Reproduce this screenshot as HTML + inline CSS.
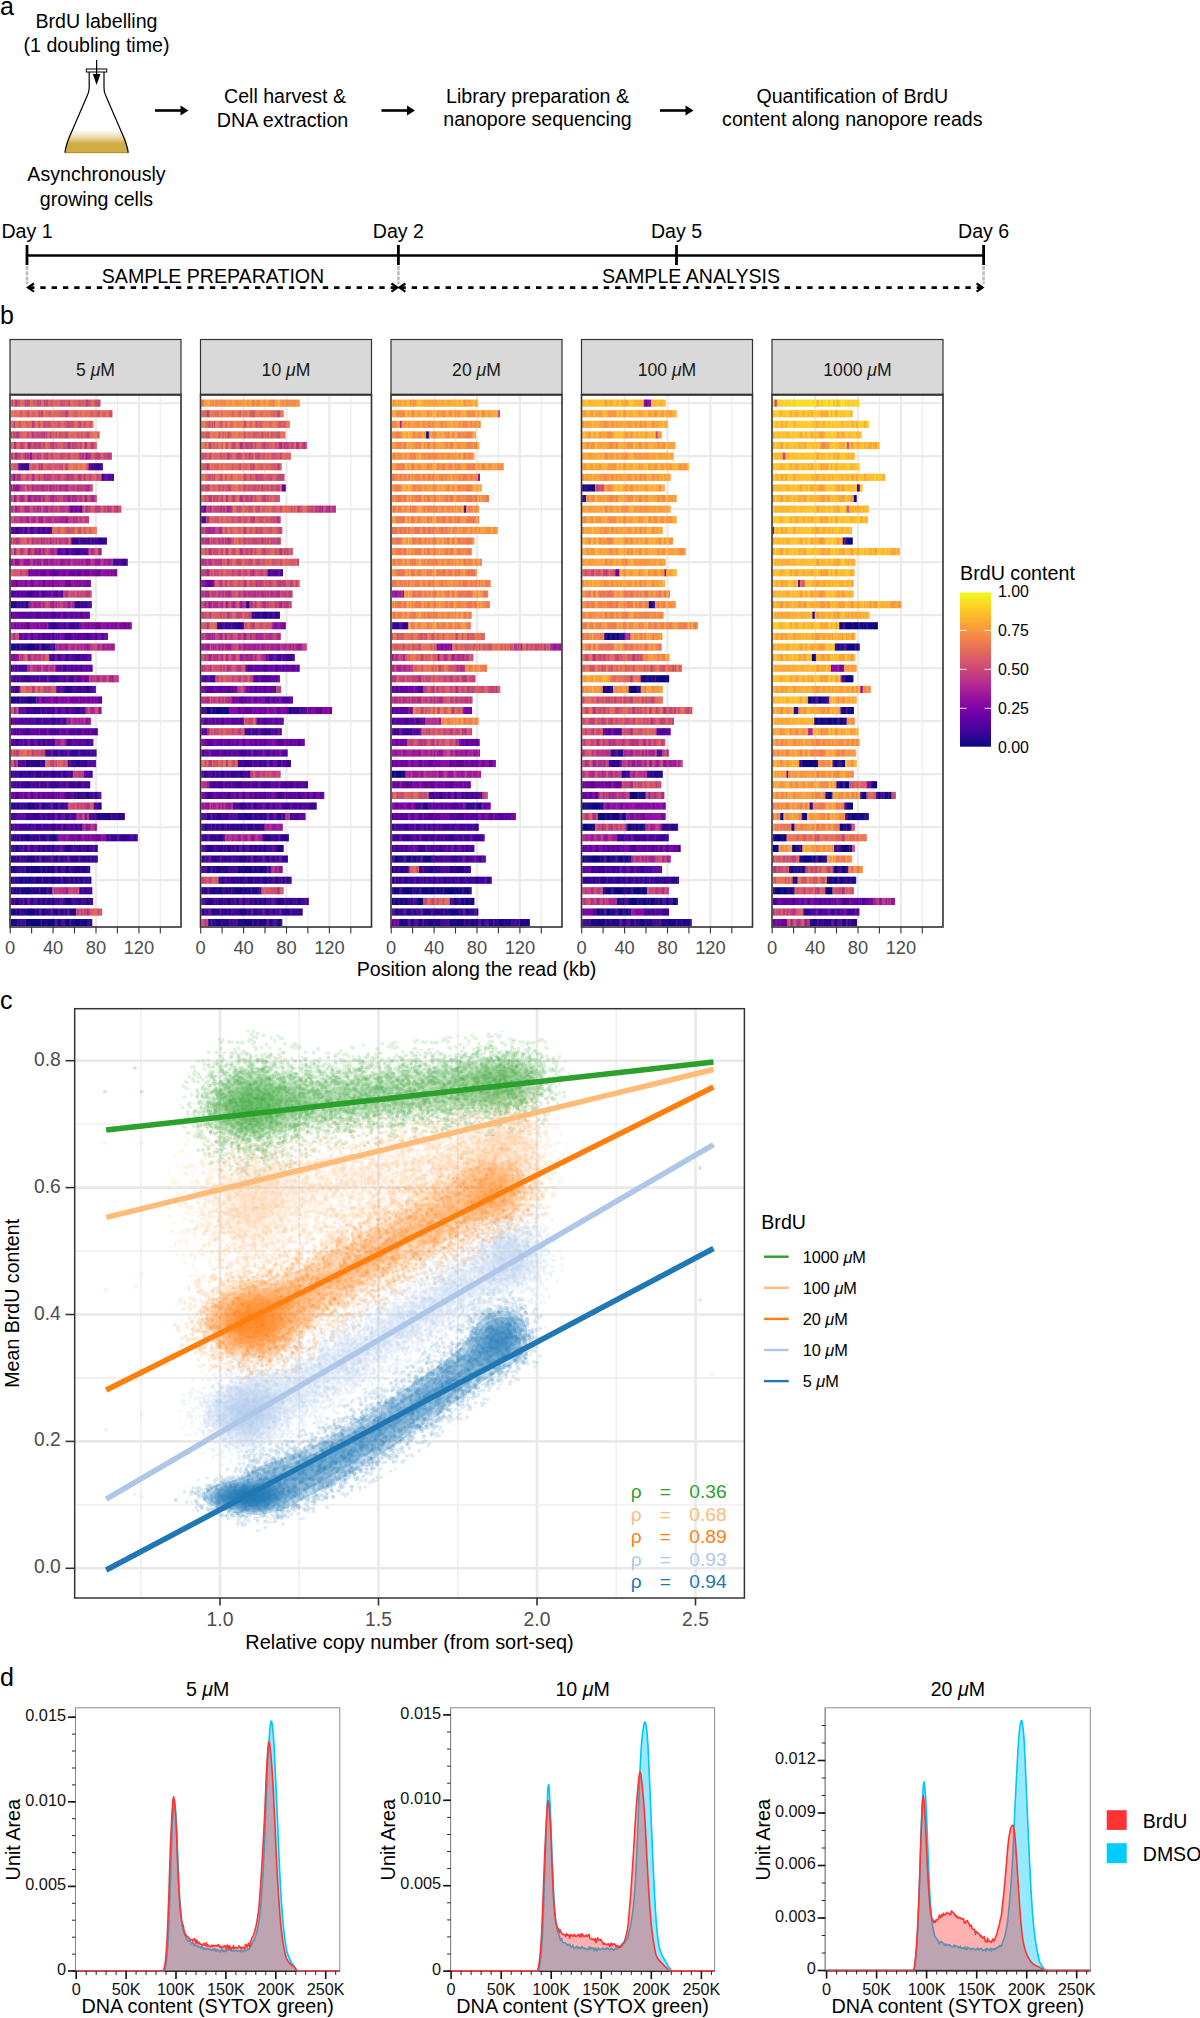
<!DOCTYPE html><html><head><meta charset="utf-8"><style>html,body{margin:0;padding:0;background:#fff;width:1200px;height:2018px;overflow:hidden}svg{display:block;font-family:"Liberation Sans",sans-serif}</style></head><body><svg width="1200" height="2018" viewBox="0 0 1200 2018" font-family="Liberation Sans, sans-serif"><text x="0.0" y="14.5" font-size="25" text-anchor="start" fill="#000" >a</text>
<text x="96.5" y="27.5" font-size="19.6" text-anchor="middle" fill="#000" >BrdU labelling</text>
<text x="96.5" y="51.9" font-size="19.6" text-anchor="middle" fill="#000" >(1 doubling time)</text>
<defs><linearGradient id="liq" x1="0" y1="0" x2="0" y2="1"><stop offset="0" stop-color="#fff" stop-opacity="1"/><stop offset="0.35" stop-color="#e9d7a6"/><stop offset="0.6" stop-color="#d0ac45"/><stop offset="1" stop-color="#d0ac45"/></linearGradient></defs>
<path d="M69.5 130 L123.6 130 Q127 142 128.2 152.7 L65 152.7 Q66 142 69.5 130 Z" fill="url(#liq)"/>
<path d="M65 152.7 L128.2 152.7" fill="none" stroke="#a88a30" stroke-width="1"/>
<path d="M89.2 71 L89.2 88 Q89 92 87.5 95 L69 138 Q65.5 147 65 152.7 M128.2 152.7 Q127.6 147 124 138 L105.5 95 Q104 92 104 88 L104 71" fill="none" stroke="#000" stroke-width="1.2"/>
<rect x="86.3" y="69" width="20.4" height="3" fill="#fff" stroke="#000" stroke-width="1"/>
<line x1="96.6" y1="60" x2="96.6" y2="80" stroke="#000" stroke-width="1.2"/>
<path d="M92.8 74 L100.4 74 L96.6 85 Z" fill="#000"/>
<text x="96.5" y="181.0" font-size="19.6" text-anchor="middle" fill="#000" >Asynchronously</text>
<text x="96.5" y="206.2" font-size="19.6" text-anchor="middle" fill="#000" >growing cells</text>
<line x1="155" y1="110.5" x2="182.5" y2="110.5" stroke="#000" stroke-width="2.6"/>
<path d="M180.5 105.5 L188.5 110.5 L180.5 115.5 Z" fill="#000"/>
<line x1="381.5" y1="110.5" x2="409" y2="110.5" stroke="#000" stroke-width="2.6"/>
<path d="M407 105.5 L415 110.5 L407 115.5 Z" fill="#000"/>
<line x1="660" y1="110.5" x2="687.5" y2="110.5" stroke="#000" stroke-width="2.6"/>
<path d="M685.5 105.5 L693.5 110.5 L685.5 115.5 Z" fill="#000"/>
<text x="285.0" y="102.5" font-size="19.6" text-anchor="middle" fill="#000" >Cell harvest &amp;</text>
<text x="282.6" y="126.5" font-size="19.6" text-anchor="middle" fill="#000" textLength="131.5" lengthAdjust="spacingAndGlyphs">DNA extraction</text>
<text x="537.5" y="102.5" font-size="19.6" text-anchor="middle" fill="#000" >Library preparation &amp;</text>
<text x="537.5" y="126.0" font-size="19.6" text-anchor="middle" fill="#000" >nanopore sequencing</text>
<text x="852.3" y="102.5" font-size="19.6" text-anchor="middle" fill="#000" >Quantification of BrdU</text>
<text x="852.3" y="126.0" font-size="19.6" text-anchor="middle" fill="#000" >content along nanopore reads</text>
<line x1="27" y1="255.5" x2="983.6" y2="255.5" stroke="#000" stroke-width="2.7"/>
<line x1="27" y1="245" x2="27" y2="265" stroke="#000" stroke-width="2.8"/>
<line x1="398.4" y1="245" x2="398.4" y2="265" stroke="#000" stroke-width="2.8"/>
<line x1="676.5" y1="245" x2="676.5" y2="265" stroke="#000" stroke-width="2.8"/>
<line x1="983.6" y1="245" x2="983.6" y2="265" stroke="#000" stroke-width="2.8"/>
<line x1="27" y1="266" x2="27" y2="284" stroke="#bdbdbd" stroke-width="2.6" stroke-dasharray="4 1.2"/>
<line x1="398.4" y1="266" x2="398.4" y2="284" stroke="#bdbdbd" stroke-width="2.6" stroke-dasharray="4 1.2"/>
<line x1="983.6" y1="266" x2="983.6" y2="284" stroke="#bdbdbd" stroke-width="2.6" stroke-dasharray="4 1.2"/>
<text x="27.0" y="238.0" font-size="19.6" text-anchor="middle" fill="#000" >Day 1</text>
<text x="398.4" y="238.0" font-size="19.6" text-anchor="middle" fill="#000" >Day 2</text>
<text x="676.5" y="238.0" font-size="19.6" text-anchor="middle" fill="#000" >Day 5</text>
<text x="983.6" y="238.0" font-size="19.6" text-anchor="middle" fill="#000" >Day 6</text>
<line x1="29" y1="287.6" x2="396.4" y2="287.6" stroke="#000" stroke-width="2.6" stroke-dasharray="5.4 5.9"/>
<path d="M34 283.5 L28 287.6 L34 291.7" fill="none" stroke="#000" stroke-width="2.2"/>
<path d="M391.4 283.5 L397.4 287.6 L391.4 291.7" fill="none" stroke="#000" stroke-width="2.2"/>
<line x1="400.4" y1="287.6" x2="981.6" y2="287.6" stroke="#000" stroke-width="2.6" stroke-dasharray="5.4 5.9"/>
<path d="M405.4 283.5 L399.4 287.6 L405.4 291.7" fill="none" stroke="#000" stroke-width="2.2"/>
<path d="M976.6 283.5 L982.6 287.6 L976.6 291.7" fill="none" stroke="#000" stroke-width="2.2"/>
<text x="213.0" y="282.5" font-size="19.6" text-anchor="middle" fill="#000" >SAMPLE PREPARATION</text>
<text x="691.0" y="282.5" font-size="19.6" text-anchor="middle" fill="#000" >SAMPLE ANALYSIS</text>
<text x="0.0" y="324.0" font-size="25" text-anchor="start" fill="#000" >b</text>
<defs><pattern id="texD" patternUnits="userSpaceOnUse" x="0" y="397.9" width="70.6" height="53"><path d="M0.0 0.0h2.1v10.6h-2.1zM30.0 0.0h1.1v10.6h-1.1zM54.6 0.0h1.1v10.6h-1.1zM65.3 0.0h1.1v10.6h-1.1zM8.6 10.6h1.1v10.6h-1.1zM17.1 10.6h2.1v10.6h-2.1zM9.6 21.2h1.1v10.6h-1.1zM15.0 21.2h1.1v10.6h-1.1zM20.3 21.2h1.1v10.6h-1.1zM65.3 21.2h2.1v10.6h-2.1zM67.4 21.2h1.1v10.6h-1.1zM68.5 21.2h2.1v10.6h-2.1zM27.8 31.8h1.1v10.6h-1.1zM36.4 31.8h2.1v10.6h-2.1zM1.1 42.4h1.1v10.6h-1.1zM7.5 42.4h2.1v10.6h-2.1zM25.7 42.4h2.1v10.6h-2.1zM35.3 42.4h2.1v10.6h-2.1zM52.4 42.4h2.1v10.6h-2.1z" fill="#08005a" fill-opacity="0.25"/><path d="M2.1 0.0h1.1v10.6h-1.1zM6.4 0.0h2.1v10.6h-2.1zM26.8 0.0h1.1v10.6h-1.1zM67.4 0.0h1.1v10.6h-1.1zM35.3 10.6h1.1v10.6h-1.1zM65.3 10.6h1.1v10.6h-1.1zM59.9 31.8h1.1v10.6h-1.1zM69.5 31.8h1.1v10.6h-1.1zM2.1 42.4h2.1v10.6h-2.1zM19.3 42.4h1.1v10.6h-1.1z" fill="#a828a8" fill-opacity="0.15"/><path d="M3.2 0.0h1.1v10.6h-1.1zM61.0 0.0h2.1v10.6h-2.1zM46.0 10.6h1.1v10.6h-1.1zM66.3 10.6h2.1v10.6h-2.1zM2.1 21.2h1.1v10.6h-1.1zM13.9 21.2h1.1v10.6h-1.1zM19.3 21.2h1.1v10.6h-1.1zM22.5 21.2h1.1v10.6h-1.1zM26.8 21.2h2.1v10.6h-2.1zM35.3 21.2h1.1v10.6h-1.1zM54.6 21.2h1.1v10.6h-1.1zM7.5 31.8h2.1v10.6h-2.1zM35.3 31.8h1.1v10.6h-1.1zM57.8 31.8h1.1v10.6h-1.1zM61.0 42.4h1.1v10.6h-1.1z" fill="#a828a8" fill-opacity="0.40"/><path d="M4.3 0.0h2.1v10.6h-2.1zM27.8 0.0h1.1v10.6h-1.1zM42.8 0.0h2.1v10.6h-2.1zM46.0 0.0h1.1v10.6h-1.1zM51.4 0.0h1.1v10.6h-1.1zM2.1 10.6h2.1v10.6h-2.1zM4.3 10.6h1.1v10.6h-1.1zM63.1 10.6h1.1v10.6h-1.1zM4.3 21.2h1.1v10.6h-1.1zM17.1 21.2h2.1v10.6h-2.1zM24.6 21.2h1.1v10.6h-1.1zM25.7 21.2h1.1v10.6h-1.1zM49.2 21.2h1.1v10.6h-1.1zM32.1 31.8h1.1v10.6h-1.1zM33.2 31.8h1.1v10.6h-1.1zM4.3 42.4h1.1v10.6h-1.1zM41.7 42.4h1.1v10.6h-1.1zM67.4 42.4h1.1v10.6h-1.1zM68.5 42.4h1.1v10.6h-1.1z" fill="#08005a" fill-opacity="0.15"/><path d="M8.6 0.0h1.1v10.6h-1.1zM23.5 0.0h1.1v10.6h-1.1zM55.6 0.0h1.1v10.6h-1.1zM58.9 10.6h2.1v10.6h-2.1zM10.7 21.2h2.1v10.6h-2.1zM23.5 21.2h1.1v10.6h-1.1zM58.9 21.2h1.1v10.6h-1.1zM58.9 31.8h1.1v10.6h-1.1zM66.3 31.8h1.1v10.6h-1.1zM17.1 42.4h2.1v10.6h-2.1z" fill="#a828a8" fill-opacity="0.25"/><path d="M9.6 0.0h1.1v10.6h-1.1zM24.6 0.0h1.1v10.6h-1.1zM36.4 0.0h2.1v10.6h-2.1zM52.4 0.0h2.1v10.6h-2.1zM63.1 0.0h2.1v10.6h-2.1zM1.1 10.6h1.1v10.6h-1.1zM15.0 10.6h1.1v10.6h-1.1zM23.5 10.6h1.1v10.6h-1.1zM25.7 10.6h2.1v10.6h-2.1zM27.8 10.6h2.1v10.6h-2.1zM43.9 10.6h1.1v10.6h-1.1zM44.9 10.6h1.1v10.6h-1.1zM53.5 10.6h1.1v10.6h-1.1zM54.6 10.6h1.1v10.6h-1.1zM6.4 21.2h1.1v10.6h-1.1zM12.8 21.2h1.1v10.6h-1.1zM16.1 21.2h1.1v10.6h-1.1zM31.0 21.2h2.1v10.6h-2.1zM42.8 21.2h2.1v10.6h-2.1zM6.4 31.8h1.1v10.6h-1.1zM28.9 31.8h1.1v10.6h-1.1zM30.0 31.8h1.1v10.6h-1.1zM49.2 31.8h1.1v10.6h-1.1zM55.6 31.8h2.1v10.6h-2.1zM62.1 31.8h1.1v10.6h-1.1zM48.2 42.4h1.1v10.6h-1.1z" fill="#08005a" fill-opacity="0.30"/><path d="M10.7 0.0h1.1v10.6h-1.1zM6.4 10.6h2.1v10.6h-2.1zM40.7 10.6h1.1v10.6h-1.1zM57.8 10.6h1.1v10.6h-1.1zM9.6 31.8h1.1v10.6h-1.1zM21.4 31.8h1.1v10.6h-1.1zM33.2 42.4h2.1v10.6h-2.1zM37.5 42.4h2.1v10.6h-2.1z" fill="#08005a" fill-opacity="0.35"/><path d="M11.8 0.0h1.1v10.6h-1.1zM16.1 10.6h1.1v10.6h-1.1zM38.5 10.6h2.1v10.6h-2.1zM47.1 10.6h2.1v10.6h-2.1zM62.1 21.2h2.1v10.6h-2.1zM19.3 31.8h2.1v10.6h-2.1zM22.5 31.8h1.1v10.6h-1.1zM48.2 31.8h1.1v10.6h-1.1zM64.2 31.8h1.1v10.6h-1.1zM20.3 42.4h2.1v10.6h-2.1zM62.1 42.4h2.1v10.6h-2.1z" fill="#a828a8" fill-opacity="0.30"/><path d="M13.9 0.0h1.1v10.6h-1.1zM34.2 0.0h1.1v10.6h-1.1zM41.7 0.0h1.1v10.6h-1.1zM36.4 21.2h1.1v10.6h-1.1zM59.9 21.2h2.1v10.6h-2.1zM39.6 31.8h2.1v10.6h-2.1zM50.3 31.8h2.1v10.6h-2.1zM24.6 42.4h1.1v10.6h-1.1zM54.6 42.4h2.1v10.6h-2.1zM64.2 42.4h1.1v10.6h-1.1z" fill="#a828a8" fill-opacity="0.45"/><path d="M15.0 0.0h1.1v10.6h-1.1zM21.4 0.0h1.1v10.6h-1.1zM22.5 0.0h1.1v10.6h-1.1zM28.9 0.0h1.1v10.6h-1.1zM40.7 0.0h1.1v10.6h-1.1zM0.0 10.6h1.1v10.6h-1.1zM9.6 10.6h1.1v10.6h-1.1zM20.3 10.6h2.1v10.6h-2.1zM36.4 10.6h1.1v10.6h-1.1zM37.5 10.6h1.1v10.6h-1.1zM49.2 10.6h2.1v10.6h-2.1zM51.4 10.6h2.1v10.6h-2.1zM53.5 21.2h1.1v10.6h-1.1zM2.1 31.8h1.1v10.6h-1.1zM17.1 31.8h2.1v10.6h-2.1zM31.0 31.8h1.1v10.6h-1.1zM34.2 31.8h1.1v10.6h-1.1zM41.7 31.8h1.1v10.6h-1.1zM42.8 31.8h2.1v10.6h-2.1zM5.4 42.4h2.1v10.6h-2.1zM27.8 42.4h1.1v10.6h-1.1zM65.3 42.4h2.1v10.6h-2.1z" fill="#08005a" fill-opacity="0.20"/><path d="M17.1 0.0h1.1v10.6h-1.1zM62.1 10.6h1.1v10.6h-1.1zM5.4 21.2h1.1v10.6h-1.1zM28.9 21.2h2.1v10.6h-2.1zM40.7 21.2h1.1v10.6h-1.1zM50.3 21.2h1.1v10.6h-1.1zM38.5 31.8h1.1v10.6h-1.1zM52.4 31.8h1.1v10.6h-1.1zM63.1 31.8h1.1v10.6h-1.1zM40.7 42.4h1.1v10.6h-1.1zM56.7 42.4h1.1v10.6h-1.1z" fill="#a828a8" fill-opacity="0.35"/><path d="M20.3 0.0h1.1v10.6h-1.1zM35.3 0.0h1.1v10.6h-1.1zM38.5 0.0h2.1v10.6h-2.1zM56.7 0.0h1.1v10.6h-1.1zM59.9 0.0h1.1v10.6h-1.1zM24.6 10.6h1.1v10.6h-1.1zM34.2 10.6h1.1v10.6h-1.1zM55.6 10.6h1.1v10.6h-1.1zM61.0 10.6h1.1v10.6h-1.1zM69.5 10.6h1.1v10.6h-1.1zM48.2 21.2h1.1v10.6h-1.1zM55.6 21.2h1.1v10.6h-1.1zM1.1 31.8h1.1v10.6h-1.1zM3.2 31.8h2.1v10.6h-2.1zM5.3 31.8h1.1v10.6h-1.1zM12.8 31.8h1.1v10.6h-1.1zM23.5 31.8h1.1v10.6h-1.1zM26.8 31.8h1.1v10.6h-1.1zM11.8 42.4h1.1v10.6h-1.1zM28.9 42.4h1.1v10.6h-1.1zM30.0 42.4h1.1v10.6h-1.1zM57.8 42.4h1.1v10.6h-1.1zM59.9 42.4h1.1v10.6h-1.1z" fill="#08005a" fill-opacity="0.05"/><path d="M31.0 0.0h1.1v10.6h-1.1zM48.2 0.0h1.1v10.6h-1.1zM66.3 0.0h1.1v10.6h-1.1zM5.4 10.6h1.1v10.6h-1.1zM10.7 10.6h2.1v10.6h-2.1zM3.2 21.2h1.1v10.6h-1.1zM21.4 21.2h1.1v10.6h-1.1zM44.9 21.2h2.1v10.6h-2.1zM10.7 31.8h1.1v10.6h-1.1zM16.1 31.8h1.1v10.6h-1.1zM46.0 31.8h1.1v10.6h-1.1zM0.0 42.4h1.1v10.6h-1.1zM9.6 42.4h1.1v10.6h-1.1zM22.5 42.4h2.1v10.6h-2.1zM46.0 42.4h1.1v10.6h-1.1z" fill="#a828a8" fill-opacity="0.20"/><path d="M32.1 0.0h1.1v10.6h-1.1zM49.2 0.0h2.1v10.6h-2.1zM12.8 10.6h2.1v10.6h-2.1zM22.5 10.6h1.1v10.6h-1.1zM42.8 10.6h1.1v10.6h-1.1zM0.0 21.2h1.1v10.6h-1.1zM7.5 21.2h2.1v10.6h-2.1zM41.7 21.2h1.1v10.6h-1.1zM10.7 42.4h1.1v10.6h-1.1zM43.9 42.4h2.1v10.6h-2.1zM51.4 42.4h1.1v10.6h-1.1z" fill="#a828a8" fill-opacity="0.05"/><path d="M33.2 0.0h1.1v10.6h-1.1zM47.1 0.0h1.1v10.6h-1.1zM68.5 0.0h1.1v10.6h-1.1zM56.7 10.6h1.1v10.6h-1.1zM64.2 10.6h1.1v10.6h-1.1zM68.5 10.6h1.1v10.6h-1.1zM1.1 21.2h1.1v10.6h-1.1zM51.4 21.2h2.1v10.6h-2.1zM57.8 21.2h1.1v10.6h-1.1zM0.0 31.8h1.1v10.6h-1.1zM11.8 31.8h1.1v10.6h-1.1zM47.1 31.8h1.1v10.6h-1.1zM53.5 31.8h1.1v10.6h-1.1zM65.3 31.8h1.1v10.6h-1.1zM39.6 42.4h1.1v10.6h-1.1zM42.8 42.4h1.1v10.6h-1.1zM47.1 42.4h1.1v10.6h-1.1z" fill="#08005a" fill-opacity="0.10"/><path d="M44.9 0.0h1.1v10.6h-1.1zM31.0 10.6h1.1v10.6h-1.1zM34.2 21.2h1.1v10.6h-1.1zM64.2 21.2h1.1v10.6h-1.1zM24.6 31.8h2.1v10.6h-2.1zM44.9 31.8h1.1v10.6h-1.1zM54.6 31.8h1.1v10.6h-1.1zM12.8 42.4h1.1v10.6h-1.1zM16.1 42.4h1.1v10.6h-1.1z" fill="#a828a8" fill-opacity="0.10"/><path d="M69.5 0.0h1.1v10.6h-1.1zM19.3 10.6h1.1v10.6h-1.1zM33.2 21.2h1.1v10.6h-1.1zM56.7 21.2h1.1v10.6h-1.1zM67.4 31.8h2.1v10.6h-2.1zM69.5 42.4h1.1v10.6h-1.1z" fill="#a828a8" fill-opacity="0.50"/></pattern><pattern id="texM" patternUnits="userSpaceOnUse" x="0" y="397.9" width="70.6" height="53"><path d="M0.0 0.0h1.1v10.6h-1.1zM48.2 0.0h1.1v10.6h-1.1zM6.4 10.6h1.1v10.6h-1.1zM7.5 10.6h2.1v10.6h-2.1zM19.3 10.6h1.1v10.6h-1.1zM20.3 21.2h2.1v10.6h-2.1zM35.3 21.2h1.1v10.6h-1.1zM39.6 21.2h1.1v10.6h-1.1zM52.4 21.2h1.1v10.6h-1.1zM5.4 31.8h1.1v10.6h-1.1z" fill="#f89050" fill-opacity="0.35"/><path d="M1.1 0.0h1.1v10.6h-1.1zM7.5 0.0h1.1v10.6h-1.1zM21.4 0.0h2.1v10.6h-2.1zM54.6 0.0h1.1v10.6h-1.1zM57.8 0.0h2.1v10.6h-2.1zM16.1 10.6h1.1v10.6h-1.1zM17.1 10.6h2.1v10.6h-2.1zM6.4 21.2h1.1v10.6h-1.1zM34.2 21.2h1.1v10.6h-1.1zM61.0 21.2h2.1v10.6h-2.1zM63.1 31.8h1.1v10.6h-1.1zM8.6 42.4h1.1v10.6h-1.1zM10.7 42.4h1.1v10.6h-1.1zM40.7 42.4h1.1v10.6h-1.1zM59.9 42.4h1.1v10.6h-1.1z" fill="#f89050" fill-opacity="0.20"/><path d="M2.1 0.0h1.1v10.6h-1.1zM40.7 0.0h1.1v10.6h-1.1zM56.7 0.0h1.1v10.6h-1.1zM0.0 10.6h1.1v10.6h-1.1zM13.9 10.6h2.1v10.6h-2.1zM22.5 10.6h2.1v10.6h-2.1zM24.6 10.6h1.1v10.6h-1.1zM31.0 10.6h1.1v10.6h-1.1zM42.8 10.6h1.1v10.6h-1.1zM40.7 21.2h1.1v10.6h-1.1zM0.0 31.8h1.1v10.6h-1.1zM19.3 31.8h1.1v10.6h-1.1zM31.0 31.8h1.1v10.6h-1.1zM34.2 31.8h1.1v10.6h-1.1zM56.7 31.8h2.1v10.6h-2.1zM32.1 42.4h1.1v10.6h-1.1zM57.8 42.4h1.1v10.6h-1.1zM58.9 42.4h1.1v10.6h-1.1z" fill="#f89050" fill-opacity="0.15"/><path d="M3.2 0.0h2.1v10.6h-2.1zM10.7 0.0h1.1v10.6h-1.1zM23.5 0.0h1.1v10.6h-1.1zM44.9 0.0h1.1v10.6h-1.1zM52.4 0.0h1.1v10.6h-1.1zM67.4 0.0h1.1v10.6h-1.1zM56.7 10.6h2.1v10.6h-2.1zM61.0 10.6h1.1v10.6h-1.1zM69.5 10.6h1.0v10.6h-1.0zM51.4 21.2h1.1v10.6h-1.1zM55.6 21.2h2.1v10.6h-2.1zM69.5 21.2h1.0v10.6h-1.0zM3.2 31.8h1.1v10.6h-1.1zM39.6 31.8h1.1v10.6h-1.1zM61.0 31.8h1.1v10.6h-1.1zM69.5 31.8h1.1v10.6h-1.1zM7.5 42.4h1.1v10.6h-1.1zM31.0 42.4h1.1v10.6h-1.1zM36.4 42.4h1.1v10.6h-1.1zM51.4 42.4h1.1v10.6h-1.1z" fill="#f89050" fill-opacity="0.05"/><path d="M5.3 0.0h2.1v10.6h-2.1zM38.5 0.0h1.1v10.6h-1.1zM42.8 0.0h1.1v10.6h-1.1zM53.5 0.0h1.1v10.6h-1.1zM21.4 10.6h1.1v10.6h-1.1zM35.3 10.6h1.1v10.6h-1.1zM46.0 10.6h1.1v10.6h-1.1zM1.1 21.2h1.1v10.6h-1.1zM41.7 21.2h1.1v10.6h-1.1zM59.9 21.2h1.1v10.6h-1.1zM16.1 42.4h1.1v10.6h-1.1zM19.3 42.4h1.1v10.6h-1.1zM43.9 42.4h1.1v10.6h-1.1z" fill="#f89050" fill-opacity="0.10"/><path d="M8.6 0.0h1.1v10.6h-1.1zM15.0 0.0h2.1v10.6h-2.1zM37.5 0.0h1.1v10.6h-1.1zM39.6 0.0h1.1v10.6h-1.1zM9.6 21.2h1.1v10.6h-1.1zM38.5 21.2h1.1v10.6h-1.1zM32.1 31.8h1.1v10.6h-1.1zM49.2 31.8h2.1v10.6h-2.1zM55.6 31.8h1.1v10.6h-1.1zM66.3 31.8h1.1v10.6h-1.1zM5.3 42.4h1.1v10.6h-1.1zM9.6 42.4h1.1v10.6h-1.1zM13.9 42.4h2.1v10.6h-2.1zM21.4 42.4h1.1v10.6h-1.1zM30.0 42.4h1.1v10.6h-1.1zM35.3 42.4h1.1v10.6h-1.1zM50.3 42.4h1.1v10.6h-1.1zM68.5 42.4h2.1v10.6h-2.1z" fill="#5800a0" fill-opacity="0.35"/><path d="M9.6 0.0h1.1v10.6h-1.1zM12.8 0.0h2.1v10.6h-2.1zM31.0 0.0h2.1v10.6h-2.1zM35.3 0.0h1.1v10.6h-1.1zM65.3 0.0h1.1v10.6h-1.1zM4.3 10.6h1.1v10.6h-1.1zM30.0 10.6h1.1v10.6h-1.1zM43.9 10.6h2.1v10.6h-2.1zM4.3 21.2h2.1v10.6h-2.1zM15.0 21.2h1.1v10.6h-1.1zM28.9 21.2h2.1v10.6h-2.1zM4.3 31.8h1.1v10.6h-1.1zM28.9 31.8h2.1v10.6h-2.1zM44.9 31.8h1.1v10.6h-1.1zM54.6 31.8h1.1v10.6h-1.1zM41.7 42.4h1.1v10.6h-1.1zM44.9 42.4h1.1v10.6h-1.1zM48.2 42.4h2.1v10.6h-2.1zM54.6 42.4h1.1v10.6h-1.1z" fill="#f89050" fill-opacity="0.25"/><path d="M11.8 0.0h1.1v10.6h-1.1zM19.3 0.0h1.1v10.6h-1.1zM27.8 0.0h1.1v10.6h-1.1zM28.9 0.0h1.1v10.6h-1.1zM36.4 0.0h1.1v10.6h-1.1zM51.4 0.0h1.1v10.6h-1.1zM62.1 10.6h1.1v10.6h-1.1zM7.5 21.2h2.1v10.6h-2.1zM6.4 31.8h1.1v10.6h-1.1zM17.1 31.8h2.1v10.6h-2.1zM40.7 31.8h2.1v10.6h-2.1zM46.0 31.8h2.1v10.6h-2.1zM58.9 31.8h1.1v10.6h-1.1zM67.4 31.8h1.1v10.6h-1.1zM1.1 42.4h2.1v10.6h-2.1zM33.2 42.4h1.1v10.6h-1.1z" fill="#5800a0" fill-opacity="0.20"/><path d="M17.1 0.0h1.1v10.6h-1.1zM25.7 0.0h1.1v10.6h-1.1zM33.2 0.0h2.1v10.6h-2.1zM59.9 0.0h2.1v10.6h-2.1zM49.2 10.6h1.1v10.6h-1.1zM59.9 10.6h1.1v10.6h-1.1zM57.8 21.2h2.1v10.6h-2.1zM66.3 21.2h1.1v10.6h-1.1zM12.8 31.8h1.1v10.6h-1.1zM33.2 31.8h1.1v10.6h-1.1zM65.3 31.8h1.1v10.6h-1.1zM63.1 42.4h2.1v10.6h-2.1z" fill="#5800a0" fill-opacity="0.15"/><path d="M18.2 0.0h1.1v10.6h-1.1zM50.3 0.0h1.1v10.6h-1.1zM66.3 0.0h1.1v10.6h-1.1zM69.5 0.0h1.1v10.6h-1.1zM2.1 10.6h2.1v10.6h-2.1zM25.7 10.6h2.1v10.6h-2.1zM32.1 10.6h2.1v10.6h-2.1zM34.2 10.6h1.1v10.6h-1.1zM53.5 10.6h1.1v10.6h-1.1zM58.9 10.6h1.1v10.6h-1.1zM63.1 10.6h2.1v10.6h-2.1zM12.8 21.2h1.1v10.6h-1.1zM17.1 21.2h1.1v10.6h-1.1zM44.9 21.2h1.1v10.6h-1.1zM9.6 31.8h1.1v10.6h-1.1zM13.9 31.8h2.1v10.6h-2.1zM26.8 31.8h2.1v10.6h-2.1zM35.3 31.8h1.1v10.6h-1.1zM3.2 42.4h2.1v10.6h-2.1zM37.5 42.4h1.1v10.6h-1.1zM53.5 42.4h1.1v10.6h-1.1zM66.3 42.4h1.1v10.6h-1.1z" fill="#5800a0" fill-opacity="0.05"/><path d="M20.3 0.0h1.1v10.6h-1.1zM36.4 10.6h2.1v10.6h-2.1zM52.4 10.6h1.1v10.6h-1.1zM16.1 21.2h1.1v10.6h-1.1zM23.5 21.2h2.1v10.6h-2.1zM11.8 31.8h1.1v10.6h-1.1zM24.6 31.8h2.1v10.6h-2.1zM68.5 31.8h1.1v10.6h-1.1zM11.8 42.4h2.1v10.6h-2.1zM24.6 42.4h2.1v10.6h-2.1z" fill="#f89050" fill-opacity="0.45"/><path d="M24.6 0.0h1.1v10.6h-1.1zM26.8 0.0h1.1v10.6h-1.1zM5.4 10.6h1.1v10.6h-1.1zM20.3 10.6h1.1v10.6h-1.1zM67.4 10.6h1.1v10.6h-1.1zM13.9 21.2h1.1v10.6h-1.1zM48.2 21.2h1.1v10.6h-1.1zM67.4 21.2h2.1v10.6h-2.1zM7.5 31.8h1.1v10.6h-1.1zM59.9 31.8h1.1v10.6h-1.1zM62.1 31.8h1.1v10.6h-1.1zM64.2 31.8h1.1v10.6h-1.1zM38.5 42.4h1.1v10.6h-1.1zM42.8 42.4h1.1v10.6h-1.1zM55.6 42.4h1.1v10.6h-1.1z" fill="#5800a0" fill-opacity="0.25"/><path d="M30.0 0.0h1.1v10.6h-1.1zM28.9 10.6h1.1v10.6h-1.1zM22.5 21.2h1.1v10.6h-1.1zM31.0 21.2h1.1v10.6h-1.1zM36.4 21.2h2.1v10.6h-2.1zM42.8 21.2h1.1v10.6h-1.1zM20.3 31.8h2.1v10.6h-2.1zM26.8 42.4h1.1v10.6h-1.1zM56.7 42.4h1.1v10.6h-1.1zM62.1 42.4h1.1v10.6h-1.1zM65.3 42.4h1.1v10.6h-1.1z" fill="#f89050" fill-opacity="0.30"/><path d="M41.7 0.0h1.1v10.6h-1.1zM1.1 10.6h1.1v10.6h-1.1zM10.7 10.6h2.1v10.6h-2.1zM12.8 10.6h1.1v10.6h-1.1zM68.5 10.6h1.1v10.6h-1.1zM3.2 21.2h1.1v10.6h-1.1zM10.7 21.2h2.1v10.6h-2.1zM18.2 21.2h1.1v10.6h-1.1zM63.1 21.2h1.1v10.6h-1.1zM8.6 31.8h1.1v10.6h-1.1zM22.5 31.8h2.1v10.6h-2.1zM48.2 31.8h1.1v10.6h-1.1zM0.0 42.4h1.1v10.6h-1.1zM6.4 42.4h1.1v10.6h-1.1zM17.1 42.4h2.1v10.6h-2.1zM46.0 42.4h2.1v10.6h-2.1zM61.0 42.4h1.1v10.6h-1.1z" fill="#f89050" fill-opacity="0.40"/><path d="M43.9 0.0h1.1v10.6h-1.1zM46.0 0.0h2.1v10.6h-2.1zM68.5 0.0h1.1v10.6h-1.1zM27.8 10.6h1.1v10.6h-1.1zM40.7 10.6h2.1v10.6h-2.1zM0.0 21.2h1.1v10.6h-1.1zM19.3 21.2h1.1v10.6h-1.1zM10.7 31.8h1.1v10.6h-1.1zM16.1 31.8h1.1v10.6h-1.1zM43.9 31.8h1.1v10.6h-1.1zM39.6 42.4h1.1v10.6h-1.1zM67.4 42.4h1.1v10.6h-1.1z" fill="#5800a0" fill-opacity="0.30"/><path d="M55.6 0.0h1.1v10.6h-1.1zM62.1 0.0h1.1v10.6h-1.1zM63.1 0.0h2.1v10.6h-2.1zM9.6 10.6h1.1v10.6h-1.1zM46.0 21.2h2.1v10.6h-2.1zM49.2 21.2h2.1v10.6h-2.1zM64.2 21.2h2.1v10.6h-2.1zM36.4 31.8h1.1v10.6h-1.1zM37.5 31.8h2.1v10.6h-2.1zM42.8 31.8h1.1v10.6h-1.1zM52.4 31.8h2.1v10.6h-2.1zM20.3 42.4h1.1v10.6h-1.1zM34.2 42.4h1.1v10.6h-1.1z" fill="#5800a0" fill-opacity="0.10"/><path d="M38.5 10.6h1.1v10.6h-1.1zM65.3 10.6h2.1v10.6h-2.1zM2.1 21.2h1.1v10.6h-1.1zM32.1 21.2h2.1v10.6h-2.1zM43.9 21.2h1.1v10.6h-1.1zM27.8 42.4h2.1v10.6h-2.1zM52.4 42.4h1.1v10.6h-1.1z" fill="#5800a0" fill-opacity="0.40"/></pattern><pattern id="texB" patternUnits="userSpaceOnUse" x="0" y="397.9" width="70.6" height="53"><path d="M0.0 0.0h1.1v10.6h-1.1zM11.8 0.0h2.1v10.6h-2.1zM26.8 10.6h1.1v10.6h-1.1zM48.2 10.6h1.1v10.6h-1.1zM21.4 21.2h1.1v10.6h-1.1zM41.7 21.2h2.1v10.6h-2.1zM51.4 21.2h1.1v10.6h-1.1zM58.9 21.2h1.1v10.6h-1.1zM63.1 21.2h1.1v10.6h-1.1zM5.4 31.8h1.1v10.6h-1.1zM11.8 31.8h1.1v10.6h-1.1zM28.9 31.8h1.1v10.6h-1.1zM35.3 31.8h2.1v10.6h-2.1zM47.1 31.8h1.1v10.6h-1.1zM48.2 31.8h1.1v10.6h-1.1zM0.0 42.4h2.1v10.6h-2.1zM10.7 42.4h2.1v10.6h-2.1zM13.9 42.4h1.1v10.6h-1.1zM41.7 42.4h1.1v10.6h-1.1zM55.6 42.4h1.1v10.6h-1.1zM58.9 42.4h1.1v10.6h-1.1zM64.2 42.4h1.1v10.6h-1.1z" fill="#e85a60" fill-opacity="0.10"/><path d="M1.1 0.0h1.1v10.6h-1.1zM3.2 0.0h1.1v10.6h-1.1zM16.1 0.0h1.1v10.6h-1.1zM40.7 0.0h2.1v10.6h-2.1zM59.9 0.0h2.1v10.6h-2.1zM68.5 0.0h1.1v10.6h-1.1zM12.8 10.6h2.1v10.6h-2.1zM20.3 10.6h1.1v10.6h-1.1zM34.2 10.6h1.1v10.6h-1.1zM35.3 10.6h1.1v10.6h-1.1zM58.9 10.6h2.1v10.6h-2.1zM18.2 21.2h1.1v10.6h-1.1zM39.6 21.2h2.1v10.6h-2.1zM46.0 21.2h1.1v10.6h-1.1zM52.4 21.2h1.1v10.6h-1.1zM69.5 21.2h1.1v10.6h-1.1zM61.0 31.8h2.1v10.6h-2.1zM9.6 42.4h1.1v10.6h-1.1zM17.1 42.4h1.1v10.6h-1.1zM47.1 42.4h1.1v10.6h-1.1zM62.1 42.4h2.1v10.6h-2.1z" fill="#e85a60" fill-opacity="0.25"/><path d="M2.1 0.0h1.1v10.6h-1.1zM37.5 0.0h2.1v10.6h-2.1zM55.6 0.0h1.1v10.6h-1.1zM2.1 10.6h1.1v10.6h-1.1zM55.6 10.6h2.1v10.6h-2.1zM69.5 10.6h1.0v10.6h-1.0zM10.7 21.2h1.1v10.6h-1.1zM13.9 21.2h1.1v10.6h-1.1zM59.9 21.2h1.1v10.6h-1.1zM3.2 31.8h1.1v10.6h-1.1zM7.5 31.8h1.1v10.6h-1.1zM13.9 31.8h1.1v10.6h-1.1zM18.2 31.8h2.1v10.6h-2.1zM12.8 42.4h1.1v10.6h-1.1zM15.0 42.4h2.1v10.6h-2.1zM24.6 42.4h1.1v10.6h-1.1zM30.0 42.4h2.1v10.6h-2.1zM53.5 42.4h2.1v10.6h-2.1zM56.7 42.4h1.1v10.6h-1.1zM69.5 42.4h1.1v10.6h-1.1z" fill="#ffe840" fill-opacity="0.40"/><path d="M4.3 0.0h1.1v10.6h-1.1zM24.6 0.0h2.1v10.6h-2.1zM36.4 0.0h1.1v10.6h-1.1zM57.8 0.0h2.1v10.6h-2.1zM6.4 10.6h2.1v10.6h-2.1zM21.4 10.6h1.1v10.6h-1.1zM41.7 10.6h1.1v10.6h-1.1zM64.2 10.6h2.1v10.6h-2.1zM15.0 21.2h1.1v10.6h-1.1zM28.9 21.2h1.1v10.6h-1.1zM8.6 31.8h2.1v10.6h-2.1zM10.7 31.8h1.1v10.6h-1.1zM58.9 31.8h2.1v10.6h-2.1zM21.4 42.4h1.1v10.6h-1.1zM42.8 42.4h1.1v10.6h-1.1z" fill="#e85a60" fill-opacity="0.05"/><path d="M5.4 0.0h1.1v10.6h-1.1zM9.6 0.0h1.1v10.6h-1.1zM3.2 10.6h2.1v10.6h-2.1zM18.2 10.6h2.1v10.6h-2.1zM25.7 21.2h1.1v10.6h-1.1zM36.4 21.2h1.1v10.6h-1.1zM55.6 21.2h1.1v10.6h-1.1zM19.3 42.4h1.1v10.6h-1.1zM23.5 42.4h1.1v10.6h-1.1zM48.2 42.4h1.1v10.6h-1.1zM65.3 42.4h2.1v10.6h-2.1z" fill="#e85a60" fill-opacity="0.20"/><path d="M6.4 0.0h1.1v10.6h-1.1zM9.6 10.6h1.1v10.6h-1.1zM32.1 10.6h1.1v10.6h-1.1zM33.2 10.6h1.1v10.6h-1.1zM51.4 10.6h1.1v10.6h-1.1zM61.0 10.6h1.1v10.6h-1.1zM66.3 10.6h2.1v10.6h-2.1zM48.2 21.2h1.1v10.6h-1.1zM49.2 21.2h2.1v10.6h-2.1zM0.0 31.8h2.1v10.6h-2.1zM20.3 31.8h1.1v10.6h-1.1zM21.4 31.8h1.1v10.6h-1.1zM27.8 31.8h1.1v10.6h-1.1zM64.2 31.8h1.1v10.6h-1.1z" fill="#ffe840" fill-opacity="0.10"/><path d="M7.5 0.0h1.1v10.6h-1.1zM18.2 0.0h1.1v10.6h-1.1zM31.0 0.0h1.1v10.6h-1.1zM48.2 0.0h1.1v10.6h-1.1zM51.4 0.0h2.1v10.6h-2.1zM25.7 10.6h1.1v10.6h-1.1zM27.8 10.6h1.1v10.6h-1.1zM1.1 21.2h1.1v10.6h-1.1zM35.3 21.2h1.1v10.6h-1.1zM2.1 31.8h1.1v10.6h-1.1zM30.0 31.8h1.1v10.6h-1.1zM41.7 31.8h1.1v10.6h-1.1zM66.3 31.8h2.1v10.6h-2.1zM36.4 42.4h1.1v10.6h-1.1zM39.6 42.4h1.1v10.6h-1.1zM43.9 42.4h1.1v10.6h-1.1z" fill="#e85a60" fill-opacity="0.15"/><path d="M8.6 0.0h1.1v10.6h-1.1zM22.5 0.0h2.1v10.6h-2.1zM27.8 0.0h2.1v10.6h-2.1zM54.6 0.0h1.1v10.6h-1.1zM15.0 10.6h2.1v10.6h-2.1zM23.5 10.6h2.1v10.6h-2.1zM0.0 21.2h1.1v10.6h-1.1zM43.9 21.2h1.1v10.6h-1.1zM64.2 21.2h1.1v10.6h-1.1zM37.5 31.8h1.1v10.6h-1.1zM40.7 31.8h1.1v10.6h-1.1zM35.3 42.4h1.1v10.6h-1.1z" fill="#ffe840" fill-opacity="0.05"/><path d="M13.9 0.0h1.1v10.6h-1.1zM34.2 0.0h2.1v10.6h-2.1zM64.2 0.0h1.1v10.6h-1.1zM17.1 10.6h1.1v10.6h-1.1zM38.5 10.6h1.1v10.6h-1.1zM42.8 10.6h1.1v10.6h-1.1zM11.8 21.2h2.1v10.6h-2.1zM22.5 21.2h1.1v10.6h-1.1zM33.2 21.2h1.1v10.6h-1.1zM4.3 31.8h1.1v10.6h-1.1zM17.1 31.8h1.1v10.6h-1.1zM56.7 31.8h1.1v10.6h-1.1zM68.5 31.8h1.1v10.6h-1.1zM59.9 42.4h2.1v10.6h-2.1z" fill="#ffe840" fill-opacity="0.15"/><path d="M15.0 0.0h1.1v10.6h-1.1zM65.3 0.0h1.1v10.6h-1.1zM69.5 0.0h1.1v10.6h-1.1zM2.1 21.2h2.1v10.6h-2.1zM16.1 21.2h1.1v10.6h-1.1zM56.7 21.2h2.1v10.6h-2.1zM15.0 31.8h1.1v10.6h-1.1zM22.5 31.8h1.1v10.6h-1.1zM25.7 31.8h1.1v10.6h-1.1zM6.4 42.4h2.1v10.6h-2.1zM20.3 42.4h1.1v10.6h-1.1zM57.8 42.4h1.1v10.6h-1.1z" fill="#ffe840" fill-opacity="0.25"/><path d="M17.1 0.0h1.1v10.6h-1.1zM21.4 0.0h1.1v10.6h-1.1zM30.0 0.0h1.1v10.6h-1.1zM49.2 0.0h2.1v10.6h-2.1zM53.5 0.0h1.1v10.6h-1.1zM63.1 0.0h1.1v10.6h-1.1zM28.9 10.6h2.1v10.6h-2.1zM39.6 10.6h2.1v10.6h-2.1zM62.1 10.6h2.1v10.6h-2.1zM7.5 21.2h1.1v10.6h-1.1zM37.5 21.2h1.1v10.6h-1.1zM44.9 21.2h1.1v10.6h-1.1zM53.5 21.2h1.1v10.6h-1.1zM68.5 21.2h1.1v10.6h-1.1zM2.1 42.4h1.1v10.6h-1.1z" fill="#ffe840" fill-opacity="0.35"/><path d="M20.3 0.0h1.1v10.6h-1.1zM26.8 0.0h1.1v10.6h-1.1zM42.8 0.0h2.1v10.6h-2.1zM0.0 10.6h2.1v10.6h-2.1zM5.3 10.6h1.1v10.6h-1.1zM36.4 10.6h1.1v10.6h-1.1zM37.5 10.6h1.1v10.6h-1.1zM68.5 10.6h1.1v10.6h-1.1zM19.3 21.2h2.1v10.6h-2.1zM30.0 21.2h2.1v10.6h-2.1zM32.1 21.2h1.1v10.6h-1.1zM34.2 21.2h1.1v10.6h-1.1zM66.3 21.2h2.1v10.6h-2.1zM16.1 31.8h1.1v10.6h-1.1zM33.2 31.8h1.1v10.6h-1.1zM63.1 31.8h1.1v10.6h-1.1zM8.6 42.4h1.1v10.6h-1.1zM32.1 42.4h1.1v10.6h-1.1zM37.5 42.4h2.1v10.6h-2.1z" fill="#ffe840" fill-opacity="0.20"/><path d="M32.1 0.0h2.1v10.6h-2.1zM6.4 31.8h1.1v10.6h-1.1zM12.8 31.8h1.1v10.6h-1.1zM51.4 31.8h1.1v10.6h-1.1zM69.5 31.8h1.1v10.6h-1.1zM40.7 42.4h1.1v10.6h-1.1zM49.2 42.4h1.1v10.6h-1.1z" fill="#ffe840" fill-opacity="0.30"/><path d="M39.6 0.0h1.1v10.6h-1.1zM44.9 0.0h1.1v10.6h-1.1zM62.1 0.0h1.1v10.6h-1.1zM31.0 10.6h1.1v10.6h-1.1zM47.1 10.6h1.1v10.6h-1.1zM49.2 10.6h2.1v10.6h-2.1zM4.3 21.2h2.1v10.6h-2.1zM8.6 21.2h2.1v10.6h-2.1zM38.5 21.2h1.1v10.6h-1.1zM47.1 21.2h1.1v10.6h-1.1zM23.5 31.8h2.1v10.6h-2.1zM34.2 31.8h1.1v10.6h-1.1zM42.8 31.8h2.1v10.6h-2.1zM65.3 31.8h1.1v10.6h-1.1zM3.2 42.4h2.1v10.6h-2.1zM25.7 42.4h1.1v10.6h-1.1zM27.8 42.4h2.1v10.6h-2.1zM44.9 42.4h1.1v10.6h-1.1zM46.0 42.4h1.1v10.6h-1.1zM50.3 42.4h1.1v10.6h-1.1zM51.4 42.4h2.1v10.6h-2.1zM67.4 42.4h1.1v10.6h-1.1z" fill="#e85a60" fill-opacity="0.30"/><path d="M56.7 0.0h1.1v10.6h-1.1zM43.9 10.6h2.1v10.6h-2.1zM54.6 10.6h1.1v10.6h-1.1zM17.1 21.2h1.1v10.6h-1.1zM65.3 21.2h1.1v10.6h-1.1zM44.9 31.8h2.1v10.6h-2.1zM5.3 42.4h1.1v10.6h-1.1zM22.5 42.4h1.1v10.6h-1.1z" fill="#e85a60" fill-opacity="0.35"/><path d="M66.3 0.0h2.1v10.6h-2.1zM22.5 10.6h1.1v10.6h-1.1zM52.4 10.6h2.1v10.6h-2.1zM24.6 21.2h1.1v10.6h-1.1zM26.8 21.2h2.1v10.6h-2.1zM31.0 31.8h2.1v10.6h-2.1zM49.2 31.8h2.1v10.6h-2.1zM52.4 31.8h1.1v10.6h-1.1zM57.8 31.8h1.1v10.6h-1.1zM18.2 42.4h1.1v10.6h-1.1zM68.5 42.4h1.1v10.6h-1.1z" fill="#ffe840" fill-opacity="0.45"/><path d="M8.6 10.6h1.1v10.6h-1.1zM10.7 10.6h2.1v10.6h-2.1zM26.8 31.8h1.1v10.6h-1.1zM54.6 31.8h1.1v10.6h-1.1zM55.6 31.8h1.1v10.6h-1.1z" fill="#ffe840" fill-opacity="0.50"/></pattern></defs>
<rect x="10.0" y="394.5" width="171" height="532.5" fill="#fff"/>
<line x1="31.6" y1="394.5" x2="31.6" y2="927" stroke="#eeeeee" stroke-width="1.3"/>
<line x1="74.5" y1="394.5" x2="74.5" y2="927" stroke="#eeeeee" stroke-width="1.3"/>
<line x1="117.4" y1="394.5" x2="117.4" y2="927" stroke="#eeeeee" stroke-width="1.3"/>
<line x1="160.3" y1="394.5" x2="160.3" y2="927" stroke="#eeeeee" stroke-width="1.3"/>
<line x1="53.1" y1="394.5" x2="53.1" y2="927" stroke="#ebebeb" stroke-width="2.3"/>
<line x1="96.0" y1="394.5" x2="96.0" y2="927" stroke="#ebebeb" stroke-width="2.3"/>
<line x1="138.9" y1="394.5" x2="138.9" y2="927" stroke="#ebebeb" stroke-width="2.3"/>
<line x1="10.0" y1="403.2" x2="181.0" y2="403.2" stroke="#ebebeb" stroke-width="2.2"/>
<line x1="10.0" y1="456.2" x2="181.0" y2="456.2" stroke="#ebebeb" stroke-width="2.2"/>
<line x1="10.0" y1="509.2" x2="181.0" y2="509.2" stroke="#ebebeb" stroke-width="2.2"/>
<line x1="10.0" y1="562.2" x2="181.0" y2="562.2" stroke="#ebebeb" stroke-width="2.2"/>
<line x1="10.0" y1="615.2" x2="181.0" y2="615.2" stroke="#ebebeb" stroke-width="2.2"/>
<line x1="10.0" y1="668.2" x2="181.0" y2="668.2" stroke="#ebebeb" stroke-width="2.2"/>
<line x1="10.0" y1="721.2" x2="181.0" y2="721.2" stroke="#ebebeb" stroke-width="2.2"/>
<line x1="10.0" y1="774.2" x2="181.0" y2="774.2" stroke="#ebebeb" stroke-width="2.2"/>
<line x1="10.0" y1="827.2" x2="181.0" y2="827.2" stroke="#ebebeb" stroke-width="2.2"/>
<line x1="10.0" y1="880.2" x2="181.0" y2="880.2" stroke="#ebebeb" stroke-width="2.2"/>
<rect x="10.7" y="399.6" width="89.8" height="7.1" fill="#dd5e66"/>
<rect x="10.7" y="410.2" width="101.7" height="7.1" fill="#e16462"/>
<rect x="10.7" y="420.8" width="82.7" height="7.1" fill="#dd5e66"/>
<rect x="10.7" y="431.4" width="37.1" height="7.1" fill="#d04d73"/>
<rect x="47.5" y="431.4" width="52.2" height="7.1" fill="#e16462"/>
<rect x="10.7" y="442.0" width="86.2" height="7.1" fill="#d24f71"/>
<rect x="10.7" y="452.6" width="19.7" height="7.1" fill="#cc4778"/>
<rect x="30.1" y="452.6" width="2.7" height="7.1" fill="#8f0da4"/>
<rect x="32.5" y="452.6" width="47.0" height="7.1" fill="#d6556d"/>
<rect x="79.2" y="452.6" width="13.0" height="7.1" fill="#b6308b"/>
<rect x="91.8" y="452.6" width="20.1" height="7.1" fill="#d04d73"/>
<rect x="10.7" y="463.2" width="7.8" height="7.1" fill="#cc4778"/>
<rect x="18.2" y="463.2" width="11.4" height="7.1" fill="#4903a0"/>
<rect x="29.3" y="463.2" width="34.3" height="7.1" fill="#d6556d"/>
<rect x="63.3" y="463.2" width="23.3" height="7.1" fill="#ea7457"/>
<rect x="86.3" y="463.2" width="2.7" height="7.1" fill="#bf3984"/>
<rect x="88.7" y="463.2" width="14.2" height="7.1" fill="#4903a0"/>
<rect x="10.7" y="473.8" width="10.2" height="7.1" fill="#a11b9b"/>
<rect x="20.6" y="473.8" width="81.0" height="7.1" fill="#cc4778"/>
<rect x="101.3" y="473.8" width="12.7" height="7.1" fill="#4903a0"/>
<rect x="10.7" y="484.4" width="14.9" height="7.1" fill="#a11b9b"/>
<rect x="25.3" y="484.4" width="67.6" height="7.1" fill="#bf3984"/>
<rect x="10.7" y="495.0" width="86.2" height="7.1" fill="#b6308b"/>
<rect x="10.7" y="505.6" width="59.3" height="7.1" fill="#bf3984"/>
<rect x="69.7" y="505.6" width="13.0" height="7.1" fill="#7e03a8"/>
<rect x="82.3" y="505.6" width="39.1" height="7.1" fill="#d04d73"/>
<rect x="10.7" y="516.2" width="78.4" height="7.1" fill="#b12a90"/>
<rect x="10.7" y="526.9" width="41.8" height="7.1" fill="#4903a0"/>
<rect x="52.2" y="526.9" width="44.6" height="7.1" fill="#e56a5d"/>
<rect x="10.7" y="537.5" width="60.8" height="7.1" fill="#cc4778"/>
<rect x="71.2" y="537.5" width="35.8" height="7.1" fill="#38049a"/>
<rect x="10.7" y="548.1" width="24.4" height="7.1" fill="#cc4778"/>
<rect x="34.8" y="548.1" width="22.5" height="7.1" fill="#b12a90"/>
<rect x="57.0" y="548.1" width="32.0" height="7.1" fill="#4903a0"/>
<rect x="88.7" y="548.1" width="13.0" height="7.1" fill="#bf3984"/>
<rect x="9.5" y="558.7" width="103.2" height="7.1" fill="#a11b9b"/>
<rect x="112.4" y="558.7" width="15.4" height="7.1" fill="#4903a0"/>
<rect x="10.7" y="569.2" width="18.1" height="7.1" fill="#cc4778"/>
<rect x="28.5" y="569.2" width="60.5" height="7.1" fill="#7e03a8"/>
<rect x="88.7" y="569.2" width="28.5" height="7.1" fill="#8f0da4"/>
<rect x="10.7" y="579.9" width="80.3" height="7.1" fill="#8f0da4"/>
<rect x="10.7" y="590.5" width="52.9" height="7.1" fill="#5801a4"/>
<rect x="63.3" y="590.5" width="28.5" height="7.1" fill="#cc4778"/>
<rect x="10.7" y="601.1" width="18.1" height="7.1" fill="#20068f"/>
<rect x="28.5" y="601.1" width="46.2" height="7.1" fill="#b12a90"/>
<rect x="74.4" y="601.1" width="17.4" height="7.1" fill="#38049a"/>
<rect x="10.7" y="611.7" width="79.2" height="7.1" fill="#6300a7"/>
<rect x="10.7" y="622.2" width="37.1" height="7.1" fill="#8f0da4"/>
<rect x="47.5" y="622.2" width="32.0" height="7.1" fill="#4903a0"/>
<rect x="79.2" y="622.2" width="52.6" height="7.1" fill="#8f0da4"/>
<rect x="10.7" y="632.9" width="8.6" height="7.1" fill="#bf3984"/>
<rect x="19.0" y="632.9" width="89.0" height="7.1" fill="#5801a4"/>
<rect x="10.7" y="643.5" width="45.0" height="7.1" fill="#20068f"/>
<rect x="55.4" y="643.5" width="59.4" height="7.1" fill="#ab2494"/>
<rect x="10.7" y="654.0" width="8.6" height="7.1" fill="#8f0da4"/>
<rect x="19.0" y="654.0" width="30.4" height="7.1" fill="#cc4778"/>
<rect x="49.1" y="654.0" width="42.4" height="7.1" fill="#4903a0"/>
<rect x="10.7" y="664.7" width="16.5" height="7.1" fill="#4903a0"/>
<rect x="26.9" y="664.7" width="28.8" height="7.1" fill="#b6308b"/>
<rect x="55.4" y="664.7" width="37.2" height="7.1" fill="#5801a4"/>
<rect x="10.7" y="675.2" width="64.0" height="7.1" fill="#4903a0"/>
<rect x="74.4" y="675.2" width="14.6" height="7.1" fill="#7e03a8"/>
<rect x="88.7" y="675.2" width="30.1" height="7.1" fill="#b6308b"/>
<rect x="10.7" y="685.9" width="9.4" height="7.1" fill="#4903a0"/>
<rect x="19.8" y="685.9" width="36.7" height="7.1" fill="#d6556d"/>
<rect x="56.2" y="685.9" width="39.6" height="7.1" fill="#38049a"/>
<rect x="10.7" y="696.5" width="26.0" height="7.1" fill="#20068f"/>
<rect x="36.4" y="696.5" width="65.7" height="7.1" fill="#7e03a8"/>
<rect x="10.7" y="707.0" width="7.8" height="7.1" fill="#bf3984"/>
<rect x="18.2" y="707.0" width="67.6" height="7.1" fill="#4903a0"/>
<rect x="85.5" y="707.0" width="16.1" height="7.1" fill="#b12a90"/>
<rect x="10.7" y="717.7" width="21.3" height="7.1" fill="#5801a4"/>
<rect x="31.7" y="717.7" width="35.1" height="7.1" fill="#4903a0"/>
<rect x="66.5" y="717.7" width="24.5" height="7.1" fill="#a11b9b"/>
<rect x="10.7" y="728.2" width="87.1" height="7.1" fill="#6300a7"/>
<rect x="10.7" y="738.9" width="45.0" height="7.1" fill="#4903a0"/>
<rect x="55.4" y="738.9" width="11.4" height="7.1" fill="#a11b9b"/>
<rect x="66.5" y="738.9" width="26.9" height="7.1" fill="#5302a3"/>
<rect x="10.7" y="749.5" width="34.7" height="7.1" fill="#d6556d"/>
<rect x="45.1" y="749.5" width="51.5" height="7.1" fill="#38049a"/>
<rect x="10.7" y="760.0" width="7.0" height="7.1" fill="#bf3984"/>
<rect x="17.4" y="760.0" width="28.0" height="7.1" fill="#38049a"/>
<rect x="45.1" y="760.0" width="23.3" height="7.1" fill="#d6556d"/>
<rect x="68.1" y="760.0" width="28.0" height="7.1" fill="#38049a"/>
<rect x="10.7" y="770.7" width="62.4" height="7.1" fill="#38049a"/>
<rect x="72.8" y="770.7" width="11.4" height="7.1" fill="#bf3984"/>
<rect x="83.9" y="770.7" width="8.7" height="7.1" fill="#4903a0"/>
<rect x="10.7" y="781.2" width="79.5" height="7.1" fill="#4903a0"/>
<rect x="10.7" y="791.9" width="62.4" height="7.1" fill="#6c00a8"/>
<rect x="72.8" y="791.9" width="28.5" height="7.1" fill="#2e0595"/>
<rect x="10.7" y="802.5" width="57.7" height="7.1" fill="#2e0595"/>
<rect x="68.1" y="802.5" width="25.6" height="7.1" fill="#cc4778"/>
<rect x="93.4" y="802.5" width="8.2" height="7.1" fill="#4903a0"/>
<rect x="10.7" y="813.0" width="65.6" height="7.1" fill="#4903a0"/>
<rect x="76.0" y="813.0" width="13.0" height="7.1" fill="#a11b9b"/>
<rect x="88.7" y="813.0" width="36.1" height="7.1" fill="#2e0595"/>
<rect x="10.7" y="823.7" width="71.9" height="7.1" fill="#4903a0"/>
<rect x="82.3" y="823.7" width="14.6" height="7.1" fill="#a11b9b"/>
<rect x="10.7" y="834.2" width="46.6" height="7.1" fill="#2e0595"/>
<rect x="57.0" y="834.2" width="49.4" height="7.1" fill="#8f0da4"/>
<rect x="106.1" y="834.2" width="31.7" height="7.1" fill="#38049a"/>
<rect x="10.7" y="844.9" width="87.1" height="7.1" fill="#38049a"/>
<rect x="10.7" y="855.5" width="87.1" height="7.1" fill="#2e0595"/>
<rect x="10.7" y="866.0" width="79.5" height="7.1" fill="#20068f"/>
<rect x="10.7" y="876.7" width="80.7" height="7.1" fill="#20068f"/>
<rect x="10.7" y="887.2" width="41.8" height="7.1" fill="#20068f"/>
<rect x="52.2" y="887.2" width="27.2" height="7.1" fill="#bf3984"/>
<rect x="79.2" y="887.2" width="13.1" height="7.1" fill="#38049a"/>
<rect x="10.7" y="897.9" width="82.4" height="7.1" fill="#2e0595"/>
<rect x="10.7" y="908.5" width="65.6" height="7.1" fill="#20068f"/>
<rect x="76.0" y="908.5" width="26.1" height="7.1" fill="#d04d73"/>
<rect x="10.7" y="919.0" width="81.6" height="7.1" fill="#100788"/>
<path d="M30.1 452.6h2.7v7.1h-2.7zM18.2 463.2h11.4v7.1h-11.4zM88.7 463.2h14.2v7.1h-14.2zM101.3 473.8h12.7v7.1h-12.7zM69.7 505.6h13.0v7.1h-13.0zM10.7 526.9h41.8v7.1h-41.8zM71.2 537.5h35.8v7.1h-35.8zM57.0 548.1h32.0v7.1h-32.0zM112.4 558.7h15.4v7.1h-15.4zM28.5 569.2h60.5v7.1h-60.5zM88.7 569.2h28.5v7.1h-28.5zM10.7 579.9h80.3v7.1h-80.3zM10.7 590.5h52.9v7.1h-52.9zM10.7 601.1h18.1v7.1h-18.1zM74.4 601.1h17.4v7.1h-17.4zM10.7 611.7h79.2v7.1h-79.2zM10.7 622.2h37.1v7.1h-37.1zM47.5 622.2h32.0v7.1h-32.0zM79.2 622.2h52.6v7.1h-52.6zM19.0 632.9h89.0v7.1h-89.0zM10.7 643.5h45.0v7.1h-45.0zM10.7 654.0h8.6v7.1h-8.6zM49.1 654.0h42.4v7.1h-42.4zM10.7 664.7h16.5v7.1h-16.5zM55.4 664.7h37.2v7.1h-37.2zM10.7 675.2h64.0v7.1h-64.0zM74.4 675.2h14.6v7.1h-14.6zM10.7 685.9h9.4v7.1h-9.4zM56.2 685.9h39.6v7.1h-39.6zM10.7 696.5h26.0v7.1h-26.0zM36.4 696.5h65.7v7.1h-65.7zM18.2 707.0h67.6v7.1h-67.6zM10.7 717.7h21.3v7.1h-21.3zM31.7 717.7h35.1v7.1h-35.1zM10.7 728.2h87.1v7.1h-87.1zM10.7 738.9h45.0v7.1h-45.0zM66.5 738.9h26.9v7.1h-26.9zM45.1 749.5h51.5v7.1h-51.5zM17.4 760.0h28.0v7.1h-28.0zM68.1 760.0h28.0v7.1h-28.0zM10.7 770.7h62.4v7.1h-62.4zM83.9 770.7h8.7v7.1h-8.7zM10.7 781.2h79.5v7.1h-79.5zM10.7 791.9h62.4v7.1h-62.4zM72.8 791.9h28.5v7.1h-28.5zM10.7 802.5h57.7v7.1h-57.7zM93.4 802.5h8.2v7.1h-8.2zM10.7 813.0h65.6v7.1h-65.6zM88.7 813.0h36.1v7.1h-36.1zM10.7 823.7h71.9v7.1h-71.9zM10.7 834.2h46.6v7.1h-46.6zM57.0 834.2h49.4v7.1h-49.4zM106.1 834.2h31.7v7.1h-31.7zM10.7 844.9h87.1v7.1h-87.1zM10.7 855.5h87.1v7.1h-87.1zM10.7 866.0h79.5v7.1h-79.5zM10.7 876.7h80.7v7.1h-80.7zM10.7 887.2h41.8v7.1h-41.8zM79.2 887.2h13.1v7.1h-13.1zM10.7 897.9h82.4v7.1h-82.4zM10.7 908.5h65.6v7.1h-65.6zM10.7 919.0h81.6v7.1h-81.6z" fill="url(#texD)"/>
<path d="M10.7 399.6h89.8v7.1h-89.8zM10.7 410.2h101.7v7.1h-101.7zM10.7 420.8h82.7v7.1h-82.7zM10.7 431.4h37.1v7.1h-37.1zM47.5 431.4h52.2v7.1h-52.2zM10.7 442.0h86.2v7.1h-86.2zM10.7 452.6h19.7v7.1h-19.7zM32.5 452.6h47.0v7.1h-47.0zM79.2 452.6h13.0v7.1h-13.0zM91.8 452.6h20.1v7.1h-20.1zM10.7 463.2h7.8v7.1h-7.8zM29.3 463.2h34.3v7.1h-34.3zM63.3 463.2h23.3v7.1h-23.3zM86.3 463.2h2.7v7.1h-2.7zM10.7 473.8h10.2v7.1h-10.2zM20.6 473.8h81.0v7.1h-81.0zM10.7 484.4h14.9v7.1h-14.9zM25.3 484.4h67.6v7.1h-67.6zM10.7 495.0h86.2v7.1h-86.2zM10.7 505.6h59.3v7.1h-59.3zM82.3 505.6h39.1v7.1h-39.1zM10.7 516.2h78.4v7.1h-78.4zM52.2 526.9h44.6v7.1h-44.6zM10.7 537.5h60.8v7.1h-60.8zM10.7 548.1h24.4v7.1h-24.4zM34.8 548.1h22.5v7.1h-22.5zM88.7 548.1h13.0v7.1h-13.0zM9.5 558.7h103.2v7.1h-103.2zM10.7 569.2h18.1v7.1h-18.1zM63.3 590.5h28.5v7.1h-28.5zM28.5 601.1h46.2v7.1h-46.2zM10.7 632.9h8.6v7.1h-8.6zM55.4 643.5h59.4v7.1h-59.4zM19.0 654.0h30.4v7.1h-30.4zM26.9 664.7h28.8v7.1h-28.8zM88.7 675.2h30.1v7.1h-30.1zM19.8 685.9h36.7v7.1h-36.7zM10.7 707.0h7.8v7.1h-7.8zM85.5 707.0h16.1v7.1h-16.1zM66.5 717.7h24.5v7.1h-24.5zM55.4 738.9h11.4v7.1h-11.4zM10.7 749.5h34.7v7.1h-34.7zM10.7 760.0h7.0v7.1h-7.0zM45.1 760.0h23.3v7.1h-23.3zM72.8 770.7h11.4v7.1h-11.4zM68.1 802.5h25.6v7.1h-25.6zM76.0 813.0h13.0v7.1h-13.0zM82.3 823.7h14.6v7.1h-14.6zM52.2 887.2h27.2v7.1h-27.2zM76.0 908.5h26.1v7.1h-26.1z" fill="url(#texM)"/>
<rect x="10.0" y="394.5" width="171" height="532.5" fill="none" stroke="#333" stroke-width="1.6"/>
<rect x="10.0" y="339.5" width="171" height="55.0" fill="#d9d9d9" stroke="#333" stroke-width="1.2"/>
<line x1="10.0" y1="394.8" x2="181.0" y2="394.8" stroke="#333" stroke-width="1.9"/>
<text x="95.5" y="375.8" font-size="17.6" text-anchor="middle" fill="#1a1a1a" >5 <tspan font-style="italic">μ</tspan>M</text>
<line x1="10.2" y1="927" x2="10.2" y2="933.5" stroke="#333" stroke-width="1.1"/>
<line x1="31.6" y1="927" x2="31.6" y2="933.5" stroke="#333" stroke-width="1.1"/>
<line x1="53.1" y1="927" x2="53.1" y2="933.5" stroke="#333" stroke-width="1.1"/>
<line x1="74.5" y1="927" x2="74.5" y2="933.5" stroke="#333" stroke-width="1.1"/>
<line x1="96.0" y1="927" x2="96.0" y2="933.5" stroke="#333" stroke-width="1.1"/>
<line x1="117.4" y1="927" x2="117.4" y2="933.5" stroke="#333" stroke-width="1.1"/>
<line x1="138.9" y1="927" x2="138.9" y2="933.5" stroke="#333" stroke-width="1.1"/>
<line x1="160.3" y1="927" x2="160.3" y2="933.5" stroke="#333" stroke-width="1.1"/>
<text x="10.2" y="953.7" font-size="18.3" text-anchor="middle" fill="#4d4d4d" >0</text>
<text x="53.1" y="953.7" font-size="18.3" text-anchor="middle" fill="#4d4d4d" >40</text>
<text x="96.0" y="953.7" font-size="18.3" text-anchor="middle" fill="#4d4d4d" >80</text>
<text x="138.9" y="953.7" font-size="18.3" text-anchor="middle" fill="#4d4d4d" >120</text>
<rect x="200.5" y="394.5" width="171" height="532.5" fill="#fff"/>
<line x1="222.1" y1="394.5" x2="222.1" y2="927" stroke="#eeeeee" stroke-width="1.3"/>
<line x1="265.0" y1="394.5" x2="265.0" y2="927" stroke="#eeeeee" stroke-width="1.3"/>
<line x1="307.9" y1="394.5" x2="307.9" y2="927" stroke="#eeeeee" stroke-width="1.3"/>
<line x1="350.8" y1="394.5" x2="350.8" y2="927" stroke="#eeeeee" stroke-width="1.3"/>
<line x1="243.6" y1="394.5" x2="243.6" y2="927" stroke="#ebebeb" stroke-width="2.3"/>
<line x1="286.5" y1="394.5" x2="286.5" y2="927" stroke="#ebebeb" stroke-width="2.3"/>
<line x1="329.4" y1="394.5" x2="329.4" y2="927" stroke="#ebebeb" stroke-width="2.3"/>
<line x1="200.5" y1="403.2" x2="371.5" y2="403.2" stroke="#ebebeb" stroke-width="2.2"/>
<line x1="200.5" y1="456.2" x2="371.5" y2="456.2" stroke="#ebebeb" stroke-width="2.2"/>
<line x1="200.5" y1="509.2" x2="371.5" y2="509.2" stroke="#ebebeb" stroke-width="2.2"/>
<line x1="200.5" y1="562.2" x2="371.5" y2="562.2" stroke="#ebebeb" stroke-width="2.2"/>
<line x1="200.5" y1="615.2" x2="371.5" y2="615.2" stroke="#ebebeb" stroke-width="2.2"/>
<line x1="200.5" y1="668.2" x2="371.5" y2="668.2" stroke="#ebebeb" stroke-width="2.2"/>
<line x1="200.5" y1="721.2" x2="371.5" y2="721.2" stroke="#ebebeb" stroke-width="2.2"/>
<line x1="200.5" y1="774.2" x2="371.5" y2="774.2" stroke="#ebebeb" stroke-width="2.2"/>
<line x1="200.5" y1="827.2" x2="371.5" y2="827.2" stroke="#ebebeb" stroke-width="2.2"/>
<line x1="200.5" y1="880.2" x2="371.5" y2="880.2" stroke="#ebebeb" stroke-width="2.2"/>
<rect x="201.2" y="399.6" width="98.5" height="7.1" fill="#f58b47"/>
<rect x="201.2" y="410.2" width="82.5" height="7.1" fill="#ea7457"/>
<rect x="201.2" y="420.8" width="88.6" height="7.1" fill="#ea7457"/>
<rect x="201.2" y="431.4" width="84.3" height="7.1" fill="#e87059"/>
<rect x="201.2" y="442.0" width="28.7" height="7.1" fill="#ea7457"/>
<rect x="229.6" y="442.0" width="49.4" height="7.1" fill="#d6556d"/>
<rect x="278.7" y="442.0" width="28.2" height="7.1" fill="#cc4778"/>
<rect x="201.2" y="452.6" width="89.7" height="7.1" fill="#dd5e66"/>
<rect x="201.2" y="463.2" width="80.6" height="7.1" fill="#e16462"/>
<rect x="201.2" y="473.8" width="44.5" height="7.1" fill="#e56a5d"/>
<rect x="245.4" y="473.8" width="39.1" height="7.1" fill="#d6556d"/>
<rect x="201.2" y="484.4" width="80.9" height="7.1" fill="#dd5e66"/>
<rect x="281.8" y="484.4" width="4.0" height="7.1" fill="#6300a7"/>
<rect x="201.2" y="495.0" width="78.6" height="7.1" fill="#d6556d"/>
<rect x="201.2" y="505.6" width="4.9" height="7.1" fill="#7e03a8"/>
<rect x="205.8" y="505.6" width="27.2" height="7.1" fill="#bf3984"/>
<rect x="232.8" y="505.6" width="79.5" height="7.1" fill="#e16462"/>
<rect x="311.9" y="505.6" width="24.1" height="7.1" fill="#bf3984"/>
<rect x="201.2" y="516.2" width="4.9" height="7.1" fill="#4903a0"/>
<rect x="205.8" y="516.2" width="75.0" height="7.1" fill="#d6556d"/>
<rect x="201.2" y="526.9" width="20.8" height="7.1" fill="#b6308b"/>
<rect x="221.7" y="526.9" width="60.6" height="7.1" fill="#dd5e66"/>
<rect x="201.2" y="537.5" width="33.4" height="7.1" fill="#c6417d"/>
<rect x="234.3" y="537.5" width="46.7" height="7.1" fill="#d6556d"/>
<rect x="201.2" y="548.1" width="91.7" height="7.1" fill="#d9586a"/>
<rect x="201.2" y="558.7" width="20.8" height="7.1" fill="#bf3984"/>
<rect x="221.7" y="558.7" width="77.3" height="7.1" fill="#dd5e66"/>
<rect x="201.2" y="569.2" width="66.7" height="7.1" fill="#cc4778"/>
<rect x="267.6" y="569.2" width="15.4" height="7.1" fill="#4903a0"/>
<rect x="201.2" y="579.9" width="12.9" height="7.1" fill="#7e03a8"/>
<rect x="213.8" y="579.9" width="77.9" height="7.1" fill="#d04d73"/>
<rect x="291.3" y="579.9" width="8.4" height="7.1" fill="#d6556d"/>
<rect x="201.2" y="590.5" width="91.4" height="7.1" fill="#bf3984"/>
<rect x="201.2" y="601.1" width="45.3" height="7.1" fill="#b6308b"/>
<rect x="246.2" y="601.1" width="3.5" height="7.1" fill="#2e0595"/>
<rect x="249.4" y="601.1" width="42.3" height="7.1" fill="#c6417d"/>
<rect x="201.2" y="611.7" width="50.9" height="7.1" fill="#d6556d"/>
<rect x="251.8" y="611.7" width="28.2" height="7.1" fill="#2e0595"/>
<rect x="201.2" y="622.2" width="16.0" height="7.1" fill="#e16462"/>
<rect x="216.9" y="622.2" width="27.2" height="7.1" fill="#38049a"/>
<rect x="243.8" y="622.2" width="28.8" height="7.1" fill="#d6556d"/>
<rect x="272.3" y="622.2" width="13.5" height="7.1" fill="#8f0da4"/>
<rect x="201.2" y="632.9" width="79.5" height="7.1" fill="#b6308b"/>
<rect x="201.2" y="643.5" width="105.7" height="7.1" fill="#ab2494"/>
<rect x="201.2" y="654.0" width="39.8" height="7.1" fill="#bf3984"/>
<rect x="240.7" y="654.0" width="25.6" height="7.1" fill="#b12a90"/>
<rect x="266.0" y="654.0" width="28.8" height="7.1" fill="#4903a0"/>
<rect x="201.2" y="664.7" width="44.5" height="7.1" fill="#cc4778"/>
<rect x="245.4" y="664.7" width="54.3" height="7.1" fill="#6300a7"/>
<rect x="201.2" y="675.2" width="14.4" height="7.1" fill="#4903a0"/>
<rect x="215.3" y="675.2" width="38.3" height="7.1" fill="#cc4778"/>
<rect x="253.3" y="675.2" width="26.6" height="7.1" fill="#5801a4"/>
<rect x="201.2" y="685.9" width="36.6" height="7.1" fill="#6300a7"/>
<rect x="237.5" y="685.9" width="8.2" height="7.1" fill="#bf3984"/>
<rect x="245.4" y="685.9" width="25.6" height="7.1" fill="#6300a7"/>
<rect x="270.8" y="685.9" width="5.8" height="7.1" fill="#2e0595"/>
<rect x="276.3" y="685.9" width="4.8" height="7.1" fill="#d6556d"/>
<rect x="201.2" y="696.5" width="30.3" height="7.1" fill="#bf3984"/>
<rect x="231.2" y="696.5" width="32.0" height="7.1" fill="#7e03a8"/>
<rect x="262.8" y="696.5" width="30.1" height="7.1" fill="#5801a4"/>
<rect x="201.2" y="707.0" width="28.7" height="7.1" fill="#0d0887"/>
<rect x="229.6" y="707.0" width="58.9" height="7.1" fill="#7e03a8"/>
<rect x="288.2" y="707.0" width="19.3" height="7.1" fill="#2e0595"/>
<rect x="307.2" y="707.0" width="24.9" height="7.1" fill="#8808a6"/>
<rect x="201.2" y="717.7" width="42.9" height="7.1" fill="#6300a7"/>
<rect x="243.8" y="717.7" width="13.0" height="7.1" fill="#d6556d"/>
<rect x="256.5" y="717.7" width="27.2" height="7.1" fill="#6300a7"/>
<rect x="201.2" y="728.2" width="6.5" height="7.1" fill="#6300a7"/>
<rect x="207.4" y="728.2" width="37.5" height="7.1" fill="#cc4778"/>
<rect x="244.6" y="728.2" width="37.2" height="7.1" fill="#4903a0"/>
<rect x="201.2" y="738.9" width="103.6" height="7.1" fill="#6c00a8"/>
<rect x="201.2" y="749.5" width="86.5" height="7.1" fill="#5801a4"/>
<rect x="201.2" y="760.0" width="36.6" height="7.1" fill="#dd5e66"/>
<rect x="237.5" y="760.0" width="53.4" height="7.1" fill="#4903a0"/>
<rect x="201.2" y="770.7" width="49.3" height="7.1" fill="#38049a"/>
<rect x="250.2" y="770.7" width="30.4" height="7.1" fill="#cc4778"/>
<rect x="201.2" y="781.2" width="8.1" height="7.1" fill="#bf3984"/>
<rect x="209.0" y="781.2" width="99.0" height="7.1" fill="#5801a4"/>
<rect x="201.2" y="791.9" width="123.1" height="7.1" fill="#5801a4"/>
<rect x="201.2" y="802.5" width="31.9" height="7.1" fill="#a11b9b"/>
<rect x="232.8" y="802.5" width="83.9" height="7.1" fill="#4903a0"/>
<rect x="201.2" y="813.0" width="84.1" height="7.1" fill="#38049a"/>
<rect x="285.0" y="813.0" width="5.0" height="7.1" fill="#bf3984"/>
<rect x="289.8" y="813.0" width="15.8" height="7.1" fill="#4903a0"/>
<rect x="201.2" y="823.7" width="63.5" height="7.1" fill="#2e0595"/>
<rect x="264.4" y="823.7" width="18.5" height="7.1" fill="#a11b9b"/>
<rect x="201.2" y="834.2" width="23.9" height="7.1" fill="#38049a"/>
<rect x="224.8" y="834.2" width="38.3" height="7.1" fill="#a11b9b"/>
<rect x="262.8" y="834.2" width="26.1" height="7.1" fill="#2e0595"/>
<rect x="201.2" y="844.9" width="82.5" height="7.1" fill="#2e0595"/>
<rect x="201.2" y="855.5" width="86.7" height="7.1" fill="#38049a"/>
<rect x="201.2" y="866.0" width="69.9" height="7.1" fill="#20068f"/>
<rect x="270.8" y="866.0" width="12.0" height="7.1" fill="#a11b9b"/>
<rect x="201.2" y="876.7" width="17.6" height="7.1" fill="#d6556d"/>
<rect x="218.5" y="876.7" width="73.1" height="7.1" fill="#2e0595"/>
<rect x="201.2" y="887.2" width="60.4" height="7.1" fill="#20068f"/>
<rect x="261.2" y="887.2" width="22.5" height="7.1" fill="#d6556d"/>
<rect x="201.2" y="897.9" width="107.6" height="7.1" fill="#2e0595"/>
<rect x="201.2" y="908.5" width="101.5" height="7.1" fill="#2e0595"/>
<rect x="201.2" y="919.0" width="7.3" height="7.1" fill="#bf3984"/>
<rect x="208.2" y="919.0" width="74.1" height="7.1" fill="#20068f"/>
<path d="M281.8 484.4h4.0v7.1h-4.0zM201.2 505.6h4.9v7.1h-4.9zM201.2 516.2h4.9v7.1h-4.9zM267.6 569.2h15.4v7.1h-15.4zM201.2 579.9h12.9v7.1h-12.9zM246.2 601.1h3.5v7.1h-3.5zM251.8 611.7h28.2v7.1h-28.2zM216.9 622.2h27.2v7.1h-27.2zM272.3 622.2h13.5v7.1h-13.5zM266.0 654.0h28.8v7.1h-28.8zM245.4 664.7h54.3v7.1h-54.3zM201.2 675.2h14.4v7.1h-14.4zM253.3 675.2h26.6v7.1h-26.6zM201.2 685.9h36.6v7.1h-36.6zM245.4 685.9h25.6v7.1h-25.6zM270.8 685.9h5.8v7.1h-5.8zM231.2 696.5h32.0v7.1h-32.0zM262.8 696.5h30.1v7.1h-30.1zM201.2 707.0h28.7v7.1h-28.7zM229.6 707.0h58.9v7.1h-58.9zM288.2 707.0h19.3v7.1h-19.3zM307.2 707.0h24.9v7.1h-24.9zM201.2 717.7h42.9v7.1h-42.9zM256.5 717.7h27.2v7.1h-27.2zM201.2 728.2h6.5v7.1h-6.5zM244.6 728.2h37.2v7.1h-37.2zM201.2 738.9h103.6v7.1h-103.6zM201.2 749.5h86.5v7.1h-86.5zM237.5 760.0h53.4v7.1h-53.4zM201.2 770.7h49.3v7.1h-49.3zM209.0 781.2h99.0v7.1h-99.0zM201.2 791.9h123.1v7.1h-123.1zM232.8 802.5h83.9v7.1h-83.9zM201.2 813.0h84.1v7.1h-84.1zM289.8 813.0h15.8v7.1h-15.8zM201.2 823.7h63.5v7.1h-63.5zM201.2 834.2h23.9v7.1h-23.9zM262.8 834.2h26.1v7.1h-26.1zM201.2 844.9h82.5v7.1h-82.5zM201.2 855.5h86.7v7.1h-86.7zM201.2 866.0h69.9v7.1h-69.9zM218.5 876.7h73.1v7.1h-73.1zM201.2 887.2h60.4v7.1h-60.4zM201.2 897.9h107.6v7.1h-107.6zM201.2 908.5h101.5v7.1h-101.5zM208.2 919.0h74.1v7.1h-74.1z" fill="url(#texD)"/>
<path d="M201.2 410.2h82.5v7.1h-82.5zM201.2 420.8h88.6v7.1h-88.6zM201.2 431.4h84.3v7.1h-84.3zM201.2 442.0h28.7v7.1h-28.7zM229.6 442.0h49.4v7.1h-49.4zM278.7 442.0h28.2v7.1h-28.2zM201.2 452.6h89.7v7.1h-89.7zM201.2 463.2h80.6v7.1h-80.6zM201.2 473.8h44.5v7.1h-44.5zM245.4 473.8h39.1v7.1h-39.1zM201.2 484.4h80.9v7.1h-80.9zM201.2 495.0h78.6v7.1h-78.6zM205.8 505.6h27.2v7.1h-27.2zM232.8 505.6h79.5v7.1h-79.5zM311.9 505.6h24.1v7.1h-24.1zM205.8 516.2h75.0v7.1h-75.0zM201.2 526.9h20.8v7.1h-20.8zM221.7 526.9h60.6v7.1h-60.6zM201.2 537.5h33.4v7.1h-33.4zM234.3 537.5h46.7v7.1h-46.7zM201.2 548.1h91.7v7.1h-91.7zM201.2 558.7h20.8v7.1h-20.8zM221.7 558.7h77.3v7.1h-77.3zM201.2 569.2h66.7v7.1h-66.7zM213.8 579.9h77.9v7.1h-77.9zM291.3 579.9h8.4v7.1h-8.4zM201.2 590.5h91.4v7.1h-91.4zM201.2 601.1h45.3v7.1h-45.3zM249.4 601.1h42.3v7.1h-42.3zM201.2 611.7h50.9v7.1h-50.9zM201.2 622.2h16.0v7.1h-16.0zM243.8 622.2h28.8v7.1h-28.8zM201.2 632.9h79.5v7.1h-79.5zM201.2 643.5h105.7v7.1h-105.7zM201.2 654.0h39.8v7.1h-39.8zM240.7 654.0h25.6v7.1h-25.6zM201.2 664.7h44.5v7.1h-44.5zM215.3 675.2h38.3v7.1h-38.3zM237.5 685.9h8.2v7.1h-8.2zM276.3 685.9h4.8v7.1h-4.8zM201.2 696.5h30.3v7.1h-30.3zM243.8 717.7h13.0v7.1h-13.0zM207.4 728.2h37.5v7.1h-37.5zM201.2 760.0h36.6v7.1h-36.6zM250.2 770.7h30.4v7.1h-30.4zM201.2 781.2h8.1v7.1h-8.1zM201.2 802.5h31.9v7.1h-31.9zM285.0 813.0h5.0v7.1h-5.0zM264.4 823.7h18.5v7.1h-18.5zM224.8 834.2h38.3v7.1h-38.3zM270.8 866.0h12.0v7.1h-12.0zM201.2 876.7h17.6v7.1h-17.6zM261.2 887.2h22.5v7.1h-22.5zM201.2 919.0h7.3v7.1h-7.3z" fill="url(#texM)"/>
<path d="M201.2 399.6h98.5v7.1h-98.5z" fill="url(#texB)"/>
<rect x="200.5" y="394.5" width="171" height="532.5" fill="none" stroke="#333" stroke-width="1.6"/>
<rect x="200.5" y="339.5" width="171" height="55.0" fill="#d9d9d9" stroke="#333" stroke-width="1.2"/>
<line x1="200.5" y1="394.8" x2="371.5" y2="394.8" stroke="#333" stroke-width="1.9"/>
<text x="286.0" y="375.8" font-size="17.6" text-anchor="middle" fill="#1a1a1a" >10 <tspan font-style="italic">μ</tspan>M</text>
<line x1="200.7" y1="927" x2="200.7" y2="933.5" stroke="#333" stroke-width="1.1"/>
<line x1="222.1" y1="927" x2="222.1" y2="933.5" stroke="#333" stroke-width="1.1"/>
<line x1="243.6" y1="927" x2="243.6" y2="933.5" stroke="#333" stroke-width="1.1"/>
<line x1="265.0" y1="927" x2="265.0" y2="933.5" stroke="#333" stroke-width="1.1"/>
<line x1="286.5" y1="927" x2="286.5" y2="933.5" stroke="#333" stroke-width="1.1"/>
<line x1="307.9" y1="927" x2="307.9" y2="933.5" stroke="#333" stroke-width="1.1"/>
<line x1="329.4" y1="927" x2="329.4" y2="933.5" stroke="#333" stroke-width="1.1"/>
<line x1="350.8" y1="927" x2="350.8" y2="933.5" stroke="#333" stroke-width="1.1"/>
<text x="200.7" y="953.7" font-size="18.3" text-anchor="middle" fill="#4d4d4d" >0</text>
<text x="243.6" y="953.7" font-size="18.3" text-anchor="middle" fill="#4d4d4d" >40</text>
<text x="286.5" y="953.7" font-size="18.3" text-anchor="middle" fill="#4d4d4d" >80</text>
<text x="329.4" y="953.7" font-size="18.3" text-anchor="middle" fill="#4d4d4d" >120</text>
<rect x="391.0" y="394.5" width="171" height="532.5" fill="#fff"/>
<line x1="412.6" y1="394.5" x2="412.6" y2="927" stroke="#eeeeee" stroke-width="1.3"/>
<line x1="455.5" y1="394.5" x2="455.5" y2="927" stroke="#eeeeee" stroke-width="1.3"/>
<line x1="498.4" y1="394.5" x2="498.4" y2="927" stroke="#eeeeee" stroke-width="1.3"/>
<line x1="541.3" y1="394.5" x2="541.3" y2="927" stroke="#eeeeee" stroke-width="1.3"/>
<line x1="434.1" y1="394.5" x2="434.1" y2="927" stroke="#ebebeb" stroke-width="2.3"/>
<line x1="477.0" y1="394.5" x2="477.0" y2="927" stroke="#ebebeb" stroke-width="2.3"/>
<line x1="519.9" y1="394.5" x2="519.9" y2="927" stroke="#ebebeb" stroke-width="2.3"/>
<line x1="391.0" y1="403.2" x2="562.0" y2="403.2" stroke="#ebebeb" stroke-width="2.2"/>
<line x1="391.0" y1="456.2" x2="562.0" y2="456.2" stroke="#ebebeb" stroke-width="2.2"/>
<line x1="391.0" y1="509.2" x2="562.0" y2="509.2" stroke="#ebebeb" stroke-width="2.2"/>
<line x1="391.0" y1="562.2" x2="562.0" y2="562.2" stroke="#ebebeb" stroke-width="2.2"/>
<line x1="391.0" y1="615.2" x2="562.0" y2="615.2" stroke="#ebebeb" stroke-width="2.2"/>
<line x1="391.0" y1="668.2" x2="562.0" y2="668.2" stroke="#ebebeb" stroke-width="2.2"/>
<line x1="391.0" y1="721.2" x2="562.0" y2="721.2" stroke="#ebebeb" stroke-width="2.2"/>
<line x1="391.0" y1="774.2" x2="562.0" y2="774.2" stroke="#ebebeb" stroke-width="2.2"/>
<line x1="391.0" y1="827.2" x2="562.0" y2="827.2" stroke="#ebebeb" stroke-width="2.2"/>
<line x1="391.0" y1="880.2" x2="562.0" y2="880.2" stroke="#ebebeb" stroke-width="2.2"/>
<rect x="391.7" y="399.6" width="86.2" height="7.1" fill="#fca636"/>
<rect x="391.7" y="410.2" width="106.8" height="7.1" fill="#f9983e"/>
<rect x="498.2" y="410.2" width="1.6" height="7.1" fill="#b12a90"/>
<rect x="391.7" y="420.8" width="8.6" height="7.1" fill="#f79143"/>
<rect x="400.0" y="420.8" width="1.9" height="7.1" fill="#b12a90"/>
<rect x="401.6" y="420.8" width="79.2" height="7.1" fill="#f79143"/>
<rect x="391.7" y="431.4" width="34.7" height="7.1" fill="#f79143"/>
<rect x="426.1" y="431.4" width="3.0" height="7.1" fill="#0d0887"/>
<rect x="428.8" y="431.4" width="47.2" height="7.1" fill="#f58b47"/>
<rect x="391.7" y="442.0" width="87.5" height="7.1" fill="#f79143"/>
<rect x="391.7" y="452.6" width="82.7" height="7.1" fill="#f58b47"/>
<rect x="391.7" y="463.2" width="112.3" height="7.1" fill="#f58b47"/>
<rect x="391.7" y="473.8" width="86.5" height="7.1" fill="#f2844b"/>
<rect x="477.9" y="473.8" width="2.1" height="7.1" fill="#8f0da4"/>
<rect x="391.7" y="484.4" width="90.2" height="7.1" fill="#f58b47"/>
<rect x="391.7" y="495.0" width="97.3" height="7.1" fill="#f0804e"/>
<rect x="391.7" y="505.6" width="72.7" height="7.1" fill="#f2844b"/>
<rect x="464.1" y="505.6" width="2.2" height="7.1" fill="#2e0595"/>
<rect x="466.0" y="505.6" width="13.1" height="7.1" fill="#f2844b"/>
<rect x="391.7" y="516.2" width="87.5" height="7.1" fill="#f0804e"/>
<rect x="391.7" y="526.9" width="65.6" height="7.1" fill="#eb7655"/>
<rect x="457.0" y="526.9" width="40.9" height="7.1" fill="#f79143"/>
<rect x="391.7" y="537.5" width="82.7" height="7.1" fill="#ef7e50"/>
<rect x="391.7" y="548.1" width="80.0" height="7.1" fill="#f0804e"/>
<rect x="391.7" y="558.7" width="90.2" height="7.1" fill="#f2844b"/>
<rect x="391.7" y="569.2" width="85.1" height="7.1" fill="#ed7a52"/>
<rect x="391.7" y="579.9" width="99.0" height="7.1" fill="#ef7e50"/>
<rect x="391.7" y="590.5" width="12.6" height="7.1" fill="#a11b9b"/>
<rect x="404.0" y="590.5" width="84.2" height="7.1" fill="#eb7655"/>
<rect x="391.7" y="601.1" width="98.2" height="7.1" fill="#f0804e"/>
<rect x="391.7" y="611.7" width="80.0" height="7.1" fill="#f0804e"/>
<rect x="391.7" y="622.2" width="16.5" height="7.1" fill="#38049a"/>
<rect x="407.9" y="622.2" width="63.0" height="7.1" fill="#f0804e"/>
<rect x="391.7" y="632.9" width="93.3" height="7.1" fill="#e87059"/>
<rect x="391.7" y="643.5" width="45.0" height="7.1" fill="#e87059"/>
<rect x="436.4" y="643.5" width="16.1" height="7.1" fill="#8f0da4"/>
<rect x="452.2" y="643.5" width="62.0" height="7.1" fill="#e87059"/>
<rect x="514.0" y="643.5" width="8.2" height="7.1" fill="#a11b9b"/>
<rect x="521.9" y="643.5" width="28.8" height="7.1" fill="#dd5e66"/>
<rect x="550.4" y="643.5" width="10.9" height="7.1" fill="#a11b9b"/>
<rect x="391.7" y="654.0" width="13.4" height="7.1" fill="#b12a90"/>
<rect x="404.8" y="654.0" width="30.4" height="7.1" fill="#e87059"/>
<rect x="434.8" y="654.0" width="38.5" height="7.1" fill="#bf3984"/>
<rect x="391.7" y="664.7" width="21.3" height="7.1" fill="#b12a90"/>
<rect x="412.7" y="664.7" width="41.5" height="7.1" fill="#e87059"/>
<rect x="453.8" y="664.7" width="11.4" height="7.1" fill="#bf3984"/>
<rect x="464.9" y="664.7" width="22.2" height="7.1" fill="#f0804e"/>
<rect x="391.7" y="675.2" width="83.8" height="7.1" fill="#cc4778"/>
<rect x="391.7" y="685.9" width="31.6" height="7.1" fill="#6300a7"/>
<rect x="423.0" y="685.9" width="47.0" height="7.1" fill="#cc4778"/>
<rect x="469.7" y="685.9" width="30.6" height="7.1" fill="#d6556d"/>
<rect x="391.7" y="696.5" width="62.4" height="7.1" fill="#bf3984"/>
<rect x="453.8" y="696.5" width="18.7" height="7.1" fill="#cc4778"/>
<rect x="391.7" y="707.0" width="21.3" height="7.1" fill="#6300a7"/>
<rect x="412.7" y="707.0" width="51.0" height="7.1" fill="#e87059"/>
<rect x="463.3" y="707.0" width="8.7" height="7.1" fill="#7e03a8"/>
<rect x="391.7" y="717.7" width="33.9" height="7.1" fill="#5801a4"/>
<rect x="425.3" y="717.7" width="16.1" height="7.1" fill="#b12a90"/>
<rect x="441.2" y="717.7" width="37.5" height="7.1" fill="#f0804e"/>
<rect x="391.7" y="728.2" width="30.0" height="7.1" fill="#4903a0"/>
<rect x="421.4" y="728.2" width="50.7" height="7.1" fill="#cc4778"/>
<rect x="391.7" y="738.9" width="15.7" height="7.1" fill="#7e03a8"/>
<rect x="407.1" y="738.9" width="51.8" height="7.1" fill="#cc4778"/>
<rect x="458.6" y="738.9" width="21.1" height="7.1" fill="#6300a7"/>
<rect x="391.7" y="749.5" width="88.3" height="7.1" fill="#a11b9b"/>
<rect x="391.7" y="760.0" width="104.1" height="7.1" fill="#7e03a8"/>
<rect x="391.7" y="770.7" width="13.4" height="7.1" fill="#0d0887"/>
<rect x="404.8" y="770.7" width="76.3" height="7.1" fill="#a11b9b"/>
<rect x="391.7" y="781.2" width="79.2" height="7.1" fill="#7e03a8"/>
<rect x="391.7" y="791.9" width="37.1" height="7.1" fill="#dd5e66"/>
<rect x="428.5" y="791.9" width="54.1" height="7.1" fill="#4903a0"/>
<rect x="482.3" y="791.9" width="5.5" height="7.1" fill="#bf3984"/>
<rect x="391.7" y="802.5" width="24.4" height="7.1" fill="#7e03a8"/>
<rect x="415.8" y="802.5" width="13.0" height="7.1" fill="#20068f"/>
<rect x="428.5" y="802.5" width="38.3" height="7.1" fill="#6300a7"/>
<rect x="466.5" y="802.5" width="16.1" height="7.1" fill="#20068f"/>
<rect x="482.3" y="802.5" width="8.4" height="7.1" fill="#6300a7"/>
<rect x="391.7" y="813.0" width="124.2" height="7.1" fill="#6300a7"/>
<rect x="391.7" y="823.7" width="87.0" height="7.1" fill="#4903a0"/>
<rect x="391.7" y="834.2" width="93.0" height="7.1" fill="#4903a0"/>
<rect x="391.7" y="844.9" width="82.7" height="7.1" fill="#4903a0"/>
<rect x="391.7" y="855.5" width="41.9" height="7.1" fill="#0d0887"/>
<rect x="433.2" y="855.5" width="52.6" height="7.1" fill="#4903a0"/>
<rect x="391.7" y="866.0" width="18.1" height="7.1" fill="#2e0595"/>
<rect x="409.5" y="866.0" width="9.8" height="7.1" fill="#d6556d"/>
<rect x="419.0" y="866.0" width="51.9" height="7.1" fill="#2e0595"/>
<rect x="391.7" y="876.7" width="100.1" height="7.1" fill="#38049a"/>
<rect x="391.7" y="887.2" width="80.0" height="7.1" fill="#100788"/>
<rect x="391.7" y="897.9" width="31.6" height="7.1" fill="#100788"/>
<rect x="423.0" y="897.9" width="27.2" height="7.1" fill="#dd5e66"/>
<rect x="449.9" y="897.9" width="24.5" height="7.1" fill="#100788"/>
<rect x="391.7" y="908.5" width="86.7" height="7.1" fill="#20068f"/>
<rect x="391.7" y="919.0" width="7.0" height="7.1" fill="#7e03a8"/>
<rect x="398.4" y="919.0" width="131.4" height="7.1" fill="#20068f"/>
<path d="M426.1 431.4h3.0v7.1h-3.0zM477.9 473.8h2.1v7.1h-2.1zM464.1 505.6h2.2v7.1h-2.2zM391.7 622.2h16.5v7.1h-16.5zM436.4 643.5h16.1v7.1h-16.1zM391.7 685.9h31.6v7.1h-31.6zM391.7 707.0h21.3v7.1h-21.3zM463.3 707.0h8.7v7.1h-8.7zM391.7 717.7h33.9v7.1h-33.9zM391.7 728.2h30.0v7.1h-30.0zM391.7 738.9h15.7v7.1h-15.7zM458.6 738.9h21.1v7.1h-21.1zM391.7 760.0h104.1v7.1h-104.1zM391.7 770.7h13.4v7.1h-13.4zM391.7 781.2h79.2v7.1h-79.2zM428.5 791.9h54.1v7.1h-54.1zM391.7 802.5h24.4v7.1h-24.4zM415.8 802.5h13.0v7.1h-13.0zM428.5 802.5h38.3v7.1h-38.3zM466.5 802.5h16.1v7.1h-16.1zM482.3 802.5h8.4v7.1h-8.4zM391.7 813.0h124.2v7.1h-124.2zM391.7 823.7h87.0v7.1h-87.0zM391.7 834.2h93.0v7.1h-93.0zM391.7 844.9h82.7v7.1h-82.7zM391.7 855.5h41.9v7.1h-41.9zM433.2 855.5h52.6v7.1h-52.6zM391.7 866.0h18.1v7.1h-18.1zM419.0 866.0h51.9v7.1h-51.9zM391.7 876.7h100.1v7.1h-100.1zM391.7 887.2h80.0v7.1h-80.0zM391.7 897.9h31.6v7.1h-31.6zM449.9 897.9h24.5v7.1h-24.5zM391.7 908.5h86.7v7.1h-86.7zM391.7 919.0h7.0v7.1h-7.0zM398.4 919.0h131.4v7.1h-131.4z" fill="url(#texD)"/>
<path d="M498.2 410.2h1.6v7.1h-1.6zM400.0 420.8h1.9v7.1h-1.9zM391.7 590.5h12.6v7.1h-12.6zM391.7 632.9h93.3v7.1h-93.3zM391.7 643.5h45.0v7.1h-45.0zM452.2 643.5h62.0v7.1h-62.0zM514.0 643.5h8.2v7.1h-8.2zM521.9 643.5h28.8v7.1h-28.8zM550.4 643.5h10.9v7.1h-10.9zM391.7 654.0h13.4v7.1h-13.4zM404.8 654.0h30.4v7.1h-30.4zM434.8 654.0h38.5v7.1h-38.5zM391.7 664.7h21.3v7.1h-21.3zM412.7 664.7h41.5v7.1h-41.5zM453.8 664.7h11.4v7.1h-11.4zM391.7 675.2h83.8v7.1h-83.8zM423.0 685.9h47.0v7.1h-47.0zM469.7 685.9h30.6v7.1h-30.6zM391.7 696.5h62.4v7.1h-62.4zM453.8 696.5h18.7v7.1h-18.7zM412.7 707.0h51.0v7.1h-51.0zM425.3 717.7h16.1v7.1h-16.1zM421.4 728.2h50.7v7.1h-50.7zM407.1 738.9h51.8v7.1h-51.8zM391.7 749.5h88.3v7.1h-88.3zM404.8 770.7h76.3v7.1h-76.3zM391.7 791.9h37.1v7.1h-37.1zM482.3 791.9h5.5v7.1h-5.5zM409.5 866.0h9.8v7.1h-9.8zM423.0 897.9h27.2v7.1h-27.2z" fill="url(#texM)"/>
<path d="M391.7 399.6h86.2v7.1h-86.2zM391.7 410.2h106.8v7.1h-106.8zM391.7 420.8h8.6v7.1h-8.6zM401.6 420.8h79.2v7.1h-79.2zM391.7 431.4h34.7v7.1h-34.7zM428.8 431.4h47.2v7.1h-47.2zM391.7 442.0h87.5v7.1h-87.5zM391.7 452.6h82.7v7.1h-82.7zM391.7 463.2h112.3v7.1h-112.3zM391.7 473.8h86.5v7.1h-86.5zM391.7 484.4h90.2v7.1h-90.2zM391.7 495.0h97.3v7.1h-97.3zM391.7 505.6h72.7v7.1h-72.7zM466.0 505.6h13.1v7.1h-13.1zM391.7 516.2h87.5v7.1h-87.5zM391.7 526.9h65.6v7.1h-65.6zM457.0 526.9h40.9v7.1h-40.9zM391.7 537.5h82.7v7.1h-82.7zM391.7 548.1h80.0v7.1h-80.0zM391.7 558.7h90.2v7.1h-90.2zM391.7 569.2h85.1v7.1h-85.1zM391.7 579.9h99.0v7.1h-99.0zM404.0 590.5h84.2v7.1h-84.2zM391.7 601.1h98.2v7.1h-98.2zM391.7 611.7h80.0v7.1h-80.0zM407.9 622.2h63.0v7.1h-63.0zM464.9 664.7h22.2v7.1h-22.2zM441.2 717.7h37.5v7.1h-37.5z" fill="url(#texB)"/>
<rect x="391.0" y="394.5" width="171" height="532.5" fill="none" stroke="#333" stroke-width="1.6"/>
<rect x="391.0" y="339.5" width="171" height="55.0" fill="#d9d9d9" stroke="#333" stroke-width="1.2"/>
<line x1="391.0" y1="394.8" x2="562.0" y2="394.8" stroke="#333" stroke-width="1.9"/>
<text x="476.5" y="375.8" font-size="17.6" text-anchor="middle" fill="#1a1a1a" >20 <tspan font-style="italic">μ</tspan>M</text>
<line x1="391.2" y1="927" x2="391.2" y2="933.5" stroke="#333" stroke-width="1.1"/>
<line x1="412.6" y1="927" x2="412.6" y2="933.5" stroke="#333" stroke-width="1.1"/>
<line x1="434.1" y1="927" x2="434.1" y2="933.5" stroke="#333" stroke-width="1.1"/>
<line x1="455.5" y1="927" x2="455.5" y2="933.5" stroke="#333" stroke-width="1.1"/>
<line x1="477.0" y1="927" x2="477.0" y2="933.5" stroke="#333" stroke-width="1.1"/>
<line x1="498.4" y1="927" x2="498.4" y2="933.5" stroke="#333" stroke-width="1.1"/>
<line x1="519.9" y1="927" x2="519.9" y2="933.5" stroke="#333" stroke-width="1.1"/>
<line x1="541.3" y1="927" x2="541.3" y2="933.5" stroke="#333" stroke-width="1.1"/>
<text x="391.2" y="953.7" font-size="18.3" text-anchor="middle" fill="#4d4d4d" >0</text>
<text x="434.1" y="953.7" font-size="18.3" text-anchor="middle" fill="#4d4d4d" >40</text>
<text x="477.0" y="953.7" font-size="18.3" text-anchor="middle" fill="#4d4d4d" >80</text>
<text x="519.9" y="953.7" font-size="18.3" text-anchor="middle" fill="#4d4d4d" >120</text>
<rect x="581.5" y="394.5" width="171" height="532.5" fill="#fff"/>
<line x1="603.1" y1="394.5" x2="603.1" y2="927" stroke="#eeeeee" stroke-width="1.3"/>
<line x1="646.0" y1="394.5" x2="646.0" y2="927" stroke="#eeeeee" stroke-width="1.3"/>
<line x1="688.9" y1="394.5" x2="688.9" y2="927" stroke="#eeeeee" stroke-width="1.3"/>
<line x1="731.8" y1="394.5" x2="731.8" y2="927" stroke="#eeeeee" stroke-width="1.3"/>
<line x1="624.6" y1="394.5" x2="624.6" y2="927" stroke="#ebebeb" stroke-width="2.3"/>
<line x1="667.5" y1="394.5" x2="667.5" y2="927" stroke="#ebebeb" stroke-width="2.3"/>
<line x1="710.4" y1="394.5" x2="710.4" y2="927" stroke="#ebebeb" stroke-width="2.3"/>
<line x1="581.5" y1="403.2" x2="752.5" y2="403.2" stroke="#ebebeb" stroke-width="2.2"/>
<line x1="581.5" y1="456.2" x2="752.5" y2="456.2" stroke="#ebebeb" stroke-width="2.2"/>
<line x1="581.5" y1="509.2" x2="752.5" y2="509.2" stroke="#ebebeb" stroke-width="2.2"/>
<line x1="581.5" y1="562.2" x2="752.5" y2="562.2" stroke="#ebebeb" stroke-width="2.2"/>
<line x1="581.5" y1="615.2" x2="752.5" y2="615.2" stroke="#ebebeb" stroke-width="2.2"/>
<line x1="581.5" y1="668.2" x2="752.5" y2="668.2" stroke="#ebebeb" stroke-width="2.2"/>
<line x1="581.5" y1="721.2" x2="752.5" y2="721.2" stroke="#ebebeb" stroke-width="2.2"/>
<line x1="581.5" y1="774.2" x2="752.5" y2="774.2" stroke="#ebebeb" stroke-width="2.2"/>
<line x1="581.5" y1="827.2" x2="752.5" y2="827.2" stroke="#ebebeb" stroke-width="2.2"/>
<line x1="581.5" y1="880.2" x2="752.5" y2="880.2" stroke="#ebebeb" stroke-width="2.2"/>
<rect x="582.2" y="399.6" width="61.9" height="7.1" fill="#feb72d"/>
<rect x="643.8" y="399.6" width="7.4" height="7.1" fill="#8f0da4"/>
<rect x="651.0" y="399.6" width="14.7" height="7.1" fill="#feb72d"/>
<rect x="582.2" y="410.2" width="94.6" height="7.1" fill="#fca636"/>
<rect x="582.2" y="420.8" width="85.7" height="7.1" fill="#fb9f3a"/>
<rect x="582.2" y="431.4" width="73.8" height="7.1" fill="#fca636"/>
<rect x="655.7" y="431.4" width="2.4" height="7.1" fill="#b12a90"/>
<rect x="657.8" y="431.4" width="4.0" height="7.1" fill="#fca338"/>
<rect x="582.2" y="442.0" width="93.3" height="7.1" fill="#fb9f3a"/>
<rect x="582.2" y="452.6" width="91.7" height="7.1" fill="#fa9c3c"/>
<rect x="582.2" y="463.2" width="106.8" height="7.1" fill="#fca636"/>
<rect x="582.2" y="473.8" width="88.5" height="7.1" fill="#f9983e"/>
<rect x="582.2" y="484.4" width="12.8" height="7.1" fill="#0d0887"/>
<rect x="594.8" y="484.4" width="9.8" height="7.1" fill="#d6556d"/>
<rect x="604.2" y="484.4" width="60.5" height="7.1" fill="#fb9f3a"/>
<rect x="582.2" y="495.0" width="4.1" height="7.1" fill="#0d0887"/>
<rect x="586.0" y="495.0" width="90.7" height="7.1" fill="#f9983e"/>
<rect x="582.2" y="505.6" width="88.5" height="7.1" fill="#f9983e"/>
<rect x="582.2" y="516.2" width="94.6" height="7.1" fill="#f9983e"/>
<rect x="582.2" y="526.9" width="80.6" height="7.1" fill="#fa9c3c"/>
<rect x="582.2" y="537.5" width="90.9" height="7.1" fill="#f9983e"/>
<rect x="582.2" y="548.1" width="103.6" height="7.1" fill="#fb9f3a"/>
<rect x="582.2" y="558.7" width="83.3" height="7.1" fill="#f9983e"/>
<rect x="582.2" y="569.2" width="33.4" height="7.1" fill="#d6556d"/>
<rect x="615.3" y="569.2" width="4.3" height="7.1" fill="#7e03a8"/>
<rect x="619.3" y="569.2" width="45.4" height="7.1" fill="#f9983e"/>
<rect x="664.4" y="569.2" width="1.9" height="7.1" fill="#8f0da4"/>
<rect x="666.0" y="569.2" width="10.8" height="7.1" fill="#fdab33"/>
<rect x="582.2" y="579.9" width="82.7" height="7.1" fill="#f9983e"/>
<rect x="582.2" y="590.5" width="87.8" height="7.1" fill="#eb7655"/>
<rect x="582.2" y="601.1" width="66.7" height="7.1" fill="#f0804e"/>
<rect x="648.6" y="601.1" width="6.6" height="7.1" fill="#0d0887"/>
<rect x="654.9" y="601.1" width="20.9" height="7.1" fill="#f58b47"/>
<rect x="582.2" y="611.7" width="81.4" height="7.1" fill="#f2844b"/>
<rect x="582.2" y="622.2" width="115.8" height="7.1" fill="#f2844b"/>
<rect x="582.2" y="632.9" width="22.3" height="7.1" fill="#eb7655"/>
<rect x="604.2" y="632.9" width="20.9" height="7.1" fill="#0d0887"/>
<rect x="624.8" y="632.9" width="5.8" height="7.1" fill="#a11b9b"/>
<rect x="630.4" y="632.9" width="32.0" height="7.1" fill="#f58b47"/>
<rect x="582.2" y="643.5" width="79.5" height="7.1" fill="#eb7655"/>
<rect x="582.2" y="654.0" width="61.9" height="7.1" fill="#dd5e66"/>
<rect x="643.8" y="654.0" width="25.6" height="7.1" fill="#f58b47"/>
<rect x="582.2" y="664.7" width="99.6" height="7.1" fill="#e87059"/>
<rect x="582.2" y="675.2" width="28.7" height="7.1" fill="#fca636"/>
<rect x="610.6" y="675.2" width="30.4" height="7.1" fill="#e87059"/>
<rect x="640.7" y="675.2" width="28.5" height="7.1" fill="#0d0887"/>
<rect x="582.2" y="685.9" width="20.8" height="7.1" fill="#f58b47"/>
<rect x="602.7" y="685.9" width="10.6" height="7.1" fill="#0d0887"/>
<rect x="613.0" y="685.9" width="16.1" height="7.1" fill="#f58b47"/>
<rect x="628.8" y="685.9" width="12.2" height="7.1" fill="#0d0887"/>
<rect x="640.7" y="685.9" width="22.2" height="7.1" fill="#f79143"/>
<rect x="582.2" y="696.5" width="80.6" height="7.1" fill="#dd5e66"/>
<rect x="582.2" y="707.0" width="110.2" height="7.1" fill="#dd5e66"/>
<rect x="582.2" y="717.7" width="91.7" height="7.1" fill="#d6556d"/>
<rect x="582.2" y="728.2" width="20.8" height="7.1" fill="#d04d73"/>
<rect x="602.7" y="728.2" width="19.3" height="7.1" fill="#6300a7"/>
<rect x="621.7" y="728.2" width="35.1" height="7.1" fill="#d6556d"/>
<rect x="656.5" y="728.2" width="14.2" height="7.1" fill="#6300a7"/>
<rect x="582.2" y="738.9" width="83.0" height="7.1" fill="#c6417d"/>
<rect x="582.2" y="749.5" width="28.7" height="7.1" fill="#bf3984"/>
<rect x="610.6" y="749.5" width="13.0" height="7.1" fill="#20068f"/>
<rect x="623.2" y="749.5" width="33.5" height="7.1" fill="#b12a90"/>
<rect x="656.5" y="749.5" width="5.8" height="7.1" fill="#4903a0"/>
<rect x="662.0" y="749.5" width="6.8" height="7.1" fill="#bf3984"/>
<rect x="582.2" y="760.0" width="27.1" height="7.1" fill="#bf3984"/>
<rect x="609.0" y="760.0" width="13.0" height="7.1" fill="#2e0595"/>
<rect x="621.7" y="760.0" width="61.0" height="7.1" fill="#ab2494"/>
<rect x="582.2" y="770.7" width="39.8" height="7.1" fill="#bf3984"/>
<rect x="621.7" y="770.7" width="8.2" height="7.1" fill="#2e0595"/>
<rect x="629.6" y="770.7" width="17.7" height="7.1" fill="#b12a90"/>
<rect x="647.0" y="770.7" width="15.8" height="7.1" fill="#20068f"/>
<rect x="582.2" y="781.2" width="39.8" height="7.1" fill="#7e03a8"/>
<rect x="621.7" y="781.2" width="39.6" height="7.1" fill="#cc4778"/>
<rect x="582.2" y="791.9" width="16.0" height="7.1" fill="#6300a7"/>
<rect x="597.9" y="791.9" width="32.0" height="7.1" fill="#b6308b"/>
<rect x="629.6" y="791.9" width="16.1" height="7.1" fill="#0d0887"/>
<rect x="645.4" y="791.9" width="19.0" height="7.1" fill="#b12a90"/>
<rect x="582.2" y="802.5" width="20.8" height="7.1" fill="#0d0887"/>
<rect x="602.7" y="802.5" width="63.0" height="7.1" fill="#8f0da4"/>
<rect x="582.2" y="813.0" width="16.0" height="7.1" fill="#cc4778"/>
<rect x="597.9" y="813.0" width="28.8" height="7.1" fill="#0d0887"/>
<rect x="626.4" y="813.0" width="39.3" height="7.1" fill="#8f0da4"/>
<rect x="582.2" y="823.7" width="12.8" height="7.1" fill="#0d0887"/>
<rect x="594.8" y="823.7" width="32.0" height="7.1" fill="#cc4778"/>
<rect x="626.4" y="823.7" width="19.3" height="7.1" fill="#0d0887"/>
<rect x="645.4" y="823.7" width="16.1" height="7.1" fill="#b12a90"/>
<rect x="661.2" y="823.7" width="16.9" height="7.1" fill="#2e0595"/>
<rect x="582.2" y="834.2" width="35.0" height="7.1" fill="#a11b9b"/>
<rect x="616.9" y="834.2" width="51.9" height="7.1" fill="#4903a0"/>
<rect x="582.2" y="844.9" width="98.5" height="7.1" fill="#6300a7"/>
<rect x="582.2" y="855.5" width="49.3" height="7.1" fill="#0d0887"/>
<rect x="631.2" y="855.5" width="39.6" height="7.1" fill="#b12a90"/>
<rect x="582.2" y="866.0" width="79.8" height="7.1" fill="#4903a0"/>
<rect x="582.2" y="876.7" width="96.8" height="7.1" fill="#2e0595"/>
<rect x="582.2" y="887.2" width="20.8" height="7.1" fill="#bf3984"/>
<rect x="602.7" y="887.2" width="44.6" height="7.1" fill="#0d0887"/>
<rect x="647.0" y="887.2" width="21.9" height="7.1" fill="#bf3984"/>
<rect x="582.2" y="897.9" width="35.0" height="7.1" fill="#b6308b"/>
<rect x="616.9" y="897.9" width="61.0" height="7.1" fill="#0d0887"/>
<rect x="582.2" y="908.5" width="14.4" height="7.1" fill="#7e03a8"/>
<rect x="596.3" y="908.5" width="35.1" height="7.1" fill="#0d0887"/>
<rect x="631.2" y="908.5" width="13.0" height="7.1" fill="#8f0da4"/>
<rect x="643.8" y="908.5" width="25.3" height="7.1" fill="#4903a0"/>
<rect x="582.2" y="919.0" width="109.6" height="7.1" fill="#20068f"/>
<path d="M643.8 399.6h7.4v7.1h-7.4zM582.2 484.4h12.8v7.1h-12.8zM582.2 495.0h4.1v7.1h-4.1zM615.3 569.2h4.3v7.1h-4.3zM664.4 569.2h1.9v7.1h-1.9zM648.6 601.1h6.6v7.1h-6.6zM604.2 632.9h20.9v7.1h-20.9zM640.7 675.2h28.5v7.1h-28.5zM602.7 685.9h10.6v7.1h-10.6zM628.8 685.9h12.2v7.1h-12.2zM602.7 728.2h19.3v7.1h-19.3zM656.5 728.2h14.2v7.1h-14.2zM610.6 749.5h13.0v7.1h-13.0zM656.5 749.5h5.8v7.1h-5.8zM609.0 760.0h13.0v7.1h-13.0zM621.7 770.7h8.2v7.1h-8.2zM647.0 770.7h15.8v7.1h-15.8zM582.2 781.2h39.8v7.1h-39.8zM582.2 791.9h16.0v7.1h-16.0zM629.6 791.9h16.1v7.1h-16.1zM582.2 802.5h20.8v7.1h-20.8zM602.7 802.5h63.0v7.1h-63.0zM597.9 813.0h28.8v7.1h-28.8zM626.4 813.0h39.3v7.1h-39.3zM582.2 823.7h12.8v7.1h-12.8zM626.4 823.7h19.3v7.1h-19.3zM661.2 823.7h16.9v7.1h-16.9zM616.9 834.2h51.9v7.1h-51.9zM582.2 844.9h98.5v7.1h-98.5zM582.2 855.5h49.3v7.1h-49.3zM582.2 866.0h79.8v7.1h-79.8zM582.2 876.7h96.8v7.1h-96.8zM602.7 887.2h44.6v7.1h-44.6zM616.9 897.9h61.0v7.1h-61.0zM582.2 908.5h14.4v7.1h-14.4zM596.3 908.5h35.1v7.1h-35.1zM631.2 908.5h13.0v7.1h-13.0zM643.8 908.5h25.3v7.1h-25.3zM582.2 919.0h109.6v7.1h-109.6z" fill="url(#texD)"/>
<path d="M655.7 431.4h2.4v7.1h-2.4zM594.8 484.4h9.8v7.1h-9.8zM582.2 569.2h33.4v7.1h-33.4zM624.8 632.9h5.8v7.1h-5.8zM582.2 654.0h61.9v7.1h-61.9zM582.2 664.7h99.6v7.1h-99.6zM610.6 675.2h30.4v7.1h-30.4zM582.2 696.5h80.6v7.1h-80.6zM582.2 707.0h110.2v7.1h-110.2zM582.2 717.7h91.7v7.1h-91.7zM582.2 728.2h20.8v7.1h-20.8zM621.7 728.2h35.1v7.1h-35.1zM582.2 738.9h83.0v7.1h-83.0zM582.2 749.5h28.7v7.1h-28.7zM623.2 749.5h33.5v7.1h-33.5zM662.0 749.5h6.8v7.1h-6.8zM582.2 760.0h27.1v7.1h-27.1zM621.7 760.0h61.0v7.1h-61.0zM582.2 770.7h39.8v7.1h-39.8zM629.6 770.7h17.7v7.1h-17.7zM621.7 781.2h39.6v7.1h-39.6zM597.9 791.9h32.0v7.1h-32.0zM645.4 791.9h19.0v7.1h-19.0zM582.2 813.0h16.0v7.1h-16.0zM594.8 823.7h32.0v7.1h-32.0zM645.4 823.7h16.1v7.1h-16.1zM582.2 834.2h35.0v7.1h-35.0zM631.2 855.5h39.6v7.1h-39.6zM582.2 887.2h20.8v7.1h-20.8zM647.0 887.2h21.9v7.1h-21.9zM582.2 897.9h35.0v7.1h-35.0z" fill="url(#texM)"/>
<path d="M582.2 399.6h61.9v7.1h-61.9zM651.0 399.6h14.7v7.1h-14.7zM582.2 410.2h94.6v7.1h-94.6zM582.2 420.8h85.7v7.1h-85.7zM582.2 431.4h73.8v7.1h-73.8zM657.8 431.4h4.0v7.1h-4.0zM582.2 442.0h93.3v7.1h-93.3zM582.2 452.6h91.7v7.1h-91.7zM582.2 463.2h106.8v7.1h-106.8zM582.2 473.8h88.5v7.1h-88.5zM604.2 484.4h60.5v7.1h-60.5zM586.0 495.0h90.7v7.1h-90.7zM582.2 505.6h88.5v7.1h-88.5zM582.2 516.2h94.6v7.1h-94.6zM582.2 526.9h80.6v7.1h-80.6zM582.2 537.5h90.9v7.1h-90.9zM582.2 548.1h103.6v7.1h-103.6zM582.2 558.7h83.3v7.1h-83.3zM619.3 569.2h45.4v7.1h-45.4zM666.0 569.2h10.8v7.1h-10.8zM582.2 579.9h82.7v7.1h-82.7zM582.2 590.5h87.8v7.1h-87.8zM582.2 601.1h66.7v7.1h-66.7zM654.9 601.1h20.9v7.1h-20.9zM582.2 611.7h81.4v7.1h-81.4zM582.2 622.2h115.8v7.1h-115.8zM582.2 632.9h22.3v7.1h-22.3zM630.4 632.9h32.0v7.1h-32.0zM582.2 643.5h79.5v7.1h-79.5zM643.8 654.0h25.6v7.1h-25.6zM582.2 675.2h28.7v7.1h-28.7zM582.2 685.9h20.8v7.1h-20.8zM613.0 685.9h16.1v7.1h-16.1zM640.7 685.9h22.2v7.1h-22.2z" fill="url(#texB)"/>
<rect x="581.5" y="394.5" width="171" height="532.5" fill="none" stroke="#333" stroke-width="1.6"/>
<rect x="581.5" y="339.5" width="171" height="55.0" fill="#d9d9d9" stroke="#333" stroke-width="1.2"/>
<line x1="581.5" y1="394.8" x2="752.5" y2="394.8" stroke="#333" stroke-width="1.9"/>
<text x="667.0" y="375.8" font-size="17.6" text-anchor="middle" fill="#1a1a1a" >100 <tspan font-style="italic">μ</tspan>M</text>
<line x1="581.7" y1="927" x2="581.7" y2="933.5" stroke="#333" stroke-width="1.1"/>
<line x1="603.1" y1="927" x2="603.1" y2="933.5" stroke="#333" stroke-width="1.1"/>
<line x1="624.6" y1="927" x2="624.6" y2="933.5" stroke="#333" stroke-width="1.1"/>
<line x1="646.0" y1="927" x2="646.0" y2="933.5" stroke="#333" stroke-width="1.1"/>
<line x1="667.5" y1="927" x2="667.5" y2="933.5" stroke="#333" stroke-width="1.1"/>
<line x1="688.9" y1="927" x2="688.9" y2="933.5" stroke="#333" stroke-width="1.1"/>
<line x1="710.4" y1="927" x2="710.4" y2="933.5" stroke="#333" stroke-width="1.1"/>
<line x1="731.8" y1="927" x2="731.8" y2="933.5" stroke="#333" stroke-width="1.1"/>
<text x="581.7" y="953.7" font-size="18.3" text-anchor="middle" fill="#4d4d4d" >0</text>
<text x="624.6" y="953.7" font-size="18.3" text-anchor="middle" fill="#4d4d4d" >40</text>
<text x="667.5" y="953.7" font-size="18.3" text-anchor="middle" fill="#4d4d4d" >80</text>
<text x="710.4" y="953.7" font-size="18.3" text-anchor="middle" fill="#4d4d4d" >120</text>
<rect x="772.0" y="394.5" width="171" height="532.5" fill="#fff"/>
<line x1="793.6" y1="394.5" x2="793.6" y2="927" stroke="#eeeeee" stroke-width="1.3"/>
<line x1="836.5" y1="394.5" x2="836.5" y2="927" stroke="#eeeeee" stroke-width="1.3"/>
<line x1="879.4" y1="394.5" x2="879.4" y2="927" stroke="#eeeeee" stroke-width="1.3"/>
<line x1="922.3" y1="394.5" x2="922.3" y2="927" stroke="#eeeeee" stroke-width="1.3"/>
<line x1="815.1" y1="394.5" x2="815.1" y2="927" stroke="#ebebeb" stroke-width="2.3"/>
<line x1="858.0" y1="394.5" x2="858.0" y2="927" stroke="#ebebeb" stroke-width="2.3"/>
<line x1="900.9" y1="394.5" x2="900.9" y2="927" stroke="#ebebeb" stroke-width="2.3"/>
<line x1="772.0" y1="403.2" x2="943.0" y2="403.2" stroke="#ebebeb" stroke-width="2.2"/>
<line x1="772.0" y1="456.2" x2="943.0" y2="456.2" stroke="#ebebeb" stroke-width="2.2"/>
<line x1="772.0" y1="509.2" x2="943.0" y2="509.2" stroke="#ebebeb" stroke-width="2.2"/>
<line x1="772.0" y1="562.2" x2="943.0" y2="562.2" stroke="#ebebeb" stroke-width="2.2"/>
<line x1="772.0" y1="615.2" x2="943.0" y2="615.2" stroke="#ebebeb" stroke-width="2.2"/>
<line x1="772.0" y1="668.2" x2="943.0" y2="668.2" stroke="#ebebeb" stroke-width="2.2"/>
<line x1="772.0" y1="721.2" x2="943.0" y2="721.2" stroke="#ebebeb" stroke-width="2.2"/>
<line x1="772.0" y1="774.2" x2="943.0" y2="774.2" stroke="#ebebeb" stroke-width="2.2"/>
<line x1="772.0" y1="827.2" x2="943.0" y2="827.2" stroke="#ebebeb" stroke-width="2.2"/>
<line x1="772.0" y1="880.2" x2="943.0" y2="880.2" stroke="#ebebeb" stroke-width="2.2"/>
<rect x="772.7" y="399.6" width="2.3" height="7.1" fill="#feb72d"/>
<rect x="774.7" y="399.6" width="2.7" height="7.1" fill="#d6556d"/>
<rect x="777.0" y="399.6" width="82.6" height="7.1" fill="#f8df25"/>
<rect x="772.7" y="410.2" width="80.0" height="7.1" fill="#fdc229"/>
<rect x="772.7" y="420.8" width="96.2" height="7.1" fill="#fdca26"/>
<rect x="772.7" y="431.4" width="89.0" height="7.1" fill="#febe2a"/>
<rect x="772.7" y="442.0" width="48.2" height="7.1" fill="#fdc229"/>
<rect x="820.6" y="442.0" width="7.4" height="7.1" fill="#f9983e"/>
<rect x="827.7" y="442.0" width="19.3" height="7.1" fill="#fdc229"/>
<rect x="846.7" y="442.0" width="2.4" height="7.1" fill="#cc4778"/>
<rect x="848.8" y="442.0" width="30.9" height="7.1" fill="#feb72d"/>
<rect x="772.7" y="452.6" width="10.2" height="7.1" fill="#febe2a"/>
<rect x="782.6" y="452.6" width="3.1" height="7.1" fill="#cc4778"/>
<rect x="785.4" y="452.6" width="69.5" height="7.1" fill="#fdc229"/>
<rect x="772.7" y="463.2" width="87.0" height="7.1" fill="#febe2a"/>
<rect x="772.7" y="473.8" width="112.5" height="7.1" fill="#febe2a"/>
<rect x="772.7" y="484.4" width="84.6" height="7.1" fill="#feb72d"/>
<rect x="857.0" y="484.4" width="3.0" height="7.1" fill="#2e0595"/>
<rect x="859.7" y="484.4" width="2.9" height="7.1" fill="#feb72d"/>
<rect x="772.7" y="495.0" width="81.4" height="7.1" fill="#feb72d"/>
<rect x="853.8" y="495.0" width="2.9" height="7.1" fill="#0d0887"/>
<rect x="772.7" y="505.6" width="74.3" height="7.1" fill="#febe2a"/>
<rect x="846.7" y="505.6" width="3.0" height="7.1" fill="#cc4778"/>
<rect x="849.4" y="505.6" width="19.5" height="7.1" fill="#feb72d"/>
<rect x="772.7" y="516.2" width="95.1" height="7.1" fill="#febe2a"/>
<rect x="772.7" y="526.9" width="1.5" height="7.1" fill="#6300a7"/>
<rect x="773.9" y="526.9" width="78.1" height="7.1" fill="#febe2a"/>
<rect x="772.7" y="537.5" width="70.3" height="7.1" fill="#feb72d"/>
<rect x="842.8" y="537.5" width="10.0" height="7.1" fill="#0d0887"/>
<rect x="772.7" y="548.1" width="127.0" height="7.1" fill="#febe2a"/>
<rect x="772.7" y="558.7" width="82.7" height="7.1" fill="#feb72d"/>
<rect x="772.7" y="569.2" width="81.9" height="7.1" fill="#feb72d"/>
<rect x="772.7" y="579.9" width="25.7" height="7.1" fill="#feb72d"/>
<rect x="798.1" y="579.9" width="2.2" height="7.1" fill="#2e0595"/>
<rect x="800.0" y="579.9" width="5.0" height="7.1" fill="#d6556d"/>
<rect x="804.8" y="579.9" width="48.8" height="7.1" fill="#feb72d"/>
<rect x="772.7" y="590.5" width="80.8" height="7.1" fill="#fdae32"/>
<rect x="772.7" y="601.1" width="128.9" height="7.1" fill="#fdae32"/>
<rect x="772.7" y="611.7" width="39.9" height="7.1" fill="#fdae32"/>
<rect x="812.4" y="611.7" width="2.7" height="7.1" fill="#2e0595"/>
<rect x="814.7" y="611.7" width="54.9" height="7.1" fill="#fdae32"/>
<rect x="772.7" y="622.2" width="66.7" height="7.1" fill="#febe2a"/>
<rect x="839.1" y="622.2" width="38.8" height="7.1" fill="#0d0887"/>
<rect x="772.7" y="632.9" width="82.7" height="7.1" fill="#fdae32"/>
<rect x="772.7" y="643.5" width="62.4" height="7.1" fill="#fdae32"/>
<rect x="834.8" y="643.5" width="24.9" height="7.1" fill="#0d0887"/>
<rect x="772.7" y="654.0" width="39.5" height="7.1" fill="#feb72d"/>
<rect x="811.9" y="654.0" width="4.3" height="7.1" fill="#0d0887"/>
<rect x="815.8" y="654.0" width="39.6" height="7.1" fill="#feb72d"/>
<rect x="772.7" y="664.7" width="58.5" height="7.1" fill="#fdae32"/>
<rect x="830.9" y="664.7" width="13.8" height="7.1" fill="#8f0da4"/>
<rect x="844.3" y="664.7" width="12.4" height="7.1" fill="#fca338"/>
<rect x="772.7" y="675.2" width="68.0" height="7.1" fill="#feb72d"/>
<rect x="840.4" y="675.2" width="1.9" height="7.1" fill="#b12a90"/>
<rect x="842.0" y="675.2" width="11.4" height="7.1" fill="#0d0887"/>
<rect x="772.7" y="685.9" width="87.8" height="7.1" fill="#fca636"/>
<rect x="860.2" y="685.9" width="3.5" height="7.1" fill="#a11b9b"/>
<rect x="863.3" y="685.9" width="7.6" height="7.1" fill="#f79143"/>
<rect x="772.7" y="696.5" width="35.5" height="7.1" fill="#feb72d"/>
<rect x="807.9" y="696.5" width="21.7" height="7.1" fill="#0d0887"/>
<rect x="829.3" y="696.5" width="27.4" height="7.1" fill="#fca338"/>
<rect x="772.7" y="707.0" width="21.3" height="7.1" fill="#fca338"/>
<rect x="793.7" y="707.0" width="5.0" height="7.1" fill="#0d0887"/>
<rect x="798.4" y="707.0" width="42.3" height="7.1" fill="#fca338"/>
<rect x="840.4" y="707.0" width="13.5" height="7.1" fill="#0d0887"/>
<rect x="772.7" y="717.7" width="41.8" height="7.1" fill="#fdae32"/>
<rect x="814.2" y="717.7" width="32.8" height="7.1" fill="#0d0887"/>
<rect x="846.7" y="717.7" width="8.2" height="7.1" fill="#f9983e"/>
<rect x="772.7" y="728.2" width="35.5" height="7.1" fill="#f9983e"/>
<rect x="807.9" y="728.2" width="5.0" height="7.1" fill="#b12a90"/>
<rect x="812.7" y="728.2" width="45.9" height="7.1" fill="#fca338"/>
<rect x="772.7" y="738.9" width="87.0" height="7.1" fill="#f79143"/>
<rect x="772.7" y="749.5" width="83.5" height="7.1" fill="#f58b47"/>
<rect x="772.7" y="760.0" width="26.8" height="7.1" fill="#fca338"/>
<rect x="799.2" y="760.0" width="19.3" height="7.1" fill="#0d0887"/>
<rect x="818.2" y="760.0" width="14.6" height="7.1" fill="#f9983e"/>
<rect x="832.5" y="760.0" width="13.0" height="7.1" fill="#0d0887"/>
<rect x="845.1" y="760.0" width="11.6" height="7.1" fill="#fdae32"/>
<rect x="772.7" y="770.7" width="14.1" height="7.1" fill="#fca338"/>
<rect x="786.5" y="770.7" width="1.9" height="7.1" fill="#8f0da4"/>
<rect x="788.1" y="770.7" width="65.7" height="7.1" fill="#f79143"/>
<rect x="772.7" y="781.2" width="64.0" height="7.1" fill="#f9983e"/>
<rect x="836.4" y="781.2" width="13.0" height="7.1" fill="#0d0887"/>
<rect x="849.1" y="781.2" width="17.7" height="7.1" fill="#d6556d"/>
<rect x="866.5" y="781.2" width="5.0" height="7.1" fill="#8f0da4"/>
<rect x="871.2" y="781.2" width="5.9" height="7.1" fill="#0d0887"/>
<rect x="772.7" y="791.9" width="52.9" height="7.1" fill="#f79143"/>
<rect x="825.3" y="791.9" width="7.4" height="7.1" fill="#0d0887"/>
<rect x="832.5" y="791.9" width="28.0" height="7.1" fill="#f79143"/>
<rect x="860.2" y="791.9" width="6.6" height="7.1" fill="#0d0887"/>
<rect x="866.5" y="791.9" width="9.8" height="7.1" fill="#d6556d"/>
<rect x="876.0" y="791.9" width="15.3" height="7.1" fill="#0d0887"/>
<rect x="891.0" y="791.9" width="4.8" height="7.1" fill="#d6556d"/>
<rect x="772.7" y="802.5" width="37.1" height="7.1" fill="#f0804e"/>
<rect x="809.5" y="802.5" width="3.5" height="7.1" fill="#2e0595"/>
<rect x="812.7" y="802.5" width="32.0" height="7.1" fill="#f0804e"/>
<rect x="844.3" y="802.5" width="8.7" height="7.1" fill="#0d0887"/>
<rect x="772.7" y="813.0" width="7.8" height="7.1" fill="#f0804e"/>
<rect x="780.2" y="813.0" width="3.5" height="7.1" fill="#0d0887"/>
<rect x="783.4" y="813.0" width="18.5" height="7.1" fill="#f79143"/>
<rect x="801.6" y="813.0" width="5.8" height="7.1" fill="#0d0887"/>
<rect x="807.1" y="813.0" width="38.3" height="7.1" fill="#f9983e"/>
<rect x="845.1" y="813.0" width="23.8" height="7.1" fill="#0d0887"/>
<rect x="772.7" y="823.7" width="18.9" height="7.1" fill="#eb7655"/>
<rect x="791.3" y="823.7" width="3.5" height="7.1" fill="#0d0887"/>
<rect x="794.5" y="823.7" width="45.4" height="7.1" fill="#f0804e"/>
<rect x="839.6" y="823.7" width="12.2" height="7.1" fill="#0d0887"/>
<rect x="851.5" y="823.7" width="3.5" height="7.1" fill="#d6556d"/>
<rect x="772.7" y="834.2" width="14.1" height="7.1" fill="#0d0887"/>
<rect x="786.5" y="834.2" width="80.3" height="7.1" fill="#e87059"/>
<rect x="772.7" y="844.9" width="6.2" height="7.1" fill="#0d0887"/>
<rect x="778.6" y="844.9" width="13.8" height="7.1" fill="#f79143"/>
<rect x="792.1" y="844.9" width="10.6" height="7.1" fill="#0d0887"/>
<rect x="802.4" y="844.9" width="32.0" height="7.1" fill="#f9983e"/>
<rect x="834.0" y="844.9" width="18.5" height="7.1" fill="#0d0887"/>
<rect x="852.2" y="844.9" width="2.7" height="7.1" fill="#cc4778"/>
<rect x="772.7" y="855.5" width="26.8" height="7.1" fill="#d6556d"/>
<rect x="799.2" y="855.5" width="28.0" height="7.1" fill="#0d0887"/>
<rect x="826.9" y="855.5" width="25.3" height="7.1" fill="#f0804e"/>
<rect x="772.7" y="866.0" width="16.5" height="7.1" fill="#d6556d"/>
<rect x="788.9" y="866.0" width="16.1" height="7.1" fill="#0d0887"/>
<rect x="804.8" y="866.0" width="28.8" height="7.1" fill="#dd5e66"/>
<rect x="833.2" y="866.0" width="15.3" height="7.1" fill="#0d0887"/>
<rect x="848.3" y="866.0" width="14.6" height="7.1" fill="#f0804e"/>
<rect x="772.7" y="876.7" width="20.5" height="7.1" fill="#e87059"/>
<rect x="792.9" y="876.7" width="5.0" height="7.1" fill="#0d0887"/>
<rect x="797.6" y="876.7" width="29.6" height="7.1" fill="#e87059"/>
<rect x="826.9" y="876.7" width="29.3" height="7.1" fill="#0d0887"/>
<rect x="772.7" y="887.2" width="22.1" height="7.1" fill="#0d0887"/>
<rect x="794.5" y="887.2" width="31.2" height="7.1" fill="#d6556d"/>
<rect x="825.3" y="887.2" width="7.4" height="7.1" fill="#0d0887"/>
<rect x="832.5" y="887.2" width="21.4" height="7.1" fill="#d6556d"/>
<rect x="772.7" y="897.9" width="100.4" height="7.1" fill="#6300a7"/>
<rect x="872.8" y="897.9" width="22.2" height="7.1" fill="#a11b9b"/>
<rect x="772.7" y="908.5" width="30.8" height="7.1" fill="#cc4778"/>
<rect x="803.2" y="908.5" width="56.2" height="7.1" fill="#4903a0"/>
<rect x="772.7" y="919.0" width="14.9" height="7.1" fill="#7e03a8"/>
<rect x="787.3" y="919.0" width="22.5" height="7.1" fill="#bf3984"/>
<rect x="809.5" y="919.0" width="47.5" height="7.1" fill="#2e0595"/>
<path d="M857.0 484.4h3.0v7.1h-3.0zM853.8 495.0h2.9v7.1h-2.9zM772.7 526.9h1.5v7.1h-1.5zM842.8 537.5h10.0v7.1h-10.0zM798.1 579.9h2.2v7.1h-2.2zM812.4 611.7h2.7v7.1h-2.7zM839.1 622.2h38.8v7.1h-38.8zM834.8 643.5h24.9v7.1h-24.9zM811.9 654.0h4.3v7.1h-4.3zM830.9 664.7h13.8v7.1h-13.8zM842.0 675.2h11.4v7.1h-11.4zM807.9 696.5h21.7v7.1h-21.7zM793.7 707.0h5.0v7.1h-5.0zM840.4 707.0h13.5v7.1h-13.5zM814.2 717.7h32.8v7.1h-32.8zM799.2 760.0h19.3v7.1h-19.3zM832.5 760.0h13.0v7.1h-13.0zM786.5 770.7h1.9v7.1h-1.9zM836.4 781.2h13.0v7.1h-13.0zM866.5 781.2h5.0v7.1h-5.0zM871.2 781.2h5.9v7.1h-5.9zM825.3 791.9h7.4v7.1h-7.4zM860.2 791.9h6.6v7.1h-6.6zM876.0 791.9h15.3v7.1h-15.3zM809.5 802.5h3.5v7.1h-3.5zM844.3 802.5h8.7v7.1h-8.7zM780.2 813.0h3.5v7.1h-3.5zM801.6 813.0h5.8v7.1h-5.8zM845.1 813.0h23.8v7.1h-23.8zM791.3 823.7h3.5v7.1h-3.5zM839.6 823.7h12.2v7.1h-12.2zM772.7 834.2h14.1v7.1h-14.1zM772.7 844.9h6.2v7.1h-6.2zM792.1 844.9h10.6v7.1h-10.6zM834.0 844.9h18.5v7.1h-18.5zM799.2 855.5h28.0v7.1h-28.0zM788.9 866.0h16.1v7.1h-16.1zM833.2 866.0h15.3v7.1h-15.3zM792.9 876.7h5.0v7.1h-5.0zM826.9 876.7h29.3v7.1h-29.3zM772.7 887.2h22.1v7.1h-22.1zM825.3 887.2h7.4v7.1h-7.4zM772.7 897.9h100.4v7.1h-100.4zM803.2 908.5h56.2v7.1h-56.2zM772.7 919.0h14.9v7.1h-14.9zM809.5 919.0h47.5v7.1h-47.5z" fill="url(#texD)"/>
<path d="M774.7 399.6h2.7v7.1h-2.7zM846.7 442.0h2.4v7.1h-2.4zM782.6 452.6h3.1v7.1h-3.1zM846.7 505.6h3.0v7.1h-3.0zM800.0 579.9h5.0v7.1h-5.0zM840.4 675.2h1.9v7.1h-1.9zM860.2 685.9h3.5v7.1h-3.5zM807.9 728.2h5.0v7.1h-5.0zM849.1 781.2h17.7v7.1h-17.7zM866.5 791.9h9.8v7.1h-9.8zM891.0 791.9h4.8v7.1h-4.8zM851.5 823.7h3.5v7.1h-3.5zM786.5 834.2h80.3v7.1h-80.3zM852.2 844.9h2.7v7.1h-2.7zM772.7 855.5h26.8v7.1h-26.8zM772.7 866.0h16.5v7.1h-16.5zM804.8 866.0h28.8v7.1h-28.8zM772.7 876.7h20.5v7.1h-20.5zM797.6 876.7h29.6v7.1h-29.6zM794.5 887.2h31.2v7.1h-31.2zM832.5 887.2h21.4v7.1h-21.4zM872.8 897.9h22.2v7.1h-22.2zM772.7 908.5h30.8v7.1h-30.8zM787.3 919.0h22.5v7.1h-22.5z" fill="url(#texM)"/>
<path d="M772.7 399.6h2.3v7.1h-2.3zM777.0 399.6h82.6v7.1h-82.6zM772.7 410.2h80.0v7.1h-80.0zM772.7 420.8h96.2v7.1h-96.2zM772.7 431.4h89.0v7.1h-89.0zM772.7 442.0h48.2v7.1h-48.2zM820.6 442.0h7.4v7.1h-7.4zM827.7 442.0h19.3v7.1h-19.3zM848.8 442.0h30.9v7.1h-30.9zM772.7 452.6h10.2v7.1h-10.2zM785.4 452.6h69.5v7.1h-69.5zM772.7 463.2h87.0v7.1h-87.0zM772.7 473.8h112.5v7.1h-112.5zM772.7 484.4h84.6v7.1h-84.6zM859.7 484.4h2.9v7.1h-2.9zM772.7 495.0h81.4v7.1h-81.4zM772.7 505.6h74.3v7.1h-74.3zM849.4 505.6h19.5v7.1h-19.5zM772.7 516.2h95.1v7.1h-95.1zM773.9 526.9h78.1v7.1h-78.1zM772.7 537.5h70.3v7.1h-70.3zM772.7 548.1h127.0v7.1h-127.0zM772.7 558.7h82.7v7.1h-82.7zM772.7 569.2h81.9v7.1h-81.9zM772.7 579.9h25.7v7.1h-25.7zM804.8 579.9h48.8v7.1h-48.8zM772.7 590.5h80.8v7.1h-80.8zM772.7 601.1h128.9v7.1h-128.9zM772.7 611.7h39.9v7.1h-39.9zM814.7 611.7h54.9v7.1h-54.9zM772.7 622.2h66.7v7.1h-66.7zM772.7 632.9h82.7v7.1h-82.7zM772.7 643.5h62.4v7.1h-62.4zM772.7 654.0h39.5v7.1h-39.5zM815.8 654.0h39.6v7.1h-39.6zM772.7 664.7h58.5v7.1h-58.5zM844.3 664.7h12.4v7.1h-12.4zM772.7 675.2h68.0v7.1h-68.0zM772.7 685.9h87.8v7.1h-87.8zM863.3 685.9h7.6v7.1h-7.6zM772.7 696.5h35.5v7.1h-35.5zM829.3 696.5h27.4v7.1h-27.4zM772.7 707.0h21.3v7.1h-21.3zM798.4 707.0h42.3v7.1h-42.3zM772.7 717.7h41.8v7.1h-41.8zM846.7 717.7h8.2v7.1h-8.2zM772.7 728.2h35.5v7.1h-35.5zM812.7 728.2h45.9v7.1h-45.9zM772.7 738.9h87.0v7.1h-87.0zM772.7 749.5h83.5v7.1h-83.5zM772.7 760.0h26.8v7.1h-26.8zM818.2 760.0h14.6v7.1h-14.6zM845.1 760.0h11.6v7.1h-11.6zM772.7 770.7h14.1v7.1h-14.1zM788.1 770.7h65.7v7.1h-65.7zM772.7 781.2h64.0v7.1h-64.0zM772.7 791.9h52.9v7.1h-52.9zM832.5 791.9h28.0v7.1h-28.0zM772.7 802.5h37.1v7.1h-37.1zM812.7 802.5h32.0v7.1h-32.0zM772.7 813.0h7.8v7.1h-7.8zM783.4 813.0h18.5v7.1h-18.5zM807.1 813.0h38.3v7.1h-38.3zM772.7 823.7h18.9v7.1h-18.9zM794.5 823.7h45.4v7.1h-45.4zM778.6 844.9h13.8v7.1h-13.8zM802.4 844.9h32.0v7.1h-32.0zM826.9 855.5h25.3v7.1h-25.3zM848.3 866.0h14.6v7.1h-14.6z" fill="url(#texB)"/>
<rect x="772.0" y="394.5" width="171" height="532.5" fill="none" stroke="#333" stroke-width="1.6"/>
<rect x="772.0" y="339.5" width="171" height="55.0" fill="#d9d9d9" stroke="#333" stroke-width="1.2"/>
<line x1="772.0" y1="394.8" x2="943.0" y2="394.8" stroke="#333" stroke-width="1.9"/>
<text x="857.5" y="375.8" font-size="17.6" text-anchor="middle" fill="#1a1a1a" >1000 <tspan font-style="italic">μ</tspan>M</text>
<line x1="772.2" y1="927" x2="772.2" y2="933.5" stroke="#333" stroke-width="1.1"/>
<line x1="793.6" y1="927" x2="793.6" y2="933.5" stroke="#333" stroke-width="1.1"/>
<line x1="815.1" y1="927" x2="815.1" y2="933.5" stroke="#333" stroke-width="1.1"/>
<line x1="836.5" y1="927" x2="836.5" y2="933.5" stroke="#333" stroke-width="1.1"/>
<line x1="858.0" y1="927" x2="858.0" y2="933.5" stroke="#333" stroke-width="1.1"/>
<line x1="879.4" y1="927" x2="879.4" y2="933.5" stroke="#333" stroke-width="1.1"/>
<line x1="900.9" y1="927" x2="900.9" y2="933.5" stroke="#333" stroke-width="1.1"/>
<line x1="922.3" y1="927" x2="922.3" y2="933.5" stroke="#333" stroke-width="1.1"/>
<text x="772.2" y="953.7" font-size="18.3" text-anchor="middle" fill="#4d4d4d" >0</text>
<text x="815.1" y="953.7" font-size="18.3" text-anchor="middle" fill="#4d4d4d" >40</text>
<text x="858.0" y="953.7" font-size="18.3" text-anchor="middle" fill="#4d4d4d" >80</text>
<text x="900.9" y="953.7" font-size="18.3" text-anchor="middle" fill="#4d4d4d" >120</text>
<text x="476.5" y="975.5" font-size="19.6" text-anchor="middle" fill="#000" >Position along the read (kb)</text>
<text x="960.0" y="580.0" font-size="19.7" text-anchor="start" fill="#000" >BrdU content</text>
<defs><linearGradient id="plas" x1="0" y1="1" x2="0" y2="0"><stop offset="0.0" stop-color="#0d0887"/><stop offset="0.1" stop-color="#41049d"/><stop offset="0.2" stop-color="#6a00a8"/><stop offset="0.3" stop-color="#8f0da4"/><stop offset="0.4" stop-color="#b12a90"/><stop offset="0.5" stop-color="#cc4778"/><stop offset="0.6" stop-color="#e16462"/><stop offset="0.7" stop-color="#f2844b"/><stop offset="0.8" stop-color="#fca636"/><stop offset="0.9" stop-color="#fcce25"/><stop offset="1.0" stop-color="#f0f921"/></linearGradient></defs>
<rect x="960" y="592.4" width="31" height="154.3" fill="url(#plas)"/>
<line x1="960" y1="708.3" x2="966.5" y2="708.3" stroke="#fff" stroke-width="0.9"/>
<line x1="984.5" y1="708.3" x2="991" y2="708.3" stroke="#fff" stroke-width="0.9"/>
<line x1="960" y1="669.3" x2="966.5" y2="669.3" stroke="#fff" stroke-width="0.9"/>
<line x1="984.5" y1="669.3" x2="991" y2="669.3" stroke="#fff" stroke-width="0.9"/>
<line x1="960" y1="630.4" x2="966.5" y2="630.4" stroke="#fff" stroke-width="0.9"/>
<line x1="984.5" y1="630.4" x2="991" y2="630.4" stroke="#fff" stroke-width="0.9"/>
<text x="998.0" y="597.2" font-size="15.9" text-anchor="start" fill="#000" >1.00</text>
<text x="998.0" y="636.2" font-size="15.9" text-anchor="start" fill="#000" >0.75</text>
<text x="998.0" y="675.1" font-size="15.9" text-anchor="start" fill="#000" >0.50</text>
<text x="998.0" y="714.1" font-size="15.9" text-anchor="start" fill="#000" >0.25</text>
<text x="998.0" y="753.1" font-size="15.9" text-anchor="start" fill="#000" >0.00</text>
<text x="0.0" y="1009.0" font-size="25" text-anchor="start" fill="#000" >c</text>
<rect x="74.7" y="1008.7" width="669.6999999999999" height="589.3" fill="#fff"/>
<line x1="140.8" y1="1008.7" x2="140.8" y2="1598" stroke="#ececec" stroke-width="1.3"/>
<line x1="299.2" y1="1008.7" x2="299.2" y2="1598" stroke="#ececec" stroke-width="1.3"/>
<line x1="457.8" y1="1008.7" x2="457.8" y2="1598" stroke="#ececec" stroke-width="1.3"/>
<line x1="616.2" y1="1008.7" x2="616.2" y2="1598" stroke="#ececec" stroke-width="1.3"/>
<line x1="74.7" y1="1504.8" x2="744.4" y2="1504.8" stroke="#ececec" stroke-width="1.3"/>
<line x1="74.7" y1="1378.0" x2="744.4" y2="1378.0" stroke="#ececec" stroke-width="1.3"/>
<line x1="74.7" y1="1251.0" x2="744.4" y2="1251.0" stroke="#ececec" stroke-width="1.3"/>
<line x1="74.7" y1="1124.2" x2="744.4" y2="1124.2" stroke="#ececec" stroke-width="1.3"/>
<line x1="220.0" y1="1008.7" x2="220.0" y2="1598" stroke="#e9e9e9" stroke-width="2.6"/>
<line x1="378.5" y1="1008.7" x2="378.5" y2="1598" stroke="#e9e9e9" stroke-width="2.6"/>
<line x1="537.0" y1="1008.7" x2="537.0" y2="1598" stroke="#e9e9e9" stroke-width="2.6"/>
<line x1="695.5" y1="1008.7" x2="695.5" y2="1598" stroke="#e9e9e9" stroke-width="2.6"/>
<line x1="74.7" y1="1568.3" x2="744.4" y2="1568.3" stroke="#e9e9e9" stroke-width="2.6"/>
<line x1="74.7" y1="1441.4" x2="744.4" y2="1441.4" stroke="#e9e9e9" stroke-width="2.6"/>
<line x1="74.7" y1="1314.5" x2="744.4" y2="1314.5" stroke="#e9e9e9" stroke-width="2.6"/>
<line x1="74.7" y1="1187.6" x2="744.4" y2="1187.6" stroke="#e9e9e9" stroke-width="2.6"/>
<line x1="74.7" y1="1060.7" x2="744.4" y2="1060.7" stroke="#e9e9e9" stroke-width="2.6"/>
<defs><pattern id="s5" patternUnits="userSpaceOnUse" width="97" height="89"><path d="M12.5 44.4h0M58.3 2.6h0M58.3 91.6h0M14.3 82.6h0M6.8 11.5h0M92.0 55.3h0M35.8 45.5h0M64.3 24.5h0M13.4 70.1h0M65.0 45.6h0M79.2 48.9h0M-1.9 18.2h0M95.1 18.2h0M53.7 43.0h0M34.3 52.7h0M22.8 71.4h0M84.1 11.5h0M45.3 24.7h0M8.1 79.7h0M41.7 13.1h0M65.3 18.0h0M87.4 19.3h0M3.2 17.9h0M33.5 41.7h0M87.9 62.1h0M32.9 1.5h0M32.9 90.5h0M15.5 -0.3h0M15.5 88.7h0M44.6 61.5h0M5.3 3.0h0M82.1 52.3h0M29.9 28.2h0M8.7 15.4h0M2.4 74.7h0M99.4 74.7h0M45.2 11.3h0M71.7 17.4h0M6.0 53.3h0M86.9 2.4h0M86.9 91.4h0M78.1 16.9h0M9.0 1.6h0M9.0 90.6h0M28.4 64.7h0M47.8 75.9h0M21.1 28.1h0M25.0 -1.9h0M25.0 87.1h0M91.3 30.3h0M42.3 28.0h0M72.4 3.6h0M6.5 36.0h0M23.8 75.2h0M72.0 48.6h0M64.2 61.6h0M75.8 82.5h0M14.5 55.7h0M13.9 39.4h0M76.3 79.6h0M73.6 3.2h0M34.9 14.5h0M-0.1 12.8h0M96.9 12.8h0M23.7 31.8h0M5.9 77.5h0M61.7 14.2h0M48.3 7.0h0M59.3 20.6h0M3.7 10.3h0M53.9 56.7h0M31.5 57.3h0M34.2 11.6h0M30.6 35.2h0M88.5 10.3h0M8.4 50.0h0M93.4 80.7h0M67.9 5.9h0M78.2 60.8h0M14.0 41.4h0M4.8 71.4h0M69.7 71.6h0M73.8 23.8h0M76.6 22.2h0M13.4 34.7h0M48.3 25.4h0M58.8 53.6h0M23.3 55.4h0M34.7 65.4h0M28.2 71.1h0M40.3 49.2h0M65.3 46.1h0M25.0 -1.8h0M25.0 87.2h0M9.3 28.9h0M53.3 2.6h0M53.3 91.6h0M15.0 71.1h0M76.0 56.7h0M87.5 67.2h0M29.0 57.4h0M33.0 66.7h0M37.3 13.6h0M85.0 61.4h0M72.2 49.8h0M75.9 39.9h0M54.9 5.6h0M53.8 72.5h0M68.4 71.5h0M48.1 78.4h0M10.5 77.9h0M36.0 8.1h0M60.1 40.5h0M41.6 75.8h0M13.4 54.9h0M40.1 47.0h0M48.4 11.9h0M49.7 76.7h0M16.6 1.0h0M16.6 90.0h0M6.6 40.9h0M-2.5 3.9h0M94.5 3.9h0M-0.9 47.7h0M96.1 47.7h0M11.7 37.3h0M20.1 63.6h0M52.5 25.6h0M24.8 77.2h0M74.3 38.8h0M39.3 65.6h0M-2.8 7.1h0M94.2 7.1h0M15.4 32.2h0M49.2 6.4h0M5.2 19.5h0M37.4 65.8h0M59.2 2.6h0M59.2 91.6h0M4.4 40.2h0M84.9 81.4h0M35.4 79.0h0M90.1 36.2h0M72.4 32.5h0M14.9 51.2h0M8.4 59.0h0M78.5 81.5h0M43.5 10.4h0M87.5 77.5h0M93.9 52.9h0M65.3 33.2h0M17.8 26.0h0M69.9 28.9h0M67.1 44.7h0M43.6 -2.9h0M43.6 86.1h0M16.1 43.4h0M15.5 83.4h0M47.4 29.5h0M16.3 52.9h0M38.7 11.3h0M3.1 34.8h0M56.6 46.2h0M87.3 81.1h0M90.8 71.2h0M46.3 46.6h0M38.5 35.6h0M4.0 71.1h0M23.9 2.6h0M23.9 91.6h0M45.2 63.9h0M42.3 32.4h0M63.9 14.5h0M1.1 52.7h0M98.1 52.7h0M51.5 77.1h0M40.3 70.0h0M1.7 2.4h0M1.7 91.4h0M98.7 2.4h0M98.7 91.4h0M58.1 20.1h0M6.5 11.4h0M36.4 30.0h0M54.7 79.0h0M35.5 16.4h0M56.1 0.2h0M56.1 89.2h0M37.3 28.2h0M37.6 4.5h0M53.8 55.6h0M72.7 85.2h0M34.4 58.4h0M42.9 19.1h0M86.3 66.4h0M91.5 73.1h0M89.0 11.4h0M1.5 17.7h0M98.5 17.7h0M40.0 61.2h0M42.5 45.7h0M73.8 6.3h0M65.8 4.3h0M24.1 64.3h0M66.3 36.1h0M28.6 73.7h0M26.7 2.8h0M26.7 91.8h0M24.0 1.9h0M24.0 90.9h0M78.6 10.9h0M-2.5 19.0h0M94.5 19.0h0M29.7 52.1h0M29.9 33.8h0M10.1 34.6h0M2.4 19.9h0M99.4 19.9h0M88.2 25.0h0M26.3 60.5h0M85.6 26.3h0M36.5 63.6h0M76.8 54.6h0M17.4 16.1h0M73.5 62.9h0M86.9 69.4h0M40.9 11.9h0M86.4 61.9h0M55.9 60.7h0M37.4 30.6h0M55.8 43.0h0M68.8 83.3h0M82.2 34.5h0M36.1 82.5h0M38.3 71.2h0M9.0 40.1h0M50.1 72.0h0M85.1 13.6h0M59.9 56.0h0M14.7 74.2h0M53.7 85.6h0M18.1 46.7h0M31.4 57.2h0M59.0 45.6h0M31.5 44.9h0M36.1 79.3h0M44.8 42.3h0M25.1 22.6h0M92.5 27.9h0M84.2 52.9h0M-1.9 14.6h0M95.1 14.6h0M91.3 68.7h0M55.1 63.1h0M70.1 39.9h0M61.5 20.3h0M2.1 60.2h0M99.1 60.2h0" stroke="#1f77b4" stroke-opacity="0.15" stroke-width="3.8" stroke-linecap="round"/></pattern><pattern id="s5_0" href="#s5" x="46" y="81"/><pattern id="s5_1" href="#s5" x="26" y="73"/><pattern id="s5_2" href="#s5" x="96" y="80"/><pattern id="s5_3" href="#s5" x="94" y="14"/><pattern id="s5_4" href="#s5" x="16" y="20"/><pattern id="s5_5" href="#s5" x="35" y="10"/><pattern id="s5_6" href="#s5" x="15" y="2"/><pattern id="s5_7" href="#s5" x="91" y="32"/><pattern id="s10" patternUnits="userSpaceOnUse" width="97" height="89"><path d="M60.7 40.5h0M72.1 71.7h0M37.1 47.6h0M9.5 25.4h0M21.6 27.5h0M31.5 51.2h0M32.3 29.1h0M80.6 1.1h0M80.6 90.1h0M0.5 5.1h0M97.5 5.1h0M84.0 56.4h0M70.6 85.2h0M21.1 81.9h0M23.5 46.2h0M66.1 71.0h0M24.1 42.5h0M4.4 25.6h0M-1.8 80.6h0M95.2 80.6h0M56.5 70.0h0M87.5 29.5h0M-1.9 39.9h0M95.1 39.9h0M15.4 47.2h0M57.6 61.7h0M65.1 3.7h0M62.0 82.0h0M65.0 -2.2h0M65.0 86.8h0M49.6 72.1h0M13.6 79.7h0M42.3 78.0h0M31.1 55.6h0M82.1 63.3h0M60.1 -2.6h0M60.1 86.4h0M8.5 9.1h0M53.5 85.0h0M66.6 27.6h0M10.4 39.9h0M46.6 41.7h0M60.1 24.3h0M85.4 25.7h0M10.4 31.1h0M90.8 14.2h0M26.9 82.5h0M33.8 75.0h0M4.4 79.1h0M23.0 16.1h0M72.0 -0.9h0M72.0 88.1h0M93.1 67.0h0M88.7 -1.2h0M88.7 87.8h0M53.6 12.9h0M82.4 35.2h0M30.3 44.6h0M3.4 1.7h0M3.4 90.7h0M25.6 53.0h0M72.7 85.2h0M79.4 83.8h0M61.7 65.3h0M57.0 7.2h0M6.0 67.7h0M19.6 70.3h0M45.0 0.6h0M45.0 89.6h0M54.5 39.4h0M7.2 23.2h0M29.7 30.8h0M68.6 14.9h0M43.0 54.0h0M91.8 10.2h0M7.7 17.1h0M21.4 14.5h0M7.4 18.6h0M21.7 42.7h0M62.8 32.4h0M16.3 8.4h0M25.5 15.2h0M46.7 77.5h0M69.5 18.1h0M3.5 6.0h0M42.3 32.4h0M66.2 7.5h0M24.7 61.0h0M55.1 46.0h0M87.5 10.1h0M19.0 50.3h0M54.8 -1.8h0M54.8 87.2h0M-2.2 52.3h0M94.8 52.3h0M73.6 62.1h0M12.9 53.6h0M29.7 31.9h0M15.2 0.7h0M15.2 89.7h0M82.8 63.8h0M73.0 25.6h0M40.5 15.7h0M58.4 74.7h0M75.5 83.1h0M25.3 62.4h0M12.3 47.7h0M10.7 48.1h0M52.6 30.9h0M33.9 63.3h0M46.7 36.3h0M10.9 25.1h0M82.2 -2.5h0M82.2 86.5h0M36.2 77.5h0M84.7 19.4h0M26.6 61.9h0M29.7 85.0h0M35.4 65.0h0M68.6 19.0h0M84.0 29.3h0M10.7 4.5h0M43.8 56.3h0M26.3 74.9h0M25.9 75.4h0M3.2 23.4h0M15.5 39.8h0M34.0 35.1h0M82.6 51.6h0M58.7 34.7h0M78.4 44.7h0M72.4 81.4h0M59.4 38.7h0M25.6 81.2h0M74.2 71.2h0M21.5 38.9h0M85.7 21.9h0M78.9 47.9h0M21.2 33.4h0M7.4 59.9h0M70.5 2.6h0M70.5 91.6h0M29.2 68.4h0M19.4 47.8h0M78.2 50.7h0M11.9 80.9h0M72.4 50.3h0M32.3 51.8h0M38.0 10.6h0M11.8 4.0h0M16.5 21.9h0M61.6 51.6h0M57.3 73.2h0M9.2 34.6h0M7.7 37.3h0M7.6 5.9h0M10.1 34.7h0M74.0 25.1h0M72.0 20.8h0M27.9 42.0h0M7.3 39.9h0M56.6 73.4h0M5.4 71.2h0M55.3 51.5h0M5.0 78.3h0M26.9 48.6h0M52.2 81.0h0M58.3 -0.8h0M58.3 88.2h0M22.5 58.9h0M56.0 45.7h0M60.9 49.0h0M32.7 57.1h0M8.1 42.6h0M43.9 19.0h0M55.1 59.6h0M12.1 26.4h0M6.0 53.1h0M7.9 20.4h0M43.4 40.2h0M3.2 84.3h0M22.3 54.3h0M21.6 53.0h0M34.2 28.4h0M46.0 52.2h0M58.0 61.3h0M26.1 8.2h0M24.6 29.1h0M58.9 36.9h0M30.2 8.8h0M57.9 9.8h0M50.1 61.3h0M60.4 14.2h0M34.5 83.7h0M8.8 60.4h0M42.3 54.6h0M38.2 11.0h0M54.6 0.5h0M54.6 89.5h0M83.8 71.1h0M36.3 47.8h0M51.2 -1.8h0M51.2 87.2h0M4.2 26.5h0M39.5 70.1h0M70.8 37.7h0M1.1 57.7h0M98.1 57.7h0M39.5 10.4h0M61.2 39.6h0M29.7 24.0h0M50.5 22.0h0M38.1 83.8h0M46.3 22.6h0M50.6 81.6h0M84.0 60.3h0M87.2 67.3h0M66.0 38.1h0M14.5 65.2h0M61.5 -2.9h0M61.5 86.1h0M31.1 78.0h0M21.2 84.2h0M-0.4 4.2h0M96.6 4.2h0M31.5 -0.2h0M31.5 88.8h0M93.9 59.7h0M13.0 0.6h0M13.0 89.6h0M24.2 84.1h0M78.1 38.1h0M73.8 80.3h0M29.1 77.8h0M26.1 29.3h0M4.3 14.3h0M53.4 2.1h0M53.4 91.1h0M52.9 15.1h0M72.6 11.4h0M20.1 23.9h0M56.5 72.0h0M73.1 66.0h0M66.1 48.4h0M33.2 16.0h0M83.8 36.4h0M63.1 6.1h0M35.0 8.9h0M34.4 65.3h0M33.1 60.7h0M11.9 34.3h0M39.8 45.3h0" stroke="#aec7e8" stroke-opacity="0.15" stroke-width="3.8" stroke-linecap="round"/></pattern><pattern id="s10_0" href="#s10" x="22" y="62"/><pattern id="s10_1" href="#s10" x="86" y="72"/><pattern id="s10_2" href="#s10" x="3" y="43"/><pattern id="s10_3" href="#s10" x="33" y="51"/><pattern id="s10_4" href="#s10" x="8" y="65"/><pattern id="s10_5" href="#s10" x="40" y="84"/><pattern id="s10_6" href="#s10" x="2" y="37"/><pattern id="s10_7" href="#s10" x="47" y="74"/><pattern id="s20" patternUnits="userSpaceOnUse" width="97" height="89"><path d="M73.4 16.2h0M29.9 65.5h0M40.7 23.4h0M90.3 75.0h0M34.5 48.9h0M90.1 19.3h0M88.2 78.7h0M70.5 61.1h0M66.4 48.4h0M56.5 17.6h0M54.6 59.9h0M47.1 60.5h0M44.4 71.5h0M69.9 7.9h0M74.6 25.3h0M7.9 10.8h0M31.4 46.7h0M32.0 18.1h0M74.6 33.3h0M84.8 21.8h0M66.9 31.8h0M82.4 57.5h0M65.8 8.3h0M72.9 31.5h0M71.8 75.2h0M11.9 1.4h0M11.9 90.4h0M73.5 -2.8h0M73.5 86.2h0M87.3 38.8h0M80.9 2.1h0M80.9 91.1h0M5.7 51.8h0M51.2 73.4h0M22.6 41.2h0M-1.0 26.9h0M96.0 26.9h0M39.2 54.1h0M-0.5 16.3h0M96.5 16.3h0M67.0 36.9h0M38.9 22.9h0M45.1 51.2h0M38.0 45.0h0M61.7 75.8h0M54.4 34.0h0M93.3 15.4h0M4.4 80.8h0M25.8 13.5h0M37.4 30.5h0M34.4 75.7h0M28.2 11.8h0M20.9 84.5h0M41.6 32.1h0M75.4 83.3h0M49.5 72.5h0M25.7 31.2h0M55.9 21.0h0M26.7 16.7h0M25.4 74.7h0M77.1 10.1h0M33.8 64.3h0M83.4 49.9h0M70.5 21.1h0M75.8 73.1h0M39.5 21.0h0M3.2 56.0h0M61.4 0.1h0M61.4 89.1h0M50.5 83.5h0M2.8 12.2h0M99.8 12.2h0M5.6 38.9h0M37.3 77.4h0M6.4 17.8h0M91.0 1.7h0M91.0 90.7h0M25.1 35.1h0M0.1 25.6h0M97.1 25.6h0M58.5 54.8h0M59.0 57.9h0M59.6 3.1h0M63.5 52.0h0M21.1 37.3h0M23.1 77.3h0M27.0 14.5h0M77.3 67.7h0M82.7 60.3h0M40.4 42.3h0M53.9 53.0h0M91.7 23.6h0M74.5 1.5h0M74.5 90.5h0M18.5 84.1h0M24.4 45.5h0M88.9 58.3h0M47.4 62.5h0M-2.1 83.8h0M94.9 83.8h0M17.6 12.5h0M27.9 12.9h0M74.1 74.2h0M13.6 6.5h0M31.4 61.1h0M74.7 41.0h0M62.0 81.7h0M85.4 10.5h0M69.2 69.1h0M88.0 37.2h0M15.1 42.2h0M35.9 35.0h0M77.9 58.0h0M66.0 58.1h0M13.7 5.2h0M38.3 75.6h0M62.9 70.4h0M60.4 69.8h0M-0.4 63.5h0M96.6 63.5h0M83.6 -2.4h0M83.6 86.6h0M71.8 72.4h0M7.6 3.2h0M89.6 21.2h0M29.6 12.0h0M61.6 2.6h0M61.6 91.6h0M77.5 26.6h0M72.2 81.1h0M67.0 37.8h0M60.6 76.1h0M69.0 22.5h0M0.7 78.3h0M97.7 78.3h0M60.5 5.7h0M53.4 52.4h0M28.5 78.9h0M23.3 12.8h0M30.0 30.1h0M85.8 58.5h0M11.8 35.0h0M10.0 62.8h0M82.9 8.3h0M48.5 21.8h0M27.6 66.5h0M-2.2 24.8h0M94.8 24.8h0M52.6 27.6h0M6.0 53.6h0M15.1 61.2h0M72.5 12.7h0M57.8 18.5h0M74.0 25.4h0M66.9 57.7h0M55.8 19.4h0M80.9 31.6h0M74.7 42.3h0M43.5 63.4h0M33.1 67.9h0M43.2 65.9h0M67.7 84.1h0M39.6 31.1h0M-0.5 46.0h0M96.5 46.0h0M40.6 62.4h0M24.3 85.2h0M73.1 57.8h0M28.3 72.0h0M89.2 70.4h0M88.5 8.2h0M71.9 77.1h0M46.2 7.1h0M52.6 21.6h0M3.2 83.3h0M80.7 56.5h0M72.6 59.8h0M44.9 10.8h0M28.0 45.0h0M56.5 26.8h0M12.3 30.5h0M18.0 82.8h0M21.4 35.1h0M52.6 22.5h0M48.0 49.2h0M4.8 84.3h0M52.2 13.0h0M-1.7 15.0h0M95.3 15.0h0M70.6 42.9h0M25.0 33.8h0M46.7 33.0h0M24.0 37.0h0M42.3 61.2h0M19.2 4.0h0M80.9 6.2h0M61.2 48.9h0M-2.4 16.9h0M94.6 16.9h0M86.1 11.6h0M16.6 58.2h0M16.1 52.2h0M65.5 11.2h0M76.6 37.7h0M93.8 1.0h0M93.8 90.0h0M7.6 55.2h0M24.9 35.8h0M88.2 30.6h0M5.0 12.7h0M53.9 69.0h0M73.5 42.0h0M23.2 11.4h0M21.7 17.8h0M88.0 36.3h0M11.3 56.8h0M44.4 2.6h0M44.4 91.6h0M-2.0 84.2h0M95.0 84.2h0M25.5 74.1h0M44.1 60.0h0M63.4 65.1h0M42.7 13.0h0M78.0 39.2h0M42.9 67.6h0M66.5 -1.0h0M66.5 88.0h0M37.6 56.5h0M8.1 10.0h0M24.7 24.9h0M43.3 20.4h0M90.8 38.1h0M37.1 80.3h0M77.2 68.5h0M88.7 65.6h0M29.6 85.6h0M2.6 79.8h0M99.6 79.8h0M40.7 30.1h0M46.0 35.6h0M83.5 71.7h0M72.4 20.7h0M42.7 6.7h0M72.0 3.8h0M38.4 13.4h0M82.7 81.7h0M28.1 77.6h0M17.3 63.3h0M24.3 39.7h0M59.3 31.3h0M19.2 52.3h0" stroke="#ff7f0e" stroke-opacity="0.15" stroke-width="3.8" stroke-linecap="round"/></pattern><pattern id="s20_0" href="#s20" x="77" y="89"/><pattern id="s20_1" href="#s20" x="31" y="23"/><pattern id="s20_2" href="#s20" x="7" y="18"/><pattern id="s20_3" href="#s20" x="3" y="22"/><pattern id="s20_4" href="#s20" x="70" y="10"/><pattern id="s20_5" href="#s20" x="63" y="26"/><pattern id="s20_6" href="#s20" x="22" y="43"/><pattern id="s20_7" href="#s20" x="42" y="40"/><pattern id="s100" patternUnits="userSpaceOnUse" width="97" height="89"><path d="M11.4 50.2h0M87.5 0.8h0M87.5 89.8h0M7.9 52.1h0M30.9 22.4h0M-1.2 27.4h0M95.8 27.4h0M89.3 54.9h0M2.9 23.7h0M99.9 23.7h0M7.3 47.9h0M88.1 4.7h0M2.7 2.6h0M2.7 91.6h0M99.7 2.6h0M99.7 91.6h0M26.5 14.8h0M93.9 69.0h0M91.1 51.6h0M79.6 63.1h0M28.3 58.1h0M28.1 41.3h0M79.8 19.6h0M17.0 75.8h0M44.9 15.5h0M30.8 25.0h0M86.9 42.1h0M89.3 41.9h0M91.1 81.6h0M55.1 70.0h0M27.9 10.3h0M58.6 4.9h0M45.3 55.2h0M74.5 79.8h0M19.8 77.0h0M48.1 55.4h0M44.8 75.5h0M29.1 0.7h0M29.1 89.7h0M80.4 58.9h0M69.5 11.1h0M20.0 55.7h0M72.5 58.8h0M57.8 58.3h0M14.3 40.1h0M32.0 65.5h0M50.2 64.1h0M67.4 80.6h0M83.1 4.6h0M64.8 33.2h0M9.8 42.6h0M81.8 70.9h0M10.3 18.0h0M67.4 -2.8h0M67.4 86.2h0M7.5 7.9h0M67.5 54.8h0M78.7 17.6h0M47.9 71.3h0M37.1 35.6h0M3.2 71.0h0M43.3 33.6h0M63.6 75.9h0M84.0 30.5h0M59.0 34.5h0M81.4 70.6h0M64.2 73.3h0M49.5 50.8h0M15.8 63.0h0M28.0 50.0h0M0.2 35.4h0M97.2 35.4h0M59.7 56.1h0M54.7 22.4h0M63.5 58.8h0M57.2 33.6h0M14.8 49.5h0M5.0 81.5h0M34.2 25.2h0M43.7 9.2h0M85.8 -1.8h0M85.8 87.2h0M79.9 51.1h0M91.3 29.4h0M45.1 15.3h0M41.2 82.6h0M64.3 48.6h0M52.0 56.5h0M59.2 40.3h0M49.6 9.0h0M43.0 60.1h0M21.7 24.6h0M78.1 12.1h0M19.0 72.8h0M11.7 26.7h0M88.3 36.8h0M79.3 68.0h0M1.9 19.5h0M98.9 19.5h0M88.5 28.6h0M39.2 83.2h0M10.6 -2.5h0M10.6 86.5h0M62.7 55.9h0M0.1 56.1h0M97.1 56.1h0M79.7 35.1h0M7.1 11.8h0M7.5 36.9h0M79.3 5.2h0M39.4 35.7h0M38.6 46.9h0M51.9 18.2h0M77.1 46.0h0M34.2 85.8h0M68.5 14.5h0M-3.0 51.5h0M94.0 51.5h0M33.0 21.1h0M6.6 21.7h0M28.0 30.6h0M-1.2 52.7h0M95.8 52.7h0M18.6 33.0h0M41.9 7.4h0M45.4 45.2h0M88.2 38.6h0M66.8 60.5h0M17.0 50.5h0M43.6 14.5h0M2.3 -0.4h0M2.3 88.6h0M99.3 -0.4h0M99.3 88.6h0M8.8 78.9h0M35.6 7.3h0M93.6 58.8h0M39.2 74.6h0M68.6 37.0h0M69.6 65.7h0M16.7 63.8h0M88.9 61.2h0M77.5 -0.9h0M77.5 88.1h0M77.2 41.8h0M54.5 68.2h0M61.3 6.3h0M5.8 24.3h0M79.4 19.7h0M30.9 73.3h0M12.5 24.9h0M24.9 4.2h0M72.0 28.5h0M39.5 29.6h0M6.4 75.2h0M13.0 25.4h0M69.9 31.0h0M49.2 29.4h0M54.3 28.2h0" stroke="#ffbb78" stroke-opacity="0.15" stroke-width="3.8" stroke-linecap="round"/></pattern><pattern id="s100_0" href="#s100" x="44" y="1"/><pattern id="s100_1" href="#s100" x="1" y="45"/><pattern id="s100_2" href="#s100" x="79" y="89"/><pattern id="s100_3" href="#s100" x="78" y="47"/><pattern id="s100_4" href="#s100" x="63" y="60"/><pattern id="s100_5" href="#s100" x="71" y="88"/><pattern id="s100_6" href="#s100" x="33" y="40"/><pattern id="s100_7" href="#s100" x="76" y="19"/><pattern id="s1000" patternUnits="userSpaceOnUse" width="97" height="89"><path d="M9.3 80.0h0M1.5 79.6h0M98.5 79.6h0M88.7 14.7h0M73.3 25.7h0M26.3 -1.5h0M26.3 87.5h0M86.0 68.0h0M42.3 -1.3h0M42.3 87.7h0M55.3 -1.8h0M55.3 87.2h0M70.0 4.2h0M77.4 74.6h0M85.5 55.4h0M3.6 77.2h0M40.9 17.5h0M20.2 17.9h0M79.1 6.5h0M89.1 1.5h0M89.1 90.5h0M70.1 20.5h0M49.9 15.8h0M87.3 13.9h0M45.3 54.2h0M44.0 19.2h0M28.1 83.2h0M12.1 1.6h0M12.1 90.6h0M88.1 78.9h0M66.5 42.0h0M92.3 36.8h0M1.3 38.7h0M98.3 38.7h0M51.3 48.8h0M86.2 6.0h0M82.9 46.5h0M71.0 36.8h0M28.7 29.9h0M26.6 40.4h0M58.0 74.0h0M16.9 40.1h0M51.6 72.8h0M68.9 55.5h0M65.4 39.9h0M78.2 74.5h0M54.9 10.4h0M41.3 23.6h0M18.6 26.4h0M79.5 31.0h0M41.7 34.1h0M17.9 50.9h0M40.4 83.4h0M60.0 -2.0h0M60.0 87.0h0M83.3 43.7h0M1.6 19.0h0M98.6 19.0h0M11.6 65.6h0M13.4 57.4h0M31.3 42.8h0M73.4 26.6h0M16.7 25.6h0M91.5 49.2h0M27.9 13.0h0M6.6 29.7h0M59.6 40.7h0M78.8 -0.5h0M78.8 88.5h0M55.3 30.7h0M77.1 7.9h0M73.7 78.5h0M75.3 8.8h0M56.4 71.4h0M39.9 75.1h0M16.1 47.1h0M54.1 70.2h0M40.0 23.0h0M69.1 10.2h0M35.7 41.7h0M76.4 37.8h0M54.5 60.4h0M65.5 85.8h0M44.9 50.9h0M1.9 17.1h0M98.9 17.1h0M24.1 18.8h0M50.4 17.7h0M55.3 73.5h0M7.0 21.6h0M48.2 4.1h0M13.9 51.2h0M38.8 80.4h0M55.3 67.4h0M33.5 33.6h0M82.8 54.8h0M88.7 22.5h0M11.1 60.3h0M12.1 6.8h0M37.9 61.1h0M35.0 67.0h0M44.2 25.4h0M51.8 53.8h0M14.5 52.6h0M16.3 -2.8h0M16.3 86.2h0M51.6 18.3h0M4.1 19.1h0M30.9 51.0h0M64.4 63.3h0M42.8 56.1h0M53.7 26.4h0M21.2 35.5h0M66.9 12.0h0M61.7 1.8h0M61.7 90.8h0M17.8 59.6h0M78.4 68.3h0M66.3 22.6h0M-1.2 53.5h0M95.8 53.5h0M88.3 83.3h0M23.2 -2.7h0M23.2 86.3h0M7.9 56.7h0M24.9 8.4h0M55.2 18.9h0M76.3 41.1h0M26.2 1.0h0M26.2 90.0h0M67.1 56.6h0M78.1 34.1h0M88.7 2.1h0M88.7 91.1h0M89.1 68.1h0M9.9 -1.1h0M9.9 87.9h0M8.7 66.8h0M23.7 61.5h0M81.2 10.5h0M31.5 79.7h0M46.3 13.6h0M8.4 10.9h0M10.3 31.8h0M75.3 40.3h0M9.5 31.4h0M46.9 39.9h0M62.2 60.6h0M72.5 47.7h0M2.9 68.5h0M99.9 68.5h0M76.0 64.9h0M42.4 78.9h0M9.3 65.9h0M57.8 62.3h0M6.5 -2.8h0M6.5 86.2h0M2.9 15.7h0M99.9 15.7h0M50.1 51.0h0M17.3 25.6h0M88.8 28.6h0M43.2 9.9h0M55.2 62.4h0M71.9 20.7h0M35.8 58.2h0M-2.6 68.5h0M94.4 68.5h0M21.3 5.8h0M31.8 47.1h0M26.4 70.3h0M24.9 11.0h0M58.4 67.7h0M19.9 29.7h0M25.2 2.6h0M25.2 91.6h0M66.2 4.5h0M59.4 55.8h0M51.4 3.8h0M3.6 45.8h0M47.6 1.4h0M47.6 90.4h0M1.0 68.8h0M98.0 68.8h0M31.5 63.8h0M19.3 23.6h0M87.1 17.6h0M39.6 44.4h0M69.1 28.5h0M63.0 19.8h0M66.1 1.9h0M66.1 90.9h0M18.1 5.4h0M9.9 66.6h0M45.0 69.7h0M-2.4 16.6h0M94.6 16.6h0M74.6 -2.5h0M74.6 86.5h0M30.0 6.9h0M44.8 48.3h0M66.7 50.8h0M29.3 14.5h0M33.0 41.7h0M18.0 26.6h0M85.8 37.7h0M12.2 59.2h0M34.4 45.8h0M38.1 10.2h0M71.5 50.6h0M-1.1 0.4h0M-1.1 89.4h0M95.9 0.4h0M95.9 89.4h0M56.0 37.9h0M42.2 64.3h0M23.5 35.6h0M12.9 50.4h0M42.4 3.8h0M22.3 35.2h0M51.6 8.3h0M60.1 72.8h0M32.3 5.9h0M14.2 67.9h0M51.6 12.1h0M16.3 74.2h0M65.9 61.9h0M13.6 -0.8h0M13.6 88.2h0M24.6 31.5h0M22.7 83.9h0M61.3 49.2h0M40.2 63.8h0M45.5 41.1h0M14.7 73.3h0M6.4 80.8h0M88.9 46.6h0M15.8 19.4h0M13.6 62.4h0M35.2 -1.6h0M35.2 87.4h0M33.1 29.3h0M65.6 78.2h0M51.1 10.9h0M16.6 63.6h0M74.3 -0.9h0M74.3 88.1h0M55.6 69.6h0M65.5 48.9h0M78.4 18.1h0M14.9 27.6h0M37.3 84.5h0M80.0 66.2h0M86.5 34.1h0M-1.5 80.8h0M95.5 80.8h0M18.0 33.6h0M29.9 17.2h0M90.9 34.8h0M84.3 53.1h0M5.8 38.6h0M75.7 28.4h0M28.4 8.3h0" stroke="#2ca02c" stroke-opacity="0.15" stroke-width="3.8" stroke-linecap="round"/></pattern><pattern id="s1000_0" href="#s1000" x="46" y="84"/><pattern id="s1000_1" href="#s1000" x="2" y="79"/><pattern id="s1000_2" href="#s1000" x="58" y="25"/><pattern id="s1000_3" href="#s1000" x="87" y="83"/><pattern id="s1000_4" href="#s1000" x="94" y="41"/><pattern id="s1000_5" href="#s1000" x="40" y="59"/><pattern id="s1000_6" href="#s1000" x="86" y="31"/><pattern id="s1000_7" href="#s1000" x="32" y="36"/></defs>
<path d="M499 1291 505 1290 509 1291 515 1292 519 1293 523 1295 527 1297 531 1300 534 1303 537 1306 539 1309 541 1313 543 1317 545 1323 546 1327 546 1333 546 1339 546 1345 545 1349 543 1354 541 1359 539 1362 537 1365 534 1369 531 1372 528 1375 525 1378 521 1380 517 1383 514 1385 511 1387 507 1389 503 1392 499 1395 496 1397 493 1399 489 1402 485 1405 483 1407 479 1410 475 1413 472 1415 469 1418 465 1421 462 1423 459 1425 455 1428 451 1431 448 1433 445 1435 441 1438 437 1441 434 1443 431 1445 427 1448 423 1451 420 1453 417 1455 413 1458 409 1460 405 1463 402 1465 399 1467 395 1470 391 1472 387 1475 384 1477 381 1479 377 1481 373 1484 369 1486 365 1488 361 1491 357 1493 354 1495 351 1497 347 1499 343 1501 339 1504 335 1506 331 1508 327 1510 323 1512 319 1514 315 1515 311 1517 306 1519 301 1520 297 1522 293 1523 288 1525 283 1527 279 1528 275 1529 269 1531 265 1531 259 1532 253 1532 248 1531 243 1529 239 1527 235 1525 231 1523 227 1521 223 1520 217 1519 213 1518 208 1517 203 1515 199 1514 195 1512 191 1510 187 1508 183 1505 181 1501 180 1497 181 1492 183 1489 187 1486 191 1483 195 1481 199 1479 203 1478 207 1477 213 1475 217 1474 221 1473 225 1470 228 1467 231 1463 233 1461 237 1457 239 1455 243 1452 247 1450 251 1448 255 1446 259 1445 264 1443 269 1441 273 1439 277 1438 281 1437 286 1435 291 1433 295 1431 299 1430 303 1428 307 1426 311 1424 315 1422 319 1419 323 1417 327 1415 330 1413 334 1411 337 1409 341 1406 345 1404 349 1402 353 1399 357 1397 360 1395 363 1393 367 1390 371 1387 375 1385 378 1383 381 1381 385 1378 389 1375 392 1373 395 1371 399 1368 403 1365 406 1363 409 1361 413 1358 417 1355 420 1353 423 1351 427 1348 431 1345 434 1343 437 1340 441 1337 443 1335 447 1331 449 1329 452 1325 455 1321 457 1318 459 1315 462 1311 465 1307 467 1305 471 1302 475 1299 479 1297 483 1295 487 1293 491 1292 497 1291Z" fill="url(#s5_0)"/>
<path d="M495 1298 501 1298 507 1298 512 1299 517 1300 521 1302 525 1304 528 1307 531 1310 533 1313 535 1317 537 1321 539 1327 539 1331 540 1337 539 1343 538 1347 537 1351 535 1356 533 1359 530 1363 527 1367 525 1369 521 1372 517 1375 514 1377 511 1379 507 1381 503 1384 499 1386 495 1389 492 1391 489 1393 485 1396 482 1399 479 1401 475 1404 471 1407 469 1409 465 1412 461 1415 458 1417 455 1419 451 1422 447 1425 444 1427 441 1429 437 1432 433 1435 430 1437 427 1439 423 1442 419 1445 416 1447 413 1449 409 1452 405 1455 402 1457 399 1459 395 1461 391 1464 387 1467 383 1469 380 1471 377 1473 373 1475 369 1478 365 1480 361 1482 357 1485 354 1487 350 1489 347 1491 343 1493 339 1496 335 1498 331 1500 327 1502 323 1504 319 1506 315 1508 311 1510 307 1511 303 1513 297 1515 293 1516 289 1518 285 1519 279 1521 275 1522 271 1523 265 1524 259 1524 253 1524 247 1523 243 1522 239 1520 233 1519 229 1518 225 1517 219 1516 215 1515 209 1513 205 1511 201 1510 197 1508 193 1505 191 1503 189 1499 189 1494 191 1491 195 1487 198 1485 202 1483 207 1481 211 1480 215 1479 221 1477 225 1476 229 1474 233 1471 235 1469 239 1465 241 1463 245 1460 249 1457 253 1455 257 1453 261 1452 265 1450 269 1449 274 1447 279 1445 283 1444 287 1442 291 1441 296 1439 301 1437 305 1435 309 1433 313 1431 317 1429 320 1427 324 1425 327 1423 331 1421 335 1418 339 1416 343 1413 347 1411 351 1409 354 1407 357 1405 361 1402 365 1400 369 1397 373 1395 376 1393 379 1391 383 1388 387 1385 390 1383 393 1381 397 1378 401 1375 404 1373 407 1371 411 1368 415 1365 419 1363 421 1361 425 1358 429 1355 432 1353 435 1351 439 1348 443 1345 445 1343 449 1339 452 1337 455 1333 457 1331 459 1327 462 1323 465 1319 467 1316 470 1313 473 1310 476 1307 479 1305 483 1303 487 1301 493 1299Z" fill="url(#s5_1)"/>
<path d="M493 1303 499 1301 505 1301 511 1302 515 1303 519 1305 523 1307 527 1311 529 1313 531 1317 533 1321 535 1325 536 1331 536 1337 536 1343 535 1347 533 1352 531 1356 529 1359 526 1363 523 1366 520 1369 517 1371 513 1374 509 1376 505 1379 501 1381 498 1383 495 1385 491 1388 487 1391 484 1393 481 1395 477 1398 473 1401 471 1403 467 1406 463 1409 460 1411 457 1413 453 1416 450 1419 447 1421 443 1424 439 1426 436 1429 433 1431 429 1434 425 1436 421 1439 418 1441 415 1443 411 1446 407 1449 404 1451 401 1453 397 1456 393 1458 389 1461 386 1463 383 1465 379 1467 375 1470 371 1472 367 1475 363 1477 360 1479 357 1481 353 1483 349 1486 345 1488 341 1490 337 1493 333 1495 329 1497 326 1499 322 1501 317 1503 313 1505 309 1507 305 1508 301 1510 297 1512 293 1513 288 1515 283 1517 279 1518 275 1519 269 1520 265 1521 259 1521 253 1521 249 1520 243 1519 239 1518 233 1517 229 1516 223 1515 219 1514 215 1513 209 1511 205 1509 201 1507 197 1505 195 1502 193 1498 193 1495 195 1491 199 1487 203 1485 207 1483 211 1482 215 1481 221 1479 225 1478 229 1476 233 1474 237 1471 240 1469 243 1466 247 1463 250 1461 253 1459 258 1457 263 1455 267 1453 271 1452 275 1450 279 1449 285 1447 289 1445 293 1444 297 1442 301 1441 305 1439 310 1437 313 1435 317 1433 321 1431 325 1428 329 1426 333 1424 337 1421 341 1419 344 1417 347 1415 351 1413 355 1410 359 1408 363 1405 367 1403 370 1401 373 1399 377 1396 381 1393 385 1391 388 1389 391 1387 395 1384 399 1381 402 1379 405 1377 409 1374 413 1371 416 1369 419 1367 423 1364 427 1361 430 1359 433 1357 437 1354 441 1351 443 1349 447 1346 450 1343 453 1341 456 1337 459 1334 461 1331 464 1327 466 1323 469 1319 471 1317 475 1313 477 1311 481 1308 485 1306 489 1304 493 1303Z" fill="url(#s5_2)"/>
<path d="M495 1305 501 1304 507 1304 511 1305 517 1307 520 1309 523 1311 527 1314 529 1317 531 1321 533 1326 534 1331 534 1337 534 1343 532 1347 531 1351 529 1355 526 1359 523 1363 521 1365 517 1368 513 1371 510 1373 507 1375 503 1377 499 1379 495 1382 491 1385 488 1387 485 1389 481 1392 477 1395 474 1397 471 1400 467 1403 464 1405 461 1407 457 1410 453 1413 451 1415 447 1418 443 1421 440 1423 437 1425 433 1428 429 1430 425 1433 423 1435 419 1437 415 1440 411 1443 408 1445 405 1447 401 1450 397 1453 394 1455 391 1457 387 1459 383 1462 379 1464 375 1467 372 1469 369 1471 365 1473 361 1475 357 1478 353 1480 349 1483 345 1485 342 1487 338 1489 335 1491 331 1493 327 1495 323 1497 319 1499 315 1501 311 1503 307 1505 303 1507 298 1509 293 1511 289 1512 285 1514 281 1515 275 1517 271 1518 265 1519 261 1519 255 1519 250 1519 245 1518 239 1517 235 1516 229 1515 225 1514 220 1513 215 1511 211 1510 207 1508 203 1506 199 1503 197 1501 196 1495 198 1491 201 1488 205 1486 209 1484 213 1483 219 1481 223 1480 227 1478 232 1477 236 1475 239 1473 243 1469 246 1467 249 1464 253 1462 257 1460 261 1458 265 1457 270 1455 275 1453 279 1451 283 1450 287 1449 292 1447 297 1445 301 1443 305 1442 309 1440 313 1438 317 1436 321 1434 325 1431 329 1429 332 1427 336 1425 339 1423 343 1421 347 1418 351 1416 355 1413 359 1411 362 1409 365 1407 369 1405 373 1402 377 1399 381 1397 383 1395 387 1392 391 1390 395 1387 398 1385 401 1383 405 1380 409 1377 412 1375 415 1373 419 1370 423 1367 426 1365 429 1363 433 1360 437 1357 440 1355 443 1352 447 1349 450 1347 453 1344 456 1341 459 1338 461 1335 464 1331 467 1327 469 1323 471 1321 474 1317 477 1314 481 1311 484 1309 488 1307 493 1305Z" fill="url(#s5_3)"/>
<path d="M495 1307 501 1306 507 1306 511 1307 516 1309 520 1311 523 1313 526 1317 529 1321 530 1325 532 1329 532 1335 532 1341 531 1346 529 1351 527 1355 525 1358 522 1361 519 1364 516 1367 513 1369 509 1371 505 1374 501 1376 497 1378 493 1381 490 1383 487 1385 483 1388 479 1391 476 1393 473 1395 469 1399 466 1401 463 1403 459 1406 455 1409 453 1411 449 1414 445 1417 442 1419 439 1421 435 1424 431 1427 428 1429 425 1431 421 1434 417 1436 413 1439 410 1441 407 1443 403 1446 399 1449 396 1451 393 1453 389 1456 385 1458 381 1461 378 1463 374 1465 371 1467 367 1469 363 1472 359 1474 355 1477 351 1479 348 1481 345 1483 341 1485 337 1487 333 1490 329 1492 325 1494 321 1496 317 1498 313 1500 309 1502 305 1504 301 1506 297 1508 293 1509 289 1511 284 1513 279 1514 275 1515 269 1517 265 1517 259 1518 253 1518 247 1517 243 1516 237 1515 233 1514 227 1513 223 1512 217 1511 213 1510 209 1508 205 1506 201 1503 199 1500 198 1495 200 1491 203 1489 207 1486 211 1484 216 1483 221 1481 225 1480 230 1479 235 1477 239 1475 242 1473 245 1470 249 1467 252 1465 256 1463 260 1461 265 1459 269 1457 273 1456 277 1454 282 1453 287 1451 291 1449 295 1448 299 1446 303 1445 308 1443 312 1441 316 1439 319 1437 323 1435 327 1432 331 1430 335 1428 339 1425 343 1423 346 1421 350 1419 353 1417 357 1414 361 1412 365 1409 369 1407 372 1405 375 1403 379 1400 383 1398 387 1395 390 1393 393 1391 397 1388 401 1385 404 1383 407 1381 411 1378 415 1375 418 1373 421 1371 425 1368 429 1365 432 1363 435 1361 439 1358 443 1355 446 1353 449 1350 453 1347 455 1345 459 1341 461 1338 463 1335 466 1331 469 1327 471 1324 473 1321 477 1317 479 1315 483 1312 487 1310 491 1308 495 1307Z" fill="url(#s5_4)"/>
<path d="M495 1308 501 1307 507 1307 512 1309 517 1311 520 1313 523 1315 526 1319 528 1323 529 1327 531 1333 531 1337 530 1341 529 1347 527 1351 525 1355 523 1358 520 1361 517 1364 513 1367 510 1369 507 1371 503 1373 499 1375 495 1378 491 1380 487 1383 484 1385 481 1387 477 1390 473 1393 471 1395 467 1398 463 1401 460 1403 457 1406 453 1409 450 1411 447 1413 443 1416 439 1419 436 1421 433 1423 429 1426 425 1429 422 1431 419 1433 415 1436 411 1438 407 1441 405 1443 401 1445 397 1448 393 1451 390 1453 387 1455 383 1458 379 1460 375 1463 371 1465 368 1467 365 1469 361 1471 357 1473 353 1476 349 1478 345 1481 341 1483 338 1485 334 1487 331 1489 327 1491 323 1493 319 1495 315 1497 311 1499 307 1501 303 1503 299 1505 295 1507 291 1509 286 1511 281 1512 277 1514 272 1515 267 1516 261 1517 255 1517 249 1516 243 1516 239 1515 233 1514 228 1513 223 1512 219 1511 213 1509 209 1507 205 1505 203 1503 200 1499 201 1493 203 1490 207 1487 211 1485 215 1484 219 1483 225 1481 229 1480 233 1479 238 1477 241 1475 245 1472 249 1469 252 1467 256 1465 260 1463 265 1461 269 1459 273 1458 277 1456 281 1455 287 1453 291 1451 295 1450 299 1448 303 1447 307 1445 312 1443 316 1441 319 1439 323 1437 327 1434 331 1432 335 1430 339 1427 343 1425 346 1423 350 1421 353 1419 357 1416 361 1414 365 1412 369 1409 372 1407 375 1405 379 1402 383 1400 387 1397 390 1395 393 1393 397 1390 401 1387 404 1385 407 1383 411 1380 415 1377 419 1375 421 1373 425 1370 429 1367 433 1365 435 1363 439 1360 443 1357 446 1355 449 1352 453 1349 455 1347 459 1343 461 1341 464 1337 467 1333 469 1330 471 1327 474 1323 477 1319 479 1317 483 1314 487 1311 491 1310 495 1308Z" fill="url(#s5_5)"/>
<path d="M503 1309 507 1309 513 1310 517 1312 520 1315 523 1317 525 1321 527 1325 529 1329 529 1335 529 1341 528 1345 527 1349 525 1353 522 1357 519 1360 516 1363 513 1365 509 1368 505 1370 501 1373 497 1375 493 1377 490 1379 487 1381 483 1384 479 1387 476 1389 473 1391 469 1394 466 1397 463 1399 459 1402 455 1405 453 1407 449 1410 445 1413 442 1415 439 1417 435 1420 431 1423 428 1425 425 1427 421 1430 417 1432 413 1435 410 1437 407 1439 403 1442 399 1445 396 1447 393 1449 389 1452 385 1454 381 1457 378 1459 375 1461 371 1463 367 1466 363 1468 359 1470 355 1473 352 1475 348 1477 345 1479 341 1481 337 1484 333 1486 329 1488 325 1490 321 1492 317 1494 313 1496 309 1498 305 1500 301 1503 297 1505 293 1507 289 1508 285 1510 281 1511 276 1513 271 1514 267 1515 261 1516 255 1516 249 1516 243 1515 239 1514 233 1513 229 1512 223 1511 219 1510 215 1508 210 1507 207 1505 203 1501 201 1497 203 1492 207 1489 210 1487 215 1485 219 1483 223 1482 228 1481 233 1479 237 1478 241 1476 245 1474 249 1471 252 1469 255 1467 259 1465 264 1463 269 1461 273 1459 277 1458 281 1456 286 1455 291 1453 295 1451 299 1450 303 1448 307 1447 311 1445 315 1443 319 1441 323 1439 327 1436 331 1434 335 1431 339 1429 343 1427 346 1425 349 1423 353 1421 357 1418 361 1416 365 1413 369 1411 372 1409 375 1407 379 1404 383 1402 387 1399 390 1397 393 1395 397 1392 401 1389 404 1387 407 1385 411 1382 415 1379 418 1377 421 1375 425 1372 429 1369 432 1367 435 1365 439 1362 443 1359 446 1357 449 1354 453 1351 455 1349 459 1346 461 1343 464 1339 467 1335 469 1332 471 1329 474 1325 477 1321 479 1319 483 1316 487 1313 491 1311 495 1310 501 1309Z" fill="url(#s5_6)"/>
<path d="M497 1311 503 1310 509 1311 513 1312 517 1314 520 1317 523 1319 525 1323 527 1327 528 1333 528 1339 527 1345 526 1349 523 1353 521 1356 519 1359 515 1362 512 1365 509 1367 505 1369 501 1371 497 1373 493 1376 489 1378 485 1381 482 1383 479 1385 475 1388 471 1391 469 1393 465 1396 461 1399 458 1401 455 1403 451 1406 448 1409 445 1411 441 1414 437 1417 434 1419 431 1421 427 1424 423 1426 419 1429 417 1431 413 1433 409 1436 405 1439 402 1441 399 1443 395 1446 391 1449 388 1451 385 1453 381 1455 377 1458 373 1460 369 1463 366 1465 362 1467 359 1469 355 1471 351 1474 347 1476 343 1478 339 1481 335 1483 332 1485 328 1487 325 1489 321 1491 317 1493 313 1495 309 1497 305 1499 301 1501 297 1503 293 1506 289 1507 285 1509 280 1511 275 1512 271 1513 265 1514 261 1515 255 1515 249 1515 245 1514 239 1514 235 1513 229 1512 225 1511 219 1509 215 1508 211 1506 207 1503 204 1501 202 1497 204 1493 207 1490 211 1487 215 1485 219 1484 223 1483 229 1481 233 1480 237 1479 242 1477 245 1475 249 1473 253 1470 257 1467 261 1466 265 1464 269 1462 273 1461 278 1459 283 1457 287 1456 291 1454 295 1453 301 1451 305 1449 309 1447 313 1445 317 1443 321 1441 325 1439 329 1437 332 1435 335 1433 339 1431 343 1428 347 1426 351 1424 355 1421 359 1419 362 1417 365 1415 369 1413 373 1410 377 1407 381 1405 384 1403 387 1401 391 1398 395 1395 398 1393 401 1391 405 1388 409 1385 412 1383 415 1381 419 1378 423 1375 426 1373 429 1371 433 1368 437 1365 440 1363 443 1361 447 1358 451 1355 453 1353 457 1349 459 1347 463 1343 465 1341 467 1337 470 1333 473 1329 475 1326 477 1323 481 1319 483 1317 487 1314 491 1312 496 1311Z" fill="url(#s5_7)"/>
<path d="M503 1311 507 1311 513 1313 517 1315 519 1317 523 1321 525 1324 527 1329 527 1333 527 1339 527 1343 525 1349 523 1353 521 1355 518 1359 515 1362 511 1365 507 1367 504 1369 500 1371 496 1373 493 1375 489 1377 485 1380 481 1383 478 1385 475 1387 471 1390 467 1393 465 1395 461 1398 457 1401 454 1403 451 1405 447 1408 444 1411 441 1413 437 1416 433 1418 429 1421 427 1423 423 1425 419 1428 415 1431 412 1433 409 1435 405 1438 401 1441 398 1443 395 1445 391 1448 387 1450 383 1453 380 1455 377 1457 373 1459 369 1462 365 1464 361 1467 357 1469 354 1471 351 1473 347 1475 343 1478 339 1480 335 1482 331 1485 327 1487 323 1489 319 1491 315 1493 311 1495 307 1497 304 1499 300 1501 297 1503 293 1505 289 1507 284 1509 279 1511 275 1512 271 1513 265 1514 259 1515 253 1515 247 1514 241 1513 236 1513 231 1512 226 1511 221 1509 217 1508 213 1506 209 1504 205 1501 203 1497 205 1493 209 1489 213 1487 217 1485 221 1484 225 1483 231 1481 235 1480 239 1479 243 1477 247 1475 251 1472 255 1470 259 1467 263 1465 267 1464 271 1462 275 1461 281 1459 285 1457 289 1456 293 1454 298 1453 303 1451 307 1449 311 1447 315 1445 319 1443 323 1441 327 1439 330 1437 334 1435 337 1433 341 1430 345 1428 349 1426 353 1423 357 1421 360 1419 363 1417 367 1415 371 1412 375 1410 379 1407 382 1405 385 1403 389 1400 393 1397 397 1395 399 1393 403 1390 407 1388 411 1385 414 1383 417 1381 421 1378 425 1375 428 1373 431 1371 435 1368 439 1365 442 1363 445 1360 449 1357 452 1355 455 1352 459 1349 461 1347 464 1343 467 1339 469 1336 471 1333 473 1329 476 1325 479 1322 482 1319 485 1317 489 1314 493 1312 499 1311 503 1311Z" fill="#1f77b4" fill-opacity="0.259"/>
<path d="M501 1317 505 1317 511 1318 515 1321 517 1323 520 1327 521 1331 522 1337 521 1343 520 1347 517 1351 515 1354 512 1357 509 1359 505 1362 501 1364 497 1366 493 1368 489 1370 485 1372 481 1374 477 1377 474 1379 471 1381 467 1384 463 1387 461 1389 457 1392 453 1395 450 1397 447 1399 443 1402 439 1405 437 1407 433 1410 429 1412 425 1415 423 1417 419 1419 415 1422 411 1425 408 1427 405 1429 401 1432 397 1435 394 1437 391 1439 387 1442 383 1445 379 1447 376 1449 373 1451 369 1454 365 1456 361 1458 357 1461 354 1463 350 1465 347 1467 343 1469 339 1472 335 1474 331 1476 327 1479 323 1481 319 1483 315 1485 311 1487 307 1489 304 1491 300 1493 297 1496 293 1499 290 1501 287 1503 283 1505 279 1507 274 1509 269 1510 265 1511 259 1512 253 1512 247 1512 241 1511 237 1510 231 1509 227 1508 222 1507 217 1505 213 1503 211 1500 210 1495 213 1491 216 1489 221 1487 225 1485 229 1484 235 1483 239 1482 243 1481 249 1479 253 1477 257 1475 261 1474 265 1472 269 1470 273 1469 279 1467 283 1465 287 1464 291 1463 296 1461 301 1459 305 1457 309 1456 313 1454 317 1452 321 1450 325 1448 329 1446 333 1443 337 1441 341 1439 344 1437 347 1435 351 1433 355 1430 359 1428 363 1426 367 1423 371 1421 374 1419 377 1417 381 1414 385 1412 389 1409 392 1407 395 1405 399 1402 403 1399 406 1397 409 1395 413 1392 417 1389 421 1387 423 1385 427 1382 431 1380 435 1377 438 1375 441 1372 445 1369 448 1367 451 1365 455 1362 458 1359 461 1357 465 1353 467 1350 469 1347 472 1343 474 1339 476 1335 479 1331 481 1328 484 1325 487 1322 491 1320 495 1318 500 1317Z" fill="#1f77b4" fill-opacity="0.259"/>
<path d="M497 1322 503 1321 509 1323 512 1325 515 1328 517 1332 517 1337 517 1342 515 1347 513 1350 510 1353 507 1355 503 1358 499 1360 495 1361 491 1363 485 1365 481 1366 477 1367 473 1369 469 1371 465 1373 461 1376 457 1379 455 1381 451 1384 447 1387 445 1389 441 1392 437 1395 435 1397 431 1400 427 1403 424 1405 421 1407 417 1410 413 1413 410 1415 407 1417 403 1420 399 1423 396 1425 393 1427 389 1430 385 1433 382 1435 379 1437 375 1440 371 1443 368 1445 364 1447 361 1449 357 1451 353 1454 349 1456 345 1459 341 1461 338 1463 335 1465 331 1467 327 1470 323 1472 319 1475 315 1477 311 1479 307 1481 303 1483 299 1485 296 1487 293 1491 291 1493 288 1497 285 1500 281 1503 277 1505 273 1507 269 1508 264 1509 259 1510 253 1510 247 1510 241 1509 237 1508 231 1507 227 1506 223 1505 219 1503 215 1499 214 1495 217 1492 221 1489 225 1488 229 1486 235 1485 239 1484 244 1483 249 1481 253 1481 259 1479 263 1478 269 1477 273 1476 277 1475 283 1473 287 1471 291 1470 295 1469 300 1467 305 1465 309 1464 313 1462 317 1461 321 1459 325 1457 329 1455 333 1453 337 1450 341 1448 345 1446 349 1443 353 1441 356 1439 360 1437 363 1435 367 1433 371 1430 375 1428 379 1426 383 1423 387 1421 390 1419 393 1417 397 1414 401 1412 405 1409 408 1407 411 1405 415 1402 419 1399 422 1397 425 1395 429 1392 433 1389 437 1387 440 1385 443 1383 447 1380 451 1377 454 1375 457 1373 461 1370 464 1367 467 1363 469 1360 471 1357 473 1353 475 1349 477 1345 479 1340 481 1336 483 1333 486 1329 489 1326 493 1324 497 1322Z" fill="#1f77b4" fill-opacity="0.259"/>
<path d="M497 1327 503 1326 507 1327 511 1330 513 1334 513 1339 512 1343 510 1347 507 1350 503 1353 499 1355 495 1356 491 1357 486 1357 483 1355 482 1349 483 1343 484 1339 487 1335 489 1332 493 1329 496 1327ZM255 1483 261 1482 267 1481 273 1482 279 1482 283 1485 285 1488 285 1493 283 1497 281 1499 277 1502 273 1504 269 1506 265 1507 259 1508 253 1508 247 1508 241 1508 236 1507 231 1506 227 1504 223 1503 219 1499 218 1495 221 1492 225 1490 229 1488 233 1487 239 1485 243 1485 249 1483 254 1483Z" fill="#1f77b4" fill-opacity="0.259"/>
<path d="M497 1332 503 1331 507 1334 508 1339 507 1343 504 1347 501 1349 495 1350 490 1349 488 1345 489 1341 491 1337 495 1333ZM253 1485 259 1484 265 1484 269 1485 275 1486 278 1489 280 1493 279 1497 275 1501 272 1503 267 1505 263 1506 257 1507 253 1507 247 1507 243 1507 237 1506 233 1505 227 1503 224 1501 221 1497 223 1493 227 1491 232 1489 237 1487 241 1486 247 1485 251 1485Z" fill="#1f77b4" fill-opacity="0.259"/>
<path d="M247 1487 253 1486 259 1486 265 1486 269 1487 273 1489 276 1493 275 1498 272 1501 268 1503 263 1504 259 1505 253 1506 247 1506 241 1505 237 1504 231 1503 227 1501 225 1498 225 1495 229 1492 233 1490 237 1489 243 1487 247 1487Z" fill="#1f77b4" fill-opacity="0.259"/>
<path d="M243 1488 249 1488 255 1487 261 1488 266 1489 270 1491 273 1495 271 1499 267 1501 263 1503 257 1504 251 1505 245 1504 239 1503 235 1502 231 1501 227 1497 230 1493 234 1491 239 1489 243 1488Z" fill="#1f77b4" fill-opacity="0.259"/>
<path d="M253 1489 257 1489 263 1490 267 1491 269 1495 268 1499 265 1501 259 1503 255 1503 249 1504 243 1503 239 1502 234 1501 231 1498 231 1495 235 1492 239 1491 245 1489 251 1489Z" fill="#1f77b4" fill-opacity="0.259"/>
<path d="M245 1491 251 1490 257 1490 261 1491 265 1493 265 1498 261 1501 257 1502 251 1502 245 1502 239 1501 235 1499 234 1495 237 1493 243 1491Z" fill="#1f77b4" fill-opacity="0.259"/>
<path d="M243 1492 249 1491 255 1491 260 1493 263 1497 259 1500 255 1501 249 1501 244 1501 239 1499 237 1497 239 1494 243 1492Z" fill="#1f77b4" fill-opacity="0.259"/>
<path d="M243 1494 249 1493 255 1493 259 1497 255 1499 249 1500 243 1499 241 1497 243 1494Z" fill="#1f77b4" fill-opacity="0.259"/>
<path d="M509 1197 515 1196 521 1196 525 1197 530 1199 534 1201 538 1203 541 1205 545 1208 547 1211 551 1215 553 1217 555 1221 557 1225 559 1229 561 1234 562 1239 563 1243 564 1249 564 1255 564 1261 564 1267 563 1271 561 1277 560 1281 558 1285 556 1289 554 1293 551 1297 549 1300 546 1303 543 1306 539 1309 536 1311 533 1313 529 1315 525 1317 520 1319 515 1321 511 1322 507 1324 503 1325 499 1327 495 1329 491 1331 487 1333 483 1336 479 1338 475 1340 471 1343 467 1345 464 1347 461 1349 457 1351 453 1354 449 1356 445 1359 442 1361 439 1363 435 1365 431 1368 427 1371 423 1373 420 1375 417 1377 413 1380 409 1382 405 1385 402 1387 399 1389 395 1391 391 1394 387 1396 383 1399 379 1401 376 1403 373 1405 369 1407 365 1409 361 1412 357 1414 353 1417 349 1419 346 1421 342 1423 339 1425 335 1427 331 1429 327 1432 323 1434 319 1436 315 1439 312 1441 309 1443 305 1445 301 1448 297 1451 294 1453 291 1455 287 1458 283 1460 279 1462 275 1464 271 1466 267 1467 261 1469 257 1470 251 1470 245 1471 239 1470 233 1469 229 1468 223 1467 219 1465 215 1463 211 1461 207 1459 203 1457 201 1455 197 1451 194 1449 191 1445 189 1443 186 1439 184 1435 182 1431 180 1427 179 1421 179 1417 178 1411 179 1407 180 1401 181 1397 183 1393 185 1389 187 1385 190 1381 193 1378 196 1375 199 1372 203 1369 207 1367 210 1365 214 1363 217 1361 222 1359 227 1357 231 1355 235 1353 239 1352 243 1351 248 1349 253 1347 257 1345 261 1344 265 1342 269 1340 273 1338 277 1337 281 1335 285 1333 289 1331 293 1329 297 1327 301 1325 305 1322 309 1320 313 1318 317 1316 321 1313 325 1311 328 1309 332 1307 335 1305 339 1302 343 1300 347 1298 351 1295 355 1293 358 1291 361 1289 365 1287 369 1284 373 1281 377 1279 380 1277 383 1275 387 1273 391 1270 395 1267 399 1265 402 1263 405 1261 409 1258 413 1256 417 1253 420 1251 424 1249 427 1247 431 1244 435 1242 439 1239 443 1237 446 1235 449 1233 453 1230 457 1228 461 1225 463 1223 467 1220 471 1217 473 1215 477 1212 481 1209 484 1207 487 1205 491 1203 495 1201 500 1199 505 1197 509 1197Z" fill="url(#s10_0)"/>
<path d="M505 1209 511 1207 517 1207 523 1208 527 1209 531 1211 535 1213 539 1217 541 1219 544 1223 547 1226 549 1230 551 1234 552 1239 553 1243 554 1249 555 1253 555 1259 555 1263 554 1269 552 1273 551 1278 549 1282 547 1286 545 1289 541 1293 539 1296 535 1299 532 1301 529 1303 525 1305 521 1307 516 1309 511 1311 507 1312 503 1314 499 1315 495 1317 491 1319 487 1321 483 1323 479 1325 475 1328 471 1330 467 1332 463 1335 460 1337 456 1339 453 1341 449 1344 445 1346 441 1349 437 1351 434 1353 431 1355 427 1358 423 1360 419 1363 416 1365 413 1367 409 1369 405 1372 401 1374 397 1377 394 1379 391 1381 387 1383 383 1386 379 1388 375 1391 371 1393 368 1395 365 1397 361 1399 357 1402 353 1404 349 1406 345 1409 341 1411 338 1413 334 1415 331 1417 327 1419 323 1421 319 1424 315 1426 311 1429 308 1431 305 1433 301 1436 297 1439 294 1441 291 1443 287 1446 283 1449 280 1451 277 1453 273 1455 268 1457 263 1459 259 1460 254 1461 249 1461 243 1461 237 1461 233 1460 228 1459 223 1457 219 1455 215 1453 211 1451 208 1449 205 1446 201 1443 199 1440 197 1437 194 1433 192 1429 191 1425 189 1419 189 1413 189 1407 191 1401 192 1397 194 1393 197 1389 199 1386 202 1383 205 1380 208 1377 211 1375 215 1372 219 1370 223 1368 227 1366 231 1365 237 1363 241 1361 245 1360 250 1359 255 1357 259 1356 263 1354 267 1353 272 1351 277 1349 281 1347 285 1345 289 1343 293 1341 297 1339 301 1337 305 1335 309 1333 312 1331 316 1329 319 1327 323 1325 327 1322 331 1320 335 1318 339 1315 343 1313 346 1311 349 1309 353 1307 357 1304 361 1302 365 1299 369 1297 372 1295 375 1293 379 1291 383 1288 387 1285 391 1283 394 1281 397 1279 401 1276 405 1274 409 1271 412 1269 416 1267 419 1265 423 1262 427 1260 431 1257 434 1255 438 1253 441 1251 445 1248 449 1246 453 1243 457 1241 459 1239 463 1236 467 1233 470 1231 473 1228 477 1225 480 1223 483 1220 487 1217 491 1215 494 1213 498 1211 503 1209Z" fill="url(#s10_1)"/>
<path d="M505 1214 511 1213 517 1213 523 1214 527 1215 531 1217 535 1220 537 1223 541 1226 543 1229 545 1233 547 1237 549 1243 549 1247 550 1253 550 1259 549 1265 549 1269 547 1275 545 1279 543 1283 541 1286 538 1289 535 1292 532 1295 529 1297 525 1299 521 1301 517 1303 511 1305 507 1306 503 1308 499 1309 495 1311 490 1313 486 1315 482 1317 479 1319 475 1321 471 1323 467 1326 463 1328 459 1331 455 1333 452 1335 449 1337 445 1339 441 1342 437 1344 433 1347 430 1349 427 1351 423 1354 419 1356 415 1359 412 1361 409 1363 405 1365 401 1368 397 1370 393 1373 390 1375 387 1377 383 1379 379 1382 375 1384 371 1387 367 1389 364 1391 360 1393 357 1395 353 1397 349 1400 345 1402 341 1404 337 1407 333 1409 330 1411 326 1413 323 1415 319 1417 315 1420 311 1422 307 1425 304 1427 301 1429 297 1432 294 1435 291 1437 287 1440 284 1443 281 1445 277 1447 273 1450 269 1452 265 1453 260 1455 255 1456 250 1457 245 1457 241 1457 235 1456 230 1455 225 1453 221 1451 217 1449 213 1447 211 1445 207 1441 204 1439 201 1435 199 1431 197 1427 195 1423 195 1419 194 1413 195 1407 195 1403 197 1399 199 1395 201 1391 205 1387 207 1384 211 1381 213 1379 217 1377 221 1374 225 1372 229 1370 233 1369 239 1367 243 1366 247 1364 253 1363 257 1362 261 1361 267 1359 271 1357 275 1356 279 1354 283 1352 287 1350 291 1348 295 1346 299 1344 303 1342 307 1340 311 1338 315 1336 319 1334 323 1331 327 1329 330 1327 334 1325 337 1323 341 1321 345 1318 349 1316 353 1313 357 1311 360 1309 364 1307 367 1305 371 1302 375 1300 379 1297 383 1295 386 1293 389 1291 393 1288 397 1286 401 1283 404 1281 407 1279 411 1277 415 1274 419 1271 423 1269 426 1267 429 1265 433 1262 437 1260 441 1257 445 1255 448 1253 452 1251 455 1249 459 1246 463 1243 466 1241 469 1239 473 1235 476 1233 479 1230 483 1227 485 1225 489 1222 493 1220 497 1217 501 1215 505 1214Z" fill="url(#s10_2)"/>
<path d="M505 1218 511 1217 517 1217 523 1218 527 1220 531 1222 534 1225 537 1227 539 1231 542 1235 544 1239 545 1243 546 1249 547 1253 547 1258 546 1263 545 1269 544 1273 542 1277 540 1281 537 1285 535 1287 531 1291 528 1293 525 1295 521 1297 517 1299 511 1301 507 1302 503 1303 499 1305 493 1307 489 1309 485 1311 481 1313 477 1315 474 1317 470 1319 467 1321 463 1323 459 1326 455 1328 451 1331 447 1333 444 1335 441 1337 437 1340 433 1342 429 1345 426 1347 422 1349 419 1351 415 1354 411 1356 407 1359 404 1361 401 1363 397 1365 393 1368 389 1370 385 1373 382 1375 379 1377 375 1379 371 1382 367 1384 363 1386 359 1389 356 1391 352 1393 349 1395 345 1397 341 1400 337 1402 333 1404 329 1407 325 1409 322 1411 318 1413 315 1415 311 1417 307 1420 303 1423 300 1425 297 1427 293 1431 291 1433 287 1436 283 1439 281 1441 277 1444 273 1446 269 1448 265 1450 261 1451 255 1453 251 1454 245 1454 239 1453 235 1453 229 1451 225 1449 221 1448 217 1445 213 1443 211 1440 207 1437 205 1434 203 1431 201 1427 199 1421 198 1417 198 1411 199 1405 200 1401 202 1397 204 1393 207 1389 209 1387 213 1383 216 1381 219 1379 223 1377 227 1375 231 1373 237 1371 241 1369 245 1368 251 1367 255 1366 260 1365 265 1363 269 1362 273 1361 278 1359 283 1357 287 1355 291 1353 295 1351 299 1349 303 1347 307 1345 311 1343 315 1341 318 1339 322 1337 325 1335 329 1333 333 1330 337 1328 341 1325 345 1323 349 1321 352 1319 355 1317 359 1315 363 1312 367 1310 371 1307 375 1305 378 1303 381 1301 385 1298 389 1296 393 1293 397 1291 400 1289 403 1287 407 1284 411 1282 415 1279 418 1277 421 1275 425 1273 429 1270 433 1267 437 1265 440 1263 443 1261 447 1259 451 1256 455 1254 459 1251 462 1249 465 1247 469 1244 472 1241 475 1239 479 1235 481 1233 485 1230 489 1227 492 1225 495 1223 499 1221 503 1219Z" fill="url(#s10_3)"/>
<path d="M509 1220 515 1220 520 1221 525 1222 529 1224 532 1227 535 1230 537 1233 539 1237 541 1241 543 1245 544 1251 544 1257 544 1263 543 1267 541 1273 539 1277 537 1280 535 1283 531 1287 529 1289 525 1291 521 1294 517 1295 513 1297 507 1299 503 1300 499 1301 494 1303 489 1305 485 1307 481 1309 477 1311 474 1313 470 1315 467 1317 463 1319 459 1322 455 1324 451 1327 447 1329 444 1331 441 1333 437 1335 433 1338 429 1340 425 1343 422 1345 419 1347 415 1350 411 1352 407 1355 404 1357 401 1359 397 1361 393 1364 389 1366 385 1369 382 1371 378 1373 375 1375 371 1377 367 1380 363 1382 359 1385 355 1387 352 1389 349 1391 345 1393 341 1396 337 1398 333 1400 329 1403 325 1405 321 1407 318 1409 315 1411 311 1413 307 1416 303 1418 300 1421 297 1423 293 1427 291 1429 287 1432 284 1435 281 1438 277 1441 273 1443 270 1445 266 1447 261 1449 257 1450 253 1451 247 1451 241 1451 237 1451 231 1449 227 1448 223 1446 219 1443 215 1441 213 1439 209 1435 207 1432 205 1429 203 1424 201 1419 201 1415 201 1411 202 1405 203 1401 205 1397 207 1393 211 1389 213 1387 217 1383 221 1381 224 1379 228 1377 233 1375 237 1373 241 1372 246 1371 251 1370 256 1369 261 1368 265 1367 271 1365 275 1364 279 1362 283 1361 287 1359 291 1357 295 1355 299 1353 303 1351 307 1349 311 1347 315 1345 319 1342 323 1340 327 1338 331 1336 335 1333 339 1331 342 1329 346 1327 349 1325 353 1322 357 1320 361 1318 365 1315 369 1313 372 1311 375 1309 379 1306 383 1304 387 1301 391 1299 394 1297 397 1295 401 1292 405 1290 409 1287 412 1285 415 1283 419 1281 423 1278 427 1275 431 1273 434 1271 437 1269 441 1267 445 1264 449 1262 453 1259 456 1257 459 1255 463 1252 467 1249 470 1247 473 1244 477 1241 479 1239 483 1235 486 1233 489 1230 493 1227 497 1225 501 1223 505 1221 509 1220Z" fill="url(#s10_4)"/>
<path d="M505 1224 511 1223 517 1223 523 1224 527 1226 530 1229 533 1231 535 1235 538 1239 539 1243 541 1247 542 1253 542 1259 541 1265 540 1269 538 1273 536 1277 533 1281 531 1283 527 1287 524 1289 521 1291 516 1293 511 1295 507 1296 503 1297 497 1299 493 1300 489 1302 485 1303 481 1305 477 1307 473 1310 469 1312 465 1314 461 1317 457 1319 454 1321 451 1323 447 1325 443 1328 439 1330 435 1333 432 1335 429 1337 425 1339 421 1342 417 1345 413 1347 410 1349 407 1351 403 1354 399 1356 395 1359 392 1361 389 1363 385 1365 381 1368 377 1370 373 1373 369 1375 366 1377 363 1379 359 1381 355 1384 351 1386 347 1388 343 1391 339 1393 336 1395 333 1397 329 1399 325 1401 321 1404 317 1406 313 1408 309 1411 306 1413 303 1415 299 1418 296 1421 293 1423 289 1427 287 1429 283 1433 281 1435 277 1438 273 1441 269 1443 265 1445 261 1447 257 1448 252 1449 247 1449 241 1449 237 1448 231 1447 227 1445 223 1443 219 1441 216 1439 213 1436 210 1433 207 1429 205 1425 204 1421 203 1415 203 1409 205 1403 206 1399 209 1395 211 1392 214 1389 217 1386 221 1383 225 1381 229 1379 233 1377 237 1375 241 1374 247 1373 251 1372 257 1371 261 1370 267 1369 271 1368 275 1367 281 1365 285 1363 289 1361 293 1359 297 1358 301 1356 305 1354 309 1352 313 1349 317 1347 321 1345 325 1343 328 1341 332 1339 335 1337 339 1334 343 1332 347 1330 351 1327 355 1325 358 1323 362 1321 365 1319 369 1316 373 1314 377 1311 381 1309 384 1307 387 1305 391 1302 395 1300 399 1297 403 1295 406 1293 409 1291 413 1288 417 1286 421 1283 424 1281 427 1279 431 1277 435 1274 439 1271 443 1269 446 1267 450 1265 453 1263 457 1260 461 1257 465 1255 467 1253 471 1250 474 1247 477 1245 481 1241 483 1239 487 1235 490 1233 493 1231 497 1228 501 1226 505 1224Z" fill="url(#s10_5)"/>
<path d="M507 1226 513 1225 519 1226 523 1227 527 1229 531 1233 533 1235 535 1239 537 1243 539 1248 539 1253 539 1259 539 1264 537 1269 536 1273 533 1277 531 1280 528 1283 525 1286 521 1288 517 1290 513 1292 509 1293 503 1294 499 1296 494 1297 489 1299 485 1300 481 1302 477 1304 473 1306 469 1309 465 1311 462 1313 458 1315 455 1317 451 1319 447 1322 443 1324 439 1327 436 1329 433 1331 429 1333 425 1336 421 1338 417 1341 414 1343 411 1345 407 1348 403 1350 399 1353 396 1355 392 1357 389 1359 385 1362 381 1364 377 1367 373 1369 370 1371 367 1373 363 1375 359 1378 355 1380 351 1382 347 1385 344 1387 340 1389 337 1391 333 1393 329 1396 325 1398 321 1400 317 1402 313 1405 310 1407 307 1409 303 1411 299 1415 296 1417 293 1420 290 1423 287 1426 284 1429 281 1432 278 1435 275 1437 271 1440 267 1442 263 1444 259 1445 253 1447 249 1447 243 1447 237 1447 233 1446 229 1444 225 1442 221 1440 217 1437 215 1435 211 1431 209 1427 207 1423 206 1419 205 1413 206 1407 207 1403 209 1399 211 1395 215 1391 217 1389 221 1385 225 1383 229 1381 233 1379 237 1377 241 1376 247 1375 251 1374 257 1373 261 1372 267 1371 271 1371 277 1369 281 1368 285 1366 289 1364 293 1363 297 1361 301 1359 305 1357 309 1355 313 1353 317 1351 321 1348 325 1346 329 1344 333 1341 337 1339 341 1337 344 1335 347 1333 351 1331 355 1328 359 1326 363 1323 367 1321 370 1319 374 1317 377 1315 381 1312 385 1310 389 1307 393 1305 396 1303 399 1301 403 1298 407 1296 411 1293 414 1291 417 1289 421 1286 425 1284 429 1281 433 1279 436 1277 439 1275 443 1272 447 1270 451 1267 455 1265 458 1263 461 1261 465 1258 469 1255 471 1253 475 1250 478 1247 481 1244 484 1241 487 1238 491 1235 494 1233 497 1231 501 1228 505 1227Z" fill="url(#s10_6)"/>
<path d="M507 1228 513 1228 519 1228 523 1230 527 1232 530 1235 533 1239 535 1242 536 1247 537 1251 538 1257 537 1263 536 1267 534 1271 532 1275 529 1279 527 1281 523 1284 519 1287 515 1289 511 1290 507 1291 501 1293 497 1294 492 1295 487 1296 483 1298 479 1300 475 1302 471 1304 467 1306 463 1309 459 1311 456 1313 453 1315 449 1317 445 1320 441 1322 437 1325 434 1327 430 1329 427 1331 423 1334 419 1336 415 1339 412 1341 409 1343 405 1345 401 1348 397 1351 393 1353 390 1355 387 1357 383 1360 379 1362 375 1365 371 1367 368 1369 365 1371 361 1373 357 1376 353 1378 349 1380 345 1383 341 1385 338 1387 335 1389 331 1391 327 1393 323 1396 319 1398 315 1400 311 1403 308 1405 305 1407 301 1410 297 1413 295 1415 291 1419 289 1421 286 1425 283 1428 280 1431 277 1433 273 1436 269 1439 266 1441 261 1443 257 1444 253 1445 247 1446 241 1446 236 1445 231 1443 227 1442 223 1439 219 1437 217 1434 213 1431 211 1427 209 1423 208 1419 207 1413 208 1407 209 1403 211 1399 213 1395 217 1391 219 1389 223 1386 227 1384 231 1381 235 1380 239 1378 245 1377 249 1376 255 1375 259 1375 265 1374 271 1373 275 1372 280 1371 285 1369 289 1367 293 1366 297 1364 301 1362 305 1360 309 1358 313 1356 317 1354 321 1352 325 1349 329 1347 333 1345 336 1343 339 1341 343 1339 347 1336 351 1334 355 1332 359 1329 363 1327 366 1325 369 1323 373 1321 377 1318 381 1316 385 1313 389 1311 392 1309 395 1307 399 1304 403 1302 407 1299 410 1297 413 1295 417 1292 421 1290 425 1287 429 1285 432 1283 435 1281 439 1278 443 1276 447 1273 451 1271 454 1269 457 1267 461 1264 465 1261 468 1259 471 1257 475 1253 477 1251 481 1247 483 1245 487 1241 489 1239 493 1236 497 1233 501 1231 505 1229Z" fill="url(#s10_7)"/>
<path d="M505 1230 511 1229 517 1229 522 1231 525 1233 529 1236 531 1239 534 1243 535 1247 536 1253 536 1259 535 1265 534 1269 532 1273 529 1277 527 1280 523 1283 520 1285 516 1287 511 1289 507 1290 503 1291 497 1292 493 1293 487 1295 483 1296 479 1298 475 1300 471 1302 467 1304 463 1307 459 1309 456 1311 453 1313 449 1315 445 1318 441 1320 437 1323 433 1325 430 1327 427 1329 423 1332 419 1334 415 1337 412 1339 409 1341 405 1343 401 1346 397 1349 393 1351 390 1353 387 1355 383 1357 379 1360 375 1363 371 1365 368 1367 365 1369 361 1371 357 1374 353 1376 349 1378 345 1381 341 1383 338 1385 335 1387 331 1389 327 1391 323 1394 319 1396 315 1398 311 1401 308 1403 305 1405 301 1408 297 1411 295 1413 291 1417 289 1420 286 1423 283 1426 280 1429 277 1432 273 1435 271 1437 267 1439 263 1441 259 1443 253 1444 249 1445 243 1445 239 1444 233 1443 229 1441 225 1439 221 1437 218 1435 215 1431 213 1428 211 1424 209 1419 208 1415 208 1409 209 1405 211 1401 213 1397 216 1393 219 1390 223 1387 227 1385 230 1383 235 1381 239 1379 243 1378 249 1377 253 1376 259 1376 265 1375 269 1375 275 1373 279 1373 285 1371 289 1369 293 1368 297 1366 301 1364 305 1362 309 1360 313 1358 317 1356 321 1354 325 1351 329 1349 333 1347 336 1345 340 1343 343 1341 347 1338 351 1336 355 1334 359 1331 363 1329 366 1327 369 1325 373 1323 377 1320 381 1318 385 1315 389 1313 392 1311 395 1309 399 1306 403 1304 407 1301 410 1299 413 1297 417 1295 421 1292 425 1289 429 1287 432 1285 435 1283 439 1280 443 1278 447 1275 451 1273 454 1271 457 1269 461 1266 465 1263 468 1261 471 1259 475 1255 477 1253 481 1249 483 1247 487 1243 489 1241 493 1238 496 1235 500 1233 504 1231Z" fill="#aec7e8" fill-opacity="0.105"/>
<path d="M507 1234 513 1233 519 1234 523 1236 526 1239 529 1243 531 1247 532 1251 532 1257 532 1263 530 1267 528 1271 526 1275 523 1277 519 1280 515 1282 511 1284 507 1285 501 1286 497 1287 491 1288 485 1289 481 1290 477 1291 473 1293 469 1295 465 1297 461 1299 457 1302 453 1304 449 1307 445 1309 442 1311 439 1313 435 1315 431 1318 427 1320 423 1323 420 1325 417 1327 413 1329 409 1332 405 1334 401 1337 398 1339 395 1341 391 1344 387 1346 383 1349 380 1351 377 1353 373 1355 369 1358 365 1360 361 1363 357 1365 354 1367 351 1369 347 1371 343 1373 339 1376 335 1378 331 1381 327 1383 324 1385 321 1387 317 1389 313 1392 309 1394 305 1397 302 1399 299 1402 296 1405 293 1408 290 1411 287 1415 285 1418 283 1421 279 1425 277 1427 273 1431 271 1433 267 1435 263 1438 259 1439 255 1441 249 1442 243 1442 237 1441 233 1440 229 1438 225 1436 221 1433 219 1430 216 1427 214 1423 212 1419 212 1413 212 1407 214 1403 216 1399 219 1395 221 1393 225 1390 229 1387 233 1385 237 1383 241 1382 247 1381 251 1380 257 1380 263 1379 269 1379 273 1379 279 1378 285 1377 289 1376 293 1375 298 1373 303 1371 307 1369 311 1367 315 1365 319 1363 323 1361 326 1359 330 1357 334 1355 337 1353 341 1350 345 1348 349 1346 353 1343 357 1341 360 1339 364 1337 367 1335 371 1333 375 1330 379 1328 383 1325 387 1323 390 1321 393 1319 397 1316 401 1314 405 1311 409 1309 412 1307 415 1305 419 1302 423 1300 427 1297 430 1295 433 1293 437 1290 441 1288 445 1285 449 1283 452 1281 455 1279 459 1276 463 1273 466 1271 469 1269 473 1265 475 1263 479 1259 481 1256 484 1253 487 1249 489 1247 493 1243 495 1241 499 1238 503 1236 507 1234Z" fill="#aec7e8" fill-opacity="0.105"/>
<path d="M509 1238 515 1238 519 1239 523 1242 525 1245 527 1249 528 1255 528 1261 527 1265 525 1269 522 1273 519 1276 515 1278 511 1279 506 1281 501 1281 495 1282 489 1281 483 1281 479 1279 477 1275 479 1270 481 1266 483 1263 485 1259 488 1255 491 1251 493 1249 497 1245 499 1243 503 1241 507 1239ZM257 1383 263 1383 267 1383 273 1383 279 1384 285 1384 290 1385 295 1386 296 1391 294 1395 292 1399 290 1403 287 1407 285 1411 283 1414 281 1417 278 1421 275 1425 273 1427 269 1431 266 1433 263 1435 258 1437 253 1438 249 1439 243 1439 239 1439 233 1437 229 1435 226 1433 223 1430 220 1427 217 1423 216 1419 215 1413 216 1407 217 1403 220 1399 223 1395 225 1393 229 1390 233 1388 237 1386 241 1385 247 1384 253 1383 257 1383Z" fill="#aec7e8" fill-opacity="0.105"/>
<path d="M511 1243 515 1243 519 1245 522 1249 524 1253 524 1259 523 1265 521 1268 518 1271 515 1273 511 1275 505 1276 499 1276 494 1275 491 1273 489 1267 490 1261 492 1257 495 1253 497 1251 501 1247 504 1245 509 1243ZM245 1387 251 1386 257 1385 263 1386 268 1387 273 1388 277 1389 281 1391 283 1395 284 1401 283 1405 281 1411 279 1415 277 1418 275 1421 271 1425 269 1427 265 1430 261 1433 257 1435 253 1436 247 1437 241 1436 235 1435 231 1433 227 1431 225 1429 222 1425 219 1421 218 1417 218 1411 219 1407 221 1402 223 1399 227 1395 229 1393 233 1391 237 1389 243 1387Z" fill="#aec7e8" fill-opacity="0.105"/>
<path d="M509 1248 515 1249 517 1251 519 1255 519 1261 517 1265 515 1267 511 1269 505 1270 500 1269 497 1265 498 1259 500 1255 503 1252 507 1249ZM247 1389 253 1388 259 1388 263 1389 269 1391 273 1393 275 1395 278 1399 278 1405 277 1411 275 1415 273 1419 271 1421 268 1425 265 1427 261 1430 257 1432 253 1433 247 1434 241 1434 236 1433 232 1431 229 1429 225 1425 223 1422 221 1417 220 1413 221 1409 223 1404 225 1401 228 1397 231 1395 235 1392 239 1391 245 1389Z" fill="#aec7e8" fill-opacity="0.105"/>
<path d="M249 1391 255 1391 259 1391 264 1393 268 1395 271 1397 273 1401 274 1407 273 1413 271 1417 269 1420 266 1423 263 1426 259 1429 255 1430 251 1432 245 1432 239 1431 235 1430 231 1427 228 1425 225 1421 224 1417 223 1411 225 1405 227 1402 230 1399 233 1396 237 1394 241 1392 247 1391Z" fill="#aec7e8" fill-opacity="0.105"/>
<path d="M241 1395 247 1393 253 1393 259 1394 263 1395 267 1398 269 1401 271 1407 270 1413 268 1417 265 1421 263 1423 259 1426 255 1428 251 1429 245 1430 239 1429 235 1427 231 1425 229 1422 227 1418 226 1413 227 1407 229 1403 231 1401 235 1398 239 1395Z" fill="#aec7e8" fill-opacity="0.105"/>
<path d="M243 1396 249 1395 255 1396 259 1397 263 1399 266 1403 267 1407 267 1412 265 1416 263 1419 259 1423 256 1425 252 1427 247 1428 241 1427 237 1425 233 1423 231 1420 229 1415 228 1411 230 1407 232 1403 235 1400 239 1398 243 1396Z" fill="#aec7e8" fill-opacity="0.105"/>
<path d="M245 1398 251 1398 255 1399 259 1401 263 1405 264 1409 263 1414 261 1418 258 1421 255 1423 250 1425 245 1425 241 1424 237 1422 233 1419 231 1415 232 1409 234 1405 237 1402 241 1400 245 1398Z" fill="#aec7e8" fill-opacity="0.105"/>
<path d="M249 1401 253 1401 257 1403 260 1407 260 1413 258 1417 255 1420 251 1422 245 1422 239 1421 237 1419 235 1415 235 1410 237 1406 241 1403 245 1401 249 1401Z" fill="#aec7e8" fill-opacity="0.105"/>
<path d="M245 1405 251 1404 255 1407 256 1411 255 1415 251 1418 247 1419 243 1419 239 1415 238 1411 241 1407 244 1405Z" fill="#aec7e8" fill-opacity="0.105"/>
<path d="M495 1131 501 1131 505 1131 511 1132 515 1134 519 1136 523 1139 526 1141 529 1143 533 1147 535 1149 538 1153 541 1156 543 1159 546 1163 549 1167 551 1170 553 1174 554 1179 555 1183 556 1189 556 1195 555 1200 553 1205 552 1209 549 1213 547 1217 545 1219 542 1223 539 1226 536 1229 533 1231 529 1234 525 1237 522 1239 519 1241 515 1243 511 1246 507 1248 503 1250 499 1252 495 1254 491 1256 487 1258 483 1260 479 1262 475 1264 471 1266 467 1268 463 1270 459 1272 455 1274 451 1276 447 1278 443 1280 439 1282 435 1285 431 1287 427 1289 424 1291 420 1293 416 1295 413 1297 409 1299 405 1301 401 1303 397 1306 393 1308 389 1310 385 1313 381 1315 378 1317 374 1319 371 1321 367 1323 363 1326 359 1328 355 1331 351 1333 348 1335 345 1337 341 1339 337 1342 333 1345 330 1347 327 1350 323 1353 320 1355 317 1358 313 1361 310 1363 307 1365 303 1368 299 1371 295 1373 291 1375 287 1377 283 1379 279 1380 275 1381 269 1383 265 1384 259 1384 253 1385 247 1384 241 1384 235 1383 231 1382 227 1381 221 1379 217 1377 213 1376 209 1374 205 1372 201 1369 197 1367 195 1365 191 1361 188 1359 185 1355 183 1352 181 1349 178 1345 177 1341 175 1335 174 1331 173 1325 173 1319 174 1313 175 1309 177 1303 179 1299 181 1295 183 1292 185 1289 189 1285 191 1283 195 1280 198 1277 201 1275 205 1273 209 1270 213 1268 217 1267 222 1265 227 1263 231 1261 235 1260 239 1259 245 1257 249 1255 253 1254 257 1253 262 1251 267 1249 271 1247 275 1245 279 1243 283 1241 287 1239 291 1237 295 1235 299 1233 303 1231 307 1229 310 1227 314 1225 317 1223 321 1221 325 1218 329 1216 333 1213 337 1211 341 1209 344 1207 347 1205 351 1203 355 1200 359 1198 363 1196 367 1193 371 1191 375 1189 378 1187 382 1185 386 1183 389 1181 393 1179 397 1177 401 1174 405 1172 409 1170 413 1168 417 1166 421 1163 425 1161 429 1159 433 1157 436 1155 440 1153 444 1151 447 1149 451 1147 455 1145 459 1143 463 1141 467 1139 472 1137 477 1135 481 1133 485 1132 491 1131 495 1131Z" fill="url(#s20_0)"/>
<path d="M489 1142 495 1142 501 1142 506 1143 511 1144 515 1146 519 1148 522 1151 525 1153 529 1157 531 1159 534 1163 537 1166 539 1169 541 1173 543 1178 544 1183 545 1187 545 1193 544 1197 543 1202 541 1207 539 1210 537 1213 534 1217 531 1220 528 1223 525 1225 521 1228 517 1231 514 1233 510 1235 507 1237 502 1239 498 1241 494 1243 489 1245 485 1247 481 1249 477 1251 473 1253 469 1255 465 1257 461 1259 457 1261 453 1263 449 1265 445 1267 441 1269 438 1271 434 1273 430 1275 427 1277 423 1279 419 1281 415 1283 411 1286 407 1288 403 1290 399 1292 395 1295 391 1297 387 1299 384 1301 380 1303 377 1305 373 1307 369 1310 365 1312 361 1314 357 1317 354 1319 350 1321 347 1323 343 1325 339 1328 335 1331 332 1333 329 1335 325 1338 321 1341 319 1343 315 1346 312 1349 309 1351 305 1355 302 1357 299 1359 295 1362 291 1364 287 1367 283 1369 279 1370 275 1372 271 1373 265 1374 261 1375 255 1375 249 1375 243 1375 239 1374 233 1373 229 1372 225 1370 221 1369 216 1367 212 1365 209 1362 205 1360 201 1357 199 1354 195 1351 193 1347 191 1344 189 1340 187 1335 185 1331 185 1326 184 1321 185 1317 186 1311 187 1307 189 1303 192 1299 194 1295 197 1292 200 1289 203 1286 207 1283 210 1281 214 1279 218 1277 222 1275 227 1273 231 1271 235 1270 239 1269 245 1267 249 1265 253 1264 258 1263 263 1261 267 1260 271 1258 275 1257 279 1255 284 1253 288 1251 292 1249 296 1247 300 1245 303 1243 307 1241 311 1239 315 1236 319 1234 323 1232 327 1229 331 1227 335 1225 338 1223 341 1221 345 1219 349 1216 353 1214 357 1211 361 1209 365 1207 368 1205 372 1203 375 1201 379 1199 383 1197 387 1194 391 1192 395 1190 399 1188 403 1186 407 1183 411 1181 415 1179 419 1177 422 1175 426 1173 429 1171 433 1169 437 1167 441 1164 445 1162 449 1160 453 1157 457 1155 461 1153 465 1151 469 1149 473 1147 477 1146 481 1144 487 1143Z" fill="url(#s20_1)"/>
<path d="M485 1149 491 1147 497 1147 503 1147 508 1149 513 1151 516 1153 519 1155 523 1157 526 1161 529 1164 531 1167 534 1171 536 1175 537 1179 539 1184 539 1189 539 1195 538 1199 537 1203 535 1207 532 1211 529 1215 527 1217 523 1221 521 1223 517 1225 513 1228 509 1230 505 1232 501 1234 497 1236 493 1238 489 1239 485 1241 481 1243 476 1245 472 1247 468 1249 464 1251 460 1253 456 1255 452 1257 449 1259 445 1261 441 1263 437 1265 433 1267 429 1269 425 1272 421 1274 417 1276 413 1278 409 1280 405 1283 401 1285 397 1287 394 1289 390 1291 387 1293 383 1295 379 1297 375 1300 371 1302 367 1305 363 1307 360 1309 356 1311 353 1313 349 1315 345 1318 341 1320 337 1323 334 1325 331 1327 327 1330 323 1333 320 1335 317 1338 313 1341 311 1343 307 1347 304 1349 301 1352 297 1355 294 1357 291 1359 287 1361 283 1364 279 1365 275 1367 269 1369 265 1370 259 1371 255 1371 249 1371 245 1370 239 1370 235 1369 229 1367 225 1365 221 1364 217 1362 213 1359 209 1357 207 1355 203 1351 200 1349 197 1345 195 1341 193 1337 192 1333 191 1329 190 1323 191 1317 191 1313 193 1308 195 1304 197 1301 199 1297 203 1293 205 1291 209 1288 213 1285 216 1283 220 1281 224 1279 229 1277 233 1275 237 1274 241 1273 247 1271 251 1270 255 1269 261 1267 265 1266 269 1265 274 1263 279 1261 283 1259 287 1257 291 1255 295 1253 299 1251 303 1249 307 1247 311 1245 315 1243 318 1241 322 1239 325 1237 329 1235 333 1232 337 1230 341 1227 345 1225 349 1223 352 1221 355 1219 359 1217 363 1214 367 1212 371 1210 375 1207 379 1205 383 1203 387 1201 390 1199 394 1197 397 1195 401 1193 405 1191 409 1188 413 1186 417 1184 421 1182 425 1180 429 1177 433 1175 437 1173 440 1171 444 1169 447 1167 451 1165 455 1162 459 1160 463 1158 467 1156 471 1154 475 1152 479 1150 484 1149Z" fill="url(#s20_2)"/>
<path d="M497 1151 501 1151 507 1152 511 1154 515 1156 519 1159 521 1161 525 1164 527 1167 530 1171 532 1175 534 1179 535 1183 536 1189 535 1195 534 1199 533 1203 531 1207 528 1211 525 1215 522 1217 519 1220 515 1223 512 1225 508 1227 504 1229 500 1231 495 1233 491 1234 487 1236 483 1238 479 1239 475 1241 471 1243 467 1245 463 1247 459 1249 455 1251 451 1253 447 1255 443 1257 439 1259 435 1262 431 1264 427 1266 423 1268 419 1270 415 1273 411 1275 407 1277 404 1279 400 1281 396 1283 393 1285 389 1287 385 1289 381 1292 377 1294 373 1296 369 1299 365 1301 362 1303 359 1305 355 1307 351 1310 347 1312 343 1314 339 1317 336 1319 333 1321 329 1323 325 1326 321 1329 319 1331 315 1334 312 1337 309 1340 306 1343 303 1345 299 1349 297 1351 293 1354 289 1356 285 1359 281 1361 277 1363 273 1364 269 1366 264 1367 259 1368 253 1368 247 1368 241 1367 237 1366 232 1365 227 1363 223 1361 219 1359 215 1357 212 1355 209 1352 205 1349 203 1346 201 1343 198 1339 196 1335 195 1329 194 1325 194 1319 195 1315 197 1309 199 1305 201 1301 203 1299 206 1295 209 1292 213 1289 216 1287 219 1285 223 1283 228 1281 232 1279 237 1277 241 1276 245 1275 251 1273 255 1272 260 1271 265 1269 269 1268 274 1267 279 1265 283 1263 287 1262 291 1260 295 1258 299 1256 303 1254 307 1252 311 1250 315 1247 319 1245 323 1243 326 1241 329 1239 333 1237 337 1234 341 1232 345 1230 349 1227 353 1225 356 1223 360 1221 363 1219 367 1217 371 1214 375 1212 379 1210 383 1207 387 1205 391 1203 395 1201 398 1199 402 1197 406 1195 409 1193 413 1191 417 1189 421 1186 425 1184 429 1182 433 1180 437 1177 441 1175 444 1173 448 1171 451 1169 455 1166 459 1164 463 1162 467 1160 471 1158 475 1156 479 1154 483 1153 489 1151 495 1151Z" fill="url(#s20_3)"/>
<path d="M489 1154 495 1154 501 1154 505 1155 510 1157 514 1159 517 1161 521 1164 523 1167 526 1171 529 1175 530 1179 532 1183 533 1189 532 1195 531 1200 529 1204 527 1208 524 1211 521 1215 518 1217 515 1220 511 1222 507 1224 503 1226 499 1228 495 1230 491 1231 487 1233 482 1235 477 1237 473 1239 469 1240 465 1242 461 1244 457 1246 453 1248 449 1250 445 1253 441 1255 437 1257 433 1259 430 1261 426 1263 422 1265 419 1267 415 1269 411 1271 407 1273 403 1275 399 1278 395 1280 391 1282 387 1284 383 1287 379 1289 376 1291 373 1293 369 1295 365 1297 361 1300 357 1302 353 1305 349 1307 346 1309 343 1311 339 1313 335 1316 331 1318 327 1321 324 1323 321 1325 317 1329 314 1331 311 1334 308 1337 305 1340 302 1343 299 1345 295 1349 292 1351 289 1353 285 1356 281 1358 277 1360 273 1362 269 1363 263 1364 259 1365 253 1365 247 1365 243 1365 237 1363 233 1362 228 1361 224 1359 220 1357 217 1355 213 1352 209 1349 207 1346 204 1343 202 1339 200 1335 198 1331 197 1325 197 1319 199 1313 200 1309 202 1305 205 1301 207 1298 210 1295 213 1292 217 1289 221 1287 225 1285 229 1283 233 1281 237 1280 241 1278 247 1277 251 1276 255 1275 261 1273 265 1272 271 1271 275 1269 279 1268 283 1267 288 1265 292 1263 296 1261 300 1259 304 1257 308 1255 312 1253 315 1251 319 1249 323 1246 327 1244 331 1242 335 1239 339 1237 342 1235 346 1233 349 1231 353 1229 357 1226 361 1224 365 1221 369 1219 373 1217 376 1215 380 1213 384 1211 387 1209 391 1207 395 1204 399 1202 403 1200 407 1198 411 1196 415 1193 419 1191 423 1189 427 1187 430 1185 434 1183 437 1181 441 1179 445 1176 449 1174 453 1171 457 1169 460 1167 463 1165 467 1163 471 1161 475 1159 480 1157 485 1155 489 1154Z" fill="url(#s20_4)"/>
<path d="M491 1156 497 1156 502 1157 507 1158 511 1160 515 1162 518 1165 521 1168 523 1171 526 1175 528 1179 529 1183 530 1189 530 1195 529 1199 527 1203 524 1207 521 1211 519 1213 515 1217 512 1219 509 1221 505 1223 501 1225 496 1227 491 1229 487 1230 483 1232 479 1233 475 1235 470 1237 466 1239 462 1241 458 1243 454 1245 450 1247 446 1249 442 1251 438 1253 435 1255 431 1257 427 1259 423 1261 419 1263 415 1266 411 1268 407 1270 403 1272 399 1274 395 1277 391 1279 388 1281 384 1283 381 1285 377 1287 373 1289 369 1292 365 1294 361 1296 357 1299 354 1301 350 1303 347 1305 343 1307 339 1310 335 1312 331 1315 328 1317 325 1319 321 1322 317 1325 315 1327 311 1330 308 1333 305 1336 302 1339 299 1342 296 1345 293 1348 289 1351 286 1353 283 1355 279 1357 275 1359 269 1361 265 1362 261 1363 255 1363 249 1363 244 1363 239 1362 235 1361 229 1359 225 1357 221 1355 218 1353 215 1350 211 1347 209 1345 206 1341 203 1337 202 1333 201 1329 200 1323 200 1317 201 1313 203 1309 205 1305 208 1301 211 1297 214 1295 217 1292 221 1289 225 1287 229 1285 233 1283 237 1282 241 1281 247 1279 251 1278 255 1277 261 1275 265 1275 271 1273 275 1272 279 1271 285 1269 289 1267 293 1266 297 1264 301 1262 305 1260 309 1258 313 1255 317 1253 321 1251 324 1249 328 1247 331 1245 335 1243 339 1240 343 1238 347 1235 351 1233 355 1231 358 1229 361 1227 365 1225 369 1222 373 1220 377 1218 381 1216 385 1213 389 1211 393 1209 397 1207 400 1205 404 1203 407 1201 411 1199 415 1197 419 1194 423 1192 427 1190 431 1188 435 1185 439 1183 443 1181 446 1179 449 1177 453 1174 457 1172 461 1169 465 1167 468 1165 472 1163 476 1161 481 1159 485 1158 489 1157Z" fill="url(#s20_5)"/>
<path d="M491 1159 497 1158 501 1159 507 1160 511 1162 514 1165 517 1167 521 1171 523 1174 525 1177 527 1183 528 1187 528 1193 527 1197 525 1202 523 1206 520 1209 517 1212 514 1215 511 1217 507 1219 503 1222 499 1223 495 1225 490 1227 485 1228 481 1230 477 1231 473 1233 469 1235 464 1237 460 1239 456 1241 452 1243 448 1245 444 1247 440 1249 437 1251 433 1253 429 1255 425 1257 421 1259 417 1262 413 1264 409 1266 405 1268 401 1270 397 1273 393 1275 389 1277 386 1279 382 1281 379 1283 375 1285 371 1288 367 1290 363 1292 359 1295 355 1297 352 1299 349 1301 345 1303 341 1306 337 1308 333 1310 329 1313 326 1315 323 1317 319 1320 316 1323 313 1325 309 1329 307 1331 303 1335 301 1338 298 1341 295 1343 291 1347 288 1349 285 1351 281 1354 277 1356 273 1358 269 1359 263 1361 259 1361 253 1362 247 1361 243 1361 237 1359 233 1358 229 1357 225 1355 221 1352 217 1349 213 1347 211 1344 208 1341 206 1337 204 1333 203 1328 202 1323 203 1317 204 1313 205 1309 207 1305 210 1301 213 1298 217 1295 219 1293 223 1290 227 1288 231 1286 235 1285 240 1283 245 1281 249 1280 255 1279 259 1278 264 1277 269 1276 274 1275 279 1273 283 1272 287 1271 292 1269 296 1267 300 1265 304 1263 308 1261 312 1259 316 1257 319 1255 323 1253 327 1250 331 1248 335 1246 339 1243 343 1241 346 1239 350 1237 353 1235 357 1232 361 1230 365 1228 369 1225 373 1223 377 1221 380 1219 384 1217 387 1215 391 1213 395 1211 399 1208 403 1206 407 1204 411 1202 415 1200 419 1197 423 1195 427 1193 431 1191 434 1189 437 1187 441 1185 445 1182 449 1180 453 1177 456 1175 459 1173 463 1170 467 1168 471 1166 475 1164 479 1162 483 1160 489 1159Z" fill="url(#s20_6)"/>
<path d="M491 1161 497 1160 501 1161 507 1163 511 1165 514 1167 517 1169 520 1173 522 1177 524 1181 525 1185 526 1191 525 1197 523 1201 521 1205 519 1208 516 1211 513 1213 509 1216 505 1218 501 1220 497 1222 493 1224 489 1225 483 1227 479 1228 475 1230 471 1231 467 1233 463 1235 459 1237 455 1239 451 1241 447 1243 443 1245 439 1247 435 1249 431 1251 427 1253 423 1256 419 1258 415 1260 411 1262 407 1264 403 1267 399 1269 395 1271 392 1273 388 1275 385 1277 381 1279 377 1281 373 1284 369 1286 365 1288 361 1291 357 1293 354 1295 351 1297 347 1299 343 1301 339 1304 335 1306 331 1309 328 1311 325 1313 321 1316 317 1319 315 1321 311 1324 308 1327 305 1331 303 1333 299 1337 297 1339 293 1343 291 1345 287 1348 283 1351 279 1353 276 1355 271 1357 267 1358 263 1359 257 1360 251 1360 245 1359 241 1359 235 1357 231 1356 227 1354 223 1352 219 1349 216 1347 213 1343 211 1341 208 1337 206 1333 205 1328 204 1323 205 1317 206 1313 207 1309 210 1305 213 1301 215 1299 219 1295 222 1293 226 1291 229 1289 234 1287 239 1285 243 1283 247 1282 253 1281 257 1280 263 1279 267 1278 273 1277 277 1276 282 1275 287 1273 291 1272 295 1270 299 1268 303 1266 307 1264 311 1262 315 1260 319 1258 323 1255 327 1253 331 1251 334 1249 338 1247 341 1245 345 1242 349 1240 353 1238 357 1235 361 1233 364 1231 368 1229 371 1227 375 1225 379 1222 383 1220 387 1218 391 1216 395 1213 399 1211 403 1209 407 1207 410 1205 414 1203 418 1201 421 1199 425 1197 429 1195 433 1192 437 1190 441 1187 445 1185 448 1183 451 1181 455 1178 459 1175 463 1173 466 1171 469 1169 473 1167 477 1165 482 1163 487 1161 491 1161Z" fill="url(#s20_7)"/>
<path d="M487 1162 493 1162 499 1162 504 1163 509 1165 512 1167 515 1169 518 1173 521 1176 523 1180 524 1185 525 1191 524 1197 522 1201 520 1205 517 1208 514 1211 511 1214 507 1216 503 1218 499 1220 495 1222 491 1223 486 1225 481 1226 477 1228 473 1229 469 1231 464 1233 460 1235 455 1237 451 1239 448 1241 444 1243 440 1245 436 1247 432 1249 429 1251 425 1253 421 1255 417 1257 413 1259 409 1262 405 1264 401 1266 397 1268 393 1271 389 1273 385 1275 382 1277 378 1279 375 1281 371 1283 367 1285 363 1288 359 1290 355 1293 351 1295 348 1297 345 1299 341 1301 337 1304 333 1306 329 1309 326 1311 323 1313 319 1316 315 1319 313 1321 309 1325 307 1327 303 1331 301 1333 298 1337 295 1340 292 1343 289 1345 285 1348 281 1351 278 1353 273 1355 269 1357 265 1358 259 1359 255 1359 249 1359 245 1359 239 1357 235 1356 231 1355 227 1353 223 1350 219 1348 215 1345 213 1342 210 1339 208 1335 207 1331 205 1325 205 1319 207 1313 209 1309 211 1305 213 1302 216 1299 219 1297 223 1294 227 1291 231 1289 235 1287 239 1286 243 1284 249 1283 253 1282 258 1281 263 1280 269 1279 273 1278 279 1277 283 1276 287 1274 291 1273 296 1271 301 1269 305 1267 309 1265 313 1263 316 1261 320 1259 323 1257 327 1255 331 1252 335 1250 339 1248 343 1245 347 1243 350 1241 354 1239 357 1237 361 1234 365 1232 369 1230 373 1227 377 1225 381 1223 384 1221 388 1219 392 1217 395 1215 399 1213 403 1211 407 1208 411 1206 415 1204 419 1202 423 1199 427 1197 431 1195 435 1193 438 1191 441 1189 445 1187 449 1184 453 1181 456 1179 459 1177 463 1174 467 1171 471 1169 475 1167 479 1165 483 1164 487 1162Z" fill="#ff7f0e" fill-opacity="0.146"/>
<path d="M485 1168 491 1167 497 1167 503 1168 507 1170 511 1173 513 1175 516 1179 518 1183 519 1187 519 1193 518 1197 516 1201 513 1205 511 1207 507 1210 503 1213 499 1215 495 1216 491 1217 486 1219 481 1220 477 1221 471 1223 467 1224 463 1226 459 1227 455 1229 451 1231 447 1233 443 1235 439 1237 435 1239 431 1241 427 1243 423 1246 419 1248 415 1250 411 1252 407 1254 403 1257 399 1259 395 1261 392 1263 388 1265 384 1267 381 1269 377 1271 373 1273 369 1276 365 1278 361 1280 357 1283 354 1285 350 1287 347 1289 343 1291 339 1294 335 1296 331 1299 328 1301 325 1303 321 1305 317 1308 314 1311 311 1314 308 1317 305 1320 303 1323 300 1327 297 1330 295 1333 291 1337 289 1339 285 1343 282 1345 279 1347 275 1350 271 1351 267 1353 261 1354 257 1355 251 1355 246 1355 241 1354 237 1352 232 1351 228 1349 225 1346 221 1343 218 1341 215 1337 213 1333 211 1329 211 1325 211 1320 212 1315 213 1311 216 1307 219 1303 221 1301 225 1297 229 1295 233 1293 237 1291 241 1289 245 1288 249 1287 255 1286 260 1285 265 1284 271 1283 276 1283 281 1282 287 1281 291 1280 295 1279 300 1277 305 1275 309 1273 313 1271 317 1269 321 1267 324 1265 328 1263 331 1261 335 1259 339 1256 343 1254 347 1251 351 1249 355 1247 358 1245 361 1243 365 1241 369 1238 373 1236 377 1234 381 1231 385 1229 389 1227 392 1225 396 1223 400 1221 403 1219 407 1217 411 1215 415 1212 419 1210 423 1208 427 1206 431 1203 435 1201 439 1199 442 1197 445 1195 449 1192 453 1189 456 1187 459 1184 463 1181 466 1179 469 1177 473 1174 477 1172 481 1170 485 1168Z" fill="#ff7f0e" fill-opacity="0.146"/>
<path d="M487 1173 493 1172 499 1172 503 1173 507 1176 510 1179 512 1183 514 1187 514 1193 512 1197 510 1201 507 1205 504 1207 501 1209 496 1211 491 1213 487 1213 481 1215 477 1215 471 1216 467 1217 461 1218 457 1219 453 1221 447 1223 443 1225 439 1227 435 1229 431 1231 427 1233 423 1235 419 1237 416 1239 412 1241 408 1243 405 1245 401 1247 397 1249 393 1251 389 1253 385 1256 381 1258 377 1260 373 1262 369 1265 365 1267 361 1269 358 1271 355 1273 351 1275 347 1277 343 1280 339 1282 335 1285 332 1287 329 1289 325 1292 321 1294 318 1297 315 1300 312 1303 309 1306 306 1309 304 1313 301 1317 299 1320 297 1323 294 1327 291 1331 289 1334 286 1337 283 1340 279 1343 276 1345 273 1347 268 1349 263 1351 259 1351 253 1352 247 1351 243 1351 237 1349 233 1347 229 1345 226 1343 223 1340 220 1337 218 1333 216 1329 215 1323 216 1317 217 1313 219 1309 222 1305 225 1302 229 1299 233 1297 236 1295 241 1293 245 1291 249 1290 255 1289 259 1288 265 1288 271 1287 277 1287 283 1287 287 1287 293 1286 299 1285 303 1284 308 1283 313 1281 317 1279 321 1277 325 1275 329 1273 333 1271 337 1269 340 1267 344 1265 347 1263 351 1260 355 1258 359 1256 363 1253 367 1251 370 1249 373 1247 377 1245 381 1242 385 1240 389 1238 393 1235 397 1233 401 1231 404 1229 408 1227 412 1225 415 1223 419 1221 423 1218 427 1216 431 1214 435 1212 439 1209 442 1207 445 1205 449 1202 452 1199 455 1196 458 1193 461 1190 464 1187 467 1185 471 1181 474 1179 477 1177 481 1175 486 1173Z" fill="#ff7f0e" fill-opacity="0.146"/>
<path d="M491 1177 497 1177 501 1178 505 1181 507 1183 509 1189 508 1195 506 1199 503 1202 499 1205 495 1206 491 1208 485 1209 481 1209 475 1209 471 1208 466 1207 464 1203 465 1198 467 1194 469 1191 472 1187 475 1185 479 1181 483 1179 487 1177 491 1177ZM253 1293 259 1292 265 1291 271 1291 277 1291 283 1292 288 1293 293 1294 297 1295 300 1299 300 1305 299 1309 297 1313 295 1318 293 1322 291 1325 288 1329 285 1333 283 1336 279 1339 277 1341 273 1343 269 1345 265 1347 259 1348 255 1349 250 1349 245 1348 240 1347 235 1345 232 1343 229 1341 225 1337 223 1334 221 1331 219 1325 219 1319 221 1313 223 1310 225 1307 229 1303 232 1301 235 1299 239 1297 244 1295 249 1293 253 1293Z" fill="#ff7f0e" fill-opacity="0.146"/>
<path d="M489 1183 495 1182 499 1184 501 1187 502 1193 500 1197 497 1199 493 1201 487 1202 481 1202 477 1199 476 1195 478 1191 481 1187 484 1185 488 1183ZM259 1295 265 1294 271 1295 275 1295 281 1296 285 1298 289 1301 291 1303 292 1309 291 1315 290 1319 288 1323 286 1327 283 1331 281 1333 277 1337 275 1339 271 1341 267 1343 262 1345 257 1346 251 1346 245 1345 241 1344 237 1342 233 1340 229 1337 227 1334 225 1331 223 1325 222 1321 223 1317 225 1313 228 1309 231 1305 234 1303 237 1301 242 1299 247 1297 251 1296 257 1295Z" fill="#ff7f0e" fill-opacity="0.146"/>
<path d="M251 1298 257 1297 263 1297 269 1298 274 1299 279 1300 282 1303 285 1305 287 1311 286 1317 285 1321 283 1325 281 1329 277 1333 275 1335 271 1338 267 1340 263 1342 259 1343 253 1343 247 1343 243 1342 239 1340 235 1338 231 1335 229 1331 227 1327 226 1323 227 1317 229 1313 231 1310 234 1307 237 1304 241 1302 245 1300 250 1299Z" fill="#ff7f0e" fill-opacity="0.146"/>
<path d="M253 1301 259 1300 265 1300 269 1301 274 1303 277 1305 281 1308 282 1313 282 1319 280 1323 278 1327 275 1331 273 1333 269 1336 265 1338 261 1340 256 1341 251 1341 247 1340 242 1339 238 1337 235 1334 232 1331 230 1327 229 1321 231 1315 233 1312 236 1309 239 1306 243 1304 247 1302 253 1301Z" fill="#ff7f0e" fill-opacity="0.146"/>
<path d="M259 1303 263 1303 269 1304 273 1306 275 1309 278 1313 278 1319 277 1323 275 1327 271 1331 269 1333 265 1336 261 1337 255 1338 249 1338 244 1337 240 1335 237 1332 234 1329 233 1324 233 1320 235 1315 237 1312 240 1309 243 1307 248 1305 253 1303 259 1303Z" fill="#ff7f0e" fill-opacity="0.146"/>
<path d="M251 1307 257 1306 263 1306 267 1307 271 1310 273 1313 274 1319 273 1324 271 1327 267 1331 264 1333 259 1335 255 1336 249 1335 245 1334 241 1331 238 1329 236 1325 236 1319 238 1315 241 1312 245 1309 249 1307Z" fill="#ff7f0e" fill-opacity="0.146"/>
<path d="M257 1309 261 1309 265 1311 269 1314 270 1319 269 1324 267 1327 263 1330 259 1332 253 1333 247 1331 243 1329 241 1325 240 1321 241 1317 245 1313 248 1311 253 1309 257 1309Z" fill="#ff7f0e" fill-opacity="0.146"/>
<path d="M255 1312 259 1313 263 1315 265 1319 264 1323 261 1327 257 1329 253 1329 249 1328 245 1325 244 1321 246 1317 249 1315 253 1313Z" fill="#ff7f0e" fill-opacity="0.146"/>
<path d="M499 1063 505 1062 511 1062 517 1062 521 1063 525 1065 529 1067 533 1069 537 1072 540 1075 543 1077 546 1081 549 1084 551 1087 553 1091 556 1095 558 1099 560 1103 561 1107 563 1111 565 1116 566 1121 567 1125 568 1131 569 1135 569 1141 569 1147 569 1153 569 1157 568 1163 567 1169 566 1173 565 1177 563 1182 561 1187 559 1191 557 1195 555 1198 553 1201 550 1205 547 1209 545 1212 542 1215 539 1217 535 1220 531 1223 528 1225 524 1227 519 1229 515 1230 511 1231 505 1232 499 1233 495 1233 489 1234 483 1234 479 1235 473 1236 467 1237 463 1237 457 1239 453 1239 447 1241 443 1241 437 1243 433 1244 427 1245 423 1246 418 1247 413 1248 408 1249 403 1250 399 1251 393 1252 389 1253 383 1254 379 1255 373 1256 369 1257 363 1258 359 1259 353 1261 349 1261 343 1263 339 1264 335 1265 329 1266 325 1268 321 1269 317 1271 313 1273 309 1275 305 1277 301 1280 297 1283 294 1285 291 1287 287 1290 283 1293 280 1295 277 1297 273 1299 269 1301 265 1303 260 1305 255 1306 251 1307 245 1308 239 1308 233 1307 228 1307 223 1305 219 1304 215 1302 211 1300 207 1298 203 1295 200 1293 197 1290 193 1287 191 1284 188 1281 185 1277 183 1274 181 1271 178 1267 176 1263 174 1259 173 1255 171 1250 169 1245 168 1241 167 1236 166 1231 165 1225 164 1221 164 1215 163 1209 163 1203 164 1197 164 1191 165 1187 166 1181 167 1177 168 1171 170 1167 171 1163 173 1158 175 1154 177 1150 179 1146 181 1142 183 1139 186 1135 189 1131 191 1129 195 1125 197 1123 201 1120 205 1117 208 1115 211 1113 215 1111 220 1109 225 1107 229 1106 235 1105 239 1104 245 1104 251 1104 257 1104 262 1105 267 1105 273 1106 278 1107 283 1107 289 1107 295 1107 301 1107 305 1106 311 1106 316 1105 321 1104 327 1103 331 1102 336 1101 341 1100 346 1099 351 1098 355 1097 361 1096 365 1095 371 1093 375 1093 381 1091 385 1090 391 1089 395 1088 401 1087 405 1086 411 1085 415 1084 421 1083 425 1082 431 1081 435 1080 440 1079 445 1078 449 1077 455 1075 459 1074 463 1073 469 1071 473 1070 477 1068 482 1067 487 1065 491 1064 497 1063Z" fill="url(#s100_0)"/>
<path d="M497 1078 503 1077 509 1077 515 1077 520 1079 525 1081 529 1083 531 1085 535 1087 538 1091 541 1094 543 1097 546 1101 548 1105 550 1109 552 1113 553 1117 555 1121 556 1127 557 1131 558 1137 558 1143 558 1149 558 1155 557 1161 556 1165 555 1171 553 1175 552 1179 550 1183 548 1187 546 1191 543 1195 541 1197 538 1201 535 1204 531 1207 528 1209 525 1211 521 1213 515 1215 511 1216 505 1217 501 1217 495 1217 489 1218 483 1218 477 1218 472 1219 467 1219 461 1220 457 1221 451 1222 447 1223 441 1224 437 1225 431 1226 427 1227 421 1229 417 1229 411 1231 407 1232 401 1233 397 1234 392 1235 387 1236 382 1237 377 1238 373 1239 367 1240 363 1241 357 1242 353 1243 347 1244 343 1245 337 1247 333 1248 329 1249 323 1250 319 1252 315 1253 311 1255 307 1257 303 1259 299 1262 295 1264 291 1267 288 1269 285 1271 281 1274 277 1277 274 1279 270 1281 266 1283 262 1285 257 1286 253 1287 247 1288 241 1288 235 1288 229 1287 225 1286 221 1284 217 1282 213 1280 209 1277 206 1275 203 1271 200 1269 197 1265 195 1262 193 1259 190 1255 188 1251 186 1247 185 1243 183 1237 182 1233 181 1229 180 1223 179 1217 179 1213 178 1207 179 1201 179 1197 180 1191 181 1185 182 1181 183 1177 185 1171 186 1167 188 1163 190 1159 193 1155 195 1151 197 1149 200 1145 203 1142 206 1139 209 1136 213 1133 217 1131 221 1129 225 1127 229 1126 233 1124 239 1123 243 1122 249 1122 255 1122 261 1122 266 1123 271 1123 277 1124 283 1124 287 1125 293 1125 297 1125 303 1124 309 1123 313 1123 319 1122 324 1121 329 1120 334 1119 339 1118 344 1117 349 1116 353 1115 359 1113 363 1113 369 1111 373 1111 379 1109 383 1108 389 1107 393 1106 399 1105 403 1104 409 1103 413 1102 419 1101 423 1100 428 1099 433 1098 438 1097 443 1095 447 1095 453 1093 457 1092 461 1091 466 1089 471 1087 475 1086 479 1084 483 1083 488 1081 493 1079 497 1078Z" fill="url(#s100_1)"/>
<path d="M505 1085 511 1085 515 1085 521 1087 525 1089 528 1091 531 1093 535 1096 537 1099 540 1103 542 1107 545 1111 547 1115 548 1119 550 1123 551 1127 552 1133 553 1139 553 1143 553 1149 553 1153 552 1159 551 1164 550 1169 548 1173 547 1177 545 1181 542 1185 540 1189 537 1193 535 1195 531 1199 528 1201 525 1203 521 1205 516 1207 511 1208 507 1209 501 1209 495 1210 489 1209 483 1209 477 1210 471 1210 465 1211 461 1211 455 1212 451 1213 445 1214 441 1215 435 1216 431 1217 425 1219 421 1219 415 1221 411 1221 405 1223 401 1224 395 1225 391 1226 386 1227 381 1228 377 1229 371 1230 367 1231 361 1232 357 1233 351 1234 347 1235 341 1236 337 1237 331 1239 327 1240 323 1241 318 1243 313 1245 309 1246 305 1248 301 1251 297 1253 294 1255 291 1257 287 1260 283 1263 280 1265 277 1267 273 1269 269 1272 265 1274 261 1275 257 1277 251 1278 245 1279 241 1279 237 1278 231 1277 227 1276 223 1274 219 1272 215 1270 211 1267 209 1265 205 1261 203 1258 200 1255 198 1251 195 1247 194 1243 192 1239 190 1235 189 1229 188 1225 187 1219 186 1215 186 1209 186 1203 187 1197 187 1193 188 1187 189 1183 191 1178 193 1173 194 1169 196 1165 199 1161 201 1158 203 1155 207 1151 209 1149 213 1145 216 1143 219 1141 223 1138 227 1137 231 1135 237 1133 241 1132 247 1131 253 1131 259 1131 265 1131 271 1132 276 1133 281 1133 287 1134 293 1134 299 1134 305 1133 309 1133 315 1132 320 1131 325 1130 330 1129 335 1128 340 1127 345 1126 349 1125 355 1124 359 1123 365 1121 369 1121 375 1119 379 1118 385 1117 389 1116 395 1115 399 1114 405 1113 409 1112 415 1111 419 1110 425 1109 429 1108 434 1107 439 1106 443 1105 449 1103 453 1102 457 1101 463 1099 467 1097 471 1096 475 1094 479 1092 483 1091 488 1089 493 1087 497 1086 503 1085Z" fill="url(#s100_2)"/>
<path d="M501 1091 507 1090 513 1090 517 1091 521 1093 525 1095 529 1097 533 1101 535 1103 537 1107 540 1111 542 1115 544 1119 545 1123 547 1127 548 1133 549 1139 549 1143 549 1149 549 1153 548 1159 547 1164 545 1169 544 1173 542 1177 540 1181 537 1185 535 1188 532 1191 529 1194 525 1197 522 1199 518 1201 513 1202 509 1203 503 1204 497 1204 491 1204 485 1203 479 1203 473 1203 467 1204 461 1205 457 1205 451 1206 447 1207 441 1208 437 1209 431 1210 427 1211 421 1212 417 1213 411 1215 407 1215 401 1217 397 1218 391 1219 387 1220 382 1221 377 1222 372 1223 367 1224 363 1225 357 1226 353 1227 347 1228 343 1229 337 1230 333 1231 328 1233 323 1234 319 1235 315 1237 310 1239 306 1241 302 1243 298 1245 295 1247 291 1250 287 1253 284 1255 281 1257 277 1260 273 1262 269 1265 265 1267 261 1269 257 1270 253 1271 247 1272 241 1272 235 1271 231 1270 227 1268 223 1266 219 1264 215 1261 212 1259 209 1255 207 1253 204 1249 201 1245 199 1241 197 1237 196 1233 195 1229 193 1223 193 1219 192 1213 192 1207 192 1201 193 1195 193 1191 195 1185 196 1181 197 1177 199 1173 201 1169 204 1165 206 1161 209 1158 212 1155 215 1152 219 1149 222 1147 225 1145 229 1143 235 1141 239 1139 243 1138 249 1138 255 1137 261 1137 267 1138 273 1139 277 1139 283 1140 289 1140 295 1140 301 1140 307 1140 313 1139 317 1138 323 1137 327 1136 333 1135 337 1134 343 1133 347 1132 353 1131 357 1130 363 1129 367 1128 373 1127 377 1126 382 1125 387 1124 391 1123 397 1122 401 1121 407 1119 411 1119 417 1117 421 1116 427 1115 431 1114 437 1113 441 1112 446 1111 451 1109 455 1108 459 1107 465 1105 469 1103 473 1101 477 1099 481 1097 485 1096 489 1094 493 1093 499 1091Z" fill="url(#s100_3)"/>
<path d="M503 1095 509 1094 514 1095 519 1096 523 1098 527 1101 529 1103 533 1106 535 1109 537 1113 539 1117 541 1121 543 1125 544 1131 545 1135 546 1141 546 1147 546 1153 545 1159 544 1163 543 1167 541 1172 539 1176 537 1179 535 1183 531 1187 529 1189 525 1192 521 1195 517 1197 513 1198 509 1199 503 1199 497 1199 491 1199 486 1199 481 1198 475 1198 469 1198 463 1199 459 1199 453 1200 449 1201 443 1202 439 1203 433 1204 429 1205 423 1206 419 1207 413 1208 409 1209 403 1210 399 1211 393 1213 389 1213 383 1215 379 1216 373 1217 369 1218 364 1219 359 1220 354 1221 349 1222 345 1223 339 1224 335 1225 329 1227 325 1228 321 1229 315 1231 311 1232 307 1234 303 1236 299 1239 295 1241 292 1243 289 1245 285 1248 281 1251 279 1253 275 1255 271 1258 267 1260 263 1262 259 1264 255 1265 249 1266 243 1266 237 1265 233 1264 228 1263 224 1261 221 1259 217 1255 214 1253 211 1249 209 1247 206 1243 204 1239 202 1235 200 1231 199 1225 198 1221 197 1215 197 1211 196 1205 197 1200 197 1195 199 1189 200 1185 201 1181 203 1177 205 1173 207 1169 210 1165 213 1161 215 1159 219 1156 223 1153 226 1151 229 1149 234 1147 239 1145 243 1144 249 1143 253 1142 259 1142 264 1143 269 1143 275 1144 280 1145 285 1145 291 1146 297 1146 303 1146 309 1145 313 1145 319 1144 323 1143 329 1142 334 1141 339 1140 343 1139 349 1138 353 1137 359 1135 363 1135 369 1133 373 1132 379 1131 383 1130 389 1129 393 1128 399 1127 403 1126 409 1125 413 1124 419 1123 423 1122 428 1121 433 1120 437 1119 443 1117 447 1116 452 1115 457 1113 461 1112 465 1110 469 1108 473 1106 477 1104 481 1102 485 1100 489 1099 494 1097 499 1095 503 1095Z" fill="url(#s100_4)"/>
<path d="M501 1099 507 1098 513 1098 517 1099 521 1101 525 1103 529 1107 531 1109 534 1113 536 1117 538 1121 540 1125 541 1129 542 1135 543 1139 543 1145 543 1151 543 1155 542 1161 540 1165 539 1169 537 1174 535 1177 532 1181 529 1185 527 1187 523 1190 519 1192 515 1194 511 1195 505 1196 499 1196 493 1195 487 1195 483 1194 477 1194 471 1193 465 1194 459 1194 454 1195 449 1196 443 1197 439 1198 433 1199 429 1200 424 1201 419 1202 414 1203 409 1204 405 1205 399 1206 395 1207 389 1208 385 1209 379 1210 375 1211 369 1212 365 1213 359 1215 355 1215 349 1217 345 1218 339 1219 335 1220 331 1221 325 1222 321 1224 317 1225 312 1227 307 1229 303 1231 300 1233 297 1235 293 1237 289 1240 285 1243 283 1245 279 1248 275 1251 271 1253 268 1255 264 1257 260 1259 255 1260 251 1261 245 1261 239 1261 235 1260 231 1258 227 1257 223 1254 219 1251 216 1249 213 1245 211 1242 209 1239 207 1235 205 1230 203 1225 202 1221 201 1215 201 1211 201 1205 201 1201 202 1195 203 1189 204 1185 206 1181 208 1177 210 1173 213 1169 215 1166 218 1163 221 1160 225 1157 228 1155 232 1153 236 1151 241 1149 245 1148 251 1147 256 1147 259 1147 265 1147 271 1148 276 1149 281 1149 287 1150 293 1151 297 1151 302 1151 307 1150 313 1150 319 1149 323 1148 329 1147 333 1146 339 1145 343 1144 349 1143 353 1142 359 1141 363 1140 368 1139 373 1138 378 1137 383 1136 387 1135 393 1134 397 1133 403 1131 407 1131 413 1129 417 1128 423 1127 427 1126 433 1125 437 1124 442 1123 447 1122 451 1120 456 1119 461 1117 465 1115 469 1113 473 1111 477 1109 481 1107 484 1105 489 1103 493 1101 497 1100 501 1099Z" fill="url(#s100_5)"/>
<path d="M499 1102 505 1101 511 1101 517 1103 521 1104 524 1107 527 1109 530 1113 533 1116 535 1119 537 1124 539 1129 540 1133 541 1139 541 1143 541 1149 541 1153 540 1159 539 1163 537 1168 535 1172 533 1175 530 1179 527 1183 524 1185 521 1187 517 1189 513 1191 507 1192 501 1192 495 1192 489 1191 485 1191 479 1190 473 1189 467 1189 461 1189 455 1190 449 1191 445 1191 439 1193 435 1193 429 1195 425 1195 419 1197 415 1198 410 1199 405 1200 400 1201 395 1202 391 1203 385 1204 381 1205 375 1206 371 1207 365 1208 361 1209 355 1210 351 1211 345 1213 341 1213 335 1215 331 1216 327 1217 321 1219 317 1220 313 1221 309 1223 305 1225 301 1227 297 1230 293 1233 290 1235 287 1237 283 1240 280 1243 277 1245 273 1248 269 1250 265 1252 261 1254 257 1255 251 1257 247 1257 241 1257 237 1256 233 1254 229 1253 225 1250 221 1247 218 1245 215 1241 213 1237 211 1234 209 1230 207 1225 206 1221 205 1215 204 1211 204 1205 205 1199 205 1195 207 1189 208 1185 210 1181 212 1177 215 1173 217 1170 220 1167 223 1164 227 1161 229 1159 233 1157 237 1155 243 1153 247 1152 253 1151 257 1151 261 1151 267 1151 273 1152 277 1153 283 1154 288 1155 293 1155 299 1155 305 1155 311 1155 315 1154 321 1153 325 1153 331 1152 335 1151 341 1150 345 1149 351 1147 355 1147 361 1145 365 1144 371 1143 375 1142 381 1141 385 1140 391 1139 395 1138 401 1137 405 1136 411 1135 415 1134 420 1133 425 1132 430 1131 435 1130 439 1129 445 1127 449 1126 453 1125 458 1123 462 1121 466 1119 470 1117 474 1115 477 1113 481 1111 485 1108 489 1106 493 1104 498 1103Z" fill="url(#s100_6)"/>
<path d="M503 1105 509 1104 513 1105 519 1107 522 1109 525 1111 529 1115 531 1117 533 1121 535 1125 537 1130 538 1135 539 1141 539 1145 539 1150 538 1155 537 1161 535 1165 534 1169 532 1173 529 1177 527 1179 523 1183 520 1185 516 1187 511 1188 507 1189 501 1189 495 1189 491 1188 485 1187 481 1186 475 1185 471 1185 465 1184 459 1185 455 1185 449 1186 443 1187 439 1188 433 1189 429 1190 424 1191 419 1192 414 1193 409 1194 405 1195 399 1196 395 1197 389 1198 385 1199 379 1200 375 1201 369 1202 365 1203 359 1204 355 1205 349 1207 345 1207 339 1209 335 1210 331 1211 325 1212 321 1214 317 1215 312 1217 308 1219 304 1221 301 1223 297 1225 293 1228 289 1231 287 1233 283 1236 279 1239 277 1241 273 1244 269 1246 265 1248 261 1250 257 1252 252 1253 247 1253 241 1253 237 1252 233 1250 229 1248 225 1245 222 1243 219 1239 217 1237 214 1233 212 1229 211 1225 209 1219 208 1215 208 1209 208 1203 209 1197 209 1193 211 1188 213 1183 215 1179 217 1176 219 1173 223 1169 225 1167 229 1164 233 1161 237 1159 241 1157 245 1156 250 1155 255 1154 261 1154 266 1155 271 1155 277 1157 281 1157 287 1159 291 1159 297 1160 303 1160 309 1160 315 1159 319 1159 325 1158 330 1157 335 1156 340 1155 345 1154 350 1153 355 1152 359 1151 365 1150 369 1149 375 1147 379 1147 385 1145 389 1144 395 1143 399 1142 405 1141 409 1140 415 1139 419 1138 425 1137 429 1136 434 1135 439 1134 443 1133 449 1131 453 1130 457 1128 461 1126 465 1124 469 1122 473 1119 477 1117 480 1115 483 1113 487 1111 491 1109 495 1107 501 1105Z" fill="url(#s100_7)"/>
<path d="M503 1106 509 1106 514 1107 519 1108 522 1111 525 1113 529 1117 531 1120 533 1124 535 1128 536 1133 537 1137 538 1143 538 1149 537 1155 536 1159 535 1163 533 1168 531 1172 529 1175 525 1179 523 1181 519 1184 515 1185 510 1187 505 1187 499 1187 493 1187 489 1186 484 1185 479 1184 474 1183 469 1182 463 1182 457 1182 451 1182 447 1183 441 1184 437 1185 431 1186 427 1187 421 1188 417 1189 411 1190 407 1191 401 1192 397 1193 391 1195 387 1195 381 1197 377 1197 371 1199 367 1200 361 1201 357 1202 352 1203 347 1204 343 1205 337 1206 333 1207 327 1209 323 1210 319 1211 315 1213 310 1215 306 1217 303 1219 299 1221 295 1224 291 1227 289 1229 285 1232 281 1235 279 1237 275 1240 271 1243 268 1245 264 1247 259 1249 255 1250 251 1251 245 1251 241 1250 235 1249 231 1247 228 1245 225 1242 221 1239 219 1236 217 1233 215 1229 213 1224 211 1219 210 1215 210 1209 210 1203 211 1197 211 1193 213 1189 215 1184 217 1180 219 1177 222 1173 225 1170 228 1167 231 1165 235 1162 239 1160 243 1159 249 1157 253 1156 259 1156 265 1157 269 1157 275 1158 279 1159 285 1161 289 1161 295 1162 300 1163 305 1163 309 1163 315 1162 321 1161 325 1161 331 1160 336 1159 341 1158 346 1157 351 1156 355 1155 361 1154 365 1153 371 1151 375 1151 381 1149 385 1148 391 1147 395 1146 401 1145 405 1144 411 1143 415 1142 421 1141 425 1140 430 1139 435 1138 439 1137 445 1135 449 1134 453 1133 457 1131 461 1129 465 1127 469 1124 473 1122 477 1119 480 1117 483 1115 487 1113 491 1110 495 1109 501 1107Z" fill="#ffbb78" fill-opacity="0.032"/>
<path d="M499 1110 505 1109 511 1109 517 1111 520 1113 523 1115 527 1118 529 1121 531 1125 533 1129 534 1135 535 1139 535 1145 535 1151 535 1155 533 1161 532 1165 530 1169 527 1173 525 1175 521 1179 518 1181 514 1183 509 1184 503 1185 497 1184 491 1183 487 1182 483 1181 477 1179 473 1178 467 1177 463 1176 457 1176 451 1176 447 1177 441 1178 436 1179 431 1180 426 1181 421 1182 416 1183 411 1184 407 1185 401 1186 397 1187 391 1188 387 1189 381 1190 377 1191 371 1192 367 1193 361 1195 357 1195 351 1197 347 1198 342 1199 337 1200 333 1201 327 1202 323 1204 319 1205 315 1207 310 1209 307 1211 303 1213 299 1216 295 1219 293 1221 289 1224 286 1227 283 1229 279 1233 276 1235 273 1237 269 1240 265 1242 261 1244 257 1246 252 1247 247 1247 243 1247 237 1245 233 1243 229 1241 227 1239 223 1235 221 1232 219 1228 217 1224 215 1219 214 1215 213 1209 213 1203 214 1197 215 1193 217 1188 219 1184 221 1181 224 1177 227 1173 229 1171 233 1168 237 1165 241 1163 245 1162 249 1161 255 1160 261 1160 267 1161 271 1161 277 1163 281 1164 285 1165 291 1166 295 1167 301 1168 307 1168 313 1168 319 1168 325 1167 329 1166 335 1165 339 1164 345 1163 349 1162 355 1161 359 1160 365 1159 369 1158 375 1157 379 1156 385 1155 389 1154 394 1153 399 1152 404 1151 409 1150 413 1149 419 1148 423 1147 429 1145 433 1144 439 1143 443 1142 447 1141 452 1139 457 1137 460 1135 464 1133 467 1131 471 1128 475 1125 477 1123 481 1120 485 1117 489 1115 493 1113 497 1111Z" fill="#ffbb78" fill-opacity="0.032"/>
<path d="M501 1113 507 1112 513 1112 517 1114 521 1116 524 1119 527 1122 529 1126 531 1130 532 1135 533 1139 533 1145 533 1151 533 1155 531 1161 529 1165 527 1169 525 1172 522 1175 519 1177 515 1179 511 1181 505 1182 499 1181 495 1181 489 1179 485 1178 481 1176 477 1175 471 1173 467 1171 463 1170 457 1169 453 1168 447 1169 443 1169 437 1170 431 1171 427 1172 421 1173 417 1174 412 1175 407 1176 402 1177 397 1178 393 1179 387 1180 383 1181 377 1182 373 1183 367 1184 363 1185 357 1186 353 1187 347 1189 343 1189 338 1191 333 1192 329 1193 325 1195 320 1197 316 1199 312 1201 309 1203 305 1205 301 1208 298 1211 295 1214 291 1217 289 1219 285 1223 283 1225 279 1228 276 1231 273 1233 269 1236 265 1239 261 1241 257 1242 253 1243 247 1243 242 1243 237 1241 233 1239 230 1237 227 1233 224 1231 222 1227 220 1223 219 1219 217 1213 217 1207 217 1201 218 1195 220 1191 221 1187 224 1183 226 1179 229 1176 232 1173 235 1171 239 1168 243 1166 247 1165 253 1163 259 1163 265 1164 270 1165 275 1166 279 1167 283 1169 289 1171 293 1172 297 1173 303 1174 307 1175 313 1176 319 1176 325 1175 330 1175 335 1174 341 1173 345 1172 351 1171 355 1170 361 1169 365 1168 371 1167 375 1166 380 1165 385 1164 390 1163 395 1162 399 1161 405 1160 409 1159 415 1157 419 1157 425 1155 429 1154 435 1153 439 1152 443 1151 447 1149 452 1147 455 1145 459 1142 463 1139 466 1137 469 1134 473 1131 475 1129 479 1126 482 1123 485 1121 489 1118 493 1116 497 1114 501 1113Z" fill="#ffbb78" fill-opacity="0.032"/>
<path d="M505 1115 511 1115 515 1116 519 1118 522 1121 525 1124 527 1127 529 1131 530 1137 531 1141 531 1147 531 1153 530 1157 529 1161 527 1165 524 1169 521 1173 518 1175 514 1177 509 1178 505 1179 500 1179 495 1178 491 1176 486 1175 482 1173 478 1171 474 1169 471 1166 467 1164 463 1161 461 1157 462 1151 464 1147 467 1144 469 1141 472 1137 475 1134 478 1131 481 1128 484 1125 487 1123 491 1120 495 1118 499 1116 504 1115ZM255 1167 261 1167 265 1167 271 1168 275 1170 279 1171 283 1173 287 1175 291 1177 295 1179 299 1181 303 1184 306 1187 306 1193 303 1197 301 1200 299 1203 295 1207 293 1209 290 1213 287 1216 284 1219 281 1222 278 1225 275 1228 271 1231 269 1233 265 1235 261 1237 257 1239 251 1240 245 1239 241 1238 237 1237 233 1234 229 1231 227 1228 225 1224 223 1220 221 1215 220 1211 220 1205 221 1200 222 1195 223 1191 225 1187 228 1183 231 1179 233 1177 237 1174 241 1171 245 1169 249 1168 254 1167Z" fill="#ffbb78" fill-opacity="0.032"/>
<path d="M501 1118 507 1117 513 1118 517 1120 521 1123 523 1125 525 1129 527 1133 529 1138 529 1143 529 1149 529 1153 527 1159 525 1163 523 1167 521 1169 517 1173 513 1175 509 1176 503 1176 497 1175 493 1174 489 1172 485 1170 481 1168 477 1165 475 1162 472 1159 470 1155 471 1149 472 1145 475 1141 477 1138 479 1135 482 1131 485 1128 489 1125 492 1123 495 1121 499 1119ZM251 1171 257 1170 263 1170 267 1171 272 1173 277 1175 281 1177 284 1179 287 1181 291 1184 293 1187 295 1191 295 1195 293 1201 291 1204 289 1207 286 1211 283 1215 281 1217 278 1221 275 1224 271 1227 269 1229 265 1232 261 1234 257 1235 251 1236 245 1236 241 1234 237 1232 233 1229 231 1227 228 1223 226 1219 225 1215 224 1209 224 1203 225 1197 226 1193 228 1189 230 1185 233 1182 236 1179 239 1176 243 1174 247 1172 251 1171Z" fill="#ffbb78" fill-opacity="0.032"/>
<path d="M503 1120 509 1120 513 1121 517 1123 521 1126 523 1129 525 1133 527 1138 527 1143 527 1149 527 1153 525 1159 523 1163 521 1166 518 1169 515 1171 510 1173 505 1173 499 1173 495 1172 491 1170 487 1167 483 1165 481 1162 478 1159 477 1155 476 1149 477 1145 479 1141 481 1137 485 1133 487 1130 491 1127 493 1125 497 1123 502 1121ZM249 1175 255 1173 261 1173 267 1175 271 1176 275 1178 279 1181 281 1183 285 1186 287 1190 288 1195 287 1201 285 1205 283 1209 281 1212 279 1215 275 1219 273 1221 269 1225 266 1227 263 1229 259 1231 253 1232 247 1232 242 1231 238 1229 235 1226 232 1223 230 1219 228 1215 227 1209 227 1203 228 1197 230 1193 232 1189 235 1185 237 1182 241 1179 244 1177 249 1175Z" fill="#ffbb78" fill-opacity="0.032"/>
<path d="M507 1123 511 1123 515 1125 519 1128 521 1131 523 1135 525 1139 525 1145 525 1151 524 1155 523 1159 520 1163 517 1166 513 1169 509 1170 503 1171 497 1169 493 1167 489 1165 487 1163 483 1159 481 1155 481 1149 482 1143 484 1139 487 1135 489 1132 493 1129 495 1127 499 1125 505 1123ZM249 1178 255 1177 261 1177 267 1178 271 1180 274 1183 277 1185 280 1189 282 1193 282 1199 281 1204 279 1208 277 1211 274 1215 271 1219 269 1221 265 1224 261 1226 257 1228 253 1229 249 1229 243 1227 239 1225 237 1222 234 1219 232 1215 231 1209 231 1203 232 1197 234 1193 236 1189 239 1185 241 1183 245 1180 249 1178Z" fill="#ffbb78" fill-opacity="0.032"/>
<path d="M503 1126 509 1126 513 1127 517 1129 520 1133 522 1137 523 1141 523 1147 523 1151 521 1157 519 1161 517 1163 513 1166 509 1167 503 1168 499 1167 495 1165 491 1162 488 1159 486 1155 485 1149 486 1143 488 1139 491 1135 493 1132 497 1129 501 1127ZM255 1181 260 1181 265 1182 269 1184 272 1187 275 1190 277 1195 277 1199 276 1203 275 1207 273 1211 270 1215 267 1218 263 1221 260 1223 255 1225 251 1225 247 1224 243 1222 239 1219 237 1215 235 1211 235 1207 235 1202 236 1197 238 1193 241 1189 243 1186 247 1183 251 1182 255 1181Z" fill="#ffbb78" fill-opacity="0.032"/>
<path d="M507 1129 511 1129 515 1131 518 1135 520 1139 521 1143 521 1149 520 1153 518 1157 515 1161 512 1163 507 1165 501 1164 497 1162 493 1159 491 1156 489 1151 489 1145 491 1140 493 1137 497 1133 500 1131 505 1129ZM251 1186 257 1185 263 1186 267 1188 269 1191 271 1195 272 1201 271 1206 269 1210 267 1213 263 1216 259 1219 255 1220 249 1220 245 1218 242 1215 240 1211 239 1205 239 1203 240 1197 243 1193 245 1190 249 1187Z" fill="#ffbb78" fill-opacity="0.032"/>
<path d="M505 1132 510 1133 514 1135 517 1139 518 1143 518 1149 517 1153 515 1157 511 1160 507 1161 503 1161 498 1159 495 1155 493 1151 493 1145 495 1140 497 1137 501 1134 505 1132ZM253 1191 259 1190 263 1192 265 1195 267 1201 265 1207 263 1210 260 1213 256 1215 251 1215 247 1213 245 1209 244 1205 245 1199 247 1195 249 1193 253 1191Z" fill="#ffbb78" fill-opacity="0.032"/>
<path d="M507 1137 511 1138 513 1141 515 1146 514 1149 513 1153 509 1156 503 1156 499 1153 497 1149 498 1143 501 1139 505 1137ZM255 1201 255 1201 257 1203 257 1203 257 1203 255 1204 253 1203 254 1201 255 1201Z" fill="#ffbb78" fill-opacity="0.032"/>
<path d="M239 1031 245 1030 251 1029 257 1029 263 1030 267 1031 273 1033 277 1034 281 1036 285 1037 289 1039 293 1041 297 1043 303 1045 307 1046 313 1047 317 1047 323 1047 328 1047 333 1046 339 1046 345 1046 351 1045 355 1045 361 1044 367 1044 373 1043 379 1043 383 1042 389 1042 395 1041 401 1041 405 1040 411 1040 417 1039 423 1039 427 1038 433 1038 439 1037 445 1037 449 1036 455 1036 461 1035 465 1034 471 1034 477 1033 481 1033 487 1032 493 1032 499 1031 505 1031 511 1031 517 1031 523 1031 529 1032 533 1033 537 1035 542 1037 546 1039 549 1041 553 1044 556 1047 559 1050 561 1053 563 1057 566 1061 567 1065 569 1069 570 1075 570 1081 570 1087 569 1093 568 1097 566 1101 564 1105 561 1109 559 1112 557 1115 553 1119 550 1121 547 1123 543 1126 539 1128 535 1129 531 1131 525 1132 521 1133 515 1134 509 1135 505 1135 499 1136 493 1136 487 1136 483 1137 477 1137 471 1138 465 1138 459 1139 455 1139 449 1139 443 1140 437 1140 433 1141 427 1141 421 1142 415 1142 410 1143 405 1143 399 1144 393 1144 387 1145 383 1145 377 1146 371 1146 365 1147 361 1147 355 1148 349 1148 343 1149 339 1149 333 1150 327 1151 323 1152 318 1153 313 1155 309 1157 305 1159 302 1161 299 1163 295 1165 291 1168 287 1171 283 1173 279 1175 275 1177 271 1178 267 1179 261 1180 257 1181 251 1181 245 1181 241 1180 235 1179 231 1178 227 1176 223 1174 219 1172 215 1170 211 1167 208 1165 205 1162 201 1159 199 1156 195 1153 193 1149 191 1146 188 1143 186 1139 184 1135 183 1130 181 1125 180 1121 179 1115 179 1109 179 1103 179 1097 180 1091 181 1087 183 1083 185 1078 187 1073 189 1070 191 1066 193 1063 196 1059 199 1055 201 1053 205 1049 207 1047 211 1044 215 1041 218 1039 222 1037 226 1035 231 1033 235 1032 239 1031Z" fill="url(#s1000_0)"/>
<path d="M493 1041 499 1040 505 1040 511 1040 517 1040 522 1041 527 1041 531 1043 537 1045 540 1047 544 1049 547 1051 550 1055 553 1058 555 1061 557 1065 559 1069 560 1075 561 1081 560 1087 559 1093 557 1097 555 1101 553 1105 551 1107 547 1111 545 1113 541 1116 537 1118 533 1120 529 1121 524 1123 519 1124 513 1125 509 1125 503 1126 497 1126 491 1127 487 1127 481 1127 475 1128 469 1128 463 1129 459 1129 453 1129 447 1130 441 1130 436 1131 431 1131 425 1132 419 1132 413 1133 409 1133 403 1134 397 1134 391 1135 387 1135 381 1135 375 1136 369 1136 365 1137 359 1137 353 1138 347 1138 343 1139 337 1139 331 1140 326 1141 321 1142 315 1143 311 1144 307 1145 303 1147 299 1149 295 1151 291 1153 287 1155 283 1158 279 1160 275 1162 271 1163 266 1165 261 1166 255 1167 251 1167 247 1167 241 1166 236 1165 231 1163 227 1161 223 1159 219 1157 215 1155 212 1153 209 1150 205 1147 203 1144 200 1141 197 1137 195 1133 193 1129 191 1125 190 1121 189 1115 189 1111 188 1105 189 1101 190 1095 191 1091 193 1085 195 1081 197 1077 199 1074 201 1071 204 1067 207 1064 210 1061 213 1059 217 1056 221 1053 225 1051 229 1049 233 1047 237 1046 241 1045 247 1044 253 1043 259 1044 264 1045 269 1046 273 1047 278 1049 283 1050 287 1052 291 1053 296 1055 301 1056 307 1057 311 1057 317 1057 323 1057 327 1057 333 1056 339 1056 345 1055 351 1055 355 1055 361 1054 367 1053 373 1053 377 1053 383 1052 389 1052 395 1051 400 1051 405 1050 411 1050 417 1049 422 1049 427 1048 433 1048 439 1047 443 1047 449 1046 455 1045 459 1045 465 1044 471 1043 475 1042 481 1042 487 1041 492 1041Z" fill="url(#s1000_1)"/>
<path d="M499 1045 505 1044 511 1044 516 1045 521 1045 527 1046 531 1048 535 1049 539 1051 543 1054 546 1057 549 1060 551 1063 553 1067 555 1073 556 1077 556 1083 555 1089 554 1093 552 1097 550 1101 547 1105 545 1107 541 1110 537 1113 533 1115 529 1116 525 1118 521 1119 515 1120 509 1121 505 1121 499 1122 493 1122 487 1122 481 1123 477 1123 471 1123 465 1124 459 1124 453 1124 448 1125 443 1125 437 1126 431 1126 425 1127 421 1127 415 1127 409 1128 403 1128 399 1129 393 1129 387 1130 381 1130 377 1131 371 1131 365 1132 359 1132 354 1133 349 1133 343 1134 337 1134 333 1135 327 1135 321 1136 317 1137 311 1138 307 1140 303 1141 299 1143 294 1145 290 1147 286 1149 283 1151 279 1153 274 1155 269 1157 265 1158 261 1159 255 1160 249 1160 243 1159 239 1158 233 1157 229 1155 225 1154 221 1151 217 1149 214 1147 211 1144 207 1141 205 1138 202 1135 199 1131 197 1127 196 1123 195 1119 194 1113 193 1107 194 1101 195 1095 196 1091 198 1087 199 1083 202 1079 205 1075 207 1072 210 1069 213 1066 217 1063 220 1061 223 1059 227 1057 231 1055 237 1053 241 1052 246 1051 251 1050 257 1050 261 1051 267 1052 271 1053 276 1055 281 1056 285 1057 289 1059 295 1060 299 1061 305 1062 311 1062 317 1062 323 1062 329 1062 335 1061 341 1061 345 1060 351 1060 357 1059 363 1059 367 1059 373 1058 379 1058 385 1057 389 1057 395 1056 401 1056 407 1055 412 1055 417 1054 423 1054 429 1053 433 1053 439 1052 445 1051 449 1051 455 1050 461 1049 465 1048 471 1047 477 1047 481 1046 487 1045 493 1045 497 1045Z" fill="url(#s1000_2)"/>
<path d="M487 1049 493 1048 499 1048 505 1048 511 1048 517 1048 522 1049 527 1050 531 1051 535 1053 539 1055 543 1059 545 1061 547 1065 550 1069 551 1073 552 1079 552 1085 551 1091 549 1095 547 1099 545 1102 542 1105 539 1107 535 1110 531 1112 527 1114 523 1115 517 1116 513 1117 507 1118 501 1118 495 1119 491 1119 485 1119 479 1119 473 1120 467 1120 461 1120 455 1121 451 1121 445 1121 439 1122 433 1122 428 1123 423 1123 417 1124 411 1124 405 1125 401 1125 395 1126 389 1126 383 1127 379 1127 373 1127 367 1128 361 1128 357 1129 351 1129 345 1130 339 1130 335 1131 329 1131 323 1132 319 1133 313 1134 309 1135 303 1137 299 1138 295 1140 291 1142 287 1144 283 1146 279 1148 275 1150 271 1151 267 1153 261 1154 257 1155 251 1155 245 1155 241 1154 235 1153 231 1151 227 1150 223 1148 219 1145 215 1143 212 1141 209 1137 207 1135 204 1131 201 1127 200 1123 198 1119 197 1113 197 1107 197 1101 198 1095 200 1091 201 1087 204 1083 206 1079 209 1076 212 1073 215 1070 219 1067 222 1065 225 1063 229 1061 233 1059 239 1057 243 1056 249 1055 255 1055 261 1055 267 1057 271 1058 275 1059 281 1060 285 1062 289 1063 295 1064 299 1065 305 1065 311 1066 317 1066 323 1066 329 1065 335 1065 339 1065 345 1064 351 1064 357 1063 361 1063 367 1062 373 1062 379 1061 385 1061 389 1060 395 1060 401 1059 407 1059 411 1058 417 1058 423 1057 429 1057 433 1056 439 1056 445 1055 449 1054 455 1053 459 1053 465 1052 471 1051 475 1050 481 1049 486 1049Z" fill="url(#s1000_3)"/>
<path d="M493 1051 499 1050 505 1050 511 1050 517 1051 521 1051 527 1053 531 1054 535 1056 538 1059 541 1061 544 1065 546 1069 548 1073 549 1077 549 1083 549 1087 547 1093 545 1097 543 1100 540 1103 537 1105 533 1108 529 1110 525 1111 520 1113 515 1114 509 1115 505 1115 499 1116 493 1116 487 1116 481 1117 477 1117 471 1117 465 1117 459 1118 453 1118 447 1118 441 1119 437 1119 431 1119 425 1120 419 1120 415 1121 409 1121 403 1122 397 1122 392 1123 387 1123 381 1124 375 1124 369 1125 365 1125 359 1126 353 1126 347 1127 343 1127 337 1128 331 1128 327 1129 321 1130 315 1131 311 1131 306 1133 301 1134 297 1136 293 1138 289 1139 285 1141 281 1143 277 1145 273 1147 267 1149 263 1150 259 1151 253 1151 247 1151 242 1151 237 1150 233 1148 228 1147 224 1145 220 1143 217 1140 213 1137 211 1135 207 1131 205 1127 203 1123 201 1119 200 1115 200 1109 200 1103 201 1097 202 1093 204 1089 206 1085 209 1081 211 1078 214 1075 217 1072 221 1069 225 1067 228 1065 233 1063 237 1061 241 1060 247 1059 251 1059 256 1059 261 1059 267 1060 271 1061 277 1063 281 1064 285 1065 291 1066 295 1067 301 1068 306 1069 311 1069 317 1069 322 1069 327 1068 333 1068 339 1068 345 1067 349 1067 355 1066 361 1066 367 1065 373 1065 377 1064 383 1064 389 1063 395 1063 399 1062 405 1062 411 1061 417 1061 421 1061 427 1060 433 1059 438 1059 443 1058 449 1057 453 1056 459 1055 463 1055 469 1054 475 1053 479 1052 485 1051 491 1051Z" fill="url(#s1000_4)"/>
<path d="M493 1053 499 1052 505 1052 511 1052 516 1053 521 1053 525 1055 531 1057 534 1059 537 1061 541 1064 543 1067 545 1071 546 1077 547 1081 547 1085 545 1091 543 1095 541 1098 538 1101 535 1104 531 1106 527 1108 523 1110 519 1111 513 1112 508 1113 503 1113 497 1114 491 1114 485 1114 479 1114 473 1115 467 1115 463 1115 457 1115 451 1115 445 1116 439 1116 433 1117 429 1117 423 1118 417 1118 411 1119 407 1119 401 1119 395 1120 389 1120 385 1121 379 1121 373 1122 367 1122 362 1123 357 1123 351 1124 345 1124 339 1125 335 1125 329 1126 323 1127 319 1127 313 1128 309 1129 303 1131 299 1132 295 1134 291 1136 287 1137 283 1139 279 1141 275 1143 270 1145 265 1146 261 1147 255 1148 249 1148 243 1148 237 1147 233 1146 229 1144 225 1142 221 1140 217 1137 214 1135 211 1131 209 1128 206 1125 205 1121 203 1115 202 1111 202 1105 203 1099 204 1095 205 1091 208 1087 210 1083 213 1080 216 1077 219 1074 223 1071 227 1069 231 1067 235 1065 239 1064 243 1063 249 1062 255 1062 261 1062 265 1063 271 1064 275 1065 281 1067 285 1068 289 1069 295 1070 300 1071 305 1071 311 1071 317 1071 323 1071 329 1071 333 1071 339 1070 345 1070 351 1069 357 1069 361 1068 367 1068 373 1067 379 1067 383 1066 389 1066 395 1065 401 1065 405 1065 411 1064 417 1063 423 1063 427 1063 433 1062 439 1061 443 1061 449 1060 454 1059 459 1058 465 1057 469 1056 475 1055 479 1054 485 1053 491 1053Z" fill="url(#s1000_5)"/>
<path d="M493 1055 499 1054 505 1054 511 1054 516 1055 521 1056 525 1057 530 1059 533 1061 537 1063 540 1067 542 1071 544 1075 545 1081 544 1087 543 1091 541 1095 537 1099 535 1101 531 1104 527 1106 523 1108 519 1109 513 1110 508 1111 503 1111 497 1112 491 1112 485 1112 479 1112 473 1112 467 1113 461 1113 457 1113 451 1113 445 1113 439 1114 433 1114 428 1115 423 1115 417 1116 411 1116 405 1117 401 1117 395 1118 389 1118 383 1119 379 1119 373 1119 367 1120 361 1120 357 1121 351 1121 345 1122 339 1122 335 1123 329 1123 323 1124 319 1125 313 1126 309 1127 303 1129 299 1130 295 1131 291 1133 287 1135 283 1137 278 1139 274 1141 269 1143 265 1144 261 1145 255 1146 249 1146 243 1145 239 1145 233 1143 229 1141 225 1139 221 1137 218 1135 215 1132 212 1129 209 1125 207 1121 205 1117 204 1113 204 1107 205 1101 205 1097 207 1093 209 1089 212 1085 215 1081 217 1079 221 1075 225 1073 228 1071 232 1069 237 1067 241 1066 246 1065 251 1064 257 1064 261 1065 267 1066 272 1067 277 1068 281 1069 287 1071 291 1071 297 1073 301 1073 307 1074 313 1074 319 1074 325 1074 331 1073 337 1073 341 1072 347 1072 353 1071 359 1071 363 1071 369 1070 375 1070 381 1069 385 1069 391 1068 397 1068 403 1067 408 1067 413 1066 419 1066 425 1065 429 1065 435 1064 441 1063 445 1063 451 1062 455 1061 461 1060 465 1059 471 1058 476 1057 481 1056 487 1055 491 1055Z" fill="url(#s1000_6)"/>
<path d="M489 1057 495 1056 501 1056 507 1056 513 1056 517 1057 523 1058 527 1059 531 1061 535 1064 537 1067 540 1071 542 1075 543 1081 542 1087 540 1091 538 1095 535 1099 532 1101 529 1103 525 1105 519 1107 515 1108 510 1109 505 1109 499 1110 493 1110 487 1110 481 1110 475 1110 469 1111 463 1111 458 1111 453 1111 447 1111 441 1112 435 1112 429 1112 425 1113 419 1113 413 1114 407 1114 402 1115 397 1115 391 1116 385 1116 379 1117 375 1117 369 1118 363 1118 357 1119 353 1119 347 1119 341 1120 335 1121 331 1121 325 1122 319 1123 315 1123 309 1125 305 1126 301 1127 296 1129 291 1131 287 1133 283 1134 279 1136 275 1138 271 1140 267 1141 261 1142 257 1143 251 1144 245 1143 241 1143 235 1141 231 1140 227 1138 223 1136 219 1133 216 1131 213 1127 211 1124 209 1120 207 1115 206 1111 206 1105 207 1100 208 1095 210 1091 213 1087 215 1084 218 1081 221 1078 225 1075 229 1073 233 1071 237 1069 241 1068 247 1067 251 1067 257 1067 261 1067 267 1068 271 1069 277 1070 281 1071 286 1073 291 1074 296 1075 301 1075 307 1076 313 1076 319 1076 325 1076 331 1075 337 1075 341 1075 347 1074 353 1074 359 1073 364 1073 369 1072 375 1072 381 1071 387 1071 391 1070 397 1070 403 1069 409 1069 413 1068 419 1068 425 1067 430 1067 435 1066 441 1065 445 1065 451 1064 455 1063 461 1062 465 1061 471 1060 475 1059 481 1058 487 1057Z" fill="url(#s1000_7)"/>
<path d="M503 1057 507 1057 513 1057 519 1058 523 1059 527 1061 531 1063 535 1066 537 1069 539 1073 541 1077 541 1083 541 1087 539 1091 537 1095 533 1099 530 1101 527 1103 522 1105 517 1106 513 1107 507 1108 501 1109 497 1109 491 1109 485 1109 479 1109 473 1109 467 1109 461 1109 455 1110 449 1110 443 1110 437 1111 433 1111 427 1111 421 1112 415 1112 410 1113 405 1113 399 1114 393 1114 387 1115 383 1115 377 1116 371 1116 365 1117 361 1117 355 1117 349 1118 343 1119 339 1119 333 1119 327 1120 323 1121 317 1122 311 1123 307 1124 303 1125 298 1127 293 1129 289 1130 285 1132 281 1134 277 1136 273 1138 269 1139 263 1141 259 1142 253 1142 247 1142 241 1141 237 1141 231 1139 227 1137 223 1135 220 1133 217 1130 214 1127 211 1123 209 1119 208 1115 207 1109 207 1103 209 1097 210 1093 213 1089 215 1086 217 1083 221 1080 225 1077 228 1075 232 1073 237 1071 241 1069 245 1069 251 1068 257 1068 263 1068 267 1069 273 1070 277 1071 282 1073 287 1074 291 1075 297 1076 301 1077 307 1077 313 1077 319 1077 325 1077 331 1077 335 1076 341 1076 347 1075 353 1075 357 1075 363 1074 369 1074 375 1073 379 1073 385 1072 391 1072 397 1071 402 1071 407 1070 413 1070 419 1069 424 1069 429 1068 435 1067 440 1067 445 1066 451 1065 455 1064 461 1063 465 1062 470 1061 475 1060 481 1059 485 1058 491 1057 497 1057 501 1057Z" fill="#2ca02c" fill-opacity="0.087"/>
<path d="M487 1061 493 1060 499 1059 505 1059 511 1060 517 1061 521 1062 525 1063 529 1065 533 1069 535 1071 537 1075 538 1081 537 1087 535 1091 533 1094 530 1097 527 1099 523 1101 519 1103 513 1104 509 1105 503 1106 497 1106 491 1106 485 1106 479 1106 473 1106 467 1106 461 1106 455 1106 449 1106 443 1106 437 1107 433 1107 427 1107 421 1108 415 1108 411 1109 405 1109 399 1110 393 1110 387 1111 383 1111 377 1112 371 1112 365 1113 361 1113 355 1114 349 1114 343 1115 339 1115 333 1116 327 1116 323 1117 317 1118 312 1119 307 1120 303 1121 298 1123 293 1125 289 1127 285 1129 281 1130 277 1132 273 1134 269 1135 265 1137 259 1138 253 1139 249 1139 245 1139 239 1138 235 1136 230 1135 226 1133 223 1130 219 1127 217 1125 214 1121 212 1117 211 1112 210 1107 211 1102 212 1097 214 1093 216 1089 219 1086 222 1083 225 1081 229 1078 233 1076 237 1074 242 1073 247 1072 253 1071 259 1071 265 1072 269 1073 275 1074 279 1075 284 1077 289 1078 293 1079 299 1080 304 1081 309 1081 315 1081 321 1081 327 1081 331 1081 337 1080 343 1080 349 1079 355 1079 359 1078 365 1078 371 1077 377 1077 381 1076 387 1076 393 1075 399 1075 403 1075 409 1074 415 1073 421 1073 425 1072 431 1072 437 1071 441 1070 447 1069 451 1068 457 1067 461 1066 466 1065 471 1064 475 1063 481 1062 486 1061Z" fill="#2ca02c" fill-opacity="0.087"/>
<path d="M491 1063 497 1062 503 1062 509 1062 513 1063 519 1064 523 1065 527 1068 530 1071 533 1074 534 1079 534 1085 533 1089 530 1093 527 1096 523 1098 519 1100 515 1101 509 1102 505 1103 499 1103 493 1104 487 1104 481 1104 475 1103 469 1103 463 1103 459 1103 453 1102 447 1102 441 1103 437 1103 431 1103 425 1103 419 1104 413 1104 409 1105 403 1105 397 1106 391 1106 386 1107 381 1107 375 1108 369 1108 363 1109 359 1109 353 1110 347 1110 341 1111 337 1111 331 1112 325 1112 321 1113 315 1114 311 1115 305 1117 301 1118 297 1120 293 1121 289 1123 285 1125 281 1127 277 1129 273 1131 267 1133 263 1134 259 1135 253 1136 247 1136 241 1135 237 1134 233 1132 229 1131 225 1128 221 1125 219 1122 216 1119 214 1115 213 1109 213 1103 215 1098 217 1094 219 1091 222 1087 225 1084 229 1081 233 1079 237 1077 241 1076 247 1075 251 1074 257 1074 261 1075 267 1076 272 1077 277 1078 281 1079 286 1081 291 1082 295 1083 301 1084 307 1085 311 1085 317 1085 323 1085 329 1085 333 1085 339 1084 345 1084 351 1083 356 1083 361 1082 367 1082 373 1081 379 1081 383 1080 389 1080 395 1079 401 1079 405 1078 411 1078 417 1077 423 1077 427 1076 433 1076 438 1075 443 1074 448 1073 453 1072 457 1070 463 1069 467 1068 471 1067 477 1065 481 1064 487 1063 491 1063Z" fill="#2ca02c" fill-opacity="0.087"/>
<path d="M495 1065 501 1064 507 1064 511 1065 517 1066 521 1068 525 1070 528 1073 530 1077 531 1081 531 1085 529 1089 525 1093 523 1095 519 1097 513 1099 509 1100 503 1101 499 1101 493 1101 487 1101 481 1101 477 1101 471 1100 465 1099 459 1099 455 1099 449 1098 443 1098 437 1098 431 1098 425 1099 421 1099 415 1099 409 1100 403 1100 399 1101 393 1101 387 1102 381 1102 375 1103 371 1103 365 1104 359 1104 353 1105 349 1105 343 1106 337 1106 332 1107 327 1107 321 1108 317 1109 311 1111 307 1112 303 1114 299 1115 295 1117 291 1119 287 1121 283 1123 279 1125 275 1127 270 1129 265 1131 261 1132 255 1133 251 1133 246 1133 241 1132 236 1131 231 1129 228 1127 225 1125 221 1121 219 1117 217 1113 216 1109 216 1103 217 1099 219 1095 222 1091 225 1088 229 1085 232 1083 236 1081 241 1079 245 1078 251 1077 257 1077 263 1078 268 1079 273 1080 277 1081 283 1083 287 1084 291 1085 296 1087 301 1088 306 1089 311 1089 317 1090 323 1090 329 1090 335 1089 341 1089 345 1089 351 1088 357 1088 363 1087 367 1087 373 1086 379 1086 385 1085 390 1085 395 1084 401 1084 407 1083 412 1083 417 1082 423 1082 429 1081 433 1080 439 1079 443 1078 448 1077 453 1075 457 1074 461 1073 467 1071 471 1070 475 1068 481 1067 485 1066 491 1065 495 1065Z" fill="#2ca02c" fill-opacity="0.087"/>
<path d="M485 1069 491 1067 497 1067 503 1067 509 1067 515 1068 519 1070 523 1072 525 1075 527 1079 527 1085 525 1089 523 1091 519 1094 515 1096 511 1097 505 1098 499 1099 495 1099 490 1099 485 1098 479 1098 473 1097 469 1097 463 1095 459 1095 453 1093 449 1092 443 1091 440 1089 443 1086 447 1083 451 1081 455 1080 459 1078 463 1076 467 1074 471 1073 476 1071 481 1069 485 1069ZM247 1080 253 1080 259 1080 265 1081 269 1082 273 1083 279 1084 283 1086 287 1087 291 1089 296 1091 301 1092 305 1094 309 1095 314 1097 316 1101 313 1103 309 1105 305 1108 301 1110 297 1112 293 1114 289 1116 285 1119 281 1121 277 1123 273 1125 269 1126 265 1128 261 1129 255 1130 249 1130 243 1130 239 1129 233 1127 230 1125 227 1123 223 1119 221 1115 219 1111 219 1105 220 1099 222 1095 225 1092 228 1089 231 1087 235 1084 239 1083 245 1081Z" fill="#2ca02c" fill-opacity="0.087"/>
<path d="M489 1070 495 1070 501 1069 507 1070 513 1071 517 1072 520 1075 523 1078 523 1083 522 1087 519 1090 515 1093 511 1094 507 1095 501 1096 495 1096 489 1096 483 1095 478 1095 473 1094 469 1092 464 1091 461 1088 461 1084 464 1081 467 1079 471 1076 475 1075 480 1073 485 1071 489 1070ZM249 1083 255 1082 261 1083 265 1083 270 1085 275 1086 279 1088 283 1089 287 1091 291 1093 295 1095 298 1099 299 1103 297 1106 294 1109 291 1111 287 1114 283 1116 279 1119 275 1121 271 1123 267 1124 263 1126 259 1127 253 1128 247 1127 241 1127 237 1125 233 1123 229 1121 227 1119 224 1115 222 1111 222 1105 223 1100 225 1096 228 1093 231 1090 235 1087 239 1085 243 1084 249 1083Z" fill="#2ca02c" fill-opacity="0.087"/>
<path d="M493 1072 499 1072 505 1072 509 1073 514 1075 517 1077 519 1081 518 1085 515 1089 511 1091 507 1092 503 1093 497 1093 491 1093 486 1093 481 1092 477 1090 473 1088 471 1085 473 1081 475 1079 479 1077 484 1075 489 1073 493 1072ZM243 1087 249 1085 255 1085 261 1085 267 1086 271 1088 275 1089 279 1091 283 1093 287 1096 289 1099 290 1105 287 1109 285 1111 281 1114 277 1117 273 1119 269 1121 265 1122 261 1124 256 1125 251 1125 245 1125 241 1124 237 1122 233 1120 229 1117 227 1114 225 1109 225 1105 226 1101 228 1097 231 1093 234 1091 237 1089 242 1087Z" fill="#2ca02c" fill-opacity="0.087"/>
<path d="M491 1076 497 1075 503 1075 509 1077 512 1079 513 1083 511 1086 507 1088 503 1089 497 1090 491 1090 486 1089 482 1087 480 1083 483 1080 487 1078 491 1076ZM245 1089 251 1088 257 1087 263 1088 267 1089 271 1091 275 1093 279 1095 283 1099 284 1103 283 1107 279 1111 277 1113 273 1116 269 1118 265 1120 261 1121 255 1122 249 1122 243 1122 239 1120 235 1118 231 1115 229 1111 228 1107 229 1101 231 1098 233 1095 237 1092 241 1090 245 1089Z" fill="#2ca02c" fill-opacity="0.087"/>
<path d="M497 1082 499 1082 501 1082 501 1083 501 1083 499 1084 497 1083 495 1083 497 1082ZM249 1091 255 1090 261 1091 265 1092 269 1093 273 1095 276 1099 278 1103 277 1107 274 1111 271 1113 267 1116 263 1117 259 1119 253 1120 247 1120 243 1119 238 1117 235 1114 232 1111 231 1105 233 1100 236 1097 239 1094 243 1092 248 1091Z" fill="#2ca02c" fill-opacity="0.087"/>
<path d="M247 1094 253 1093 259 1094 263 1095 267 1097 271 1100 272 1105 270 1109 267 1112 263 1114 259 1116 253 1117 249 1117 245 1116 241 1114 237 1111 235 1107 237 1101 239 1098 243 1096 247 1094Z" fill="#2ca02c" fill-opacity="0.087"/>
<path d="M247 1098 253 1097 259 1097 263 1099 266 1103 265 1107 261 1111 257 1112 253 1113 247 1113 243 1111 241 1108 241 1103 243 1100 247 1098Z" fill="#2ca02c" fill-opacity="0.087"/>
<g stroke-linecap="round" stroke-width="3.8" stroke-opacity="0.22"><path d="M135 1068h0" stroke="#2ca02c"/><path d="M105 1091.7h0" stroke="#2ca02c"/><path d="M141.7 1091.7h0" stroke="#2ca02c"/><path d="M105 1143h0" stroke="#ffbb78"/><path d="M141.7 1143h0" stroke="#ffbb78"/><path d="M106 1290h0" stroke="#ffbb78"/><path d="M135 1287h0" stroke="#ffbb78"/><path d="M141.7 1274h0" stroke="#ffbb78"/><path d="M106 1430h0" stroke="#aec7e8"/><path d="M141.7 1415h0" stroke="#aec7e8"/><path d="M141.7 1497.3h0" stroke="#aec7e8"/><path d="M135 1494h0" stroke="#aec7e8"/><path d="M175.7 1500h0" stroke="#1f77b4"/><path d="M700 1168h0" stroke="#2ca02c"/><path d="M712 1375h0" stroke="#ffbb78"/><path d="M700 1300h0" stroke="#ff7f0e"/></g>
<line x1="106.2" y1="1570" x2="713.5" y2="1248.5" stroke="#1f77b4" stroke-width="5.5"/>
<line x1="106.2" y1="1499" x2="713.5" y2="1144.5" stroke="#aec7e8" stroke-width="5.5"/>
<line x1="106.2" y1="1390" x2="713.5" y2="1087" stroke="#ff7f0e" stroke-width="5.5"/>
<line x1="106.2" y1="1217.3" x2="713.5" y2="1069.5" stroke="#ffbb78" stroke-width="5.5"/>
<line x1="106.2" y1="1130" x2="713.5" y2="1062" stroke="#2ca02c" stroke-width="5.5"/>
<rect x="74.7" y="1008.7" width="669.6999999999999" height="589.3" fill="none" stroke="#333" stroke-width="1.5"/>
<line x1="65.5" y1="1568.3" x2="74.7" y2="1568.3" stroke="#333" stroke-width="1.6"/>
<text x="60.8" y="1573.3" font-size="19.3" text-anchor="end" fill="#4d4d4d" >0.0</text>
<line x1="65.5" y1="1441.4" x2="74.7" y2="1441.4" stroke="#333" stroke-width="1.6"/>
<text x="60.8" y="1446.4" font-size="19.3" text-anchor="end" fill="#4d4d4d" >0.2</text>
<line x1="65.5" y1="1314.5" x2="74.7" y2="1314.5" stroke="#333" stroke-width="1.6"/>
<text x="60.8" y="1319.5" font-size="19.3" text-anchor="end" fill="#4d4d4d" >0.4</text>
<line x1="65.5" y1="1187.6" x2="74.7" y2="1187.6" stroke="#333" stroke-width="1.6"/>
<text x="60.8" y="1192.6" font-size="19.3" text-anchor="end" fill="#4d4d4d" >0.6</text>
<line x1="65.5" y1="1060.7" x2="74.7" y2="1060.7" stroke="#333" stroke-width="1.6"/>
<text x="60.8" y="1065.7" font-size="19.3" text-anchor="end" fill="#4d4d4d" >0.8</text>
<line x1="220.0" y1="1598" x2="220.0" y2="1605.5" stroke="#333" stroke-width="1.6"/>
<text x="220.0" y="1626.0" font-size="19.3" text-anchor="middle" fill="#4d4d4d" >1.0</text>
<line x1="378.5" y1="1598" x2="378.5" y2="1605.5" stroke="#333" stroke-width="1.6"/>
<text x="378.5" y="1626.0" font-size="19.3" text-anchor="middle" fill="#4d4d4d" >1.5</text>
<line x1="537.0" y1="1598" x2="537.0" y2="1605.5" stroke="#333" stroke-width="1.6"/>
<text x="537.0" y="1626.0" font-size="19.3" text-anchor="middle" fill="#4d4d4d" >2.0</text>
<line x1="695.5" y1="1598" x2="695.5" y2="1605.5" stroke="#333" stroke-width="1.6"/>
<text x="695.5" y="1626.0" font-size="19.3" text-anchor="middle" fill="#4d4d4d" >2.5</text>
<text x="409.5" y="1648.5" font-size="19.9" text-anchor="middle" fill="#000" >Relative copy number (from sort-seq)</text>
<text transform="translate(19.2,1303.3) rotate(-90)" font-size="19.6" text-anchor="middle">Mean BrdU content</text>
<text x="761.3" y="1228.7" font-size="19.6" text-anchor="start" fill="#000" >BrdU</text>
<line x1="764" y1="1256.7" x2="788.7" y2="1256.7" stroke="#2ca02c" stroke-width="2.4"/>
<text x="802.7" y="1262.5" font-size="16.3" text-anchor="start" fill="#000" >1000 <tspan font-style="italic">μ</tspan>M</text>
<line x1="764" y1="1287.8" x2="788.7" y2="1287.8" stroke="#ffbb78" stroke-width="2.4"/>
<text x="802.7" y="1293.6" font-size="16.3" text-anchor="start" fill="#000" >100 <tspan font-style="italic">μ</tspan>M</text>
<line x1="764" y1="1318.9" x2="788.7" y2="1318.9" stroke="#ff7f0e" stroke-width="2.4"/>
<text x="802.7" y="1324.7" font-size="16.3" text-anchor="start" fill="#000" >20 <tspan font-style="italic">μ</tspan>M</text>
<line x1="764" y1="1350.0" x2="788.7" y2="1350.0" stroke="#aec7e8" stroke-width="2.4"/>
<text x="802.7" y="1355.8" font-size="16.3" text-anchor="start" fill="#000" >10 <tspan font-style="italic">μ</tspan>M</text>
<line x1="764" y1="1381.1" x2="788.7" y2="1381.1" stroke="#1f77b4" stroke-width="2.4"/>
<text x="802.7" y="1386.9" font-size="16.3" text-anchor="start" fill="#000" >5 <tspan font-style="italic">μ</tspan>M</text>
<text x="630.7" y="1498.0" font-size="19.2" text-anchor="start" fill="#2ca02c" >ρ</text>
<text x="659.7" y="1498.0" font-size="19.2" text-anchor="start" fill="#2ca02c" >=</text>
<text x="689.3" y="1498.0" font-size="19.2" text-anchor="start" fill="#2ca02c" >0.36</text>
<text x="630.7" y="1520.5" font-size="19.2" text-anchor="start" fill="#ffbb78" >ρ</text>
<text x="659.7" y="1520.5" font-size="19.2" text-anchor="start" fill="#ffbb78" >=</text>
<text x="689.3" y="1520.5" font-size="19.2" text-anchor="start" fill="#ffbb78" >0.68</text>
<text x="630.7" y="1543.0" font-size="19.2" text-anchor="start" fill="#ff7f0e" >ρ</text>
<text x="659.7" y="1543.0" font-size="19.2" text-anchor="start" fill="#ff7f0e" >=</text>
<text x="689.3" y="1543.0" font-size="19.2" text-anchor="start" fill="#ff7f0e" >0.89</text>
<text x="630.7" y="1565.5" font-size="19.2" text-anchor="start" fill="#aec7e8" >ρ</text>
<text x="659.7" y="1565.5" font-size="19.2" text-anchor="start" fill="#aec7e8" >=</text>
<text x="689.3" y="1565.5" font-size="19.2" text-anchor="start" fill="#aec7e8" >0.93</text>
<text x="630.7" y="1588.0" font-size="19.2" text-anchor="start" fill="#1f77b4" >ρ</text>
<text x="659.7" y="1588.0" font-size="19.2" text-anchor="start" fill="#1f77b4" >=</text>
<text x="689.3" y="1588.0" font-size="19.2" text-anchor="start" fill="#1f77b4" >0.94</text>
<text x="0.0" y="1686.3" font-size="25" text-anchor="start" fill="#000" >d</text>
<rect x="75.5" y="1707.8" width="264.3" height="263.7" fill="#fff" stroke="#8c8c8c" stroke-width="1"/>
<line x1="75.5" y1="1971.0" x2="339.8" y2="1971.0" stroke="#111" stroke-width="1.3"/>
<path d="M76.2 1971.0 L76.2 1971.0 77.0 1971.0 77.8 1971.0 78.6 1971.0 79.4 1971.0 80.2 1971.0 81.0 1971.0 81.8 1971.0 82.6 1971.0 83.4 1971.0 84.2 1971.0 85.0 1971.0 85.8 1971.0 86.6 1971.0 87.4 1971.0 88.2 1971.0 89.0 1971.0 89.8 1971.0 90.6 1971.0 91.4 1971.0 92.2 1971.0 93.0 1971.0 93.8 1971.0 94.6 1971.0 95.4 1971.0 96.2 1971.0 97.0 1971.0 97.8 1971.0 98.6 1971.0 99.4 1971.0 100.2 1971.0 101.0 1971.0 101.7 1971.0 102.5 1971.0 103.3 1971.0 104.1 1971.0 104.9 1971.0 105.7 1971.0 106.5 1971.0 107.3 1971.0 108.1 1971.0 108.9 1971.0 109.7 1971.0 110.5 1971.0 111.3 1971.0 112.1 1971.0 112.9 1971.0 113.7 1971.0 114.5 1971.0 115.3 1971.0 116.1 1971.0 116.9 1971.0 117.7 1971.0 118.5 1971.0 119.3 1971.0 120.1 1971.0 120.9 1971.0 121.7 1971.0 122.5 1971.0 123.3 1971.0 124.1 1971.0 124.9 1971.0 125.7 1971.0 126.5 1971.0 127.3 1971.0 128.1 1971.0 128.9 1971.0 129.7 1971.0 130.5 1971.0 131.3 1971.0 132.1 1971.0 132.9 1971.0 133.7 1971.0 134.5 1971.0 135.3 1971.0 136.1 1971.0 136.9 1971.0 137.7 1971.0 138.5 1971.0 139.3 1971.0 140.1 1971.0 140.9 1971.0 141.7 1971.0 142.5 1971.0 143.3 1971.0 144.1 1971.0 144.9 1971.0 145.7 1971.0 146.5 1971.0 147.3 1971.0 148.1 1971.0 148.9 1971.0 149.7 1971.0 150.5 1971.0 151.2 1971.0 152.0 1971.0 152.8 1971.0 153.6 1971.0 154.4 1971.0 155.2 1971.0 156.0 1971.0 156.8 1971.0 157.6 1971.0 158.4 1971.0 159.2 1971.0 160.0 1971.0 160.8 1971.0 161.6 1971.0 162.4 1971.0 163.2 1971.0 164.0 1971.0 164.8 1969.6 165.6 1966.3 166.4 1961.6 167.2 1953.4 168.0 1942.2 168.8 1925.8 169.6 1904.3 170.4 1881.1 171.2 1854.2 172.0 1832.3 172.8 1816.2 173.6 1803.6 174.4 1800.4 175.2 1805.9 176.0 1815.3 176.8 1831.4 177.6 1853.0 178.4 1871.7 179.2 1889.3 180.0 1903.3 180.8 1913.2 181.6 1920.9 182.4 1926.5 183.2 1930.8 184.0 1932.9 184.8 1934.6 185.6 1935.9 186.4 1938.3 187.2 1940.1 188.0 1941.2 188.8 1940.6 189.6 1940.4 190.4 1942.0 191.2 1943.7 192.0 1943.8 192.8 1942.0 193.6 1943.6 194.4 1945.6 195.2 1944.6 196.0 1946.0 196.8 1946.0 197.6 1946.3 198.4 1946.9 199.2 1946.2 200.0 1947.1 200.8 1947.8 201.5 1947.1 202.3 1946.9 203.1 1949.2 203.9 1948.2 204.7 1948.9 205.5 1948.4 206.3 1949.5 207.1 1948.5 207.9 1948.6 208.7 1949.0 209.5 1949.7 210.3 1949.3 211.1 1950.0 211.9 1950.3 212.7 1949.1 213.5 1950.3 214.3 1948.5 215.1 1949.0 215.9 1951.4 216.7 1949.6 217.5 1950.9 218.3 1950.1 219.1 1950.2 219.9 1952.0 220.7 1950.6 221.5 1950.7 222.3 1949.7 223.1 1951.6 223.9 1950.0 224.7 1951.6 225.5 1951.0 226.3 1951.4 227.1 1949.5 227.9 1950.2 228.7 1948.6 229.5 1950.2 230.3 1950.0 231.1 1950.0 231.9 1951.2 232.7 1950.8 233.5 1949.6 234.3 1951.0 235.1 1950.5 235.9 1950.7 236.7 1950.2 237.5 1951.0 238.3 1950.8 239.1 1950.5 239.9 1950.6 240.7 1951.4 241.5 1949.9 242.3 1951.7 243.1 1951.5 243.9 1951.4 244.7 1949.3 245.5 1950.2 246.3 1950.5 247.1 1950.3 247.9 1948.6 248.7 1949.3 249.5 1948.7 250.3 1945.9 251.0 1946.2 251.8 1944.2 252.6 1942.6 253.4 1941.6 254.2 1939.6 255.0 1937.7 255.8 1935.5 256.6 1932.8 257.4 1929.5 258.2 1925.5 259.0 1920.7 259.8 1915.2 260.6 1907.7 261.4 1897.7 262.2 1885.8 263.0 1872.8 263.8 1857.0 264.6 1838.7 265.4 1819.6 266.2 1800.5 267.0 1779.3 267.8 1760.0 268.6 1746.7 269.4 1735.4 270.2 1726.2 271.0 1721.0 271.8 1721.8 272.6 1727.4 273.4 1735.2 274.2 1748.2 275.0 1765.1 275.8 1781.8 276.6 1799.4 277.4 1817.6 278.2 1837.0 279.0 1856.2 279.8 1873.0 280.6 1888.4 281.4 1901.4 282.2 1912.6 283.0 1922.4 283.8 1930.4 284.6 1937.1 285.4 1943.0 286.2 1947.9 287.0 1951.5 287.8 1954.2 288.6 1956.4 289.4 1958.3 290.2 1960.0 291.0 1961.5 291.8 1962.9 292.6 1964.1 293.4 1965.3 294.2 1966.5 295.0 1967.9 295.8 1969.2 296.6 1970.3 297.4 1970.9 298.2 1971.0 299.0 1971.0 299.8 1971.0 300.6 1971.0 301.3 1971.0 302.1 1971.0 302.9 1971.0 303.7 1971.0 304.5 1971.0 305.3 1971.0 306.1 1971.0 306.9 1971.0 307.7 1971.0 308.5 1971.0 309.3 1971.0 310.1 1971.0 310.9 1971.0 311.7 1971.0 312.5 1971.0 313.3 1971.0 314.1 1971.0 314.9 1971.0 315.7 1971.0 316.5 1971.0 317.3 1971.0 318.1 1971.0 318.9 1971.0 319.7 1971.0 320.5 1971.0 321.3 1971.0 322.1 1971.0 322.9 1971.0 323.7 1971.0 324.5 1971.0 325.3 1971.0 326.1 1971.0 326.9 1971.0 327.7 1971.0 328.5 1971.0 329.3 1971.0 330.1 1971.0 330.9 1971.0 331.7 1971.0 332.5 1971.0 333.3 1971.0 334.1 1971.0 334.9 1971.0 335.7 1971.0 336.5 1971.0 337.3 1971.0 338.1 1971.0 338.9 1971.0 339.7 1971.0 339.8 1971.0 L339.8 1971.0Z" fill="#00ccff" fill-opacity="0.41"/>
<path d="M76.2 1971.0 77.0 1971.0 77.8 1971.0 78.6 1971.0 79.4 1971.0 80.2 1971.0 81.0 1971.0 81.8 1971.0 82.6 1971.0 83.4 1971.0 84.2 1971.0 85.0 1971.0 85.8 1971.0 86.6 1971.0 87.4 1971.0 88.2 1971.0 89.0 1971.0 89.8 1971.0 90.6 1971.0 91.4 1971.0 92.2 1971.0 93.0 1971.0 93.8 1971.0 94.6 1971.0 95.4 1971.0 96.2 1971.0 97.0 1971.0 97.8 1971.0 98.6 1971.0 99.4 1971.0 100.2 1971.0 101.0 1971.0 101.7 1971.0 102.5 1971.0 103.3 1971.0 104.1 1971.0 104.9 1971.0 105.7 1971.0 106.5 1971.0 107.3 1971.0 108.1 1971.0 108.9 1971.0 109.7 1971.0 110.5 1971.0 111.3 1971.0 112.1 1971.0 112.9 1971.0 113.7 1971.0 114.5 1971.0 115.3 1971.0 116.1 1971.0 116.9 1971.0 117.7 1971.0 118.5 1971.0 119.3 1971.0 120.1 1971.0 120.9 1971.0 121.7 1971.0 122.5 1971.0 123.3 1971.0 124.1 1971.0 124.9 1971.0 125.7 1971.0 126.5 1971.0 127.3 1971.0 128.1 1971.0 128.9 1971.0 129.7 1971.0 130.5 1971.0 131.3 1971.0 132.1 1971.0 132.9 1971.0 133.7 1971.0 134.5 1971.0 135.3 1971.0 136.1 1971.0 136.9 1971.0 137.7 1971.0 138.5 1971.0 139.3 1971.0 140.1 1971.0 140.9 1971.0 141.7 1971.0 142.5 1971.0 143.3 1971.0 144.1 1971.0 144.9 1971.0 145.7 1971.0 146.5 1971.0 147.3 1971.0 148.1 1971.0 148.9 1971.0 149.7 1971.0 150.5 1971.0 151.2 1971.0 152.0 1971.0 152.8 1971.0 153.6 1971.0 154.4 1971.0 155.2 1971.0 156.0 1971.0 156.8 1971.0 157.6 1971.0 158.4 1971.0 159.2 1971.0 160.0 1971.0 160.8 1971.0 161.6 1971.0 162.4 1971.0 163.2 1971.0 164.0 1971.0 164.8 1969.6 165.6 1966.3 166.4 1961.6 167.2 1953.4 168.0 1942.2 168.8 1925.8 169.6 1904.3 170.4 1881.1 171.2 1854.2 172.0 1832.3 172.8 1816.2 173.6 1803.6 174.4 1800.4 175.2 1805.9 176.0 1815.3 176.8 1831.4 177.6 1853.0 178.4 1871.7 179.2 1889.3 180.0 1903.3 180.8 1913.2 181.6 1920.9 182.4 1926.5 183.2 1930.8 184.0 1932.9 184.8 1934.6 185.6 1935.9 186.4 1938.3 187.2 1940.1 188.0 1941.2 188.8 1940.6 189.6 1940.4 190.4 1942.0 191.2 1943.7 192.0 1943.8 192.8 1942.0 193.6 1943.6 194.4 1945.6 195.2 1944.6 196.0 1946.0 196.8 1946.0 197.6 1946.3 198.4 1946.9 199.2 1946.2 200.0 1947.1 200.8 1947.8 201.5 1947.1 202.3 1946.9 203.1 1949.2 203.9 1948.2 204.7 1948.9 205.5 1948.4 206.3 1949.5 207.1 1948.5 207.9 1948.6 208.7 1949.0 209.5 1949.7 210.3 1949.3 211.1 1950.0 211.9 1950.3 212.7 1949.1 213.5 1950.3 214.3 1948.5 215.1 1949.0 215.9 1951.4 216.7 1949.6 217.5 1950.9 218.3 1950.1 219.1 1950.2 219.9 1952.0 220.7 1950.6 221.5 1950.7 222.3 1949.7 223.1 1951.6 223.9 1950.0 224.7 1951.6 225.5 1951.0 226.3 1951.4 227.1 1949.5 227.9 1950.2 228.7 1948.6 229.5 1950.2 230.3 1950.0 231.1 1950.0 231.9 1951.2 232.7 1950.8 233.5 1949.6 234.3 1951.0 235.1 1950.5 235.9 1950.7 236.7 1950.2 237.5 1951.0 238.3 1950.8 239.1 1950.5 239.9 1950.6 240.7 1951.4 241.5 1949.9 242.3 1951.7 243.1 1951.5 243.9 1951.4 244.7 1949.3 245.5 1950.2 246.3 1950.5 247.1 1950.3 247.9 1948.6 248.7 1949.3 249.5 1948.7 250.3 1945.9 251.0 1946.2 251.8 1944.2 252.6 1942.6 253.4 1941.6 254.2 1939.6 255.0 1937.7 255.8 1935.5 256.6 1932.8 257.4 1929.5 258.2 1925.5 259.0 1920.7 259.8 1915.2 260.6 1907.7 261.4 1897.7 262.2 1885.8 263.0 1872.8 263.8 1857.0 264.6 1838.7 265.4 1819.6 266.2 1800.5 267.0 1779.3 267.8 1760.0 268.6 1746.7 269.4 1735.4 270.2 1726.2 271.0 1721.0 271.8 1721.8 272.6 1727.4 273.4 1735.2 274.2 1748.2 275.0 1765.1 275.8 1781.8 276.6 1799.4 277.4 1817.6 278.2 1837.0 279.0 1856.2 279.8 1873.0 280.6 1888.4 281.4 1901.4 282.2 1912.6 283.0 1922.4 283.8 1930.4 284.6 1937.1 285.4 1943.0 286.2 1947.9 287.0 1951.5 287.8 1954.2 288.6 1956.4 289.4 1958.3 290.2 1960.0 291.0 1961.5 291.8 1962.9 292.6 1964.1 293.4 1965.3 294.2 1966.5 295.0 1967.9 295.8 1969.2 296.6 1970.3 297.4 1970.9 298.2 1971.0 299.0 1971.0 299.8 1971.0 300.6 1971.0 301.3 1971.0 302.1 1971.0 302.9 1971.0 303.7 1971.0 304.5 1971.0 305.3 1971.0 306.1 1971.0 306.9 1971.0 307.7 1971.0 308.5 1971.0 309.3 1971.0 310.1 1971.0 310.9 1971.0 311.7 1971.0 312.5 1971.0 313.3 1971.0 314.1 1971.0 314.9 1971.0 315.7 1971.0 316.5 1971.0 317.3 1971.0 318.1 1971.0 318.9 1971.0 319.7 1971.0 320.5 1971.0 321.3 1971.0 322.1 1971.0 322.9 1971.0 323.7 1971.0 324.5 1971.0 325.3 1971.0 326.1 1971.0 326.9 1971.0 327.7 1971.0 328.5 1971.0 329.3 1971.0 330.1 1971.0 330.9 1971.0 331.7 1971.0 332.5 1971.0 333.3 1971.0 334.1 1971.0 334.9 1971.0 335.7 1971.0 336.5 1971.0 337.3 1971.0 338.1 1971.0 338.9 1971.0 339.7 1971.0 339.8 1971.0" fill="none" stroke="#00c8fa" stroke-width="1.6" stroke-linejoin="round"/>
<path d="M76.2 1971.0 L76.2 1971.0 77.0 1971.0 77.8 1971.0 78.6 1971.0 79.4 1971.0 80.2 1971.0 81.0 1971.0 81.8 1971.0 82.6 1971.0 83.4 1971.0 84.2 1971.0 85.0 1971.0 85.8 1971.0 86.6 1971.0 87.4 1971.0 88.2 1971.0 89.0 1971.0 89.8 1971.0 90.6 1971.0 91.4 1971.0 92.2 1971.0 93.0 1971.0 93.8 1971.0 94.6 1971.0 95.4 1971.0 96.2 1971.0 97.0 1971.0 97.8 1971.0 98.6 1971.0 99.4 1971.0 100.2 1971.0 101.0 1971.0 101.7 1971.0 102.5 1971.0 103.3 1971.0 104.1 1971.0 104.9 1971.0 105.7 1971.0 106.5 1971.0 107.3 1971.0 108.1 1971.0 108.9 1971.0 109.7 1971.0 110.5 1971.0 111.3 1971.0 112.1 1971.0 112.9 1971.0 113.7 1971.0 114.5 1971.0 115.3 1971.0 116.1 1971.0 116.9 1971.0 117.7 1971.0 118.5 1971.0 119.3 1971.0 120.1 1971.0 120.9 1971.0 121.7 1971.0 122.5 1971.0 123.3 1971.0 124.1 1971.0 124.9 1971.0 125.7 1971.0 126.5 1971.0 127.3 1971.0 128.1 1971.0 128.9 1971.0 129.7 1971.0 130.5 1971.0 131.3 1971.0 132.1 1971.0 132.9 1971.0 133.7 1971.0 134.5 1971.0 135.3 1971.0 136.1 1971.0 136.9 1971.0 137.7 1971.0 138.5 1971.0 139.3 1971.0 140.1 1971.0 140.9 1971.0 141.7 1971.0 142.5 1971.0 143.3 1971.0 144.1 1971.0 144.9 1971.0 145.7 1971.0 146.5 1971.0 147.3 1971.0 148.1 1971.0 148.9 1971.0 149.7 1971.0 150.5 1971.0 151.2 1971.0 152.0 1971.0 152.8 1971.0 153.6 1971.0 154.4 1971.0 155.2 1971.0 156.0 1971.0 156.8 1971.0 157.6 1971.0 158.4 1971.0 159.2 1971.0 160.0 1971.0 160.8 1971.0 161.6 1971.0 162.4 1971.0 163.2 1970.9 164.0 1968.9 164.8 1965.3 165.6 1959.6 166.4 1949.7 167.2 1937.0 168.0 1917.9 168.8 1895.3 169.6 1871.8 170.4 1846.8 171.2 1828.5 172.0 1813.4 172.8 1801.5 173.6 1796.7 174.4 1800.6 175.2 1810.1 176.0 1822.1 176.8 1840.4 177.6 1863.4 178.4 1880.9 179.2 1895.7 180.0 1906.7 180.8 1914.2 181.6 1919.8 182.4 1923.8 183.2 1925.3 184.0 1930.1 184.8 1933.1 185.6 1935.6 186.4 1935.2 187.2 1936.7 188.0 1936.8 188.8 1938.4 189.6 1938.9 190.4 1939.7 191.2 1939.8 192.0 1939.4 192.8 1940.4 193.6 1940.2 194.4 1938.5 195.2 1940.6 196.0 1943.5 196.8 1940.0 197.6 1942.1 198.4 1944.0 199.2 1942.2 200.0 1943.6 200.8 1944.6 201.5 1944.8 202.3 1945.4 203.1 1944.4 203.9 1943.3 204.7 1945.1 205.5 1944.4 206.3 1942.8 207.1 1946.5 207.9 1944.9 208.7 1945.7 209.5 1946.7 210.3 1946.8 211.1 1945.7 211.9 1945.2 212.7 1946.5 213.5 1945.9 214.3 1945.3 215.1 1945.9 215.9 1945.3 216.7 1945.9 217.5 1946.0 218.3 1944.5 219.1 1946.1 219.9 1946.8 220.7 1946.2 221.5 1948.2 222.3 1947.6 223.1 1946.3 223.9 1946.5 224.7 1945.5 225.5 1947.3 226.3 1949.0 227.1 1945.0 227.9 1946.0 228.7 1948.6 229.5 1945.7 230.3 1947.3 231.1 1949.5 231.9 1947.8 232.7 1947.9 233.5 1945.4 234.3 1948.3 235.1 1947.6 235.9 1947.6 236.7 1947.8 237.5 1948.4 238.3 1947.1 239.1 1946.0 239.9 1946.6 240.7 1948.4 241.5 1948.7 242.3 1947.1 243.1 1948.0 243.9 1947.7 244.7 1948.8 245.5 1944.2 246.3 1945.2 247.1 1947.1 247.9 1944.5 248.7 1943.4 249.5 1946.6 250.3 1943.0 251.0 1941.1 251.8 1938.1 252.6 1937.2 253.4 1935.3 254.2 1932.7 255.0 1930.1 255.8 1927.0 256.6 1923.3 257.4 1918.8 258.2 1913.2 259.0 1906.6 259.8 1897.1 260.6 1885.3 261.4 1872.5 262.2 1859.7 263.0 1846.2 263.8 1831.7 264.6 1816.0 265.4 1797.5 266.2 1776.6 267.0 1761.6 267.8 1749.9 268.6 1742.1 269.4 1741.9 270.2 1748.3 271.0 1756.4 271.8 1766.3 272.6 1778.3 273.4 1792.4 274.2 1809.2 275.0 1826.4 275.8 1844.6 276.6 1862.1 277.4 1877.2 278.2 1890.8 279.0 1902.8 279.8 1913.9 280.6 1923.3 281.4 1930.7 282.2 1937.2 283.0 1942.7 283.8 1947.3 284.6 1951.3 285.4 1954.8 286.2 1957.7 287.0 1959.5 287.8 1960.9 288.6 1961.9 289.4 1962.8 290.2 1963.6 291.0 1964.4 291.8 1965.1 292.6 1965.8 293.4 1966.4 294.2 1967.1 295.0 1967.8 295.8 1968.9 296.6 1970.1 297.4 1970.9 298.2 1971.0 299.0 1971.0 299.8 1971.0 300.6 1971.0 301.3 1971.0 302.1 1971.0 302.9 1971.0 303.7 1971.0 304.5 1971.0 305.3 1971.0 306.1 1971.0 306.9 1971.0 307.7 1971.0 308.5 1971.0 309.3 1971.0 310.1 1971.0 310.9 1971.0 311.7 1971.0 312.5 1971.0 313.3 1971.0 314.1 1971.0 314.9 1971.0 315.7 1971.0 316.5 1971.0 317.3 1971.0 318.1 1971.0 318.9 1971.0 319.7 1971.0 320.5 1971.0 321.3 1971.0 322.1 1971.0 322.9 1971.0 323.7 1971.0 324.5 1971.0 325.3 1971.0 326.1 1971.0 326.9 1971.0 327.7 1971.0 328.5 1971.0 329.3 1971.0 330.1 1971.0 330.9 1971.0 331.7 1971.0 332.5 1971.0 333.3 1971.0 334.1 1971.0 334.9 1971.0 335.7 1971.0 336.5 1971.0 337.3 1971.0 338.1 1971.0 338.9 1971.0 339.7 1971.0 339.8 1971.0 L339.8 1971.0Z" fill="#ff3333" fill-opacity="0.38"/>
<path d="M76.2 1971.0 77.0 1971.0 77.8 1971.0 78.6 1971.0 79.4 1971.0 80.2 1971.0 81.0 1971.0 81.8 1971.0 82.6 1971.0 83.4 1971.0 84.2 1971.0 85.0 1971.0 85.8 1971.0 86.6 1971.0 87.4 1971.0 88.2 1971.0 89.0 1971.0 89.8 1971.0 90.6 1971.0 91.4 1971.0 92.2 1971.0 93.0 1971.0 93.8 1971.0 94.6 1971.0 95.4 1971.0 96.2 1971.0 97.0 1971.0 97.8 1971.0 98.6 1971.0 99.4 1971.0 100.2 1971.0 101.0 1971.0 101.7 1971.0 102.5 1971.0 103.3 1971.0 104.1 1971.0 104.9 1971.0 105.7 1971.0 106.5 1971.0 107.3 1971.0 108.1 1971.0 108.9 1971.0 109.7 1971.0 110.5 1971.0 111.3 1971.0 112.1 1971.0 112.9 1971.0 113.7 1971.0 114.5 1971.0 115.3 1971.0 116.1 1971.0 116.9 1971.0 117.7 1971.0 118.5 1971.0 119.3 1971.0 120.1 1971.0 120.9 1971.0 121.7 1971.0 122.5 1971.0 123.3 1971.0 124.1 1971.0 124.9 1971.0 125.7 1971.0 126.5 1971.0 127.3 1971.0 128.1 1971.0 128.9 1971.0 129.7 1971.0 130.5 1971.0 131.3 1971.0 132.1 1971.0 132.9 1971.0 133.7 1971.0 134.5 1971.0 135.3 1971.0 136.1 1971.0 136.9 1971.0 137.7 1971.0 138.5 1971.0 139.3 1971.0 140.1 1971.0 140.9 1971.0 141.7 1971.0 142.5 1971.0 143.3 1971.0 144.1 1971.0 144.9 1971.0 145.7 1971.0 146.5 1971.0 147.3 1971.0 148.1 1971.0 148.9 1971.0 149.7 1971.0 150.5 1971.0 151.2 1971.0 152.0 1971.0 152.8 1971.0 153.6 1971.0 154.4 1971.0 155.2 1971.0 156.0 1971.0 156.8 1971.0 157.6 1971.0 158.4 1971.0 159.2 1971.0 160.0 1971.0 160.8 1971.0 161.6 1971.0 162.4 1971.0 163.2 1970.9 164.0 1968.9 164.8 1965.3 165.6 1959.6 166.4 1949.7 167.2 1937.0 168.0 1917.9 168.8 1895.3 169.6 1871.8 170.4 1846.8 171.2 1828.5 172.0 1813.4 172.8 1801.5 173.6 1796.7 174.4 1800.6 175.2 1810.1 176.0 1822.1 176.8 1840.4 177.6 1863.4 178.4 1880.9 179.2 1895.7 180.0 1906.7 180.8 1914.2 181.6 1919.8 182.4 1923.8 183.2 1925.3 184.0 1930.1 184.8 1933.1 185.6 1935.6 186.4 1935.2 187.2 1936.7 188.0 1936.8 188.8 1938.4 189.6 1938.9 190.4 1939.7 191.2 1939.8 192.0 1939.4 192.8 1940.4 193.6 1940.2 194.4 1938.5 195.2 1940.6 196.0 1943.5 196.8 1940.0 197.6 1942.1 198.4 1944.0 199.2 1942.2 200.0 1943.6 200.8 1944.6 201.5 1944.8 202.3 1945.4 203.1 1944.4 203.9 1943.3 204.7 1945.1 205.5 1944.4 206.3 1942.8 207.1 1946.5 207.9 1944.9 208.7 1945.7 209.5 1946.7 210.3 1946.8 211.1 1945.7 211.9 1945.2 212.7 1946.5 213.5 1945.9 214.3 1945.3 215.1 1945.9 215.9 1945.3 216.7 1945.9 217.5 1946.0 218.3 1944.5 219.1 1946.1 219.9 1946.8 220.7 1946.2 221.5 1948.2 222.3 1947.6 223.1 1946.3 223.9 1946.5 224.7 1945.5 225.5 1947.3 226.3 1949.0 227.1 1945.0 227.9 1946.0 228.7 1948.6 229.5 1945.7 230.3 1947.3 231.1 1949.5 231.9 1947.8 232.7 1947.9 233.5 1945.4 234.3 1948.3 235.1 1947.6 235.9 1947.6 236.7 1947.8 237.5 1948.4 238.3 1947.1 239.1 1946.0 239.9 1946.6 240.7 1948.4 241.5 1948.7 242.3 1947.1 243.1 1948.0 243.9 1947.7 244.7 1948.8 245.5 1944.2 246.3 1945.2 247.1 1947.1 247.9 1944.5 248.7 1943.4 249.5 1946.6 250.3 1943.0 251.0 1941.1 251.8 1938.1 252.6 1937.2 253.4 1935.3 254.2 1932.7 255.0 1930.1 255.8 1927.0 256.6 1923.3 257.4 1918.8 258.2 1913.2 259.0 1906.6 259.8 1897.1 260.6 1885.3 261.4 1872.5 262.2 1859.7 263.0 1846.2 263.8 1831.7 264.6 1816.0 265.4 1797.5 266.2 1776.6 267.0 1761.6 267.8 1749.9 268.6 1742.1 269.4 1741.9 270.2 1748.3 271.0 1756.4 271.8 1766.3 272.6 1778.3 273.4 1792.4 274.2 1809.2 275.0 1826.4 275.8 1844.6 276.6 1862.1 277.4 1877.2 278.2 1890.8 279.0 1902.8 279.8 1913.9 280.6 1923.3 281.4 1930.7 282.2 1937.2 283.0 1942.7 283.8 1947.3 284.6 1951.3 285.4 1954.8 286.2 1957.7 287.0 1959.5 287.8 1960.9 288.6 1961.9 289.4 1962.8 290.2 1963.6 291.0 1964.4 291.8 1965.1 292.6 1965.8 293.4 1966.4 294.2 1967.1 295.0 1967.8 295.8 1968.9 296.6 1970.1 297.4 1970.9 298.2 1971.0 299.0 1971.0 299.8 1971.0 300.6 1971.0 301.3 1971.0 302.1 1971.0 302.9 1971.0 303.7 1971.0 304.5 1971.0 305.3 1971.0 306.1 1971.0 306.9 1971.0 307.7 1971.0 308.5 1971.0 309.3 1971.0 310.1 1971.0 310.9 1971.0 311.7 1971.0 312.5 1971.0 313.3 1971.0 314.1 1971.0 314.9 1971.0 315.7 1971.0 316.5 1971.0 317.3 1971.0 318.1 1971.0 318.9 1971.0 319.7 1971.0 320.5 1971.0 321.3 1971.0 322.1 1971.0 322.9 1971.0 323.7 1971.0 324.5 1971.0 325.3 1971.0 326.1 1971.0 326.9 1971.0 327.7 1971.0 328.5 1971.0 329.3 1971.0 330.1 1971.0 330.9 1971.0 331.7 1971.0 332.5 1971.0 333.3 1971.0 334.1 1971.0 334.9 1971.0 335.7 1971.0 336.5 1971.0 337.3 1971.0 338.1 1971.0 338.9 1971.0 339.7 1971.0 339.8 1971.0" fill="none" stroke="#f93535" stroke-width="1.6" stroke-linejoin="round"/>
<line x1="75.5" y1="1707.8" x2="75.5" y2="1971.5" stroke="#888" stroke-width="1"/>
<line x1="72.0" y1="1971.0" x2="75.5" y2="1971.0" stroke="#111" stroke-width="0.9"/>
<line x1="72.0" y1="1954.1" x2="75.5" y2="1954.1" stroke="#111" stroke-width="0.9"/>
<line x1="72.0" y1="1937.2" x2="75.5" y2="1937.2" stroke="#111" stroke-width="0.9"/>
<line x1="72.0" y1="1920.2" x2="75.5" y2="1920.2" stroke="#111" stroke-width="0.9"/>
<line x1="72.0" y1="1903.3" x2="75.5" y2="1903.3" stroke="#111" stroke-width="0.9"/>
<line x1="72.0" y1="1886.4" x2="75.5" y2="1886.4" stroke="#111" stroke-width="0.9"/>
<line x1="72.0" y1="1869.5" x2="75.5" y2="1869.5" stroke="#111" stroke-width="0.9"/>
<line x1="72.0" y1="1852.6" x2="75.5" y2="1852.6" stroke="#111" stroke-width="0.9"/>
<line x1="72.0" y1="1835.6" x2="75.5" y2="1835.6" stroke="#111" stroke-width="0.9"/>
<line x1="72.0" y1="1818.7" x2="75.5" y2="1818.7" stroke="#111" stroke-width="0.9"/>
<line x1="72.0" y1="1801.8" x2="75.5" y2="1801.8" stroke="#111" stroke-width="0.9"/>
<line x1="72.0" y1="1784.9" x2="75.5" y2="1784.9" stroke="#111" stroke-width="0.9"/>
<line x1="72.0" y1="1768.0" x2="75.5" y2="1768.0" stroke="#111" stroke-width="0.9"/>
<line x1="72.0" y1="1751.0" x2="75.5" y2="1751.0" stroke="#111" stroke-width="0.9"/>
<line x1="72.0" y1="1734.1" x2="75.5" y2="1734.1" stroke="#111" stroke-width="0.9"/>
<line x1="72.0" y1="1717.2" x2="75.5" y2="1717.2" stroke="#111" stroke-width="0.9"/>
<line x1="68.0" y1="1971.0" x2="75.5" y2="1971.0" stroke="#111" stroke-width="1.6"/>
<text x="66.0" y="1974.7" font-size="16.3" text-anchor="end" fill="#111" >0</text>
<line x1="68.0" y1="1886.4" x2="75.5" y2="1886.4" stroke="#111" stroke-width="1.6"/>
<text x="66.0" y="1890.1" font-size="16.3" text-anchor="end" fill="#111" >0.005</text>
<line x1="68.0" y1="1801.8" x2="75.5" y2="1801.8" stroke="#111" stroke-width="1.6"/>
<text x="66.0" y="1805.5" font-size="16.3" text-anchor="end" fill="#111" >0.010</text>
<line x1="68.0" y1="1717.2" x2="75.5" y2="1717.2" stroke="#111" stroke-width="1.6"/>
<text x="66.0" y="1720.9" font-size="16.3" text-anchor="end" fill="#111" >0.015</text>
<line x1="76.2" y1="1971.0" x2="76.2" y2="1979.0" stroke="#111" stroke-width="1.6"/>
<line x1="86.2" y1="1971.0" x2="86.2" y2="1975.0" stroke="#111" stroke-width="0.9"/>
<line x1="96.2" y1="1971.0" x2="96.2" y2="1975.0" stroke="#111" stroke-width="0.9"/>
<line x1="106.1" y1="1971.0" x2="106.1" y2="1975.0" stroke="#111" stroke-width="0.9"/>
<line x1="116.1" y1="1971.0" x2="116.1" y2="1975.0" stroke="#111" stroke-width="0.9"/>
<line x1="126.1" y1="1971.0" x2="126.1" y2="1979.0" stroke="#111" stroke-width="1.6"/>
<line x1="136.1" y1="1971.0" x2="136.1" y2="1975.0" stroke="#111" stroke-width="0.9"/>
<line x1="146.1" y1="1971.0" x2="146.1" y2="1975.0" stroke="#111" stroke-width="0.9"/>
<line x1="156.0" y1="1971.0" x2="156.0" y2="1975.0" stroke="#111" stroke-width="0.9"/>
<line x1="166.0" y1="1971.0" x2="166.0" y2="1975.0" stroke="#111" stroke-width="0.9"/>
<line x1="176.0" y1="1971.0" x2="176.0" y2="1979.0" stroke="#111" stroke-width="1.6"/>
<line x1="186.0" y1="1971.0" x2="186.0" y2="1975.0" stroke="#111" stroke-width="0.9"/>
<line x1="196.0" y1="1971.0" x2="196.0" y2="1975.0" stroke="#111" stroke-width="0.9"/>
<line x1="205.9" y1="1971.0" x2="205.9" y2="1975.0" stroke="#111" stroke-width="0.9"/>
<line x1="215.9" y1="1971.0" x2="215.9" y2="1975.0" stroke="#111" stroke-width="0.9"/>
<line x1="225.9" y1="1971.0" x2="225.9" y2="1979.0" stroke="#111" stroke-width="1.6"/>
<line x1="235.9" y1="1971.0" x2="235.9" y2="1975.0" stroke="#111" stroke-width="0.9"/>
<line x1="245.9" y1="1971.0" x2="245.9" y2="1975.0" stroke="#111" stroke-width="0.9"/>
<line x1="255.8" y1="1971.0" x2="255.8" y2="1975.0" stroke="#111" stroke-width="0.9"/>
<line x1="265.8" y1="1971.0" x2="265.8" y2="1975.0" stroke="#111" stroke-width="0.9"/>
<line x1="275.8" y1="1971.0" x2="275.8" y2="1979.0" stroke="#111" stroke-width="1.6"/>
<line x1="285.8" y1="1971.0" x2="285.8" y2="1975.0" stroke="#111" stroke-width="0.9"/>
<line x1="295.8" y1="1971.0" x2="295.8" y2="1975.0" stroke="#111" stroke-width="0.9"/>
<line x1="305.7" y1="1971.0" x2="305.7" y2="1975.0" stroke="#111" stroke-width="0.9"/>
<line x1="315.7" y1="1971.0" x2="315.7" y2="1975.0" stroke="#111" stroke-width="0.9"/>
<line x1="325.7" y1="1971.0" x2="325.7" y2="1979.0" stroke="#111" stroke-width="1.6"/>
<line x1="335.7" y1="1971.0" x2="335.7" y2="1975.0" stroke="#111" stroke-width="0.9"/>
<text x="76.2" y="1994.6" font-size="16.2" text-anchor="middle" fill="#111" >0</text>
<text x="126.1" y="1994.6" font-size="16.2" text-anchor="middle" fill="#111" >50K</text>
<text x="176.0" y="1994.6" font-size="16.2" text-anchor="middle" fill="#111" >100K</text>
<text x="225.9" y="1994.6" font-size="16.2" text-anchor="middle" fill="#111" >150K</text>
<text x="275.8" y="1994.6" font-size="16.2" text-anchor="middle" fill="#111" >200K</text>
<text x="325.7" y="1994.6" font-size="16.2" text-anchor="middle" fill="#111" >250K</text>
<text x="207.7" y="1696.4" font-size="19.6" text-anchor="middle" fill="#000" >5 <tspan font-style="italic">μ</tspan>M</text>
<text x="207.7" y="2012.8" font-size="19.8" text-anchor="middle" fill="#000" >DNA content (SYTOX green)</text>
<text transform="translate(19.8,1839.7) rotate(-90)" font-size="19.8" text-anchor="middle">Unit Area</text>
<rect x="450.6" y="1707.8" width="264.0" height="263.7" fill="#fff" stroke="#8c8c8c" stroke-width="1"/>
<line x1="450.6" y1="1971.1" x2="714.6" y2="1971.1" stroke="#111" stroke-width="1.3"/>
<path d="M451.1 1971.1 L451.1 1971.1 451.9 1971.1 452.7 1971.1 453.5 1971.1 454.3 1971.1 455.1 1971.1 455.9 1971.1 456.7 1971.1 457.5 1971.1 458.3 1971.1 459.1 1971.1 459.9 1971.1 460.7 1971.1 461.5 1971.1 462.3 1971.1 463.1 1971.1 463.9 1971.1 464.7 1971.1 465.5 1971.1 466.3 1971.1 467.1 1971.1 467.9 1971.1 468.7 1971.1 469.5 1971.1 470.3 1971.1 471.1 1971.1 471.9 1971.1 472.7 1971.1 473.5 1971.1 474.3 1971.1 475.1 1971.1 475.9 1971.1 476.7 1971.1 477.5 1971.1 478.3 1971.1 479.1 1971.1 479.9 1971.1 480.7 1971.1 481.5 1971.1 482.3 1971.1 483.1 1971.1 483.9 1971.1 484.7 1971.1 485.5 1971.1 486.3 1971.1 487.1 1971.1 487.9 1971.1 488.7 1971.1 489.5 1971.1 490.3 1971.1 491.1 1971.1 491.9 1971.1 492.7 1971.1 493.5 1971.1 494.3 1971.1 495.1 1971.1 495.9 1971.1 496.7 1971.1 497.5 1971.1 498.3 1971.1 499.1 1971.1 499.9 1971.1 500.7 1971.1 501.6 1971.1 502.4 1971.1 503.2 1971.1 504.0 1971.1 504.8 1971.1 505.6 1971.1 506.4 1971.1 507.2 1971.1 508.0 1971.1 508.8 1971.1 509.6 1971.1 510.4 1971.1 511.2 1971.1 512.0 1971.1 512.8 1971.1 513.6 1971.1 514.4 1971.1 515.2 1971.1 516.0 1971.1 516.8 1971.1 517.6 1971.1 518.4 1971.1 519.2 1971.1 520.0 1971.1 520.8 1971.1 521.6 1971.1 522.4 1971.1 523.2 1971.1 524.0 1971.1 524.8 1971.1 525.6 1971.1 526.4 1971.1 527.2 1971.1 528.0 1971.1 528.8 1971.1 529.6 1971.1 530.4 1971.1 531.2 1971.1 532.0 1971.1 532.8 1971.1 533.6 1971.1 534.4 1971.1 535.2 1971.1 536.0 1971.1 536.8 1971.1 537.6 1971.1 538.4 1971.0 539.2 1968.4 540.0 1963.8 540.8 1957.9 541.6 1948.9 542.4 1936.9 543.2 1917.7 544.0 1894.7 544.8 1871.6 545.6 1847.3 546.4 1826.0 547.2 1804.0 548.0 1786.9 548.8 1784.4 549.6 1795.7 550.4 1811.1 551.2 1832.3 552.0 1855.1 552.8 1874.4 553.6 1892.2 554.4 1905.7 555.2 1916.0 556.0 1923.6 556.8 1928.4 557.6 1932.1 558.4 1933.4 559.2 1935.1 560.0 1938.8 560.8 1940.4 561.6 1938.3 562.4 1942.2 563.2 1942.6 564.0 1942.7 564.8 1942.8 565.6 1942.9 566.4 1943.9 567.2 1945.4 568.0 1944.6 568.8 1945.1 569.6 1944.0 570.4 1945.9 571.2 1947.2 572.0 1947.2 572.8 1945.2 573.6 1947.1 574.4 1948.6 575.2 1947.5 576.0 1947.1 576.8 1946.3 577.6 1948.4 578.4 1947.1 579.2 1947.2 580.0 1948.6 580.8 1948.4 581.6 1946.9 582.4 1947.1 583.2 1947.9 584.0 1948.5 584.8 1947.9 585.6 1949.0 586.4 1949.0 587.2 1949.6 588.0 1948.9 588.8 1949.0 589.6 1946.5 590.4 1949.1 591.2 1947.8 592.0 1947.8 592.8 1949.1 593.6 1947.9 594.4 1950.8 595.2 1948.8 596.0 1948.2 596.8 1950.9 597.6 1949.9 598.4 1948.0 599.2 1949.1 600.0 1949.8 600.8 1949.2 601.7 1949.4 602.5 1948.3 603.3 1948.5 604.1 1949.1 604.9 1949.5 605.7 1948.9 606.5 1947.8 607.3 1948.6 608.1 1948.4 608.9 1949.0 609.7 1950.0 610.5 1949.5 611.3 1948.3 612.1 1948.8 612.9 1949.7 613.7 1950.3 614.5 1948.8 615.3 1949.2 616.1 1949.2 616.9 1949.1 617.7 1948.4 618.5 1948.0 619.3 1947.0 620.1 1946.4 620.9 1945.5 621.7 1945.3 622.5 1945.6 623.3 1944.6 624.1 1943.3 624.9 1942.9 625.7 1940.9 626.5 1939.0 627.3 1938.7 628.1 1937.1 628.9 1931.7 629.7 1929.4 630.5 1925.7 631.3 1921.5 632.1 1916.4 632.9 1910.4 633.7 1903.3 634.5 1894.7 635.3 1882.9 636.1 1868.2 636.9 1851.7 637.7 1833.0 638.5 1808.5 639.3 1785.0 640.1 1768.0 640.9 1753.2 641.7 1741.4 642.5 1733.9 643.3 1728.3 644.1 1724.0 644.9 1721.8 645.7 1723.1 646.5 1728.2 647.3 1735.4 648.1 1747.8 648.9 1765.7 649.7 1783.7 650.5 1803.0 651.3 1822.5 652.1 1841.4 652.9 1859.9 653.7 1877.1 654.5 1893.7 655.3 1907.9 656.1 1919.7 656.9 1929.6 657.7 1937.0 658.5 1942.9 659.3 1947.2 660.1 1950.1 660.9 1952.5 661.7 1954.4 662.5 1956.2 663.3 1957.7 664.1 1959.0 664.9 1960.3 665.7 1961.6 666.5 1962.9 667.3 1964.3 668.1 1965.8 668.9 1967.1 669.7 1968.3 670.5 1969.5 671.3 1970.5 672.1 1971.1 672.9 1971.1 673.7 1971.1 674.5 1971.1 675.3 1971.1 676.1 1971.1 676.9 1971.1 677.7 1971.1 678.5 1971.1 679.3 1971.1 680.1 1971.1 680.9 1971.1 681.7 1971.1 682.5 1971.1 683.3 1971.1 684.1 1971.1 684.9 1971.1 685.7 1971.1 686.5 1971.1 687.3 1971.1 688.1 1971.1 688.9 1971.1 689.7 1971.1 690.5 1971.1 691.3 1971.1 692.1 1971.1 692.9 1971.1 693.7 1971.1 694.5 1971.1 695.3 1971.1 696.1 1971.1 696.9 1971.1 697.7 1971.1 698.5 1971.1 699.3 1971.1 700.1 1971.1 700.9 1971.1 701.8 1971.1 702.6 1971.1 703.4 1971.1 704.2 1971.1 705.0 1971.1 705.8 1971.1 706.6 1971.1 707.4 1971.1 708.2 1971.1 709.0 1971.1 709.8 1971.1 710.6 1971.1 711.4 1971.1 712.2 1971.1 713.0 1971.1 713.8 1971.1 714.6 1971.1 714.6 1971.1 714.6 1971.1 L714.6 1971.1Z" fill="#00ccff" fill-opacity="0.41"/>
<path d="M451.1 1971.1 451.9 1971.1 452.7 1971.1 453.5 1971.1 454.3 1971.1 455.1 1971.1 455.9 1971.1 456.7 1971.1 457.5 1971.1 458.3 1971.1 459.1 1971.1 459.9 1971.1 460.7 1971.1 461.5 1971.1 462.3 1971.1 463.1 1971.1 463.9 1971.1 464.7 1971.1 465.5 1971.1 466.3 1971.1 467.1 1971.1 467.9 1971.1 468.7 1971.1 469.5 1971.1 470.3 1971.1 471.1 1971.1 471.9 1971.1 472.7 1971.1 473.5 1971.1 474.3 1971.1 475.1 1971.1 475.9 1971.1 476.7 1971.1 477.5 1971.1 478.3 1971.1 479.1 1971.1 479.9 1971.1 480.7 1971.1 481.5 1971.1 482.3 1971.1 483.1 1971.1 483.9 1971.1 484.7 1971.1 485.5 1971.1 486.3 1971.1 487.1 1971.1 487.9 1971.1 488.7 1971.1 489.5 1971.1 490.3 1971.1 491.1 1971.1 491.9 1971.1 492.7 1971.1 493.5 1971.1 494.3 1971.1 495.1 1971.1 495.9 1971.1 496.7 1971.1 497.5 1971.1 498.3 1971.1 499.1 1971.1 499.9 1971.1 500.7 1971.1 501.6 1971.1 502.4 1971.1 503.2 1971.1 504.0 1971.1 504.8 1971.1 505.6 1971.1 506.4 1971.1 507.2 1971.1 508.0 1971.1 508.8 1971.1 509.6 1971.1 510.4 1971.1 511.2 1971.1 512.0 1971.1 512.8 1971.1 513.6 1971.1 514.4 1971.1 515.2 1971.1 516.0 1971.1 516.8 1971.1 517.6 1971.1 518.4 1971.1 519.2 1971.1 520.0 1971.1 520.8 1971.1 521.6 1971.1 522.4 1971.1 523.2 1971.1 524.0 1971.1 524.8 1971.1 525.6 1971.1 526.4 1971.1 527.2 1971.1 528.0 1971.1 528.8 1971.1 529.6 1971.1 530.4 1971.1 531.2 1971.1 532.0 1971.1 532.8 1971.1 533.6 1971.1 534.4 1971.1 535.2 1971.1 536.0 1971.1 536.8 1971.1 537.6 1971.1 538.4 1971.0 539.2 1968.4 540.0 1963.8 540.8 1957.9 541.6 1948.9 542.4 1936.9 543.2 1917.7 544.0 1894.7 544.8 1871.6 545.6 1847.3 546.4 1826.0 547.2 1804.0 548.0 1786.9 548.8 1784.4 549.6 1795.7 550.4 1811.1 551.2 1832.3 552.0 1855.1 552.8 1874.4 553.6 1892.2 554.4 1905.7 555.2 1916.0 556.0 1923.6 556.8 1928.4 557.6 1932.1 558.4 1933.4 559.2 1935.1 560.0 1938.8 560.8 1940.4 561.6 1938.3 562.4 1942.2 563.2 1942.6 564.0 1942.7 564.8 1942.8 565.6 1942.9 566.4 1943.9 567.2 1945.4 568.0 1944.6 568.8 1945.1 569.6 1944.0 570.4 1945.9 571.2 1947.2 572.0 1947.2 572.8 1945.2 573.6 1947.1 574.4 1948.6 575.2 1947.5 576.0 1947.1 576.8 1946.3 577.6 1948.4 578.4 1947.1 579.2 1947.2 580.0 1948.6 580.8 1948.4 581.6 1946.9 582.4 1947.1 583.2 1947.9 584.0 1948.5 584.8 1947.9 585.6 1949.0 586.4 1949.0 587.2 1949.6 588.0 1948.9 588.8 1949.0 589.6 1946.5 590.4 1949.1 591.2 1947.8 592.0 1947.8 592.8 1949.1 593.6 1947.9 594.4 1950.8 595.2 1948.8 596.0 1948.2 596.8 1950.9 597.6 1949.9 598.4 1948.0 599.2 1949.1 600.0 1949.8 600.8 1949.2 601.7 1949.4 602.5 1948.3 603.3 1948.5 604.1 1949.1 604.9 1949.5 605.7 1948.9 606.5 1947.8 607.3 1948.6 608.1 1948.4 608.9 1949.0 609.7 1950.0 610.5 1949.5 611.3 1948.3 612.1 1948.8 612.9 1949.7 613.7 1950.3 614.5 1948.8 615.3 1949.2 616.1 1949.2 616.9 1949.1 617.7 1948.4 618.5 1948.0 619.3 1947.0 620.1 1946.4 620.9 1945.5 621.7 1945.3 622.5 1945.6 623.3 1944.6 624.1 1943.3 624.9 1942.9 625.7 1940.9 626.5 1939.0 627.3 1938.7 628.1 1937.1 628.9 1931.7 629.7 1929.4 630.5 1925.7 631.3 1921.5 632.1 1916.4 632.9 1910.4 633.7 1903.3 634.5 1894.7 635.3 1882.9 636.1 1868.2 636.9 1851.7 637.7 1833.0 638.5 1808.5 639.3 1785.0 640.1 1768.0 640.9 1753.2 641.7 1741.4 642.5 1733.9 643.3 1728.3 644.1 1724.0 644.9 1721.8 645.7 1723.1 646.5 1728.2 647.3 1735.4 648.1 1747.8 648.9 1765.7 649.7 1783.7 650.5 1803.0 651.3 1822.5 652.1 1841.4 652.9 1859.9 653.7 1877.1 654.5 1893.7 655.3 1907.9 656.1 1919.7 656.9 1929.6 657.7 1937.0 658.5 1942.9 659.3 1947.2 660.1 1950.1 660.9 1952.5 661.7 1954.4 662.5 1956.2 663.3 1957.7 664.1 1959.0 664.9 1960.3 665.7 1961.6 666.5 1962.9 667.3 1964.3 668.1 1965.8 668.9 1967.1 669.7 1968.3 670.5 1969.5 671.3 1970.5 672.1 1971.1 672.9 1971.1 673.7 1971.1 674.5 1971.1 675.3 1971.1 676.1 1971.1 676.9 1971.1 677.7 1971.1 678.5 1971.1 679.3 1971.1 680.1 1971.1 680.9 1971.1 681.7 1971.1 682.5 1971.1 683.3 1971.1 684.1 1971.1 684.9 1971.1 685.7 1971.1 686.5 1971.1 687.3 1971.1 688.1 1971.1 688.9 1971.1 689.7 1971.1 690.5 1971.1 691.3 1971.1 692.1 1971.1 692.9 1971.1 693.7 1971.1 694.5 1971.1 695.3 1971.1 696.1 1971.1 696.9 1971.1 697.7 1971.1 698.5 1971.1 699.3 1971.1 700.1 1971.1 700.9 1971.1 701.8 1971.1 702.6 1971.1 703.4 1971.1 704.2 1971.1 705.0 1971.1 705.8 1971.1 706.6 1971.1 707.4 1971.1 708.2 1971.1 709.0 1971.1 709.8 1971.1 710.6 1971.1 711.4 1971.1 712.2 1971.1 713.0 1971.1 713.8 1971.1 714.6 1971.1 714.6 1971.1 714.6 1971.1" fill="none" stroke="#00c8fa" stroke-width="1.6" stroke-linejoin="round"/>
<path d="M451.1 1971.1 L451.1 1971.1 451.9 1971.1 452.7 1971.1 453.5 1971.1 454.3 1971.1 455.1 1971.1 455.9 1971.1 456.7 1971.1 457.5 1971.1 458.3 1971.1 459.1 1971.1 459.9 1971.1 460.7 1971.1 461.5 1971.1 462.3 1971.1 463.1 1971.1 463.9 1971.1 464.7 1971.1 465.5 1971.1 466.3 1971.1 467.1 1971.1 467.9 1971.1 468.7 1971.1 469.5 1971.1 470.3 1971.1 471.1 1971.1 471.9 1971.1 472.7 1971.1 473.5 1971.1 474.3 1971.1 475.1 1971.1 475.9 1971.1 476.7 1971.1 477.5 1971.1 478.3 1971.1 479.1 1971.1 479.9 1971.1 480.7 1971.1 481.5 1971.1 482.3 1971.1 483.1 1971.1 483.9 1971.1 484.7 1971.1 485.5 1971.1 486.3 1971.1 487.1 1971.1 487.9 1971.1 488.7 1971.1 489.5 1971.1 490.3 1971.1 491.1 1971.1 491.9 1971.1 492.7 1971.1 493.5 1971.1 494.3 1971.1 495.1 1971.1 495.9 1971.1 496.7 1971.1 497.5 1971.1 498.3 1971.1 499.1 1971.1 499.9 1971.1 500.7 1971.1 501.6 1971.1 502.4 1971.1 503.2 1971.1 504.0 1971.1 504.8 1971.1 505.6 1971.1 506.4 1971.1 507.2 1971.1 508.0 1971.1 508.8 1971.1 509.6 1971.1 510.4 1971.1 511.2 1971.1 512.0 1971.1 512.8 1971.1 513.6 1971.1 514.4 1971.1 515.2 1971.1 516.0 1971.1 516.8 1971.1 517.6 1971.1 518.4 1971.1 519.2 1971.1 520.0 1971.1 520.8 1971.1 521.6 1971.1 522.4 1971.1 523.2 1971.1 524.0 1971.1 524.8 1971.1 525.6 1971.1 526.4 1971.1 527.2 1971.1 528.0 1971.1 528.8 1971.1 529.6 1971.1 530.4 1971.1 531.2 1971.1 532.0 1971.1 532.8 1971.1 533.6 1971.1 534.4 1971.1 535.2 1971.1 536.0 1971.1 536.8 1971.1 537.6 1970.6 538.4 1967.3 539.2 1962.6 540.0 1955.8 540.8 1946.1 541.6 1933.3 542.4 1914.6 543.2 1894.2 544.0 1872.8 544.8 1851.6 545.6 1835.3 546.4 1819.9 547.2 1807.2 548.0 1800.6 548.8 1802.9 549.6 1812.2 550.4 1824.1 551.2 1842.9 552.0 1864.0 552.8 1882.1 553.6 1898.9 554.4 1910.1 555.2 1917.3 556.0 1922.4 556.8 1925.5 557.6 1927.9 558.4 1928.8 559.2 1932.4 560.0 1929.7 560.8 1931.6 561.6 1933.3 562.4 1934.1 563.2 1934.0 564.0 1934.8 564.8 1935.3 565.6 1936.5 566.4 1933.7 567.2 1935.3 568.0 1935.1 568.8 1935.1 569.6 1938.1 570.4 1934.6 571.2 1935.6 572.0 1935.6 572.8 1935.1 573.6 1936.4 574.4 1934.2 575.2 1936.1 576.0 1936.3 576.8 1936.3 577.6 1935.0 578.4 1934.3 579.2 1935.9 580.0 1937.0 580.8 1934.0 581.6 1936.5 582.4 1933.9 583.2 1935.5 584.0 1936.4 584.8 1936.5 585.6 1935.4 586.4 1935.1 587.2 1936.6 588.0 1935.5 588.8 1934.3 589.6 1937.3 590.4 1938.7 591.2 1938.8 592.0 1939.5 592.8 1938.9 593.6 1939.3 594.4 1940.4 595.2 1938.5 596.0 1942.6 596.8 1941.4 597.6 1937.7 598.4 1939.2 599.2 1940.2 600.0 1940.6 600.8 1939.4 601.7 1941.2 602.5 1942.2 603.3 1944.1 604.1 1943.0 604.9 1944.2 605.7 1944.4 606.5 1944.7 607.3 1944.1 608.1 1944.8 608.9 1943.6 609.7 1946.5 610.5 1945.3 611.3 1943.0 612.1 1945.4 612.9 1944.0 613.7 1944.1 614.5 1943.9 615.3 1944.6 616.1 1947.1 616.9 1945.8 617.7 1945.9 618.5 1947.3 619.3 1946.0 620.1 1947.0 620.9 1947.3 621.7 1944.4 622.5 1943.6 623.3 1943.1 624.1 1941.9 624.9 1939.7 625.7 1937.2 626.5 1934.3 627.3 1930.2 628.1 1924.9 628.9 1915.8 629.7 1906.7 630.5 1896.9 631.3 1885.8 632.1 1873.7 632.9 1861.1 633.7 1848.7 634.5 1835.2 635.3 1821.6 636.1 1809.2 636.9 1799.2 637.7 1789.9 638.5 1781.1 639.3 1774.5 640.1 1771.9 640.9 1774.8 641.7 1781.2 642.5 1788.4 643.3 1797.1 644.1 1807.6 644.9 1819.4 645.7 1833.1 646.5 1849.4 647.3 1865.2 648.1 1879.6 648.9 1893.2 649.7 1905.2 650.5 1916.0 651.3 1925.0 652.1 1932.0 652.9 1938.0 653.7 1943.2 654.5 1947.9 655.3 1952.1 656.1 1955.2 656.9 1957.0 657.7 1958.3 658.5 1959.5 659.3 1960.4 660.1 1961.3 660.9 1962.1 661.7 1963.0 662.5 1963.9 663.3 1964.8 664.1 1965.6 664.9 1966.4 665.7 1967.1 666.5 1967.9 667.3 1968.7 668.1 1969.6 668.9 1970.4 669.7 1971.0 670.5 1971.1 671.3 1971.1 672.1 1971.1 672.9 1971.1 673.7 1971.1 674.5 1971.1 675.3 1971.1 676.1 1971.1 676.9 1971.1 677.7 1971.1 678.5 1971.1 679.3 1971.1 680.1 1971.1 680.9 1971.1 681.7 1971.1 682.5 1971.1 683.3 1971.1 684.1 1971.1 684.9 1971.1 685.7 1971.1 686.5 1971.1 687.3 1971.1 688.1 1971.1 688.9 1971.1 689.7 1971.1 690.5 1971.1 691.3 1971.1 692.1 1971.1 692.9 1971.1 693.7 1971.1 694.5 1971.1 695.3 1971.1 696.1 1971.1 696.9 1971.1 697.7 1971.1 698.5 1971.1 699.3 1971.1 700.1 1971.1 700.9 1971.1 701.8 1971.1 702.6 1971.1 703.4 1971.1 704.2 1971.1 705.0 1971.1 705.8 1971.1 706.6 1971.1 707.4 1971.1 708.2 1971.1 709.0 1971.1 709.8 1971.1 710.6 1971.1 711.4 1971.1 712.2 1971.1 713.0 1971.1 713.8 1971.1 714.6 1971.1 714.6 1971.1 714.6 1971.1 L714.6 1971.1Z" fill="#ff3333" fill-opacity="0.38"/>
<path d="M451.1 1971.1 451.9 1971.1 452.7 1971.1 453.5 1971.1 454.3 1971.1 455.1 1971.1 455.9 1971.1 456.7 1971.1 457.5 1971.1 458.3 1971.1 459.1 1971.1 459.9 1971.1 460.7 1971.1 461.5 1971.1 462.3 1971.1 463.1 1971.1 463.9 1971.1 464.7 1971.1 465.5 1971.1 466.3 1971.1 467.1 1971.1 467.9 1971.1 468.7 1971.1 469.5 1971.1 470.3 1971.1 471.1 1971.1 471.9 1971.1 472.7 1971.1 473.5 1971.1 474.3 1971.1 475.1 1971.1 475.9 1971.1 476.7 1971.1 477.5 1971.1 478.3 1971.1 479.1 1971.1 479.9 1971.1 480.7 1971.1 481.5 1971.1 482.3 1971.1 483.1 1971.1 483.9 1971.1 484.7 1971.1 485.5 1971.1 486.3 1971.1 487.1 1971.1 487.9 1971.1 488.7 1971.1 489.5 1971.1 490.3 1971.1 491.1 1971.1 491.9 1971.1 492.7 1971.1 493.5 1971.1 494.3 1971.1 495.1 1971.1 495.9 1971.1 496.7 1971.1 497.5 1971.1 498.3 1971.1 499.1 1971.1 499.9 1971.1 500.7 1971.1 501.6 1971.1 502.4 1971.1 503.2 1971.1 504.0 1971.1 504.8 1971.1 505.6 1971.1 506.4 1971.1 507.2 1971.1 508.0 1971.1 508.8 1971.1 509.6 1971.1 510.4 1971.1 511.2 1971.1 512.0 1971.1 512.8 1971.1 513.6 1971.1 514.4 1971.1 515.2 1971.1 516.0 1971.1 516.8 1971.1 517.6 1971.1 518.4 1971.1 519.2 1971.1 520.0 1971.1 520.8 1971.1 521.6 1971.1 522.4 1971.1 523.2 1971.1 524.0 1971.1 524.8 1971.1 525.6 1971.1 526.4 1971.1 527.2 1971.1 528.0 1971.1 528.8 1971.1 529.6 1971.1 530.4 1971.1 531.2 1971.1 532.0 1971.1 532.8 1971.1 533.6 1971.1 534.4 1971.1 535.2 1971.1 536.0 1971.1 536.8 1971.1 537.6 1970.6 538.4 1967.3 539.2 1962.6 540.0 1955.8 540.8 1946.1 541.6 1933.3 542.4 1914.6 543.2 1894.2 544.0 1872.8 544.8 1851.6 545.6 1835.3 546.4 1819.9 547.2 1807.2 548.0 1800.6 548.8 1802.9 549.6 1812.2 550.4 1824.1 551.2 1842.9 552.0 1864.0 552.8 1882.1 553.6 1898.9 554.4 1910.1 555.2 1917.3 556.0 1922.4 556.8 1925.5 557.6 1927.9 558.4 1928.8 559.2 1932.4 560.0 1929.7 560.8 1931.6 561.6 1933.3 562.4 1934.1 563.2 1934.0 564.0 1934.8 564.8 1935.3 565.6 1936.5 566.4 1933.7 567.2 1935.3 568.0 1935.1 568.8 1935.1 569.6 1938.1 570.4 1934.6 571.2 1935.6 572.0 1935.6 572.8 1935.1 573.6 1936.4 574.4 1934.2 575.2 1936.1 576.0 1936.3 576.8 1936.3 577.6 1935.0 578.4 1934.3 579.2 1935.9 580.0 1937.0 580.8 1934.0 581.6 1936.5 582.4 1933.9 583.2 1935.5 584.0 1936.4 584.8 1936.5 585.6 1935.4 586.4 1935.1 587.2 1936.6 588.0 1935.5 588.8 1934.3 589.6 1937.3 590.4 1938.7 591.2 1938.8 592.0 1939.5 592.8 1938.9 593.6 1939.3 594.4 1940.4 595.2 1938.5 596.0 1942.6 596.8 1941.4 597.6 1937.7 598.4 1939.2 599.2 1940.2 600.0 1940.6 600.8 1939.4 601.7 1941.2 602.5 1942.2 603.3 1944.1 604.1 1943.0 604.9 1944.2 605.7 1944.4 606.5 1944.7 607.3 1944.1 608.1 1944.8 608.9 1943.6 609.7 1946.5 610.5 1945.3 611.3 1943.0 612.1 1945.4 612.9 1944.0 613.7 1944.1 614.5 1943.9 615.3 1944.6 616.1 1947.1 616.9 1945.8 617.7 1945.9 618.5 1947.3 619.3 1946.0 620.1 1947.0 620.9 1947.3 621.7 1944.4 622.5 1943.6 623.3 1943.1 624.1 1941.9 624.9 1939.7 625.7 1937.2 626.5 1934.3 627.3 1930.2 628.1 1924.9 628.9 1915.8 629.7 1906.7 630.5 1896.9 631.3 1885.8 632.1 1873.7 632.9 1861.1 633.7 1848.7 634.5 1835.2 635.3 1821.6 636.1 1809.2 636.9 1799.2 637.7 1789.9 638.5 1781.1 639.3 1774.5 640.1 1771.9 640.9 1774.8 641.7 1781.2 642.5 1788.4 643.3 1797.1 644.1 1807.6 644.9 1819.4 645.7 1833.1 646.5 1849.4 647.3 1865.2 648.1 1879.6 648.9 1893.2 649.7 1905.2 650.5 1916.0 651.3 1925.0 652.1 1932.0 652.9 1938.0 653.7 1943.2 654.5 1947.9 655.3 1952.1 656.1 1955.2 656.9 1957.0 657.7 1958.3 658.5 1959.5 659.3 1960.4 660.1 1961.3 660.9 1962.1 661.7 1963.0 662.5 1963.9 663.3 1964.8 664.1 1965.6 664.9 1966.4 665.7 1967.1 666.5 1967.9 667.3 1968.7 668.1 1969.6 668.9 1970.4 669.7 1971.0 670.5 1971.1 671.3 1971.1 672.1 1971.1 672.9 1971.1 673.7 1971.1 674.5 1971.1 675.3 1971.1 676.1 1971.1 676.9 1971.1 677.7 1971.1 678.5 1971.1 679.3 1971.1 680.1 1971.1 680.9 1971.1 681.7 1971.1 682.5 1971.1 683.3 1971.1 684.1 1971.1 684.9 1971.1 685.7 1971.1 686.5 1971.1 687.3 1971.1 688.1 1971.1 688.9 1971.1 689.7 1971.1 690.5 1971.1 691.3 1971.1 692.1 1971.1 692.9 1971.1 693.7 1971.1 694.5 1971.1 695.3 1971.1 696.1 1971.1 696.9 1971.1 697.7 1971.1 698.5 1971.1 699.3 1971.1 700.1 1971.1 700.9 1971.1 701.8 1971.1 702.6 1971.1 703.4 1971.1 704.2 1971.1 705.0 1971.1 705.8 1971.1 706.6 1971.1 707.4 1971.1 708.2 1971.1 709.0 1971.1 709.8 1971.1 710.6 1971.1 711.4 1971.1 712.2 1971.1 713.0 1971.1 713.8 1971.1 714.6 1971.1 714.6 1971.1 714.6 1971.1" fill="none" stroke="#f93535" stroke-width="1.6" stroke-linejoin="round"/>
<line x1="450.6" y1="1707.8" x2="450.6" y2="1971.5" stroke="#888" stroke-width="1"/>
<line x1="447.1" y1="1971.1" x2="450.6" y2="1971.1" stroke="#111" stroke-width="0.9"/>
<line x1="447.1" y1="1954.0" x2="450.6" y2="1954.0" stroke="#111" stroke-width="0.9"/>
<line x1="447.1" y1="1936.9" x2="450.6" y2="1936.9" stroke="#111" stroke-width="0.9"/>
<line x1="447.1" y1="1919.9" x2="450.6" y2="1919.9" stroke="#111" stroke-width="0.9"/>
<line x1="447.1" y1="1902.8" x2="450.6" y2="1902.8" stroke="#111" stroke-width="0.9"/>
<line x1="447.1" y1="1885.7" x2="450.6" y2="1885.7" stroke="#111" stroke-width="0.9"/>
<line x1="447.1" y1="1868.6" x2="450.6" y2="1868.6" stroke="#111" stroke-width="0.9"/>
<line x1="447.1" y1="1851.5" x2="450.6" y2="1851.5" stroke="#111" stroke-width="0.9"/>
<line x1="447.1" y1="1834.5" x2="450.6" y2="1834.5" stroke="#111" stroke-width="0.9"/>
<line x1="447.1" y1="1817.4" x2="450.6" y2="1817.4" stroke="#111" stroke-width="0.9"/>
<line x1="447.1" y1="1800.3" x2="450.6" y2="1800.3" stroke="#111" stroke-width="0.9"/>
<line x1="447.1" y1="1783.2" x2="450.6" y2="1783.2" stroke="#111" stroke-width="0.9"/>
<line x1="447.1" y1="1766.1" x2="450.6" y2="1766.1" stroke="#111" stroke-width="0.9"/>
<line x1="447.1" y1="1749.1" x2="450.6" y2="1749.1" stroke="#111" stroke-width="0.9"/>
<line x1="447.1" y1="1732.0" x2="450.6" y2="1732.0" stroke="#111" stroke-width="0.9"/>
<line x1="447.1" y1="1714.9" x2="450.6" y2="1714.9" stroke="#111" stroke-width="0.9"/>
<line x1="443.1" y1="1971.1" x2="450.6" y2="1971.1" stroke="#111" stroke-width="1.6"/>
<text x="441.1" y="1974.8" font-size="16.3" text-anchor="end" fill="#111" >0</text>
<line x1="443.1" y1="1885.7" x2="450.6" y2="1885.7" stroke="#111" stroke-width="1.6"/>
<text x="441.1" y="1889.4" font-size="16.3" text-anchor="end" fill="#111" >0.005</text>
<line x1="443.1" y1="1800.3" x2="450.6" y2="1800.3" stroke="#111" stroke-width="1.6"/>
<text x="441.1" y="1804.0" font-size="16.3" text-anchor="end" fill="#111" >0.010</text>
<line x1="443.1" y1="1714.9" x2="450.6" y2="1714.9" stroke="#111" stroke-width="1.6"/>
<text x="441.1" y="1718.6" font-size="16.3" text-anchor="end" fill="#111" >0.015</text>
<line x1="451.1" y1="1971.1" x2="451.1" y2="1979.1" stroke="#111" stroke-width="1.6"/>
<line x1="461.1" y1="1971.1" x2="461.1" y2="1975.1" stroke="#111" stroke-width="0.9"/>
<line x1="471.1" y1="1971.1" x2="471.1" y2="1975.1" stroke="#111" stroke-width="0.9"/>
<line x1="481.1" y1="1971.1" x2="481.1" y2="1975.1" stroke="#111" stroke-width="0.9"/>
<line x1="491.1" y1="1971.1" x2="491.1" y2="1975.1" stroke="#111" stroke-width="0.9"/>
<line x1="501.2" y1="1971.1" x2="501.2" y2="1979.1" stroke="#111" stroke-width="1.6"/>
<line x1="511.2" y1="1971.1" x2="511.2" y2="1975.1" stroke="#111" stroke-width="0.9"/>
<line x1="521.2" y1="1971.1" x2="521.2" y2="1975.1" stroke="#111" stroke-width="0.9"/>
<line x1="531.2" y1="1971.1" x2="531.2" y2="1975.1" stroke="#111" stroke-width="0.9"/>
<line x1="541.2" y1="1971.1" x2="541.2" y2="1975.1" stroke="#111" stroke-width="0.9"/>
<line x1="551.2" y1="1971.1" x2="551.2" y2="1979.1" stroke="#111" stroke-width="1.6"/>
<line x1="561.2" y1="1971.1" x2="561.2" y2="1975.1" stroke="#111" stroke-width="0.9"/>
<line x1="571.2" y1="1971.1" x2="571.2" y2="1975.1" stroke="#111" stroke-width="0.9"/>
<line x1="581.2" y1="1971.1" x2="581.2" y2="1975.1" stroke="#111" stroke-width="0.9"/>
<line x1="591.2" y1="1971.1" x2="591.2" y2="1975.1" stroke="#111" stroke-width="0.9"/>
<line x1="601.2" y1="1971.1" x2="601.2" y2="1979.1" stroke="#111" stroke-width="1.6"/>
<line x1="611.3" y1="1971.1" x2="611.3" y2="1975.1" stroke="#111" stroke-width="0.9"/>
<line x1="621.3" y1="1971.1" x2="621.3" y2="1975.1" stroke="#111" stroke-width="0.9"/>
<line x1="631.3" y1="1971.1" x2="631.3" y2="1975.1" stroke="#111" stroke-width="0.9"/>
<line x1="641.3" y1="1971.1" x2="641.3" y2="1975.1" stroke="#111" stroke-width="0.9"/>
<line x1="651.3" y1="1971.1" x2="651.3" y2="1979.1" stroke="#111" stroke-width="1.6"/>
<line x1="661.3" y1="1971.1" x2="661.3" y2="1975.1" stroke="#111" stroke-width="0.9"/>
<line x1="671.3" y1="1971.1" x2="671.3" y2="1975.1" stroke="#111" stroke-width="0.9"/>
<line x1="681.3" y1="1971.1" x2="681.3" y2="1975.1" stroke="#111" stroke-width="0.9"/>
<line x1="691.3" y1="1971.1" x2="691.3" y2="1975.1" stroke="#111" stroke-width="0.9"/>
<line x1="701.4" y1="1971.1" x2="701.4" y2="1979.1" stroke="#111" stroke-width="1.6"/>
<line x1="711.4" y1="1971.1" x2="711.4" y2="1975.1" stroke="#111" stroke-width="0.9"/>
<text x="451.1" y="1994.6" font-size="16.2" text-anchor="middle" fill="#111" >0</text>
<text x="501.2" y="1994.6" font-size="16.2" text-anchor="middle" fill="#111" >50K</text>
<text x="551.2" y="1994.6" font-size="16.2" text-anchor="middle" fill="#111" >100K</text>
<text x="601.2" y="1994.6" font-size="16.2" text-anchor="middle" fill="#111" >150K</text>
<text x="651.3" y="1994.6" font-size="16.2" text-anchor="middle" fill="#111" >200K</text>
<text x="701.4" y="1994.6" font-size="16.2" text-anchor="middle" fill="#111" >250K</text>
<text x="582.6" y="1696.4" font-size="19.6" text-anchor="middle" fill="#000" >10 <tspan font-style="italic">μ</tspan>M</text>
<text x="582.6" y="2012.8" font-size="19.8" text-anchor="middle" fill="#000" >DNA content (SYTOX green)</text>
<text transform="translate(395.0,1839.7) rotate(-90)" font-size="19.8" text-anchor="middle">Unit Area</text>
<rect x="825.2" y="1707.8" width="265.1" height="263.7" fill="#fff" stroke="#8c8c8c" stroke-width="1"/>
<line x1="825.2" y1="1970.5" x2="1090.3" y2="1970.5" stroke="#111" stroke-width="1.3"/>
<path d="M826.6 1970.5 L826.6 1970.5 827.4 1970.5 828.2 1970.5 829.0 1970.5 829.8 1970.5 830.6 1970.5 831.4 1970.5 832.2 1970.5 833.0 1970.5 833.8 1970.5 834.6 1970.5 835.4 1970.5 836.2 1970.5 837.0 1970.5 837.8 1970.5 838.6 1970.5 839.4 1970.5 840.2 1970.5 841.0 1970.5 841.8 1970.5 842.6 1970.5 843.4 1970.5 844.2 1970.5 845.0 1970.5 845.8 1970.5 846.6 1970.5 847.4 1970.5 848.2 1970.5 849.0 1970.5 849.8 1970.5 850.6 1970.5 851.4 1970.5 852.2 1970.5 853.0 1970.5 853.8 1970.5 854.6 1970.5 855.4 1970.5 856.2 1970.5 857.0 1970.5 857.8 1970.5 858.6 1970.5 859.4 1970.5 860.2 1970.5 861.0 1970.5 861.8 1970.5 862.6 1970.5 863.4 1970.5 864.2 1970.5 865.0 1970.5 865.8 1970.5 866.6 1970.5 867.4 1970.5 868.2 1970.5 869.0 1970.5 869.8 1970.5 870.6 1970.5 871.4 1970.5 872.2 1970.5 873.0 1970.5 873.8 1970.5 874.6 1970.5 875.4 1970.5 876.2 1970.5 877.0 1970.5 877.8 1970.5 878.6 1970.5 879.4 1970.5 880.2 1970.5 881.0 1970.5 881.8 1970.5 882.6 1970.5 883.4 1970.5 884.2 1970.5 885.0 1970.5 885.8 1970.5 886.6 1970.5 887.4 1970.5 888.2 1970.5 889.0 1970.5 889.8 1970.5 890.6 1970.5 891.4 1970.5 892.2 1970.5 893.0 1970.5 893.8 1970.5 894.6 1970.5 895.4 1970.5 896.2 1970.5 897.0 1970.5 897.8 1970.5 898.6 1970.5 899.4 1970.5 900.2 1970.5 901.0 1970.5 901.8 1970.5 902.6 1970.5 903.4 1970.5 904.2 1970.5 905.0 1970.5 905.8 1970.5 906.6 1970.5 907.4 1970.5 908.2 1970.5 909.0 1970.5 909.8 1970.5 910.6 1970.5 911.4 1970.5 912.2 1970.5 913.0 1970.5 913.8 1970.3 914.6 1967.2 915.4 1961.5 916.2 1954.0 917.0 1942.5 917.8 1928.1 918.6 1908.3 919.4 1885.3 920.2 1860.0 921.0 1832.4 921.8 1812.4 922.6 1796.5 923.4 1784.7 924.2 1781.8 925.0 1788.8 925.8 1801.1 926.6 1816.6 927.5 1839.4 928.3 1860.8 929.1 1879.4 929.9 1895.6 930.7 1907.6 931.5 1917.1 932.3 1923.9 933.1 1928.5 933.9 1932.6 934.7 1936.1 935.5 1937.6 936.3 1937.9 937.1 1939.4 937.9 1940.1 938.7 1942.9 939.5 1943.7 940.3 1941.7 941.1 1942.2 941.9 1941.8 942.7 1942.8 943.5 1943.6 944.3 1944.1 945.1 1945.6 945.9 1943.9 946.7 1945.4 947.5 1944.6 948.3 1945.1 949.1 1945.2 949.9 1944.8 950.7 1946.2 951.5 1946.3 952.3 1946.9 953.1 1946.6 953.9 1945.0 954.7 1946.9 955.5 1945.7 956.3 1946.2 957.1 1946.4 957.9 1946.5 958.7 1948.2 959.5 1947.1 960.3 1946.2 961.1 1948.3 961.9 1947.8 962.7 1948.5 963.5 1947.7 964.3 1949.1 965.1 1946.9 965.9 1948.7 966.7 1949.9 967.5 1947.1 968.3 1947.9 969.1 1948.4 969.9 1948.5 970.7 1949.4 971.5 1949.4 972.3 1948.6 973.1 1948.5 973.9 1948.6 974.7 1949.3 975.5 1949.9 976.3 1949.7 977.1 1948.5 977.9 1948.2 978.7 1949.8 979.5 1949.9 980.3 1948.4 981.1 1948.9 981.9 1948.9 982.7 1950.6 983.5 1949.8 984.3 1950.0 985.1 1949.3 985.9 1951.0 986.7 1948.4 987.5 1949.2 988.3 1949.1 989.1 1950.5 989.9 1949.5 990.7 1948.3 991.5 1950.9 992.3 1949.2 993.1 1948.8 993.9 1949.9 994.7 1948.4 995.5 1949.2 996.3 1947.6 997.1 1947.9 997.9 1947.9 998.7 1946.0 999.5 1946.5 1000.3 1945.3 1001.1 1946.4 1001.9 1944.6 1002.7 1941.8 1003.5 1939.8 1004.3 1938.0 1005.1 1934.8 1005.9 1931.0 1006.7 1926.8 1007.5 1921.5 1008.3 1914.7 1009.1 1906.7 1009.9 1897.8 1010.7 1888.2 1011.5 1877.1 1012.3 1863.9 1013.1 1848.8 1013.9 1830.9 1014.7 1813.0 1015.5 1796.5 1016.3 1780.6 1017.1 1765.8 1017.9 1751.3 1018.7 1738.1 1019.5 1730.1 1020.3 1724.4 1021.1 1720.8 1021.9 1720.9 1022.7 1725.3 1023.5 1732.3 1024.3 1743.1 1025.1 1760.7 1025.9 1778.9 1026.7 1797.3 1027.5 1816.3 1028.3 1834.4 1029.1 1851.8 1029.9 1868.4 1030.7 1883.8 1031.5 1898.4 1032.3 1910.6 1033.1 1920.4 1033.9 1928.5 1034.7 1935.4 1035.5 1941.2 1036.3 1946.0 1037.1 1950.1 1037.9 1954.0 1038.7 1957.9 1039.5 1961.2 1040.3 1963.1 1041.1 1964.6 1041.9 1965.9 1042.7 1967.0 1043.5 1968.2 1044.3 1969.4 1045.1 1970.3 1045.9 1970.5 1046.7 1970.5 1047.5 1970.5 1048.3 1970.5 1049.1 1970.5 1049.9 1970.5 1050.7 1970.5 1051.5 1970.5 1052.3 1970.5 1053.1 1970.5 1053.9 1970.5 1054.7 1970.5 1055.5 1970.5 1056.3 1970.5 1057.1 1970.5 1057.9 1970.5 1058.7 1970.5 1059.5 1970.5 1060.3 1970.5 1061.1 1970.5 1061.9 1970.5 1062.7 1970.5 1063.5 1970.5 1064.3 1970.5 1065.1 1970.5 1065.9 1970.5 1066.7 1970.5 1067.5 1970.5 1068.3 1970.5 1069.1 1970.5 1069.9 1970.5 1070.7 1970.5 1071.5 1970.5 1072.3 1970.5 1073.1 1970.5 1073.9 1970.5 1074.7 1970.5 1075.5 1970.5 1076.3 1970.5 1077.1 1970.5 1077.9 1970.5 1078.7 1970.5 1079.5 1970.5 1080.3 1970.5 1081.1 1970.5 1081.9 1970.5 1082.7 1970.5 1083.5 1970.5 1084.3 1970.5 1085.1 1970.5 1085.9 1970.5 1086.7 1970.5 1087.5 1970.5 1088.3 1970.5 1089.1 1970.5 1089.9 1970.5 1090.3 1970.5 1090.3 1970.5 L1090.3 1970.5Z" fill="#00ccff" fill-opacity="0.41"/>
<path d="M826.6 1970.5 827.4 1970.5 828.2 1970.5 829.0 1970.5 829.8 1970.5 830.6 1970.5 831.4 1970.5 832.2 1970.5 833.0 1970.5 833.8 1970.5 834.6 1970.5 835.4 1970.5 836.2 1970.5 837.0 1970.5 837.8 1970.5 838.6 1970.5 839.4 1970.5 840.2 1970.5 841.0 1970.5 841.8 1970.5 842.6 1970.5 843.4 1970.5 844.2 1970.5 845.0 1970.5 845.8 1970.5 846.6 1970.5 847.4 1970.5 848.2 1970.5 849.0 1970.5 849.8 1970.5 850.6 1970.5 851.4 1970.5 852.2 1970.5 853.0 1970.5 853.8 1970.5 854.6 1970.5 855.4 1970.5 856.2 1970.5 857.0 1970.5 857.8 1970.5 858.6 1970.5 859.4 1970.5 860.2 1970.5 861.0 1970.5 861.8 1970.5 862.6 1970.5 863.4 1970.5 864.2 1970.5 865.0 1970.5 865.8 1970.5 866.6 1970.5 867.4 1970.5 868.2 1970.5 869.0 1970.5 869.8 1970.5 870.6 1970.5 871.4 1970.5 872.2 1970.5 873.0 1970.5 873.8 1970.5 874.6 1970.5 875.4 1970.5 876.2 1970.5 877.0 1970.5 877.8 1970.5 878.6 1970.5 879.4 1970.5 880.2 1970.5 881.0 1970.5 881.8 1970.5 882.6 1970.5 883.4 1970.5 884.2 1970.5 885.0 1970.5 885.8 1970.5 886.6 1970.5 887.4 1970.5 888.2 1970.5 889.0 1970.5 889.8 1970.5 890.6 1970.5 891.4 1970.5 892.2 1970.5 893.0 1970.5 893.8 1970.5 894.6 1970.5 895.4 1970.5 896.2 1970.5 897.0 1970.5 897.8 1970.5 898.6 1970.5 899.4 1970.5 900.2 1970.5 901.0 1970.5 901.8 1970.5 902.6 1970.5 903.4 1970.5 904.2 1970.5 905.0 1970.5 905.8 1970.5 906.6 1970.5 907.4 1970.5 908.2 1970.5 909.0 1970.5 909.8 1970.5 910.6 1970.5 911.4 1970.5 912.2 1970.5 913.0 1970.5 913.8 1970.3 914.6 1967.2 915.4 1961.5 916.2 1954.0 917.0 1942.5 917.8 1928.1 918.6 1908.3 919.4 1885.3 920.2 1860.0 921.0 1832.4 921.8 1812.4 922.6 1796.5 923.4 1784.7 924.2 1781.8 925.0 1788.8 925.8 1801.1 926.6 1816.6 927.5 1839.4 928.3 1860.8 929.1 1879.4 929.9 1895.6 930.7 1907.6 931.5 1917.1 932.3 1923.9 933.1 1928.5 933.9 1932.6 934.7 1936.1 935.5 1937.6 936.3 1937.9 937.1 1939.4 937.9 1940.1 938.7 1942.9 939.5 1943.7 940.3 1941.7 941.1 1942.2 941.9 1941.8 942.7 1942.8 943.5 1943.6 944.3 1944.1 945.1 1945.6 945.9 1943.9 946.7 1945.4 947.5 1944.6 948.3 1945.1 949.1 1945.2 949.9 1944.8 950.7 1946.2 951.5 1946.3 952.3 1946.9 953.1 1946.6 953.9 1945.0 954.7 1946.9 955.5 1945.7 956.3 1946.2 957.1 1946.4 957.9 1946.5 958.7 1948.2 959.5 1947.1 960.3 1946.2 961.1 1948.3 961.9 1947.8 962.7 1948.5 963.5 1947.7 964.3 1949.1 965.1 1946.9 965.9 1948.7 966.7 1949.9 967.5 1947.1 968.3 1947.9 969.1 1948.4 969.9 1948.5 970.7 1949.4 971.5 1949.4 972.3 1948.6 973.1 1948.5 973.9 1948.6 974.7 1949.3 975.5 1949.9 976.3 1949.7 977.1 1948.5 977.9 1948.2 978.7 1949.8 979.5 1949.9 980.3 1948.4 981.1 1948.9 981.9 1948.9 982.7 1950.6 983.5 1949.8 984.3 1950.0 985.1 1949.3 985.9 1951.0 986.7 1948.4 987.5 1949.2 988.3 1949.1 989.1 1950.5 989.9 1949.5 990.7 1948.3 991.5 1950.9 992.3 1949.2 993.1 1948.8 993.9 1949.9 994.7 1948.4 995.5 1949.2 996.3 1947.6 997.1 1947.9 997.9 1947.9 998.7 1946.0 999.5 1946.5 1000.3 1945.3 1001.1 1946.4 1001.9 1944.6 1002.7 1941.8 1003.5 1939.8 1004.3 1938.0 1005.1 1934.8 1005.9 1931.0 1006.7 1926.8 1007.5 1921.5 1008.3 1914.7 1009.1 1906.7 1009.9 1897.8 1010.7 1888.2 1011.5 1877.1 1012.3 1863.9 1013.1 1848.8 1013.9 1830.9 1014.7 1813.0 1015.5 1796.5 1016.3 1780.6 1017.1 1765.8 1017.9 1751.3 1018.7 1738.1 1019.5 1730.1 1020.3 1724.4 1021.1 1720.8 1021.9 1720.9 1022.7 1725.3 1023.5 1732.3 1024.3 1743.1 1025.1 1760.7 1025.9 1778.9 1026.7 1797.3 1027.5 1816.3 1028.3 1834.4 1029.1 1851.8 1029.9 1868.4 1030.7 1883.8 1031.5 1898.4 1032.3 1910.6 1033.1 1920.4 1033.9 1928.5 1034.7 1935.4 1035.5 1941.2 1036.3 1946.0 1037.1 1950.1 1037.9 1954.0 1038.7 1957.9 1039.5 1961.2 1040.3 1963.1 1041.1 1964.6 1041.9 1965.9 1042.7 1967.0 1043.5 1968.2 1044.3 1969.4 1045.1 1970.3 1045.9 1970.5 1046.7 1970.5 1047.5 1970.5 1048.3 1970.5 1049.1 1970.5 1049.9 1970.5 1050.7 1970.5 1051.5 1970.5 1052.3 1970.5 1053.1 1970.5 1053.9 1970.5 1054.7 1970.5 1055.5 1970.5 1056.3 1970.5 1057.1 1970.5 1057.9 1970.5 1058.7 1970.5 1059.5 1970.5 1060.3 1970.5 1061.1 1970.5 1061.9 1970.5 1062.7 1970.5 1063.5 1970.5 1064.3 1970.5 1065.1 1970.5 1065.9 1970.5 1066.7 1970.5 1067.5 1970.5 1068.3 1970.5 1069.1 1970.5 1069.9 1970.5 1070.7 1970.5 1071.5 1970.5 1072.3 1970.5 1073.1 1970.5 1073.9 1970.5 1074.7 1970.5 1075.5 1970.5 1076.3 1970.5 1077.1 1970.5 1077.9 1970.5 1078.7 1970.5 1079.5 1970.5 1080.3 1970.5 1081.1 1970.5 1081.9 1970.5 1082.7 1970.5 1083.5 1970.5 1084.3 1970.5 1085.1 1970.5 1085.9 1970.5 1086.7 1970.5 1087.5 1970.5 1088.3 1970.5 1089.1 1970.5 1089.9 1970.5 1090.3 1970.5 1090.3 1970.5" fill="none" stroke="#00c8fa" stroke-width="1.6" stroke-linejoin="round"/>
<path d="M826.6 1970.5 L826.6 1970.5 827.4 1970.5 828.2 1970.5 829.0 1970.5 829.8 1970.5 830.6 1970.5 831.4 1970.5 832.2 1970.5 833.0 1970.5 833.8 1970.5 834.6 1970.5 835.4 1970.5 836.2 1970.5 837.0 1970.5 837.8 1970.5 838.6 1970.5 839.4 1970.5 840.2 1970.5 841.0 1970.5 841.8 1970.5 842.6 1970.5 843.4 1970.5 844.2 1970.5 845.0 1970.5 845.8 1970.5 846.6 1970.5 847.4 1970.5 848.2 1970.5 849.0 1970.5 849.8 1970.5 850.6 1970.5 851.4 1970.5 852.2 1970.5 853.0 1970.5 853.8 1970.5 854.6 1970.5 855.4 1970.5 856.2 1970.5 857.0 1970.5 857.8 1970.5 858.6 1970.5 859.4 1970.5 860.2 1970.5 861.0 1970.5 861.8 1970.5 862.6 1970.5 863.4 1970.5 864.2 1970.5 865.0 1970.5 865.8 1970.5 866.6 1970.5 867.4 1970.5 868.2 1970.5 869.0 1970.5 869.8 1970.5 870.6 1970.5 871.4 1970.5 872.2 1970.5 873.0 1970.5 873.8 1970.5 874.6 1970.5 875.4 1970.5 876.2 1970.5 877.0 1970.5 877.8 1970.5 878.6 1970.5 879.4 1970.5 880.2 1970.5 881.0 1970.5 881.8 1970.5 882.6 1970.5 883.4 1970.5 884.2 1970.5 885.0 1970.5 885.8 1970.5 886.6 1970.5 887.4 1970.5 888.2 1970.5 889.0 1970.5 889.8 1970.5 890.6 1970.5 891.4 1970.5 892.2 1970.5 893.0 1970.5 893.8 1970.5 894.6 1970.5 895.4 1970.5 896.2 1970.5 897.0 1970.5 897.8 1970.5 898.6 1970.5 899.4 1970.5 900.2 1970.5 901.0 1970.5 901.8 1970.5 902.6 1970.5 903.4 1970.5 904.2 1970.5 905.0 1970.5 905.8 1970.5 906.6 1970.5 907.4 1970.5 908.2 1970.5 909.0 1970.5 909.8 1970.5 910.6 1970.5 911.4 1970.5 912.2 1970.5 913.0 1970.5 913.8 1970.3 914.6 1965.9 915.4 1958.4 916.2 1949.6 917.0 1937.3 917.8 1922.9 918.6 1905.1 919.4 1884.7 920.2 1862.0 921.0 1837.0 921.8 1817.5 922.6 1800.9 923.4 1795.9 924.2 1803.1 925.0 1815.0 925.8 1830.6 926.6 1850.7 927.5 1867.9 928.3 1883.1 929.1 1895.7 929.9 1905.5 930.7 1913.4 931.5 1917.3 932.3 1919.6 933.1 1920.2 933.9 1922.8 934.7 1920.9 935.5 1922.1 936.3 1919.6 937.1 1920.0 937.9 1919.5 938.7 1917.8 939.5 1914.9 940.3 1917.7 941.1 1916.8 941.9 1914.5 942.7 1916.1 943.5 1913.2 944.3 1914.9 945.1 1914.8 945.9 1914.3 946.7 1912.4 947.5 1913.4 948.3 1913.2 949.1 1913.2 949.9 1915.0 950.7 1914.0 951.5 1910.9 952.3 1911.8 953.1 1912.6 953.9 1913.1 954.7 1915.2 955.5 1914.9 956.3 1917.1 957.1 1916.0 957.9 1917.9 958.7 1917.7 959.5 1917.3 960.3 1918.7 961.1 1918.0 961.9 1918.7 962.7 1919.3 963.5 1918.7 964.3 1922.6 965.1 1923.3 965.9 1921.2 966.7 1921.4 967.5 1920.7 968.3 1922.9 969.1 1923.5 969.9 1926.3 970.7 1925.0 971.5 1925.9 972.3 1928.8 973.1 1929.4 973.9 1929.3 974.7 1929.7 975.5 1934.4 976.3 1931.5 977.1 1932.1 977.9 1933.3 978.7 1933.6 979.5 1934.1 980.3 1936.6 981.1 1935.5 981.9 1937.0 982.7 1938.4 983.5 1937.6 984.3 1936.6 985.1 1940.9 985.9 1941.7 986.7 1942.2 987.5 1938.1 988.3 1941.0 989.1 1940.8 989.9 1941.6 990.7 1941.6 991.5 1942.6 992.3 1939.6 993.1 1939.0 993.9 1941.3 994.7 1939.3 995.5 1937.7 996.3 1935.2 997.1 1932.9 997.9 1929.6 998.7 1926.8 999.5 1924.0 1000.3 1919.4 1001.1 1917.3 1001.9 1910.8 1002.7 1902.6 1003.5 1896.4 1004.3 1888.2 1005.1 1879.2 1005.9 1870.3 1006.7 1860.6 1007.5 1850.7 1008.3 1842.4 1009.1 1836.6 1009.9 1831.8 1010.7 1828.2 1011.5 1826.5 1012.3 1825.6 1013.1 1825.3 1013.9 1828.4 1014.7 1834.0 1015.5 1842.6 1016.3 1854.3 1017.1 1866.2 1017.9 1879.1 1018.7 1891.8 1019.5 1903.7 1020.3 1914.9 1021.1 1924.3 1021.9 1932.7 1022.7 1939.0 1023.5 1943.2 1024.3 1946.6 1025.1 1949.4 1025.9 1951.8 1026.7 1954.0 1027.5 1955.9 1028.3 1957.5 1029.1 1958.9 1029.9 1960.2 1030.7 1961.3 1031.5 1962.3 1032.3 1963.1 1033.1 1963.8 1033.9 1964.4 1034.7 1964.9 1035.5 1965.4 1036.3 1965.8 1037.1 1966.2 1037.9 1966.6 1038.7 1967.0 1039.5 1967.4 1040.3 1967.9 1041.1 1968.3 1041.9 1968.8 1042.7 1969.3 1043.5 1969.7 1044.3 1970.0 1045.1 1970.3 1045.9 1970.4 1046.7 1970.5 1047.5 1970.5 1048.3 1970.5 1049.1 1970.5 1049.9 1970.5 1050.7 1970.5 1051.5 1970.5 1052.3 1970.5 1053.1 1970.5 1053.9 1970.5 1054.7 1970.5 1055.5 1970.5 1056.3 1970.5 1057.1 1970.5 1057.9 1970.5 1058.7 1970.5 1059.5 1970.5 1060.3 1970.5 1061.1 1970.5 1061.9 1970.5 1062.7 1970.5 1063.5 1970.5 1064.3 1970.5 1065.1 1970.5 1065.9 1970.5 1066.7 1970.5 1067.5 1970.5 1068.3 1970.5 1069.1 1970.5 1069.9 1970.5 1070.7 1970.5 1071.5 1970.5 1072.3 1970.5 1073.1 1970.5 1073.9 1970.5 1074.7 1970.5 1075.5 1970.5 1076.3 1970.5 1077.1 1970.5 1077.9 1970.5 1078.7 1970.5 1079.5 1970.5 1080.3 1970.5 1081.1 1970.5 1081.9 1970.5 1082.7 1970.5 1083.5 1970.5 1084.3 1970.5 1085.1 1970.5 1085.9 1970.5 1086.7 1970.5 1087.5 1970.5 1088.3 1970.5 1089.1 1970.5 1089.9 1970.5 1090.3 1970.5 1090.3 1970.5 L1090.3 1970.5Z" fill="#ff3333" fill-opacity="0.38"/>
<path d="M826.6 1970.5 827.4 1970.5 828.2 1970.5 829.0 1970.5 829.8 1970.5 830.6 1970.5 831.4 1970.5 832.2 1970.5 833.0 1970.5 833.8 1970.5 834.6 1970.5 835.4 1970.5 836.2 1970.5 837.0 1970.5 837.8 1970.5 838.6 1970.5 839.4 1970.5 840.2 1970.5 841.0 1970.5 841.8 1970.5 842.6 1970.5 843.4 1970.5 844.2 1970.5 845.0 1970.5 845.8 1970.5 846.6 1970.5 847.4 1970.5 848.2 1970.5 849.0 1970.5 849.8 1970.5 850.6 1970.5 851.4 1970.5 852.2 1970.5 853.0 1970.5 853.8 1970.5 854.6 1970.5 855.4 1970.5 856.2 1970.5 857.0 1970.5 857.8 1970.5 858.6 1970.5 859.4 1970.5 860.2 1970.5 861.0 1970.5 861.8 1970.5 862.6 1970.5 863.4 1970.5 864.2 1970.5 865.0 1970.5 865.8 1970.5 866.6 1970.5 867.4 1970.5 868.2 1970.5 869.0 1970.5 869.8 1970.5 870.6 1970.5 871.4 1970.5 872.2 1970.5 873.0 1970.5 873.8 1970.5 874.6 1970.5 875.4 1970.5 876.2 1970.5 877.0 1970.5 877.8 1970.5 878.6 1970.5 879.4 1970.5 880.2 1970.5 881.0 1970.5 881.8 1970.5 882.6 1970.5 883.4 1970.5 884.2 1970.5 885.0 1970.5 885.8 1970.5 886.6 1970.5 887.4 1970.5 888.2 1970.5 889.0 1970.5 889.8 1970.5 890.6 1970.5 891.4 1970.5 892.2 1970.5 893.0 1970.5 893.8 1970.5 894.6 1970.5 895.4 1970.5 896.2 1970.5 897.0 1970.5 897.8 1970.5 898.6 1970.5 899.4 1970.5 900.2 1970.5 901.0 1970.5 901.8 1970.5 902.6 1970.5 903.4 1970.5 904.2 1970.5 905.0 1970.5 905.8 1970.5 906.6 1970.5 907.4 1970.5 908.2 1970.5 909.0 1970.5 909.8 1970.5 910.6 1970.5 911.4 1970.5 912.2 1970.5 913.0 1970.5 913.8 1970.3 914.6 1965.9 915.4 1958.4 916.2 1949.6 917.0 1937.3 917.8 1922.9 918.6 1905.1 919.4 1884.7 920.2 1862.0 921.0 1837.0 921.8 1817.5 922.6 1800.9 923.4 1795.9 924.2 1803.1 925.0 1815.0 925.8 1830.6 926.6 1850.7 927.5 1867.9 928.3 1883.1 929.1 1895.7 929.9 1905.5 930.7 1913.4 931.5 1917.3 932.3 1919.6 933.1 1920.2 933.9 1922.8 934.7 1920.9 935.5 1922.1 936.3 1919.6 937.1 1920.0 937.9 1919.5 938.7 1917.8 939.5 1914.9 940.3 1917.7 941.1 1916.8 941.9 1914.5 942.7 1916.1 943.5 1913.2 944.3 1914.9 945.1 1914.8 945.9 1914.3 946.7 1912.4 947.5 1913.4 948.3 1913.2 949.1 1913.2 949.9 1915.0 950.7 1914.0 951.5 1910.9 952.3 1911.8 953.1 1912.6 953.9 1913.1 954.7 1915.2 955.5 1914.9 956.3 1917.1 957.1 1916.0 957.9 1917.9 958.7 1917.7 959.5 1917.3 960.3 1918.7 961.1 1918.0 961.9 1918.7 962.7 1919.3 963.5 1918.7 964.3 1922.6 965.1 1923.3 965.9 1921.2 966.7 1921.4 967.5 1920.7 968.3 1922.9 969.1 1923.5 969.9 1926.3 970.7 1925.0 971.5 1925.9 972.3 1928.8 973.1 1929.4 973.9 1929.3 974.7 1929.7 975.5 1934.4 976.3 1931.5 977.1 1932.1 977.9 1933.3 978.7 1933.6 979.5 1934.1 980.3 1936.6 981.1 1935.5 981.9 1937.0 982.7 1938.4 983.5 1937.6 984.3 1936.6 985.1 1940.9 985.9 1941.7 986.7 1942.2 987.5 1938.1 988.3 1941.0 989.1 1940.8 989.9 1941.6 990.7 1941.6 991.5 1942.6 992.3 1939.6 993.1 1939.0 993.9 1941.3 994.7 1939.3 995.5 1937.7 996.3 1935.2 997.1 1932.9 997.9 1929.6 998.7 1926.8 999.5 1924.0 1000.3 1919.4 1001.1 1917.3 1001.9 1910.8 1002.7 1902.6 1003.5 1896.4 1004.3 1888.2 1005.1 1879.2 1005.9 1870.3 1006.7 1860.6 1007.5 1850.7 1008.3 1842.4 1009.1 1836.6 1009.9 1831.8 1010.7 1828.2 1011.5 1826.5 1012.3 1825.6 1013.1 1825.3 1013.9 1828.4 1014.7 1834.0 1015.5 1842.6 1016.3 1854.3 1017.1 1866.2 1017.9 1879.1 1018.7 1891.8 1019.5 1903.7 1020.3 1914.9 1021.1 1924.3 1021.9 1932.7 1022.7 1939.0 1023.5 1943.2 1024.3 1946.6 1025.1 1949.4 1025.9 1951.8 1026.7 1954.0 1027.5 1955.9 1028.3 1957.5 1029.1 1958.9 1029.9 1960.2 1030.7 1961.3 1031.5 1962.3 1032.3 1963.1 1033.1 1963.8 1033.9 1964.4 1034.7 1964.9 1035.5 1965.4 1036.3 1965.8 1037.1 1966.2 1037.9 1966.6 1038.7 1967.0 1039.5 1967.4 1040.3 1967.9 1041.1 1968.3 1041.9 1968.8 1042.7 1969.3 1043.5 1969.7 1044.3 1970.0 1045.1 1970.3 1045.9 1970.4 1046.7 1970.5 1047.5 1970.5 1048.3 1970.5 1049.1 1970.5 1049.9 1970.5 1050.7 1970.5 1051.5 1970.5 1052.3 1970.5 1053.1 1970.5 1053.9 1970.5 1054.7 1970.5 1055.5 1970.5 1056.3 1970.5 1057.1 1970.5 1057.9 1970.5 1058.7 1970.5 1059.5 1970.5 1060.3 1970.5 1061.1 1970.5 1061.9 1970.5 1062.7 1970.5 1063.5 1970.5 1064.3 1970.5 1065.1 1970.5 1065.9 1970.5 1066.7 1970.5 1067.5 1970.5 1068.3 1970.5 1069.1 1970.5 1069.9 1970.5 1070.7 1970.5 1071.5 1970.5 1072.3 1970.5 1073.1 1970.5 1073.9 1970.5 1074.7 1970.5 1075.5 1970.5 1076.3 1970.5 1077.1 1970.5 1077.9 1970.5 1078.7 1970.5 1079.5 1970.5 1080.3 1970.5 1081.1 1970.5 1081.9 1970.5 1082.7 1970.5 1083.5 1970.5 1084.3 1970.5 1085.1 1970.5 1085.9 1970.5 1086.7 1970.5 1087.5 1970.5 1088.3 1970.5 1089.1 1970.5 1089.9 1970.5 1090.3 1970.5 1090.3 1970.5" fill="none" stroke="#f93535" stroke-width="1.6" stroke-linejoin="round"/>
<line x1="825.2" y1="1707.8" x2="825.2" y2="1971.5" stroke="#888" stroke-width="1"/>
<line x1="821.7" y1="1970.5" x2="825.2" y2="1970.5" stroke="#111" stroke-width="0.9"/>
<line x1="821.7" y1="1953.0" x2="825.2" y2="1953.0" stroke="#111" stroke-width="0.9"/>
<line x1="821.7" y1="1935.5" x2="825.2" y2="1935.5" stroke="#111" stroke-width="0.9"/>
<line x1="821.7" y1="1918.0" x2="825.2" y2="1918.0" stroke="#111" stroke-width="0.9"/>
<line x1="821.7" y1="1900.5" x2="825.2" y2="1900.5" stroke="#111" stroke-width="0.9"/>
<line x1="821.7" y1="1883.0" x2="825.2" y2="1883.0" stroke="#111" stroke-width="0.9"/>
<line x1="821.7" y1="1865.5" x2="825.2" y2="1865.5" stroke="#111" stroke-width="0.9"/>
<line x1="821.7" y1="1848.0" x2="825.2" y2="1848.0" stroke="#111" stroke-width="0.9"/>
<line x1="821.7" y1="1830.5" x2="825.2" y2="1830.5" stroke="#111" stroke-width="0.9"/>
<line x1="821.7" y1="1813.0" x2="825.2" y2="1813.0" stroke="#111" stroke-width="0.9"/>
<line x1="821.7" y1="1795.5" x2="825.2" y2="1795.5" stroke="#111" stroke-width="0.9"/>
<line x1="821.7" y1="1778.0" x2="825.2" y2="1778.0" stroke="#111" stroke-width="0.9"/>
<line x1="821.7" y1="1760.5" x2="825.2" y2="1760.5" stroke="#111" stroke-width="0.9"/>
<line x1="821.7" y1="1743.0" x2="825.2" y2="1743.0" stroke="#111" stroke-width="0.9"/>
<line x1="821.7" y1="1725.5" x2="825.2" y2="1725.5" stroke="#111" stroke-width="0.9"/>
<line x1="817.7" y1="1970.5" x2="825.2" y2="1970.5" stroke="#111" stroke-width="1.6"/>
<text x="815.7" y="1974.2" font-size="16.3" text-anchor="end" fill="#111" >0</text>
<line x1="817.7" y1="1918.0" x2="825.2" y2="1918.0" stroke="#111" stroke-width="1.6"/>
<text x="815.7" y="1921.7" font-size="16.3" text-anchor="end" fill="#111" >0.003</text>
<line x1="817.7" y1="1865.5" x2="825.2" y2="1865.5" stroke="#111" stroke-width="1.6"/>
<text x="815.7" y="1869.2" font-size="16.3" text-anchor="end" fill="#111" >0.006</text>
<line x1="817.7" y1="1813.0" x2="825.2" y2="1813.0" stroke="#111" stroke-width="1.6"/>
<text x="815.7" y="1816.7" font-size="16.3" text-anchor="end" fill="#111" >0.009</text>
<line x1="817.7" y1="1760.5" x2="825.2" y2="1760.5" stroke="#111" stroke-width="1.6"/>
<text x="815.7" y="1764.2" font-size="16.3" text-anchor="end" fill="#111" >0.012</text>
<line x1="826.6" y1="1970.5" x2="826.6" y2="1978.5" stroke="#111" stroke-width="1.6"/>
<line x1="836.6" y1="1970.5" x2="836.6" y2="1974.5" stroke="#111" stroke-width="0.9"/>
<line x1="846.6" y1="1970.5" x2="846.6" y2="1974.5" stroke="#111" stroke-width="0.9"/>
<line x1="856.6" y1="1970.5" x2="856.6" y2="1974.5" stroke="#111" stroke-width="0.9"/>
<line x1="866.6" y1="1970.5" x2="866.6" y2="1974.5" stroke="#111" stroke-width="0.9"/>
<line x1="876.6" y1="1970.5" x2="876.6" y2="1978.5" stroke="#111" stroke-width="1.6"/>
<line x1="886.6" y1="1970.5" x2="886.6" y2="1974.5" stroke="#111" stroke-width="0.9"/>
<line x1="896.6" y1="1970.5" x2="896.6" y2="1974.5" stroke="#111" stroke-width="0.9"/>
<line x1="906.6" y1="1970.5" x2="906.6" y2="1974.5" stroke="#111" stroke-width="0.9"/>
<line x1="916.6" y1="1970.5" x2="916.6" y2="1974.5" stroke="#111" stroke-width="0.9"/>
<line x1="926.6" y1="1970.5" x2="926.6" y2="1978.5" stroke="#111" stroke-width="1.6"/>
<line x1="936.7" y1="1970.5" x2="936.7" y2="1974.5" stroke="#111" stroke-width="0.9"/>
<line x1="946.7" y1="1970.5" x2="946.7" y2="1974.5" stroke="#111" stroke-width="0.9"/>
<line x1="956.7" y1="1970.5" x2="956.7" y2="1974.5" stroke="#111" stroke-width="0.9"/>
<line x1="966.7" y1="1970.5" x2="966.7" y2="1974.5" stroke="#111" stroke-width="0.9"/>
<line x1="976.7" y1="1970.5" x2="976.7" y2="1978.5" stroke="#111" stroke-width="1.6"/>
<line x1="986.7" y1="1970.5" x2="986.7" y2="1974.5" stroke="#111" stroke-width="0.9"/>
<line x1="996.7" y1="1970.5" x2="996.7" y2="1974.5" stroke="#111" stroke-width="0.9"/>
<line x1="1006.7" y1="1970.5" x2="1006.7" y2="1974.5" stroke="#111" stroke-width="0.9"/>
<line x1="1016.7" y1="1970.5" x2="1016.7" y2="1974.5" stroke="#111" stroke-width="0.9"/>
<line x1="1026.7" y1="1970.5" x2="1026.7" y2="1978.5" stroke="#111" stroke-width="1.6"/>
<line x1="1036.7" y1="1970.5" x2="1036.7" y2="1974.5" stroke="#111" stroke-width="0.9"/>
<line x1="1046.7" y1="1970.5" x2="1046.7" y2="1974.5" stroke="#111" stroke-width="0.9"/>
<line x1="1056.7" y1="1970.5" x2="1056.7" y2="1974.5" stroke="#111" stroke-width="0.9"/>
<line x1="1066.7" y1="1970.5" x2="1066.7" y2="1974.5" stroke="#111" stroke-width="0.9"/>
<line x1="1076.7" y1="1970.5" x2="1076.7" y2="1978.5" stroke="#111" stroke-width="1.6"/>
<line x1="1086.7" y1="1970.5" x2="1086.7" y2="1974.5" stroke="#111" stroke-width="0.9"/>
<text x="826.6" y="1994.6" font-size="16.2" text-anchor="middle" fill="#111" >0</text>
<text x="876.6" y="1994.6" font-size="16.2" text-anchor="middle" fill="#111" >50K</text>
<text x="926.6" y="1994.6" font-size="16.2" text-anchor="middle" fill="#111" >100K</text>
<text x="976.7" y="1994.6" font-size="16.2" text-anchor="middle" fill="#111" >150K</text>
<text x="1026.7" y="1994.6" font-size="16.2" text-anchor="middle" fill="#111" >200K</text>
<text x="1076.7" y="1994.6" font-size="16.2" text-anchor="middle" fill="#111" >250K</text>
<text x="957.8" y="1696.4" font-size="19.6" text-anchor="middle" fill="#000" >20 <tspan font-style="italic">μ</tspan>M</text>
<text x="957.8" y="2012.8" font-size="19.8" text-anchor="middle" fill="#000" >DNA content (SYTOX green)</text>
<text transform="translate(769.5,1839.7) rotate(-90)" font-size="19.8" text-anchor="middle">Unit Area</text>
<rect x="1106.7" y="1810.2" width="20" height="19.7" fill="#ff3333"/>
<rect x="1106.7" y="1843.2" width="20" height="20" fill="#00ccff"/>
<text x="1142.8" y="1827.6" font-size="19.5" text-anchor="start" fill="#000" >BrdU</text>
<text x="1142.8" y="1860.8" font-size="19.5" text-anchor="start" fill="#000" >DMSO</text></svg></body></html>
